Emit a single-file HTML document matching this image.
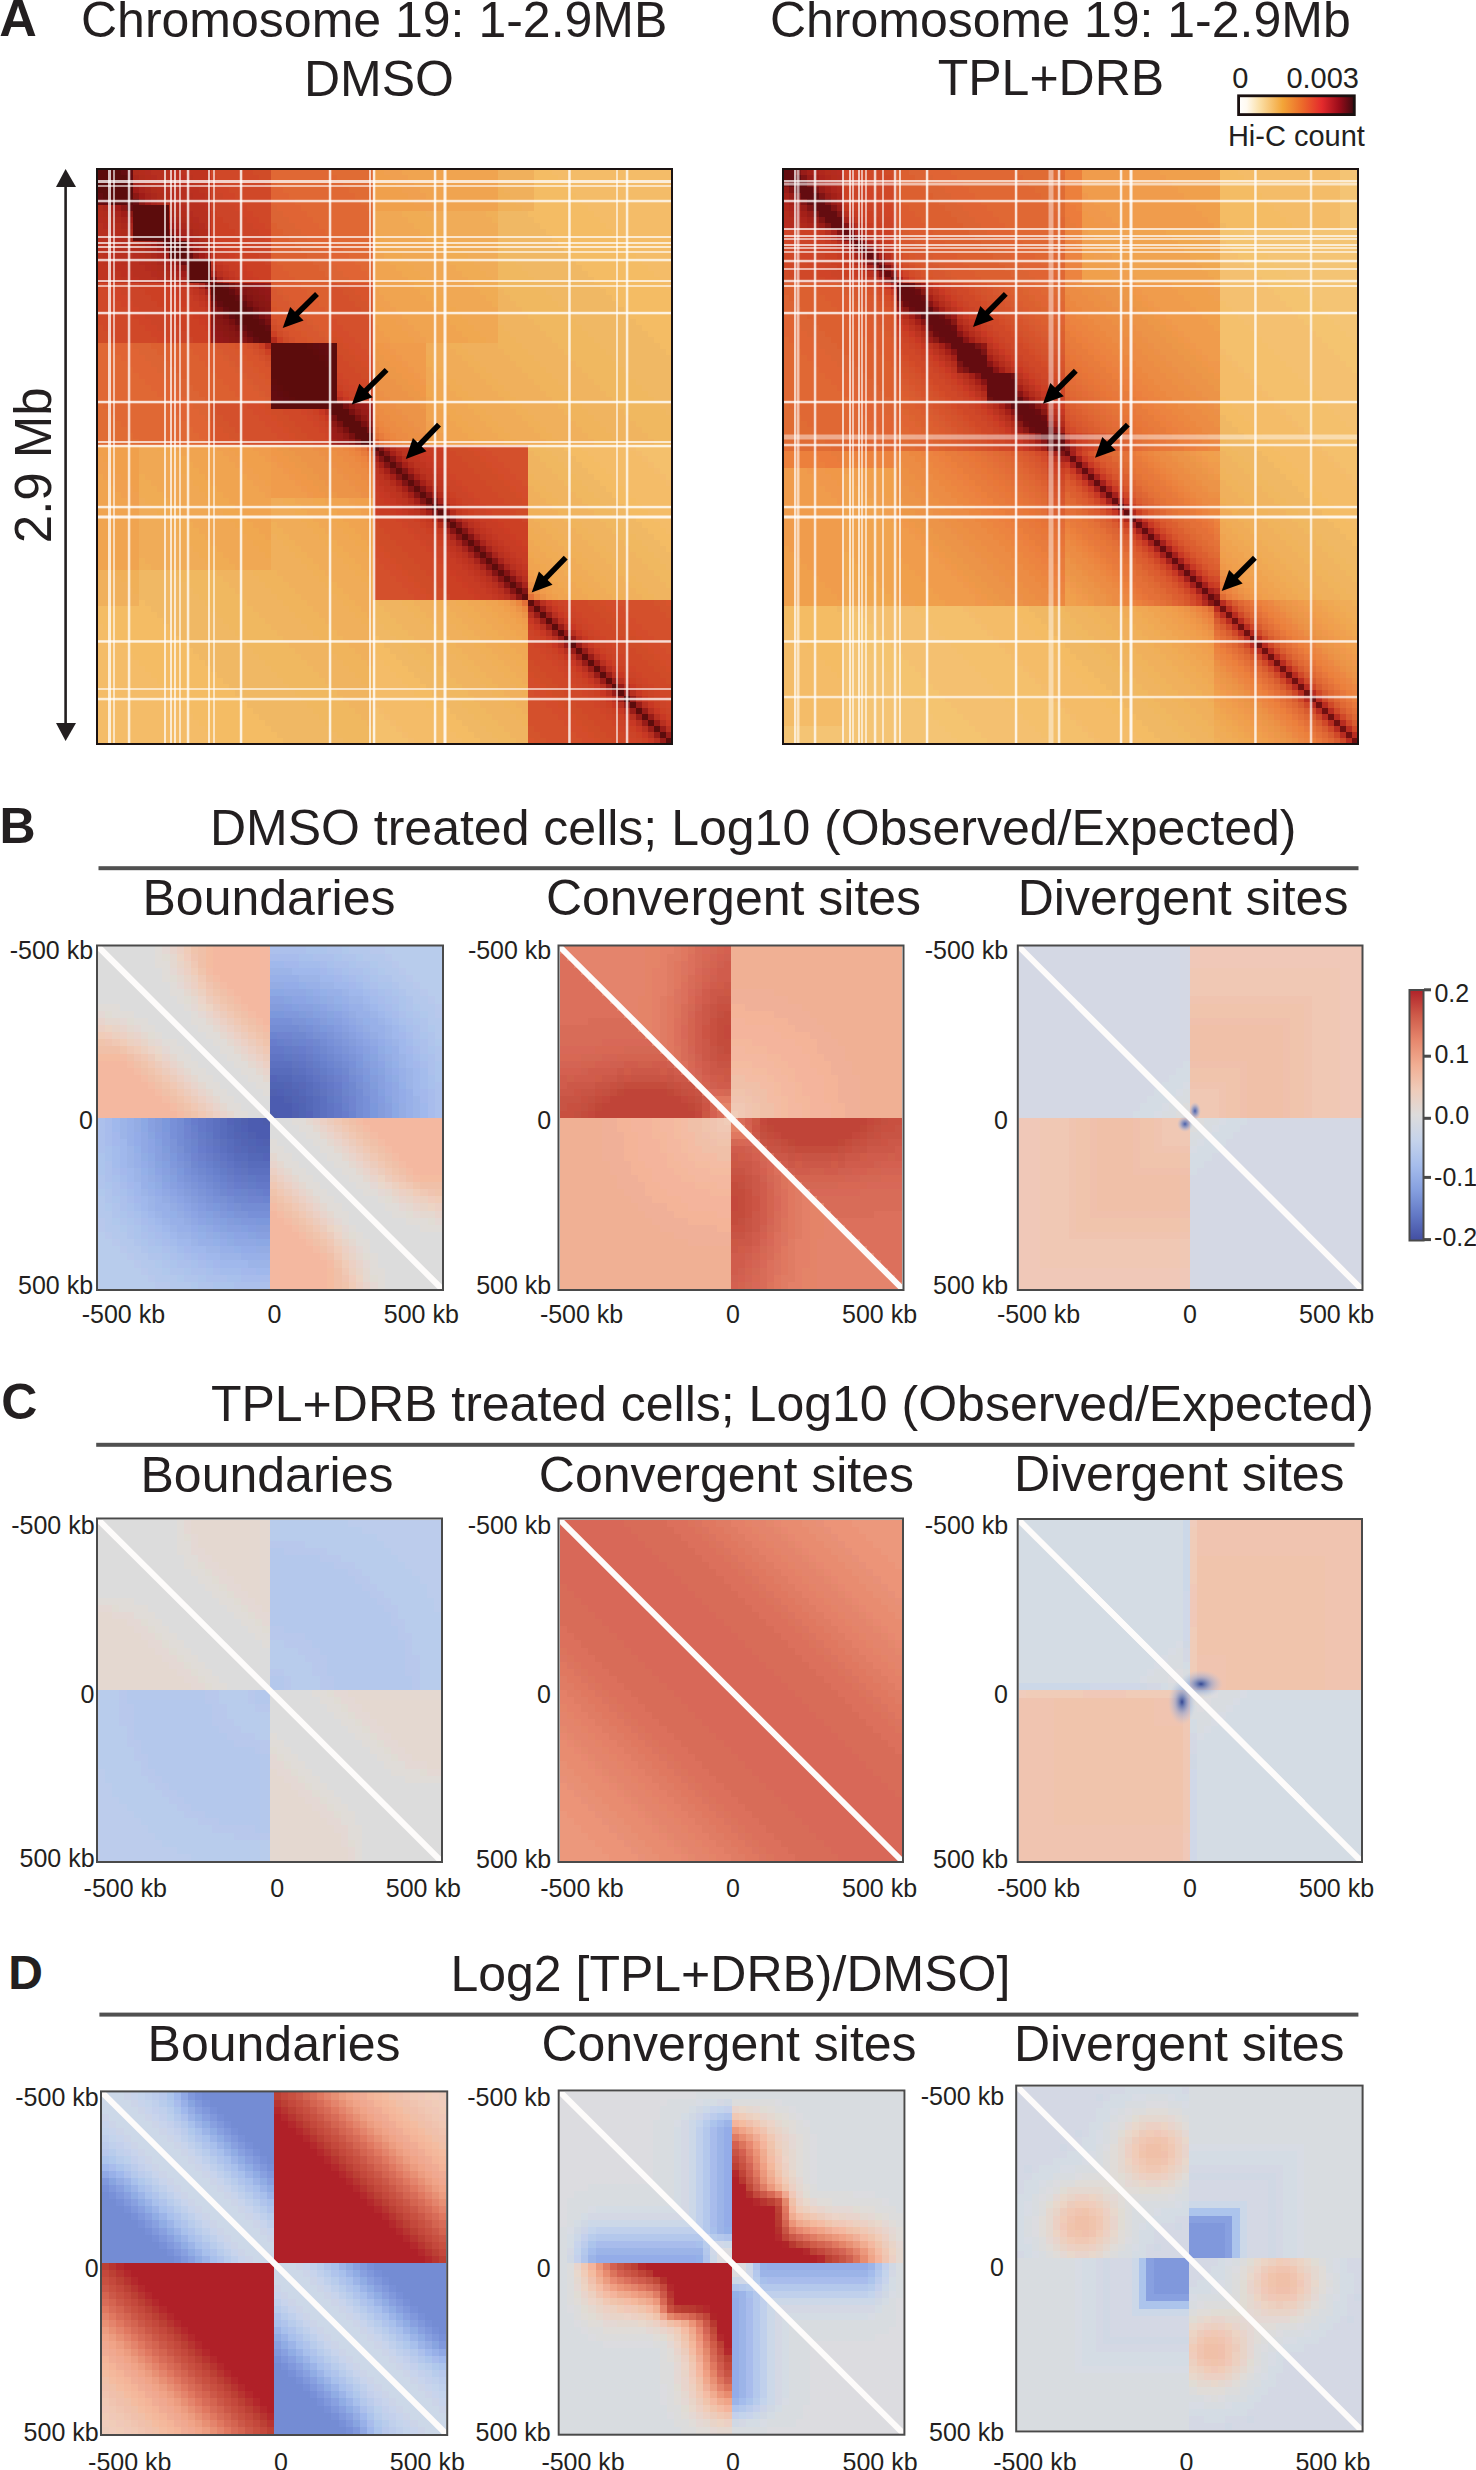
<!DOCTYPE html>
<html><head><meta charset="utf-8"><style>
html,body{margin:0;padding:0;background:#fff;}
svg{display:block;}
text{font-family:"Liberation Sans",sans-serif;}
</style></head><body>
<svg width="1476" height="2470" viewBox="0 0 1476 2470">
<rect width="1476" height="2470" fill="#fff"/>
<text x="-0.8" y="36.3" font-size="52" font-weight="bold" fill="#231f20">A</text>
<text x="81.0" y="36.5" font-size="50" fill="#231f20">Chromosome 19: 1-2.9MB</text>
<text x="303.9" y="95.6" font-size="50" fill="#231f20">DMSO</text>
<text x="769.9" y="37.0" font-size="50" fill="#231f20">Chromosome 19: 1-2.9Mb</text>
<text x="937.7" y="95.2" font-size="50" fill="#231f20">TPL+DRB</text>
<text x="1232.3" y="88.0" font-size="29" fill="#231f20">0</text>
<text x="1286.4" y="88.0" font-size="29" fill="#231f20">0.003</text>
<text x="1227.9" y="146.2" font-size="29" fill="#231f20">Hi-C count</text>
<defs><linearGradient id="hic" x1="0" x2="1" y1="0" y2="0">
<stop offset="0" stop-color="#ffffff"/><stop offset="0.07" stop-color="#fffaf0"/>
<stop offset="0.18" stop-color="#fbe0a8"/><stop offset="0.38" stop-color="#f3a538"/>
<stop offset="0.55" stop-color="#ec6a2a"/><stop offset="0.72" stop-color="#e42a2c"/>
<stop offset="0.87" stop-color="#9a0c1a"/><stop offset="1" stop-color="#3a0a10"/>
</linearGradient></defs>
<rect x="1238.6" y="95.8" width="115.7" height="18.8" fill="url(#hic)" stroke="#1a1010" stroke-width="2.8"/>
<line x1="65.6" y1="180" x2="65.6" y2="730" stroke="#231f20" stroke-width="2.6"/>
<path d="M65.6 169 L56 187 L76 187 Z" fill="#231f20"/>
<path d="M65.6 741 L56 723 L76 723 Z" fill="#231f20"/>
<text x="0" y="0" font-size="51" fill="#231f20" transform="translate(32.3,465.0) rotate(-90) translate(-78.2,18.2)">2.9 Mb</text>
<text x="-0.5" y="842.7" font-size="50" font-weight="bold" fill="#231f20">B</text>
<text x="209.9" y="845.0" font-size="50" fill="#231f20">DMSO treated cells; Log10 (Observed/Expected)</text>
<rect x="98.5" y="866.2" width="1260" height="4" fill="#505050"/>
<text x="142.5" y="915.4" font-size="50" fill="#231f20">Boundaries</text>
<text x="545.9" y="915.0" font-size="50" fill="#231f20">Convergent sites</text>
<text x="1017.7" y="914.6" font-size="50" fill="#231f20">Divergent sites</text>
<text x="1.3" y="1418.5" font-size="50" font-weight="bold" fill="#231f20">C</text>
<text x="210.9" y="1421.3" font-size="50" fill="#231f20">TPL+DRB treated cells; Log10 (Observed/Expected)</text>
<rect x="96.2" y="1442.8" width="1258.3" height="4" fill="#505050"/>
<text x="140.5" y="1491.7" font-size="50" fill="#231f20">Boundaries</text>
<text x="538.8" y="1491.8" font-size="50" fill="#231f20">Convergent sites</text>
<text x="1013.9" y="1490.6" font-size="50" fill="#231f20">Divergent sites</text>
<text x="8.2" y="1988.5" font-size="48" font-weight="bold" fill="#231f20">D</text>
<text x="450.4" y="1991.3" font-size="50" fill="#231f20">Log2 [TPL+DRB)/DMSO]</text>
<rect x="99.4" y="2012.6" width="1259" height="4" fill="#505050"/>
<text x="147.6" y="2060.8" font-size="50" fill="#231f20">Boundaries</text>
<text x="541.4" y="2060.8" font-size="50" fill="#231f20">Convergent sites</text>
<text x="1013.9" y="2060.8" font-size="50" fill="#231f20">Divergent sites</text>
<g shape-rendering="crispEdges"><path fill="#dcdcdc" d="M98 946h57v8h-57zM98 954h57v7h-57zM98 961h57v7h-57zM98 968h64v7h-64zM98 975h64v7h-64zM98 982h72v7h-72zM98 989h72v7h-72zM98 996h79v8h-79zM120 1004h64v7h-64zM134 1011h57v7h-57zM148 1018h43v7h-43zM155 1025h43v7h-43zM162 1032h44v7h-44zM177 1039h36v7h-36zM184 1046h36v8h-36zM191 1054h36v7h-36zM198 1061h36v7h-36zM206 1068h35v7h-35zM213 1075h35v7h-35zM220 1082h36v7h-36zM227 1089h36v7h-36zM234 1096h36v7h-36zM241 1103h29v8h-29zM248 1111h22v7h-22zM270 1118h22v7h-22zM270 1125h29v7h-29zM270 1132h36v7h-36zM277 1139h36v7h-36zM284 1146h36v7h-36zM292 1153h35v8h-35zM299 1161h35v7h-35zM306 1168h36v7h-36zM313 1175h36v7h-36zM320 1182h36v7h-36zM327 1189h36v7h-36zM334 1196h44v7h-44zM342 1203h43v8h-43zM349 1211h43v7h-43zM349 1218h57v7h-57zM356 1225h64v7h-64zM363 1232h79v7h-79zM370 1239h72v7h-72zM370 1246h72v7h-72zM378 1253h64v7h-64zM378 1260h64v8h-64zM385 1268h57v7h-57zM385 1275h57v7h-57zM385 1282h57v7h-57z"/><path fill="#e0dcd8" d="M155 946h7v8h-7zM155 954h7v7h-7zM155 961h15v7h-15zM162 968h8v7h-8zM162 975h8v7h-8zM170 982h7v7h-7zM170 989h14v7h-14zM177 996h7v8h-7zM98 1004h22v7h-22zM184 1004h7v7h-7zM112 1011h22v7h-22zM191 1011h7v7h-7zM134 1018h14v7h-14zM191 1018h15v7h-15zM141 1025h14v7h-14zM198 1025h15v7h-15zM155 1032h7v7h-7zM206 1032h14v7h-14zM162 1039h15v7h-15zM213 1039h14v7h-14zM170 1046h14v8h-14zM220 1046h14v8h-14zM177 1054h14v7h-14zM227 1054h14v7h-14zM184 1061h14v7h-14zM234 1061h14v7h-14zM191 1068h15v7h-15zM241 1068h15v7h-15zM198 1075h15v7h-15zM248 1075h15v7h-15zM206 1082h14v7h-14zM256 1082h14v7h-14zM213 1089h14v7h-14zM263 1089h7v7h-7zM220 1096h14v7h-14zM227 1103h14v8h-14zM234 1111h14v7h-14zM292 1118h14v7h-14zM299 1125h14v7h-14zM306 1132h14v7h-14zM270 1139h7v7h-7zM313 1139h14v7h-14zM270 1146h14v7h-14zM320 1146h14v7h-14zM277 1153h15v8h-15zM327 1153h15v8h-15zM284 1161h15v7h-15zM334 1161h15v7h-15zM292 1168h14v7h-14zM342 1168h14v7h-14zM299 1175h14v7h-14zM349 1175h14v7h-14zM306 1182h14v7h-14zM356 1182h14v7h-14zM313 1189h14v7h-14zM363 1189h15v7h-15zM320 1196h14v7h-14zM378 1196h7v7h-7zM327 1203h15v8h-15zM385 1203h14v8h-14zM334 1211h15v7h-15zM392 1211h14v7h-14zM342 1218h7v7h-7zM406 1218h22v7h-22zM349 1225h7v7h-7zM420 1225h22v7h-22zM356 1232h7v7h-7zM356 1239h14v7h-14zM363 1246h7v7h-7zM370 1253h8v7h-8zM370 1260h8v8h-8zM370 1268h15v7h-15zM378 1275h7v7h-7zM378 1282h7v7h-7z"/><path fill="#e4d8d4" d="M162 946h8v8h-8zM170 968h7v7h-7zM177 982h7v7h-7zM191 1004h7v7h-7zM98 1011h7v7h-7zM198 1011h8v7h-8zM120 1018h7v7h-7zM134 1025h7v7h-7zM155 1039h7v7h-7zM162 1046h8v8h-8zM370 1182h8v7h-8zM378 1189h7v7h-7zM399 1203h7v8h-7zM413 1211h7v7h-7zM334 1218h8v7h-8zM435 1218h7v7h-7zM342 1225h7v7h-7zM356 1246h7v7h-7zM363 1260h7v8h-7zM370 1282h8v7h-8z"/><path fill="#e8d4cc" d="M170 946h7v8h-7zM177 968h7v7h-7zM184 982h7v7h-7zM206 1011h7v7h-7zM98 1018h7v7h-7zM213 1018h7v7h-7zM120 1025h7v7h-7zM220 1025h7v7h-7zM134 1032h7v7h-7zM227 1032h7v7h-7zM234 1039h7v7h-7zM241 1046h7v8h-7zM162 1054h8v7h-8zM248 1054h8v7h-8zM170 1061h7v7h-7zM256 1061h7v7h-7zM177 1068h7v7h-7zM263 1068h7v7h-7zM184 1075h7v7h-7zM191 1082h7v7h-7zM198 1089h8v7h-8zM206 1096h7v7h-7zM213 1103h7v8h-7zM220 1111h7v7h-7zM313 1118h7v7h-7zM320 1125h7v7h-7zM327 1132h7v7h-7zM334 1139h8v7h-8zM342 1146h7v7h-7zM349 1153h7v8h-7zM270 1161h7v7h-7zM356 1161h7v7h-7zM277 1168h7v7h-7zM363 1168h7v7h-7zM284 1175h8v7h-8zM370 1175h8v7h-8zM292 1182h7v7h-7zM299 1189h7v7h-7zM306 1196h7v7h-7zM399 1196h7v7h-7zM313 1203h7v8h-7zM413 1203h7v8h-7zM320 1211h7v7h-7zM435 1211h7v7h-7zM327 1218h7v7h-7zM349 1246h7v7h-7zM356 1260h7v8h-7zM363 1282h7v7h-7z"/><path fill="#ecd0c4" d="M177 946h7v8h-7zM184 968h7v7h-7zM191 982h7v7h-7zM213 1011h7v7h-7zM220 1018h7v7h-7zM98 1025h7v7h-7zM227 1025h7v7h-7zM120 1032h7v7h-7zM234 1032h7v7h-7zM134 1039h7v7h-7zM241 1039h7v7h-7zM248 1046h8v8h-8zM256 1054h7v7h-7zM162 1061h8v7h-8zM263 1061h7v7h-7zM170 1068h7v7h-7zM177 1075h7v7h-7zM184 1082h7v7h-7zM191 1089h7v7h-7zM198 1096h8v7h-8zM206 1103h7v8h-7zM213 1111h7v7h-7zM320 1118h7v7h-7zM327 1125h7v7h-7zM334 1132h8v7h-8zM342 1139h7v7h-7zM349 1146h7v7h-7zM356 1153h7v8h-7zM363 1161h7v7h-7zM270 1168h7v7h-7zM370 1168h8v7h-8zM277 1175h7v7h-7zM284 1182h8v7h-8zM292 1189h7v7h-7zM399 1189h7v7h-7zM299 1196h7v7h-7zM413 1196h7v7h-7zM306 1203h7v8h-7zM435 1203h7v8h-7zM313 1211h7v7h-7zM320 1218h7v7h-7zM342 1246h7v7h-7zM349 1260h7v8h-7zM356 1282h7v7h-7z"/><path fill="#f0ccb8" d="M184 946h7v8h-7zM191 968h7v7h-7zM198 982h8v7h-8zM98 1032h7v7h-7zM120 1039h7v7h-7zM134 1046h7v8h-7zM399 1182h7v7h-7zM413 1189h7v7h-7zM435 1196h7v7h-7zM334 1246h8v7h-8zM342 1260h7v8h-7zM349 1282h7v7h-7z"/><path fill="#f0c4ac" d="M191 946h7v8h-7zM198 968h8v7h-8zM213 989h7v7h-7zM220 996h7v8h-7zM227 1004h7v7h-7zM234 1011h7v7h-7zM241 1018h7v7h-7zM248 1025h8v7h-8zM256 1032h7v7h-7zM98 1039h7v7h-7zM263 1039h7v7h-7zM120 1046h7v8h-7zM141 1061h7v7h-7zM148 1068h7v7h-7zM155 1075h7v7h-7zM162 1082h8v7h-8zM170 1089h7v7h-7zM177 1096h7v7h-7zM184 1103h7v8h-7zM191 1111h7v7h-7zM342 1118h7v7h-7zM349 1125h7v7h-7zM356 1132h7v7h-7zM363 1139h7v7h-7zM370 1146h8v7h-8zM378 1153h7v8h-7zM385 1161h7v7h-7zM392 1168h7v7h-7zM413 1182h7v7h-7zM270 1189h7v7h-7zM435 1189h7v7h-7zM277 1196h7v7h-7zM284 1203h8v8h-8zM292 1211h7v7h-7zM299 1218h7v7h-7zM306 1225h7v7h-7zM313 1232h7v7h-7zM320 1239h7v7h-7zM334 1260h8v8h-8zM342 1282h7v7h-7z"/><path fill="#f0c0a8" d="M198 946h8v8h-8zM198 954h8v7h-8zM198 961h8v7h-8zM206 975h7v7h-7zM213 982h7v7h-7zM220 989h7v7h-7zM227 996h7v8h-7zM234 1004h7v7h-7zM241 1011h7v7h-7zM248 1018h8v7h-8zM256 1025h7v7h-7zM263 1032h7v7h-7zM98 1046h22v8h-22zM127 1054h7v7h-7zM134 1061h7v7h-7zM141 1068h7v7h-7zM148 1075h7v7h-7zM155 1082h7v7h-7zM162 1089h8v7h-8zM170 1096h7v7h-7zM177 1103h7v8h-7zM184 1111h7v7h-7zM349 1118h7v7h-7zM356 1125h7v7h-7zM363 1132h7v7h-7zM370 1139h8v7h-8zM378 1146h7v7h-7zM385 1153h7v8h-7zM392 1161h7v7h-7zM399 1168h7v7h-7zM406 1175h7v7h-7zM420 1182h22v7h-22zM270 1196h7v7h-7zM277 1203h7v8h-7zM284 1211h8v7h-8zM292 1218h7v7h-7zM299 1225h7v7h-7zM306 1232h7v7h-7zM313 1239h7v7h-7zM320 1246h7v7h-7zM327 1253h7v7h-7zM334 1268h8v7h-8zM334 1275h8v7h-8zM334 1282h8v7h-8z"/><path fill="#f4bca0" d="M206 946h7v8h-7zM206 954h7v7h-7zM206 961h7v7h-7zM98 1054h22v7h-22zM420 1175h22v7h-22zM327 1268h7v7h-7zM327 1275h7v7h-7zM327 1282h7v7h-7z"/><path fill="#f4b8a0" d="M213 946h57v8h-57zM213 954h57v7h-57zM213 961h57v7h-57zM213 968h57v7h-57zM220 975h50v7h-50zM227 982h43v7h-43zM234 989h36v7h-36zM241 996h29v8h-29zM248 1004h22v7h-22zM256 1011h14v7h-14zM263 1018h7v7h-7zM98 1061h29v7h-29zM98 1068h36v7h-36zM98 1075h43v7h-43zM98 1082h50v7h-50zM98 1089h57v7h-57zM98 1096h64v7h-64zM98 1103h72v8h-72zM98 1111h79v7h-79zM363 1118h79v7h-79zM370 1125h72v7h-72zM378 1132h64v7h-64zM385 1139h57v7h-57zM392 1146h50v7h-50zM399 1153h43v8h-43zM406 1161h36v7h-36zM413 1168h29v7h-29zM270 1211h7v7h-7zM270 1218h14v7h-14zM270 1225h22v7h-22zM270 1232h29v7h-29zM270 1239h36v7h-36zM270 1246h43v7h-43zM270 1253h50v7h-50zM270 1260h57v8h-57zM270 1268h57v7h-57zM270 1275h57v7h-57zM270 1282h57v7h-57z"/><path fill="#acc0ec" d="M270 946h36v8h-36zM313 954h21v7h-21zM334 961h15v7h-15zM349 968h14v7h-14zM363 975h7v7h-7zM370 982h8v7h-8zM385 989h7v7h-7zM392 996h7v8h-7zM399 1011h7v7h-7zM406 1018h7v7h-7zM413 1025h7v7h-7zM413 1032h7v7h-7zM420 1039h8v7h-8zM420 1046h8v8h-8zM428 1054h7v7h-7zM428 1061h7v7h-7zM428 1068h7v7h-7zM435 1082h7v7h-7zM435 1089h7v7h-7zM435 1096h7v7h-7zM435 1103h7v8h-7zM435 1111h7v7h-7zM98 1118h7v7h-7zM98 1125h7v7h-7zM98 1132h7v7h-7zM98 1139h7v7h-7zM98 1146h7v7h-7zM105 1161h7v7h-7zM105 1168h7v7h-7zM105 1175h7v7h-7zM112 1182h8v7h-8zM112 1189h8v7h-8zM120 1196h7v7h-7zM120 1203h7v8h-7zM127 1211h7v7h-7zM134 1218h7v7h-7zM141 1232h7v7h-7zM148 1239h7v7h-7zM162 1246h8v7h-8zM170 1253h7v7h-7zM177 1260h14v8h-14zM191 1268h15v7h-15zM206 1275h21v7h-21zM234 1282h36v7h-36z"/><path fill="#acc4ec" d="M306 946h21v8h-21zM334 954h8v7h-8zM349 961h7v7h-7zM363 968h7v7h-7zM370 975h8v7h-8zM378 982h14v7h-14zM392 989h7v7h-7zM399 996h7v8h-7zM399 1004h7v7h-7zM406 1011h7v7h-7zM413 1018h7v7h-7zM420 1032h8v7h-8zM428 1046h7v8h-7zM435 1061h7v7h-7zM435 1068h7v7h-7zM435 1075h7v7h-7zM98 1153h7v8h-7zM98 1161h7v7h-7zM98 1168h7v7h-7zM105 1182h7v7h-7zM112 1196h8v7h-8zM120 1211h7v7h-7zM127 1218h7v7h-7zM134 1225h7v7h-7zM134 1232h7v7h-7zM141 1239h7v7h-7zM148 1246h14v7h-14zM162 1253h8v7h-8zM170 1260h7v8h-7zM184 1268h7v7h-7zM198 1275h8v7h-8zM213 1282h21v7h-21z"/><path fill="#b0c4ec" d="M327 946h15v8h-15zM342 954h14v7h-14zM356 961h14v7h-14zM370 968h8v7h-8zM378 975h14v7h-14zM392 982h7v7h-7zM399 989h7v7h-7zM406 996h7v8h-7zM406 1004h7v7h-7zM413 1011h7v7h-7zM420 1018h8v7h-8zM420 1025h8v7h-8zM428 1032h7v7h-7zM428 1039h7v7h-7zM435 1046h7v8h-7zM435 1054h7v7h-7zM98 1175h7v7h-7zM98 1182h7v7h-7zM105 1189h7v7h-7zM105 1196h7v7h-7zM112 1203h8v8h-8zM112 1211h8v7h-8zM120 1218h7v7h-7zM127 1225h7v7h-7zM127 1232h7v7h-7zM134 1239h7v7h-7zM141 1246h7v7h-7zM148 1253h14v7h-14zM162 1260h8v8h-8zM170 1268h14v7h-14zM184 1275h14v7h-14zM198 1282h15v7h-15z"/><path fill="#b0c8ec" d="M342 946h7v8h-7zM356 954h7v7h-7zM370 961h8v7h-8zM378 968h7v7h-7zM413 1004h7v7h-7zM420 1011h8v7h-8zM428 1025h7v7h-7zM435 1039h7v7h-7zM98 1189h7v7h-7zM105 1203h7v8h-7zM112 1218h8v7h-8zM120 1225h7v7h-7zM155 1260h7v8h-7zM162 1268h8v7h-8zM177 1275h7v7h-7zM191 1282h7v7h-7z"/><path fill="#b4c8ec" d="M349 946h21v8h-21zM363 954h22v7h-22zM378 961h14v7h-14zM385 968h14v7h-14zM392 975h14v7h-14zM399 982h14v7h-14zM406 989h14v7h-14zM413 996h15v8h-15zM420 1004h15v7h-15zM428 1011h7v7h-7zM428 1018h14v7h-14zM435 1025h7v7h-7zM435 1032h7v7h-7zM98 1196h7v7h-7zM98 1203h7v8h-7zM98 1211h14v7h-14zM105 1218h7v7h-7zM105 1225h15v7h-15zM112 1232h15v7h-15zM120 1239h14v7h-14zM127 1246h14v7h-14zM134 1253h14v7h-14zM141 1260h14v8h-14zM148 1268h14v7h-14zM155 1275h22v7h-22zM170 1282h21v7h-21z"/><path fill="#b8c8ec" d="M370 946h15v8h-15zM385 954h7v7h-7zM392 961h7v7h-7zM399 968h7v7h-7zM406 975h7v7h-7zM413 982h7v7h-7zM420 989h8v7h-8zM428 996h7v8h-7zM435 1004h7v7h-7zM435 1011h7v7h-7zM98 1218h7v7h-7zM98 1225h7v7h-7zM105 1232h7v7h-7zM112 1239h8v7h-8zM120 1246h7v7h-7zM127 1253h7v7h-7zM134 1260h7v8h-7zM141 1268h7v7h-7zM148 1275h7v7h-7zM155 1282h15v7h-15z"/><path fill="#b8ccec" d="M385 946h57v8h-57zM392 954h50v7h-50zM399 961h43v7h-43zM406 968h36v7h-36zM413 975h29v7h-29zM420 982h22v7h-22zM428 989h14v7h-14zM435 996h7v8h-7zM98 1232h7v7h-7zM98 1239h14v7h-14zM98 1246h22v7h-22zM98 1253h29v7h-29zM98 1260h36v8h-36zM98 1268h43v7h-43zM98 1275h50v7h-50zM98 1282h57v7h-57z"/><path fill="#e0dcd4" d="M162 954h8v7h-8zM170 975h7v7h-7zM184 996h7v8h-7zM105 1011h7v7h-7zM127 1018h7v7h-7zM148 1032h7v7h-7zM385 1196h7v7h-7zM406 1211h7v7h-7zM428 1218h7v7h-7zM349 1232h7v7h-7zM363 1253h7v7h-7zM370 1275h8v7h-8z"/><path fill="#e4d8d0" d="M170 954h7v7h-7zM170 961h7v7h-7zM177 975h7v7h-7zM184 989h7v7h-7zM191 996h7v8h-7zM105 1018h15v7h-15zM206 1018h7v7h-7zM127 1025h7v7h-7zM213 1025h7v7h-7zM141 1032h7v7h-7zM220 1032h7v7h-7zM148 1039h7v7h-7zM227 1039h7v7h-7zM234 1046h7v8h-7zM170 1054h7v7h-7zM241 1054h7v7h-7zM177 1061h7v7h-7zM248 1061h8v7h-8zM184 1068h7v7h-7zM256 1068h7v7h-7zM191 1075h7v7h-7zM263 1075h7v7h-7zM198 1082h8v7h-8zM206 1089h7v7h-7zM213 1096h7v7h-7zM220 1103h7v8h-7zM227 1111h7v7h-7zM306 1118h7v7h-7zM313 1125h7v7h-7zM320 1132h7v7h-7zM327 1139h7v7h-7zM334 1146h8v7h-8zM270 1153h7v8h-7zM342 1153h7v8h-7zM277 1161h7v7h-7zM349 1161h7v7h-7zM284 1168h8v7h-8zM356 1168h7v7h-7zM292 1175h7v7h-7zM363 1175h7v7h-7zM299 1182h7v7h-7zM306 1189h7v7h-7zM385 1189h7v7h-7zM313 1196h7v7h-7zM392 1196h7v7h-7zM320 1203h7v8h-7zM406 1203h7v8h-7zM327 1211h7v7h-7zM420 1211h15v7h-15zM342 1232h7v7h-7zM349 1239h7v7h-7zM356 1253h7v7h-7zM363 1268h7v7h-7zM363 1275h7v7h-7z"/><path fill="#ecd4c4" d="M177 954h7v7h-7zM206 1004h7v7h-7zM105 1025h7v7h-7zM155 1054h7v7h-7zM378 1175h7v7h-7zM428 1203h7v8h-7zM327 1225h7v7h-7zM356 1275h7v7h-7z"/><path fill="#f0ccbc" d="M184 954h7v7h-7zM105 1032h7v7h-7zM428 1196h7v7h-7zM349 1275h7v7h-7z"/><path fill="#f0c4b0" d="M191 954h7v7h-7zM206 982h7v7h-7zM105 1039h7v7h-7zM134 1054h7v7h-7zM399 1175h7v7h-7zM428 1189h7v7h-7zM327 1246h7v7h-7zM342 1275h7v7h-7z"/><path fill="#a8bcec" d="M270 954h29v7h-29zM320 961h7v7h-7zM334 968h8v7h-8zM349 975h7v7h-7zM370 989h8v7h-8zM378 996h7v8h-7zM385 1004h7v7h-7zM392 1011h7v7h-7zM406 1032h7v7h-7zM413 1046h7v8h-7zM420 1061h8v7h-8zM428 1089h7v7h-7zM428 1096h7v7h-7zM428 1103h7v8h-7zM428 1111h7v7h-7zM105 1118h7v7h-7zM105 1125h7v7h-7zM105 1132h7v7h-7zM105 1139h7v7h-7zM112 1168h8v7h-8zM120 1182h7v7h-7zM127 1196h7v7h-7zM141 1218h7v7h-7zM148 1225h7v7h-7zM155 1232h7v7h-7zM162 1239h8v7h-8zM184 1253h7v7h-7zM198 1260h8v8h-8zM213 1268h7v7h-7zM241 1275h29v7h-29z"/><path fill="#a8c0ec" d="M299 954h14v7h-14zM327 961h7v7h-7zM342 968h7v7h-7zM356 975h7v7h-7zM363 982h7v7h-7zM378 989h7v7h-7zM385 996h7v8h-7zM392 1004h7v7h-7zM399 1018h7v7h-7zM406 1025h7v7h-7zM413 1039h7v7h-7zM420 1054h8v7h-8zM428 1075h7v7h-7zM428 1082h7v7h-7zM105 1146h7v7h-7zM105 1153h7v8h-7zM112 1175h8v7h-8zM120 1189h7v7h-7zM127 1203h7v8h-7zM134 1211h7v7h-7zM141 1225h7v7h-7zM148 1232h7v7h-7zM155 1239h7v7h-7zM170 1246h7v7h-7zM177 1253h7v7h-7zM191 1260h7v8h-7zM206 1268h7v7h-7zM227 1275h14v7h-14z"/><path fill="#e8d4c8" d="M177 961h7v7h-7zM184 975h7v7h-7zM191 989h7v7h-7zM112 1025h8v7h-8zM127 1032h7v7h-7zM141 1039h7v7h-7zM392 1189h7v7h-7zM406 1196h7v7h-7zM420 1203h8v8h-8zM342 1239h7v7h-7zM349 1253h7v7h-7zM356 1268h7v7h-7z"/><path fill="#ecd0c0" d="M184 961h7v7h-7zM191 975h7v7h-7zM198 989h8v7h-8zM112 1032h8v7h-8zM127 1039h7v7h-7zM141 1046h7v8h-7zM392 1182h7v7h-7zM406 1189h7v7h-7zM420 1196h8v7h-8zM334 1239h8v7h-8zM342 1253h7v7h-7zM349 1268h7v7h-7z"/><path fill="#f0c8b4" d="M191 961h7v7h-7zM198 975h8v7h-8zM206 989h7v7h-7zM213 996h7v8h-7zM220 1004h7v7h-7zM227 1011h7v7h-7zM234 1018h7v7h-7zM241 1025h7v7h-7zM248 1032h8v7h-8zM112 1039h8v7h-8zM256 1039h7v7h-7zM127 1046h7v8h-7zM263 1046h7v8h-7zM141 1054h7v7h-7zM148 1061h7v7h-7zM155 1068h7v7h-7zM162 1075h8v7h-8zM170 1082h7v7h-7zM177 1089h7v7h-7zM184 1096h7v7h-7zM191 1103h7v8h-7zM198 1111h8v7h-8zM334 1118h8v7h-8zM342 1125h7v7h-7zM349 1132h7v7h-7zM356 1139h7v7h-7zM363 1146h7v7h-7zM370 1153h8v8h-8zM378 1161h7v7h-7zM385 1168h7v7h-7zM392 1175h7v7h-7zM270 1182h7v7h-7zM406 1182h7v7h-7zM277 1189h7v7h-7zM420 1189h8v7h-8zM284 1196h8v7h-8zM292 1203h7v8h-7zM299 1211h7v7h-7zM306 1218h7v7h-7zM313 1225h7v7h-7zM320 1232h7v7h-7zM327 1239h7v7h-7zM334 1253h8v7h-8zM342 1268h7v7h-7z"/><path fill="#a0b8ec" d="M270 961h14v7h-14zM292 968h28v7h-28zM320 975h14v7h-14zM334 982h15v7h-15zM349 989h14v7h-14zM363 996h7v8h-7zM370 1004h8v7h-8zM378 1011h7v7h-7zM385 1018h7v7h-7zM392 1025h7v7h-7zM392 1032h7v7h-7zM399 1039h7v7h-7zM399 1046h7v8h-7zM406 1054h7v7h-7zM406 1061h7v7h-7zM413 1068h7v7h-7zM413 1075h7v7h-7zM413 1082h7v7h-7zM413 1089h7v7h-7zM420 1103h8v8h-8zM420 1111h8v7h-8zM112 1118h8v7h-8zM112 1125h8v7h-8zM120 1139h7v7h-7zM120 1146h7v7h-7zM120 1153h7v8h-7zM120 1161h7v7h-7zM127 1168h7v7h-7zM127 1175h7v7h-7zM134 1182h7v7h-7zM134 1189h7v7h-7zM141 1196h7v7h-7zM141 1203h7v8h-7zM148 1211h7v7h-7zM155 1218h7v7h-7zM162 1225h8v7h-8zM170 1232h7v7h-7zM177 1239h14v7h-14zM191 1246h15v7h-15zM206 1253h14v7h-14zM220 1260h28v8h-28zM256 1268h14v7h-14z"/><path fill="#a4b8ec" d="M284 961h15v7h-15zM320 968h7v7h-7zM334 975h8v7h-8zM349 982h7v7h-7zM399 1032h7v7h-7zM406 1046h7v8h-7zM413 1061h7v7h-7zM420 1089h8v7h-8zM420 1096h8v7h-8zM112 1132h8v7h-8zM112 1139h8v7h-8zM120 1168h7v7h-7zM127 1182h7v7h-7zM134 1196h7v7h-7zM184 1246h7v7h-7zM198 1253h8v7h-8zM213 1260h7v8h-7zM241 1268h15v7h-15z"/><path fill="#a4bcec" d="M299 961h21v7h-21zM327 968h7v7h-7zM342 975h7v7h-7zM356 982h7v7h-7zM363 989h7v7h-7zM370 996h8v8h-8zM378 1004h7v7h-7zM385 1011h7v7h-7zM392 1018h7v7h-7zM399 1025h7v7h-7zM406 1039h7v7h-7zM413 1054h7v7h-7zM420 1068h8v7h-8zM420 1075h8v7h-8zM420 1082h8v7h-8zM112 1146h8v7h-8zM112 1153h8v8h-8zM112 1161h8v7h-8zM120 1175h7v7h-7zM127 1189h7v7h-7zM134 1203h7v8h-7zM141 1211h7v7h-7zM148 1218h7v7h-7zM155 1225h7v7h-7zM162 1232h8v7h-8zM170 1239h7v7h-7zM177 1246h7v7h-7zM191 1253h7v7h-7zM206 1260h7v8h-7zM220 1268h21v7h-21z"/><path fill="#f4bca4" d="M206 968h7v7h-7zM213 975h7v7h-7zM220 982h7v7h-7zM227 989h7v7h-7zM234 996h7v8h-7zM241 1004h7v7h-7zM248 1011h8v7h-8zM256 1018h7v7h-7zM263 1025h7v7h-7zM120 1054h7v7h-7zM127 1061h7v7h-7zM134 1068h7v7h-7zM141 1075h7v7h-7zM148 1082h7v7h-7zM155 1089h7v7h-7zM162 1096h8v7h-8zM170 1103h7v8h-7zM177 1111h7v7h-7zM356 1118h7v7h-7zM363 1125h7v7h-7zM370 1132h8v7h-8zM378 1139h7v7h-7zM385 1146h7v7h-7zM392 1153h7v8h-7zM399 1161h7v7h-7zM406 1168h7v7h-7zM413 1175h7v7h-7zM270 1203h7v8h-7zM277 1211h7v7h-7zM284 1218h8v7h-8zM292 1225h7v7h-7zM299 1232h7v7h-7zM306 1239h7v7h-7zM313 1246h7v7h-7zM320 1253h7v7h-7zM327 1260h7v8h-7z"/><path fill="#9cb4e8" d="M270 968h22v7h-22zM299 975h21v7h-21zM320 982h14v7h-14zM342 989h7v7h-7zM349 996h14v8h-14zM363 1004h7v7h-7zM370 1011h8v7h-8zM378 1018h7v7h-7zM385 1025h7v7h-7zM385 1032h7v7h-7zM392 1039h7v7h-7zM399 1054h7v7h-7zM399 1061h7v7h-7zM406 1068h7v7h-7zM406 1075h7v7h-7zM406 1082h7v7h-7zM413 1096h7v7h-7zM413 1103h7v8h-7zM413 1111h7v7h-7zM120 1118h7v7h-7zM120 1125h7v7h-7zM120 1132h7v7h-7zM127 1146h7v7h-7zM127 1153h7v8h-7zM127 1161h7v7h-7zM134 1168h7v7h-7zM134 1175h7v7h-7zM141 1189h7v7h-7zM148 1196h7v7h-7zM148 1203h7v8h-7zM155 1211h7v7h-7zM162 1218h8v7h-8zM170 1225h7v7h-7zM177 1232h14v7h-14zM191 1239h7v7h-7zM206 1246h14v7h-14zM220 1253h21v7h-21zM248 1260h22v8h-22z"/><path fill="#98b0e8" d="M270 975h29v7h-29zM306 982h14v7h-14zM327 989h15v7h-15zM342 996h7v8h-7zM349 1004h14v7h-14zM356 1011h14v7h-14zM370 1018h8v7h-8zM370 1025h15v7h-15zM378 1032h7v7h-7zM385 1039h7v7h-7zM392 1046h7v8h-7zM392 1054h7v7h-7zM399 1068h7v7h-7zM399 1075h7v7h-7zM406 1089h7v7h-7zM406 1096h7v7h-7zM406 1103h7v8h-7zM406 1111h7v7h-7zM127 1118h7v7h-7zM127 1125h7v7h-7zM127 1132h7v7h-7zM127 1139h7v7h-7zM134 1153h7v8h-7zM134 1161h7v7h-7zM141 1175h7v7h-7zM141 1182h7v7h-7zM148 1189h7v7h-7zM155 1196h7v7h-7zM155 1203h15v8h-15zM162 1211h8v7h-8zM170 1218h14v7h-14zM177 1225h14v7h-14zM191 1232h7v7h-7zM198 1239h15v7h-15zM220 1246h14v7h-14zM241 1253h29v7h-29z"/><path fill="#94ace4" d="M270 982h14v7h-14zM327 996h7v8h-7zM349 1011h7v7h-7zM356 1018h7v7h-7zM363 1025h7v7h-7zM370 1032h8v7h-8zM385 1054h7v7h-7zM399 1103h7v8h-7zM399 1111h7v7h-7zM134 1118h7v7h-7zM134 1125h7v7h-7zM148 1175h7v7h-7zM162 1196h8v7h-8zM170 1203h7v8h-7zM177 1211h7v7h-7zM184 1218h7v7h-7zM206 1232h7v7h-7zM256 1246h14v7h-14z"/><path fill="#94ace8" d="M284 982h15v7h-15zM313 989h7v7h-7zM342 1004h7v7h-7zM378 1039h7v7h-7zM392 1068h7v7h-7zM399 1089h7v7h-7zM399 1096h7v7h-7zM134 1132h7v7h-7zM134 1139h7v7h-7zM141 1161h7v7h-7zM155 1189h7v7h-7zM191 1225h7v7h-7zM220 1239h7v7h-7zM241 1246h15v7h-15z"/><path fill="#94b0e8" d="M299 982h7v7h-7zM320 989h7v7h-7zM334 996h8v8h-8zM363 1018h7v7h-7zM385 1046h7v8h-7zM392 1061h7v7h-7zM399 1082h7v7h-7zM134 1146h7v7h-7zM141 1168h7v7h-7zM148 1182h7v7h-7zM170 1211h7v7h-7zM198 1232h8v7h-8zM213 1239h7v7h-7zM234 1246h7v7h-7z"/><path fill="#8ca8e4" d="M270 989h14v7h-14zM306 996h7v8h-7zM385 1075h7v7h-7zM392 1103h7v8h-7zM392 1111h7v7h-7zM141 1118h7v7h-7zM141 1125h7v7h-7zM148 1153h7v8h-7zM227 1232h7v7h-7zM256 1239h14v7h-14z"/><path fill="#90a8e4" d="M284 989h22v7h-22zM313 996h7v8h-7zM327 1004h7v7h-7zM342 1011h7v7h-7zM349 1018h7v7h-7zM356 1025h7v7h-7zM363 1032h7v7h-7zM370 1039h8v7h-8zM378 1054h7v7h-7zM385 1068h7v7h-7zM392 1082h7v7h-7zM392 1089h7v7h-7zM392 1096h7v7h-7zM141 1132h7v7h-7zM141 1139h7v7h-7zM141 1146h7v7h-7zM148 1161h7v7h-7zM155 1175h7v7h-7zM162 1189h8v7h-8zM170 1196h7v7h-7zM177 1203h7v8h-7zM184 1211h7v7h-7zM191 1218h7v7h-7zM206 1225h7v7h-7zM220 1232h7v7h-7zM234 1239h22v7h-22z"/><path fill="#90ace4" d="M306 989h7v7h-7zM320 996h7v8h-7zM334 1004h8v7h-8zM378 1046h7v8h-7zM385 1061h7v7h-7zM392 1075h7v7h-7zM141 1153h7v8h-7zM148 1168h7v7h-7zM155 1182h7v7h-7zM198 1225h8v7h-8zM213 1232h7v7h-7zM227 1239h7v7h-7z"/><path fill="#ecd4c8" d="M198 996h8v8h-8zM148 1046h7v8h-7zM385 1182h7v7h-7zM334 1232h8v7h-8z"/><path fill="#ecccbc" d="M206 996h7v8h-7zM213 1004h7v7h-7zM220 1011h7v7h-7zM227 1018h7v7h-7zM234 1025h7v7h-7zM241 1032h7v7h-7zM248 1039h8v7h-8zM256 1046h7v8h-7zM148 1054h7v7h-7zM263 1054h7v7h-7zM155 1061h7v7h-7zM162 1068h8v7h-8zM170 1075h7v7h-7zM177 1082h7v7h-7zM184 1089h7v7h-7zM191 1096h7v7h-7zM198 1103h8v8h-8zM206 1111h7v7h-7zM327 1118h7v7h-7zM334 1125h8v7h-8zM342 1132h7v7h-7zM349 1139h7v7h-7zM356 1146h7v7h-7zM363 1153h7v8h-7zM370 1161h8v7h-8zM378 1168h7v7h-7zM270 1175h7v7h-7zM385 1175h7v7h-7zM277 1182h7v7h-7zM284 1189h8v7h-8zM292 1196h7v7h-7zM299 1203h7v8h-7zM306 1211h7v7h-7zM313 1218h7v7h-7zM320 1225h7v7h-7zM327 1232h7v7h-7z"/><path fill="#88a0e0" d="M270 996h14v8h-14zM299 1004h14v7h-14zM320 1011h7v7h-7zM334 1018h8v7h-8zM342 1025h7v7h-7zM349 1032h7v7h-7zM356 1039h7v7h-7zM363 1046h7v8h-7zM370 1061h8v7h-8zM378 1075h7v7h-7zM378 1082h7v7h-7zM385 1103h7v8h-7zM385 1111h7v7h-7zM148 1118h7v7h-7zM148 1125h7v7h-7zM155 1146h7v7h-7zM155 1153h7v8h-7zM162 1168h8v7h-8zM170 1182h7v7h-7zM177 1189h7v7h-7zM184 1196h7v7h-7zM191 1203h7v8h-7zM198 1211h8v7h-8zM213 1218h7v7h-7zM227 1225h14v7h-14zM256 1232h14v7h-14z"/><path fill="#88a4e0" d="M284 996h8v8h-8zM313 1004h7v7h-7zM327 1011h7v7h-7zM370 1054h8v7h-8zM378 1068h7v7h-7zM385 1096h7v7h-7zM148 1132h7v7h-7zM155 1161h7v7h-7zM162 1175h8v7h-8zM206 1218h7v7h-7zM220 1225h7v7h-7zM248 1232h8v7h-8z"/><path fill="#8ca4e4" d="M292 996h14v8h-14zM320 1004h7v7h-7zM334 1011h8v7h-8zM342 1018h7v7h-7zM349 1025h7v7h-7zM356 1032h7v7h-7zM363 1039h7v7h-7zM370 1046h8v8h-8zM378 1061h7v7h-7zM385 1082h7v7h-7zM385 1089h7v7h-7zM148 1139h7v7h-7zM148 1146h7v7h-7zM155 1168h7v7h-7zM162 1182h8v7h-8zM170 1189h7v7h-7zM177 1196h7v7h-7zM184 1203h7v8h-7zM191 1211h7v7h-7zM198 1218h8v7h-8zM213 1225h7v7h-7zM234 1232h14v7h-14z"/><path fill="#e8d8cc" d="M198 1004h8v7h-8zM155 1046h7v8h-7zM378 1182h7v7h-7zM334 1225h8v7h-8z"/><path fill="#849cdc" d="M270 1004h14v7h-14zM306 1011h7v7h-7zM320 1018h7v7h-7zM342 1032h7v7h-7zM349 1039h7v7h-7zM363 1061h7v7h-7zM370 1075h8v7h-8zM378 1103h7v8h-7zM378 1111h7v7h-7zM155 1118h7v7h-7zM155 1125h7v7h-7zM162 1153h8v8h-8zM170 1168h7v7h-7zM184 1189h7v7h-7zM191 1196h7v7h-7zM213 1211h7v7h-7zM227 1218h7v7h-7zM256 1225h14v7h-14z"/><path fill="#849ce0" d="M284 1004h8v7h-8zM334 1025h8v7h-8zM356 1046h7v8h-7zM378 1096h7v7h-7zM155 1132h7v7h-7zM177 1182h7v7h-7zM198 1203h8v8h-8zM248 1225h8v7h-8z"/><path fill="#84a0e0" d="M292 1004h7v7h-7zM313 1011h7v7h-7zM327 1018h7v7h-7zM363 1054h7v7h-7zM370 1068h8v7h-8zM378 1089h7v7h-7zM155 1139h7v7h-7zM162 1161h8v7h-8zM170 1175h7v7h-7zM206 1211h7v7h-7zM220 1218h7v7h-7zM241 1225h7v7h-7z"/><path fill="#7c98dc" d="M270 1011h14v7h-14zM306 1018h7v7h-7zM320 1025h7v7h-7zM356 1061h7v7h-7zM363 1075h7v7h-7zM370 1103h8v8h-8zM370 1111h8v7h-8zM162 1118h8v7h-8zM162 1125h8v7h-8zM170 1153h7v8h-7zM177 1168h7v7h-7zM213 1203h7v8h-7zM227 1211h7v7h-7zM256 1218h14v7h-14z"/><path fill="#8098dc" d="M284 1011h15v7h-15zM313 1018h7v7h-7zM327 1025h7v7h-7zM334 1032h8v7h-8zM342 1039h7v7h-7zM349 1046h7v8h-7zM356 1054h7v7h-7zM363 1068h7v7h-7zM370 1089h8v7h-8zM370 1096h8v7h-8zM162 1132h8v7h-8zM162 1139h8v7h-8zM170 1161h7v7h-7zM177 1175h7v7h-7zM184 1182h7v7h-7zM191 1189h7v7h-7zM198 1196h8v7h-8zM206 1203h7v8h-7zM220 1211h7v7h-7zM241 1218h15v7h-15z"/><path fill="#809cdc" d="M299 1011h7v7h-7zM370 1082h8v7h-8zM162 1146h8v7h-8zM234 1218h7v7h-7z"/><path fill="#7890d8" d="M270 1018h22v7h-22zM306 1025h7v7h-7zM320 1032h7v7h-7zM327 1039h7v7h-7zM334 1046h8v8h-8zM342 1054h7v7h-7zM349 1061h7v7h-7zM356 1075h7v7h-7zM363 1096h7v7h-7zM363 1103h7v8h-7zM363 1111h7v7h-7zM170 1118h7v7h-7zM170 1125h7v7h-7zM170 1132h7v7h-7zM177 1153h7v8h-7zM184 1168h7v7h-7zM191 1175h7v7h-7zM198 1182h8v7h-8zM206 1189h7v7h-7zM213 1196h7v7h-7zM227 1203h7v8h-7zM248 1211h22v7h-22z"/><path fill="#7c94d8" d="M292 1018h14v7h-14zM313 1025h7v7h-7zM327 1032h7v7h-7zM334 1039h8v7h-8zM342 1046h7v8h-7zM349 1054h7v7h-7zM356 1068h7v7h-7zM363 1082h7v7h-7zM363 1089h7v7h-7zM170 1139h7v7h-7zM170 1146h7v7h-7zM177 1161h7v7h-7zM184 1175h7v7h-7zM191 1182h7v7h-7zM198 1189h8v7h-8zM206 1196h7v7h-7zM220 1203h7v8h-7zM234 1211h14v7h-14z"/><path fill="#748cd4" d="M270 1025h29v7h-29zM306 1032h7v7h-7zM320 1039h7v7h-7zM327 1046h7v8h-7zM334 1054h8v7h-8zM342 1061h7v7h-7zM349 1075h7v7h-7zM356 1089h7v7h-7zM356 1096h7v7h-7zM356 1103h7v8h-7zM356 1111h7v7h-7zM177 1118h7v7h-7zM177 1125h7v7h-7zM177 1132h7v7h-7zM177 1139h7v7h-7zM184 1153h7v8h-7zM191 1168h7v7h-7zM198 1175h8v7h-8zM206 1182h7v7h-7zM213 1189h7v7h-7zM227 1196h7v7h-7zM241 1203h29v8h-29z"/><path fill="#7890d4" d="M299 1025h7v7h-7zM313 1032h7v7h-7zM349 1068h7v7h-7zM356 1082h7v7h-7zM177 1146h7v7h-7zM184 1161h7v7h-7zM220 1196h7v7h-7zM234 1203h7v8h-7z"/><path fill="#6c84d0" d="M270 1032h7v7h-7zM299 1039h7v7h-7zM313 1046h7v8h-7zM320 1054h7v7h-7zM327 1061h7v7h-7zM334 1068h8v7h-8zM342 1082h7v7h-7zM349 1111h7v7h-7zM184 1118h7v7h-7zM191 1146h7v7h-7zM198 1161h8v7h-8zM206 1168h7v7h-7zM213 1175h7v7h-7zM220 1182h7v7h-7zM234 1189h7v7h-7zM263 1196h7v7h-7z"/><path fill="#7084d0" d="M277 1032h15v7h-15zM306 1039h7v7h-7zM342 1075h7v7h-7zM349 1096h7v7h-7zM349 1103h7v8h-7zM184 1125h7v7h-7zM184 1132h7v7h-7zM191 1153h7v8h-7zM227 1189h7v7h-7zM248 1196h15v7h-15z"/><path fill="#7088d0" d="M292 1032h14v7h-14zM313 1039h7v7h-7zM320 1046h7v8h-7zM327 1054h7v7h-7zM334 1061h8v7h-8zM342 1068h7v7h-7zM349 1082h7v7h-7zM349 1089h7v7h-7zM184 1139h7v7h-7zM184 1146h7v7h-7zM191 1161h7v7h-7zM198 1168h8v7h-8zM206 1175h7v7h-7zM213 1182h7v7h-7zM220 1189h7v7h-7zM234 1196h14v7h-14z"/><path fill="#687ccc" d="M270 1039h7v7h-7zM299 1046h7v8h-7zM334 1082h8v7h-8zM342 1111h7v7h-7zM191 1118h7v7h-7zM198 1146h8v7h-8zM234 1182h7v7h-7zM263 1189h7v7h-7z"/><path fill="#6880cc" d="M277 1039h7v7h-7zM313 1054h7v7h-7zM320 1061h7v7h-7zM327 1068h7v7h-7zM342 1103h7v8h-7zM191 1125h7v7h-7zM206 1161h7v7h-7zM213 1168h7v7h-7zM220 1175h7v7h-7zM256 1189h7v7h-7z"/><path fill="#6c80cc" d="M284 1039h8v7h-8zM306 1046h7v8h-7zM334 1075h8v7h-8zM342 1096h7v7h-7zM191 1132h7v7h-7zM198 1153h8v8h-8zM227 1182h7v7h-7zM248 1189h8v7h-8z"/><path fill="#6c84cc" d="M292 1039h7v7h-7zM342 1089h7v7h-7zM191 1139h7v7h-7zM241 1189h7v7h-7z"/><path fill="#6478c8" d="M270 1046h14v8h-14zM299 1054h7v7h-7zM327 1082h7v7h-7zM334 1103h8v8h-8zM334 1111h8v7h-8zM198 1118h8v7h-8zM198 1125h8v7h-8zM206 1146h7v7h-7zM234 1175h7v7h-7zM256 1182h14v7h-14z"/><path fill="#647cc8" d="M284 1046h8v8h-8zM313 1061h7v7h-7zM320 1068h7v7h-7zM334 1096h8v7h-8zM198 1132h8v7h-8zM213 1161h7v7h-7zM220 1168h7v7h-7zM248 1182h8v7h-8z"/><path fill="#687cc8" d="M292 1046h7v8h-7zM306 1054h7v7h-7zM327 1075h7v7h-7zM334 1089h8v7h-8zM198 1139h8v7h-8zM206 1153h7v8h-7zM227 1175h7v7h-7zM241 1182h7v7h-7z"/><path fill="#6074c4" d="M270 1054h14v7h-14zM299 1061h7v7h-7zM306 1068h7v7h-7zM313 1075h7v7h-7zM320 1082h7v7h-7zM327 1103h7v8h-7zM327 1111h7v7h-7zM206 1118h7v7h-7zM206 1125h7v7h-7zM213 1146h7v7h-7zM220 1153h7v8h-7zM227 1161h7v7h-7zM234 1168h7v7h-7zM256 1175h14v7h-14z"/><path fill="#6078c4" d="M284 1054h8v7h-8zM327 1096h7v7h-7zM206 1132h7v7h-7zM248 1175h8v7h-8z"/><path fill="#6478c4" d="M292 1054h7v7h-7zM306 1061h7v7h-7zM313 1068h7v7h-7zM320 1075h7v7h-7zM327 1089h7v7h-7zM206 1139h7v7h-7zM213 1153h7v8h-7zM220 1161h7v7h-7zM227 1168h7v7h-7zM241 1175h7v7h-7z"/><path fill="#5c70c0" d="M270 1061h22v7h-22zM299 1068h7v7h-7zM306 1075h7v7h-7zM313 1082h7v7h-7zM320 1096h7v7h-7zM320 1103h7v8h-7zM320 1111h7v7h-7zM213 1118h7v7h-7zM213 1125h7v7h-7zM213 1132h7v7h-7zM220 1146h7v7h-7zM227 1153h7v8h-7zM234 1161h7v7h-7zM248 1168h22v7h-22z"/><path fill="#6074c0" d="M292 1061h7v7h-7zM320 1089h7v7h-7zM213 1139h7v7h-7zM241 1168h7v7h-7z"/><path fill="#586cbc" d="M270 1068h22v7h-22zM292 1075h14v7h-14zM306 1082h7v7h-7zM306 1089h7v7h-7zM313 1096h7v7h-7zM313 1103h7v8h-7zM313 1111h7v7h-7zM220 1118h7v7h-7zM220 1125h7v7h-7zM220 1132h7v7h-7zM227 1139h7v7h-7zM227 1146h7v7h-7zM234 1153h14v8h-14zM248 1161h22v7h-22z"/><path fill="#5c70bc" d="M292 1068h7v7h-7zM313 1089h7v7h-7zM220 1139h7v7h-7zM241 1161h7v7h-7z"/><path fill="#5464b8" d="M270 1075h7v7h-7zM306 1111h7v7h-7zM227 1118h7v7h-7zM263 1153h7v8h-7z"/><path fill="#5468b8" d="M277 1075h15v7h-15zM292 1082h7v7h-7zM299 1089h7v7h-7zM306 1096h7v7h-7zM306 1103h7v8h-7zM227 1125h7v7h-7zM227 1132h7v7h-7zM234 1139h7v7h-7zM241 1146h7v7h-7zM248 1153h15v8h-15z"/><path fill="#5064b4" d="M270 1082h14v7h-14zM284 1089h8v7h-8zM292 1096h7v7h-7zM299 1103h7v8h-7zM299 1111h7v7h-7zM234 1118h7v7h-7zM234 1125h7v7h-7zM241 1132h7v7h-7zM248 1139h8v7h-8zM256 1146h14v7h-14z"/><path fill="#5464b4" d="M284 1082h8v7h-8zM292 1089h7v7h-7zM299 1096h7v7h-7zM234 1132h7v7h-7zM241 1139h7v7h-7zM248 1146h8v7h-8z"/><path fill="#5868b8" d="M299 1082h7v7h-7zM234 1146h7v7h-7z"/><path fill="#5060b0" d="M270 1089h7v7h-7zM284 1096h8v7h-8zM292 1111h7v7h-7zM241 1118h7v7h-7zM248 1132h8v7h-8zM263 1139h7v7h-7z"/><path fill="#5060b4" d="M277 1089h7v7h-7zM292 1103h7v8h-7zM241 1125h7v7h-7zM256 1139h7v7h-7z"/><path fill="#4c5cb0" d="M270 1096h14v7h-14zM270 1103h22v8h-22zM277 1111h15v7h-15zM248 1118h15v7h-15zM248 1125h22v7h-22zM256 1132h14v7h-14z"/><path fill="#4c5cac" d="M270 1111h7v7h-7zM263 1118h7v7h-7z"/></g>
<line x1="98" y1="946.5" x2="442" y2="1289" stroke="#fdfbfa" stroke-width="6"/>
<rect x="97" y="945.5" width="346.0" height="344.5" fill="none" stroke="#4a4a4a" stroke-width="2"/>
<text x="9.7" y="958.5" font-size="25" fill="#231f20">-500 kb</text>
<text x="79.1" y="1129.0" font-size="25" fill="#231f20">0</text>
<text x="18.0" y="1293.6" font-size="25" fill="#231f20">500 kb</text>
<text x="81.7" y="1322.8" font-size="25" fill="#231f20">-500 kb</text>
<text x="267.5" y="1322.8" font-size="25" fill="#231f20">0</text>
<text x="383.8" y="1322.8" font-size="25" fill="#231f20">500 kb</text>
<g shape-rendering="crispEdges"><path fill="#e4846c" d="M560 946h85v8h-85zM567 954h78v7h-78zM574 961h71v7h-71zM581 968h64v7h-64zM588 975h57v7h-57zM595 982h50v7h-50zM602 989h43v7h-43zM610 996h28v8h-28zM617 1004h21v7h-21zM624 1011h14v7h-14zM631 1018h7v7h-7zM724 1111h7v7h-7zM731 1118h7v7h-7zM824 1211h7v7h-7zM824 1218h14v7h-14zM824 1225h21v7h-21zM824 1232h28v7h-28zM817 1239h43v7h-43zM817 1246h50v7h-50zM817 1253h57v7h-57zM817 1260h64v8h-64zM817 1268h71v7h-71zM817 1275h78v7h-78zM817 1282h85v7h-85z"/><path fill="#e48468" d="M645 946h15v8h-15zM645 954h15v7h-15zM645 961h15v7h-15zM645 968h7v7h-7zM645 975h7v7h-7zM645 982h7v7h-7zM645 989h7v7h-7zM638 996h14v8h-14zM638 1004h14v7h-14zM638 1011h14v7h-14zM638 1018h14v7h-14zM638 1025h14v7h-14zM645 1032h7v7h-7zM717 1103h14v8h-14zM731 1125h14v7h-14zM810 1196h7v7h-7zM810 1203h14v8h-14zM810 1211h14v7h-14zM810 1218h14v7h-14zM810 1225h14v7h-14zM810 1232h14v7h-14zM810 1239h7v7h-7zM810 1246h7v7h-7zM810 1253h7v7h-7zM810 1260h7v8h-7zM802 1268h15v7h-15zM802 1275h15v7h-15zM802 1282h15v7h-15z"/><path fill="#e48068" d="M660 946h14v8h-14zM660 954h7v7h-7zM660 961h7v7h-7zM652 968h15v7h-15zM652 975h15v7h-15zM652 982h15v7h-15zM652 989h15v7h-15zM652 996h8v8h-8zM652 1004h8v7h-8zM652 1011h8v7h-8zM652 1018h8v7h-8zM652 1025h8v7h-8zM652 1032h8v7h-8zM652 1039h8v7h-8zM802 1189h8v7h-8zM802 1196h8v7h-8zM802 1203h8v8h-8zM802 1211h8v7h-8zM802 1218h8v7h-8zM802 1225h8v7h-8zM802 1232h8v7h-8zM795 1239h15v7h-15zM795 1246h15v7h-15zM795 1253h15v7h-15zM795 1260h15v8h-15zM795 1268h7v7h-7zM795 1275h7v7h-7zM788 1282h14v7h-14z"/><path fill="#e07c64" d="M674 946h7v8h-7zM667 954h14v7h-14zM667 961h7v7h-7zM667 968h7v7h-7zM667 975h7v7h-7zM667 982h7v7h-7zM667 989h7v7h-7zM660 996h7v8h-7zM660 1004h7v7h-7zM660 1011h7v7h-7zM660 1018h7v7h-7zM660 1025h7v7h-7zM660 1032h7v7h-7zM660 1039h7v7h-7zM660 1046h7v8h-7zM795 1182h7v7h-7zM795 1189h7v7h-7zM795 1196h7v7h-7zM795 1203h7v8h-7zM795 1211h7v7h-7zM795 1218h7v7h-7zM795 1225h7v7h-7zM795 1232h7v7h-7zM788 1239h7v7h-7zM788 1246h7v7h-7zM788 1253h7v7h-7zM788 1260h7v8h-7zM788 1268h7v7h-7zM781 1275h14v7h-14zM781 1282h7v7h-7z"/><path fill="#e07860" d="M681 946h7v8h-7zM681 954h7v7h-7zM674 961h7v7h-7zM674 968h7v7h-7zM674 975h7v7h-7zM674 982h7v7h-7zM667 996h7v8h-7zM667 1004h7v7h-7zM667 1011h7v7h-7zM667 1018h7v7h-7zM667 1025h7v7h-7zM667 1032h7v7h-7zM667 1039h7v7h-7zM667 1046h7v8h-7zM667 1054h7v7h-7zM710 1096h21v7h-21zM731 1132h21v7h-21zM788 1175h7v7h-7zM788 1182h7v7h-7zM788 1189h7v7h-7zM788 1196h7v7h-7zM788 1203h7v8h-7zM788 1211h7v7h-7zM788 1218h7v7h-7zM788 1225h7v7h-7zM788 1232h7v7h-7zM781 1246h7v7h-7zM781 1253h7v7h-7zM781 1260h7v8h-7zM781 1268h7v7h-7zM774 1275h7v7h-7zM774 1282h7v7h-7z"/><path fill="#dc745c" d="M688 946h7v8h-7zM681 975h7v7h-7zM674 1004h7v7h-7zM674 1011h7v7h-7zM674 1046h7v8h-7zM674 1054h7v7h-7zM781 1175h7v7h-7zM781 1182h7v7h-7zM781 1218h7v7h-7zM781 1225h7v7h-7zM774 1253h7v7h-7zM767 1282h7v7h-7z"/><path fill="#d86c58" d="M695 946h7v8h-7zM695 954h7v7h-7zM695 961h7v7h-7zM688 975h7v7h-7zM688 982h7v7h-7zM681 1004h7v7h-7zM681 1011h7v7h-7zM588 1018h43v7h-43zM681 1018h7v7h-7zM560 1025h78v7h-78zM560 1032h85v7h-85zM560 1039h42v7h-42zM681 1039h7v7h-7zM681 1046h7v8h-7zM681 1054h7v7h-7zM688 1075h7v7h-7zM702 1089h8v7h-8zM717 1111h7v7h-7zM738 1118h7v7h-7zM752 1139h8v7h-8zM767 1153h7v8h-7zM774 1175h7v7h-7zM774 1182h7v7h-7zM774 1189h7v7h-7zM860 1189h42v7h-42zM817 1196h85v7h-85zM824 1203h78v8h-78zM774 1211h7v7h-7zM831 1211h43v7h-43zM774 1218h7v7h-7zM774 1225h7v7h-7zM767 1246h7v7h-7zM767 1253h7v7h-7zM760 1268h7v7h-7zM760 1275h7v7h-7zM760 1282h7v7h-7z"/><path fill="#d86858" d="M702 946h8v8h-8zM695 968h7v7h-7zM688 989h7v7h-7zM681 1025h7v7h-7zM681 1032h7v7h-7zM602 1039h50v7h-50zM560 1046h35v8h-35zM688 1068h7v7h-7zM710 1089h7v7h-7zM745 1139h7v7h-7zM767 1161h7v7h-7zM867 1182h35v7h-35zM810 1189h50v7h-50zM774 1196h7v7h-7zM774 1203h7v8h-7zM767 1239h7v7h-7zM760 1260h7v8h-7zM752 1282h8v7h-8z"/><path fill="#d46854" d="M710 946h7v8h-7zM702 961h8v7h-8zM695 982h7v7h-7zM688 1004h7v7h-7zM624 1046h36v8h-36zM581 1054h21v7h-21zM688 1054h7v7h-7zM695 1075h7v7h-7zM724 1089h7v7h-7zM731 1139h7v7h-7zM760 1153h7v8h-7zM767 1175h7v7h-7zM860 1175h21v7h-21zM802 1182h36v7h-36zM767 1225h7v7h-7zM760 1246h7v7h-7zM752 1268h8v7h-8zM745 1282h7v7h-7z"/><path fill="#d46450" d="M717 946h7v8h-7zM710 961h7v7h-7zM702 975h8v7h-8zM688 1018h7v7h-7zM688 1025h7v7h-7zM688 1032h7v7h-7zM688 1039h7v7h-7zM617 1054h50v7h-50zM581 1061h14v7h-14zM702 1082h8v7h-8zM710 1103h7v8h-7zM745 1125h7v7h-7zM752 1146h8v7h-8zM867 1168h14v7h-14zM795 1175h50v7h-50zM767 1189h7v7h-7zM767 1196h7v7h-7zM767 1203h7v8h-7zM767 1211h7v7h-7zM752 1253h8v7h-8zM745 1268h7v7h-7zM738 1282h7v7h-7z"/><path fill="#d46050" d="M724 946h7v8h-7zM717 954h7v7h-7zM710 968h7v7h-7zM702 982h8v7h-8zM695 996h7v8h-7zM595 1061h15v7h-15zM695 1061h7v7h-7zM560 1068h21v7h-21zM702 1075h8v7h-8zM710 1111h7v7h-7zM745 1118h7v7h-7zM752 1153h8v8h-8zM881 1161h21v7h-21zM760 1168h7v7h-7zM852 1168h15v7h-15zM760 1232h7v7h-7zM752 1246h8v7h-8zM745 1260h7v8h-7zM738 1275h7v7h-7zM731 1282h7v7h-7z"/><path fill="#f0b094" d="M731 946h171v8h-171zM731 954h171v7h-171zM731 961h171v7h-171zM731 968h171v7h-171zM731 975h171v7h-171zM731 982h171v7h-171zM774 989h128v7h-128zM788 996h114v8h-114zM802 1004h100v7h-100zM810 1011h92v7h-92zM817 1018h85v7h-85zM824 1025h78v7h-78zM831 1032h71v7h-71zM838 1039h64v7h-64zM845 1046h57v8h-57zM845 1054h57v7h-57zM852 1061h50v7h-50zM852 1068h50v7h-50zM860 1075h42v7h-42zM860 1082h42v7h-42zM860 1089h42v7h-42zM860 1096h42v7h-42zM860 1103h42v8h-42zM860 1111h42v7h-42zM560 1118h42v7h-42zM560 1125h42v7h-42zM560 1132h42v7h-42zM560 1139h42v7h-42zM560 1146h42v7h-42zM560 1153h42v8h-42zM560 1161h50v7h-50zM560 1168h50v7h-50zM560 1175h57v7h-57zM560 1182h57v7h-57zM560 1189h64v7h-64zM560 1196h71v7h-71zM560 1203h78v8h-78zM560 1211h85v7h-85zM560 1218h92v7h-92zM560 1225h100v7h-100zM560 1232h114v7h-114zM560 1239h128v7h-128zM560 1246h171v7h-171zM560 1253h171v7h-171zM560 1260h171v8h-171zM560 1268h171v7h-171zM560 1275h171v7h-171zM560 1282h171v7h-171z"/><path fill="#dc705c" d="M560 954h7v7h-7zM688 954h7v7h-7zM560 961h14v7h-14zM688 961h7v7h-7zM560 968h21v7h-21zM688 968h7v7h-7zM560 975h28v7h-28zM560 982h35v7h-35zM681 982h7v7h-7zM560 989h42v7h-42zM681 989h7v7h-7zM560 996h50v8h-50zM681 996h7v8h-7zM560 1004h57v7h-57zM560 1011h64v7h-64zM560 1018h28v7h-28zM674 1018h7v7h-7zM674 1025h7v7h-7zM674 1032h7v7h-7zM674 1039h7v7h-7zM681 1061h7v7h-7zM681 1068h7v7h-7zM774 1161h7v7h-7zM774 1168h7v7h-7zM781 1189h7v7h-7zM781 1196h7v7h-7zM781 1203h7v8h-7zM781 1211h7v7h-7zM874 1211h28v7h-28zM838 1218h64v7h-64zM845 1225h57v7h-57zM774 1232h7v7h-7zM852 1232h50v7h-50zM774 1239h7v7h-7zM860 1239h42v7h-42zM774 1246h7v7h-7zM867 1246h35v7h-35zM874 1253h28v7h-28zM767 1260h7v8h-7zM881 1260h21v8h-21zM767 1268h7v7h-7zM888 1268h14v7h-14zM767 1275h7v7h-7zM895 1275h7v7h-7z"/><path fill="#d86854" d="M702 954h8v7h-8zM695 975h7v7h-7zM688 996h7v8h-7zM595 1046h29v8h-29zM560 1054h21v7h-21zM688 1061h7v7h-7zM695 1082h7v7h-7zM717 1089h7v7h-7zM738 1139h7v7h-7zM760 1146h7v7h-7zM767 1168h7v7h-7zM881 1175h21v7h-21zM838 1182h29v7h-29zM767 1232h7v7h-7zM760 1253h7v7h-7zM752 1275h8v7h-8z"/><path fill="#d46454" d="M710 954h7v7h-7zM702 968h8v7h-8zM695 989h7v7h-7zM688 1011h7v7h-7zM688 1046h7v8h-7zM602 1054h15v7h-15zM560 1061h21v7h-21zM695 1068h7v7h-7zM760 1161h7v7h-7zM881 1168h21v7h-21zM845 1175h15v7h-15zM767 1182h7v7h-7zM767 1218h7v7h-7zM760 1239h7v7h-7zM752 1260h8v8h-8zM745 1275h7v7h-7z"/><path fill="#d06050" d="M724 954h7v7h-7zM717 961h7v7h-7zM710 975h7v7h-7zM695 1004h7v7h-7zM695 1054h7v7h-7zM610 1061h14v7h-14zM667 1061h7v7h-7zM581 1068h7v7h-7zM710 1082h7v7h-7zM745 1146h7v7h-7zM874 1161h7v7h-7zM788 1168h7v7h-7zM838 1168h14v7h-14zM760 1175h7v7h-7zM760 1225h7v7h-7zM745 1253h7v7h-7zM738 1268h7v7h-7zM731 1275h7v7h-7z"/><path fill="#dc7460" d="M681 961h7v7h-7zM681 968h7v7h-7zM674 989h7v7h-7zM674 996h7v8h-7zM674 1061h7v7h-7zM781 1168h7v7h-7zM781 1232h7v7h-7zM781 1239h7v7h-7zM774 1260h7v8h-7zM774 1268h7v7h-7z"/><path fill="#d05c4c" d="M724 961h7v7h-7zM717 968h14v7h-14zM717 975h14v7h-14zM710 982h7v7h-7zM702 989h8v7h-8zM702 996h8v8h-8zM695 1011h7v7h-7zM695 1018h7v7h-7zM695 1025h7v7h-7zM695 1032h7v7h-7zM695 1039h7v7h-7zM695 1046h7v8h-7zM624 1061h14v7h-14zM652 1061h15v7h-15zM702 1061h8v7h-8zM588 1068h29v7h-29zM674 1068h7v7h-7zM702 1068h8v7h-8zM560 1075h7v7h-7zM574 1075h21v7h-21zM710 1075h7v7h-7zM560 1082h7v7h-7zM717 1082h14v7h-14zM731 1146h14v7h-14zM895 1146h7v7h-7zM745 1153h7v8h-7zM867 1153h21v8h-21zM895 1153h7v8h-7zM752 1161h8v7h-8zM781 1161h7v7h-7zM845 1161h29v7h-29zM752 1168h8v7h-8zM795 1168h15v7h-15zM824 1168h14v7h-14zM760 1182h7v7h-7zM760 1189h7v7h-7zM760 1196h7v7h-7zM760 1203h7v8h-7zM760 1211h7v7h-7zM760 1218h7v7h-7zM752 1232h8v7h-8zM752 1239h8v7h-8zM745 1246h7v7h-7zM731 1253h14v7h-14zM731 1260h14v8h-14zM731 1268h7v7h-7z"/><path fill="#d05c48" d="M717 982h7v7h-7zM624 1068h7v7h-7zM660 1068h7v7h-7zM595 1075h7v7h-7zM717 1075h7v7h-7zM738 1153h7v8h-7zM860 1153h7v8h-7zM795 1161h7v7h-7zM831 1161h7v7h-7zM738 1246h7v7h-7z"/><path fill="#cc5848" d="M724 982h7v7h-7zM710 989h14v7h-14zM710 996h7v8h-7zM702 1004h8v7h-8zM702 1011h8v7h-8zM702 1018h8v7h-8zM702 1039h8v7h-8zM702 1046h8v8h-8zM702 1054h8v7h-8zM710 1061h7v7h-7zM617 1068h7v7h-7zM631 1068h29v7h-29zM667 1068h7v7h-7zM710 1068h14v7h-14zM602 1075h15v7h-15zM674 1075h14v7h-14zM724 1075h7v7h-7zM567 1082h28v7h-28zM560 1089h14v7h-14zM702 1096h8v7h-8zM752 1132h8v7h-8zM888 1139h14v7h-14zM867 1146h28v7h-28zM731 1153h7v8h-7zM774 1153h14v8h-14zM845 1153h15v8h-15zM738 1161h14v7h-14zM788 1161h7v7h-7zM802 1161h29v7h-29zM838 1161h7v7h-7zM745 1168h7v7h-7zM752 1175h8v7h-8zM752 1182h8v7h-8zM752 1189h8v7h-8zM752 1211h8v7h-8zM752 1218h8v7h-8zM752 1225h8v7h-8zM745 1232h7v7h-7zM738 1239h14v7h-14zM731 1246h7v7h-7z"/><path fill="#cc5844" d="M724 989h7v7h-7zM724 1068h7v7h-7zM702 1111h8v7h-8zM752 1118h8v7h-8zM731 1161h7v7h-7zM731 1239h7v7h-7z"/><path fill="#f0b098" d="M731 989h43v7h-43zM731 996h57v8h-57zM745 1004h57v7h-57zM774 1011h36v7h-36zM788 1018h29v7h-29zM795 1025h29v7h-29zM810 1032h21v7h-21zM817 1039h21v7h-21zM817 1046h28v8h-28zM824 1054h21v7h-21zM831 1061h21v7h-21zM831 1068h21v7h-21zM838 1075h22v7h-22zM838 1082h22v7h-22zM838 1089h22v7h-22zM838 1096h22v7h-22zM845 1103h15v8h-15zM845 1111h15v7h-15zM602 1118h15v7h-15zM602 1125h15v7h-15zM602 1132h22v7h-22zM602 1139h22v7h-22zM602 1146h22v7h-22zM602 1153h22v8h-22zM610 1161h21v7h-21zM610 1168h21v7h-21zM617 1175h21v7h-21zM617 1182h28v7h-28zM624 1189h21v7h-21zM631 1196h21v7h-21zM638 1203h29v8h-29zM645 1211h29v7h-29zM652 1218h36v7h-36zM660 1225h57v7h-57zM674 1232h57v7h-57zM688 1239h43v7h-43z"/><path fill="#c85444" d="M717 996h14v8h-14zM710 1004h7v7h-7zM710 1011h7v7h-7zM710 1046h7v8h-7zM710 1054h7v7h-7zM717 1061h14v7h-14zM617 1075h7v7h-7zM631 1075h29v7h-29zM667 1075h7v7h-7zM595 1082h15v7h-15zM681 1082h14v7h-14zM581 1089h14v7h-14zM695 1089h7v7h-7zM560 1096h21v7h-21zM560 1103h7v8h-7zM895 1125h7v7h-7zM881 1132h21v7h-21zM760 1139h7v7h-7zM867 1139h14v7h-14zM767 1146h14v7h-14zM852 1146h15v7h-15zM788 1153h7v8h-7zM802 1153h29v8h-29zM838 1153h7v8h-7zM731 1168h14v7h-14zM745 1175h7v7h-7zM745 1182h7v7h-7zM745 1218h7v7h-7zM745 1225h7v7h-7zM731 1232h14v7h-14z"/><path fill="#c85040" d="M717 1004h14v7h-14zM710 1018h7v7h-7zM710 1025h7v7h-7zM710 1032h7v7h-7zM710 1039h7v7h-7zM717 1054h14v7h-14zM610 1082h7v7h-7zM674 1082h7v7h-7zM595 1089h7v7h-7zM688 1089h7v7h-7zM581 1096h7v7h-7zM567 1103h14v8h-14zM560 1111h14v7h-14zM888 1118h14v7h-14zM881 1125h14v7h-14zM874 1132h7v7h-7zM767 1139h7v7h-7zM860 1139h7v7h-7zM781 1146h7v7h-7zM845 1146h7v7h-7zM731 1175h14v7h-14zM745 1189h7v7h-7zM745 1196h7v7h-7zM745 1203h7v8h-7zM745 1211h7v7h-7zM731 1225h14v7h-14z"/><path fill="#f4b498" d="M731 1004h14v7h-14zM731 1011h43v7h-43zM745 1018h43v7h-43zM774 1025h21v7h-21zM781 1032h29v7h-29zM795 1039h22v7h-22zM802 1046h15v8h-15zM810 1054h14v7h-14zM810 1061h21v7h-21zM817 1068h14v7h-14zM824 1075h14v7h-14zM824 1082h14v7h-14zM824 1089h14v7h-14zM824 1096h14v7h-14zM831 1103h14v8h-14zM831 1111h14v7h-14zM617 1118h14v7h-14zM617 1125h14v7h-14zM624 1132h14v7h-14zM624 1139h14v7h-14zM624 1146h14v7h-14zM624 1153h14v8h-14zM631 1161h14v7h-14zM631 1168h21v7h-21zM638 1175h14v7h-14zM645 1182h15v7h-15zM645 1189h22v7h-22zM652 1196h29v7h-29zM667 1203h21v8h-21zM674 1211h43v7h-43zM688 1218h43v7h-43zM717 1225h14v7h-14z"/><path fill="#c45040" d="M717 1011h7v7h-7zM717 1046h7v8h-7zM617 1082h7v7h-7zM667 1082h7v7h-7zM602 1089h8v7h-8zM681 1089h7v7h-7zM588 1096h7v7h-7zM695 1096h7v7h-7zM581 1103h7v8h-7zM574 1111h7v7h-7zM881 1118h7v7h-7zM874 1125h7v7h-7zM760 1132h7v7h-7zM867 1132h7v7h-7zM774 1139h7v7h-7zM852 1139h8v7h-8zM788 1146h7v7h-7zM838 1146h7v7h-7zM738 1182h7v7h-7zM738 1218h7v7h-7z"/><path fill="#c44c3c" d="M724 1011h7v7h-7zM717 1018h14v7h-14zM717 1025h7v7h-7zM717 1032h7v7h-7zM717 1039h14v7h-14zM724 1046h7v8h-7zM624 1082h43v7h-43zM610 1089h7v7h-7zM674 1089h7v7h-7zM595 1096h7v7h-7zM688 1096h7v7h-7zM588 1103h7v8h-7zM695 1103h7v8h-7zM581 1111h7v7h-7zM874 1118h7v7h-7zM760 1125h7v7h-7zM867 1125h7v7h-7zM767 1132h7v7h-7zM860 1132h7v7h-7zM781 1139h7v7h-7zM845 1139h7v7h-7zM795 1146h43v7h-43zM731 1182h7v7h-7zM731 1189h14v7h-14zM738 1196h7v7h-7zM738 1203h7v8h-7zM731 1211h14v7h-14zM731 1218h7v7h-7z"/><path fill="#f4b49c" d="M731 1018h14v7h-14zM731 1025h43v7h-43zM731 1032h50v7h-50zM752 1039h43v7h-43zM767 1046h35v8h-35zM781 1054h29v7h-29zM788 1061h22v7h-22zM795 1068h22v7h-22zM795 1075h29v7h-29zM802 1082h22v7h-22zM802 1089h22v7h-22zM810 1096h14v7h-14zM810 1103h21v8h-21zM810 1111h21v7h-21zM631 1118h21v7h-21zM631 1125h21v7h-21zM638 1132h14v7h-14zM638 1139h22v7h-22zM638 1146h22v7h-22zM638 1153h29v8h-29zM645 1161h22v7h-22zM652 1168h22v7h-22zM652 1175h29v7h-29zM660 1182h35v7h-35zM667 1189h43v7h-43zM681 1196h50v7h-50zM688 1203h43v8h-43zM717 1211h14v7h-14z"/><path fill="#cc5444" d="M702 1025h8v7h-8zM702 1032h8v7h-8zM624 1075h7v7h-7zM660 1075h7v7h-7zM574 1089h7v7h-7zM702 1103h8v8h-8zM752 1125h8v7h-8zM881 1139h7v7h-7zM795 1153h7v8h-7zM831 1153h7v8h-7zM752 1196h8v7h-8zM752 1203h8v8h-8z"/><path fill="#c4483c" d="M724 1025h7v7h-7zM724 1032h7v7h-7zM602 1096h8v7h-8zM681 1096h7v7h-7zM588 1111h7v7h-7zM695 1111h7v7h-7zM760 1118h7v7h-7zM867 1118h7v7h-7zM774 1132h7v7h-7zM852 1132h8v7h-8zM731 1196h7v7h-7zM731 1203h7v8h-7z"/><path fill="#f4b89c" d="M731 1039h21v7h-21zM745 1046h22v8h-22zM767 1054h14v7h-14zM774 1061h14v7h-14zM781 1068h14v7h-14zM788 1075h7v7h-7zM795 1082h7v7h-7zM795 1089h7v7h-7zM795 1096h15v7h-15zM802 1103h8v8h-8zM802 1111h8v7h-8zM652 1118h8v7h-8zM652 1125h8v7h-8zM652 1132h15v7h-15zM660 1139h7v7h-7zM660 1146h7v7h-7zM667 1153h7v8h-7zM667 1161h14v7h-14zM674 1168h14v7h-14zM681 1175h14v7h-14zM695 1182h22v7h-22zM710 1189h21v7h-21z"/><path fill="#f4b8a0" d="M731 1046h14v8h-14zM731 1054h36v7h-36zM752 1061h22v7h-22zM767 1068h14v7h-14zM774 1075h14v7h-14zM781 1082h14v7h-14zM781 1089h14v7h-14zM788 1096h7v7h-7zM788 1103h14v8h-14zM788 1111h14v7h-14zM660 1118h14v7h-14zM660 1125h14v7h-14zM667 1132h7v7h-7zM667 1139h14v7h-14zM667 1146h14v7h-14zM674 1153h14v8h-14zM681 1161h14v7h-14zM688 1168h22v7h-22zM695 1175h36v7h-36zM717 1182h14v7h-14z"/><path fill="#d0604c" d="M638 1061h14v7h-14zM567 1075h7v7h-7zM888 1153h7v8h-7zM810 1168h14v7h-14z"/><path fill="#f4bca0" d="M731 1061h21v7h-21zM752 1068h15v7h-15zM767 1075h7v7h-7zM774 1082h7v7h-7zM774 1089h7v7h-7zM781 1096h7v7h-7zM781 1103h7v8h-7zM781 1111h7v7h-7zM674 1118h7v7h-7zM674 1125h7v7h-7zM674 1132h7v7h-7zM681 1139h7v7h-7zM681 1146h7v7h-7zM688 1153h7v8h-7zM695 1161h15v7h-15zM710 1168h21v7h-21z"/><path fill="#f4bca4" d="M731 1068h21v7h-21zM745 1075h22v7h-22zM760 1082h14v7h-14zM767 1089h7v7h-7zM767 1096h14v7h-14zM774 1103h7v8h-7zM774 1111h7v7h-7zM681 1118h7v7h-7zM681 1125h7v7h-7zM681 1132h14v7h-14zM688 1139h7v7h-7zM688 1146h14v7h-14zM695 1153h22v8h-22zM710 1161h21v7h-21z"/><path fill="#f0c0a8" d="M731 1075h14v7h-14zM731 1082h29v7h-29zM752 1089h15v7h-15zM760 1096h7v7h-7zM760 1103h14v8h-14zM760 1111h14v7h-14zM688 1118h14v7h-14zM688 1125h14v7h-14zM695 1132h7v7h-7zM695 1139h15v7h-15zM702 1146h29v7h-29zM717 1153h14v8h-14z"/><path fill="#c04838" d="M617 1089h7v7h-7zM667 1089h7v7h-7zM595 1103h7v8h-7zM688 1103h7v8h-7zM767 1125h7v7h-7zM860 1125h7v7h-7zM788 1139h7v7h-7zM838 1139h7v7h-7z"/><path fill="#c04438" d="M624 1089h43v7h-43zM610 1096h71v7h-71zM602 1103h86v8h-86zM595 1111h100v7h-100zM767 1118h100v7h-100zM774 1125h86v7h-86zM781 1132h71v7h-71zM795 1139h43v7h-43z"/><path fill="#f0c4ac" d="M731 1089h14v7h-14zM745 1096h7v7h-7zM752 1103h8v8h-8zM752 1111h8v7h-8zM702 1118h8v7h-8zM702 1125h8v7h-8zM710 1132h7v7h-7zM717 1139h14v7h-14z"/><path fill="#f0c0ac" d="M745 1089h7v7h-7zM752 1096h8v7h-8zM702 1132h8v7h-8zM710 1139h7v7h-7z"/><path fill="#f0c4b0" d="M731 1096h14v7h-14zM745 1103h7v8h-7zM745 1111h7v7h-7zM710 1118h7v7h-7zM710 1125h7v7h-7zM717 1132h14v7h-14z"/><path fill="#f0c8b4" d="M731 1103h14v8h-14zM738 1111h7v7h-7zM717 1118h7v7h-7zM717 1125h14v7h-14z"/><path fill="#f0ccb8" d="M731 1111h7v7h-7zM724 1118h7v7h-7z"/></g>
<line x1="559.5" y1="946.5" x2="902.5" y2="1289" stroke="#fdfbfa" stroke-width="6"/>
<rect x="558.5" y="945.5" width="345.0" height="344.5" fill="none" stroke="#4a4a4a" stroke-width="2"/>
<text x="467.9" y="958.7" font-size="25" fill="#231f20">-500 kb</text>
<text x="537.3" y="1129.0" font-size="25" fill="#231f20">0</text>
<text x="476.2" y="1293.6" font-size="25" fill="#231f20">500 kb</text>
<text x="539.9" y="1322.8" font-size="25" fill="#231f20">-500 kb</text>
<text x="726.0" y="1322.8" font-size="25" fill="#231f20">0</text>
<text x="842.0" y="1322.8" font-size="25" fill="#231f20">500 kb</text>
<g shape-rendering="crispEdges"><path fill="#d4d8e4" d="M1019 946h171v8h-171zM1019 954h171v7h-171zM1019 961h171v7h-171zM1019 968h171v7h-171zM1019 975h171v7h-171zM1019 982h171v7h-171zM1019 989h171v7h-171zM1019 996h171v8h-171zM1019 1004h171v7h-171zM1019 1011h171v7h-171zM1019 1018h171v7h-171zM1019 1025h171v7h-171zM1019 1032h171v7h-171zM1019 1039h171v7h-171zM1019 1046h171v8h-171zM1019 1054h171v7h-171zM1019 1061h164v7h-164zM1019 1068h157v7h-157zM1019 1075h150v7h-150zM1019 1082h143v7h-143zM1019 1089h135v7h-135zM1019 1096h128v7h-128zM1019 1103h121v8h-121zM1019 1111h114v7h-114zM1247 1118h115v7h-115zM1240 1125h122v7h-122zM1233 1132h129v7h-129zM1226 1139h136v7h-136zM1219 1146h143v7h-143zM1212 1153h150v8h-150zM1204 1161h158v7h-158zM1197 1168h165v7h-165zM1190 1175h172v7h-172zM1190 1182h172v7h-172zM1190 1189h172v7h-172zM1190 1196h172v7h-172zM1190 1203h172v8h-172zM1190 1211h172v7h-172zM1190 1218h172v7h-172zM1190 1225h172v7h-172zM1190 1232h172v7h-172zM1190 1239h172v7h-172zM1190 1246h172v7h-172zM1190 1253h172v7h-172zM1190 1260h172v8h-172zM1190 1268h172v7h-172zM1190 1275h172v7h-172zM1190 1282h172v7h-172z"/><path fill="#f0c8b8" d="M1190 946h172v8h-172zM1190 954h172v7h-172zM1190 961h172v7h-172zM1340 968h22v7h-22zM1340 975h22v7h-22zM1340 982h22v7h-22zM1340 989h22v7h-22zM1340 996h22v8h-22zM1340 1004h22v7h-22zM1340 1011h22v7h-22zM1340 1018h22v7h-22zM1340 1025h22v7h-22zM1340 1032h22v7h-22zM1340 1039h22v7h-22zM1340 1046h22v8h-22zM1340 1054h22v7h-22zM1340 1061h22v7h-22zM1340 1068h22v7h-22zM1340 1075h22v7h-22zM1340 1082h22v7h-22zM1340 1089h22v7h-22zM1340 1096h22v7h-22zM1340 1103h22v8h-22zM1340 1111h22v7h-22zM1019 1118h21v7h-21zM1019 1125h21v7h-21zM1019 1132h21v7h-21zM1019 1139h21v7h-21zM1019 1146h21v7h-21zM1019 1153h21v8h-21zM1019 1161h21v7h-21zM1019 1168h21v7h-21zM1019 1175h21v7h-21zM1019 1182h21v7h-21zM1019 1189h21v7h-21zM1019 1196h21v7h-21zM1019 1203h21v8h-21zM1019 1211h21v7h-21zM1019 1218h21v7h-21zM1019 1225h21v7h-21zM1019 1232h21v7h-21zM1019 1239h21v7h-21zM1019 1246h21v7h-21zM1019 1253h21v7h-21zM1019 1260h21v8h-21zM1019 1268h171v7h-171zM1019 1275h171v7h-171zM1019 1282h171v7h-171z"/><path fill="#f0c8b4" d="M1190 968h150v7h-150zM1190 975h150v7h-150zM1190 982h150v7h-150zM1190 989h150v7h-150zM1312 996h28v8h-28zM1312 1004h28v7h-28zM1312 1011h28v7h-28zM1312 1018h28v7h-28zM1312 1025h28v7h-28zM1312 1032h28v7h-28zM1312 1039h28v7h-28zM1312 1046h28v8h-28zM1312 1054h28v7h-28zM1312 1061h28v7h-28zM1312 1068h28v7h-28zM1312 1075h28v7h-28zM1312 1082h28v7h-28zM1190 1089h29v7h-29zM1312 1089h28v7h-28zM1190 1096h29v7h-29zM1312 1096h28v7h-28zM1190 1103h29v8h-29zM1312 1103h28v8h-28zM1190 1111h29v7h-29zM1312 1111h28v7h-28zM1040 1118h29v7h-29zM1162 1118h28v7h-28zM1040 1125h29v7h-29zM1162 1125h28v7h-28zM1040 1132h29v7h-29zM1162 1132h28v7h-28zM1040 1139h29v7h-29zM1162 1139h28v7h-28zM1040 1146h29v7h-29zM1040 1153h29v8h-29zM1040 1161h29v7h-29zM1040 1168h29v7h-29zM1040 1175h29v7h-29zM1040 1182h29v7h-29zM1040 1189h29v7h-29zM1040 1196h29v7h-29zM1040 1203h29v8h-29zM1040 1211h29v7h-29zM1040 1218h29v7h-29zM1040 1225h29v7h-29zM1040 1232h29v7h-29zM1040 1239h150v7h-150zM1040 1246h150v7h-150zM1040 1253h150v7h-150zM1040 1260h150v8h-150z"/><path fill="#f0c4b0" d="M1190 996h122v8h-122zM1304 1004h8v7h-8zM1304 1011h8v7h-8zM1304 1018h8v7h-8zM1304 1025h8v7h-8zM1304 1032h8v7h-8zM1304 1039h8v7h-8zM1304 1046h8v8h-8zM1304 1054h8v7h-8zM1304 1061h8v7h-8zM1304 1068h8v7h-8zM1304 1075h8v7h-8zM1190 1082h36v7h-36zM1304 1082h8v7h-8zM1219 1089h7v7h-7zM1304 1089h8v7h-8zM1219 1096h7v7h-7zM1304 1096h8v7h-8zM1219 1103h7v8h-7zM1304 1103h8v8h-8zM1219 1111h7v7h-7zM1304 1111h8v7h-8zM1069 1118h7v7h-7zM1154 1118h8v7h-8zM1069 1125h7v7h-7zM1154 1125h8v7h-8zM1069 1132h7v7h-7zM1154 1132h8v7h-8zM1069 1139h7v7h-7zM1154 1139h8v7h-8zM1069 1146h7v7h-7zM1154 1146h36v7h-36zM1069 1153h7v8h-7zM1069 1161h7v7h-7zM1069 1168h7v7h-7zM1069 1175h7v7h-7zM1069 1182h7v7h-7zM1069 1189h7v7h-7zM1069 1196h7v7h-7zM1069 1203h7v8h-7zM1069 1211h7v7h-7zM1069 1218h7v7h-7zM1069 1225h7v7h-7zM1069 1232h121v7h-121z"/><path fill="#f0c4ac" d="M1190 1004h114v7h-114zM1190 1011h114v7h-114zM1290 1018h14v7h-14zM1290 1025h14v7h-14zM1290 1032h14v7h-14zM1290 1039h14v7h-14zM1290 1046h14v8h-14zM1290 1054h14v7h-14zM1290 1061h14v7h-14zM1190 1068h50v7h-50zM1290 1068h14v7h-14zM1190 1075h50v7h-50zM1290 1075h14v7h-14zM1226 1082h14v7h-14zM1290 1082h14v7h-14zM1226 1089h14v7h-14zM1290 1089h14v7h-14zM1226 1096h14v7h-14zM1290 1096h14v7h-14zM1226 1103h14v8h-14zM1290 1103h14v8h-14zM1226 1111h14v7h-14zM1290 1111h14v7h-14zM1076 1118h14v7h-14zM1140 1118h14v7h-14zM1076 1125h14v7h-14zM1140 1125h14v7h-14zM1076 1132h14v7h-14zM1140 1132h14v7h-14zM1076 1139h14v7h-14zM1140 1139h14v7h-14zM1076 1146h14v7h-14zM1140 1146h14v7h-14zM1076 1153h14v8h-14zM1140 1153h50v8h-50zM1076 1161h14v7h-14zM1140 1161h50v7h-50zM1076 1168h14v7h-14zM1076 1175h14v7h-14zM1076 1182h14v7h-14zM1076 1189h14v7h-14zM1076 1196h14v7h-14zM1076 1203h14v8h-14zM1076 1211h14v7h-14zM1076 1218h114v7h-114zM1076 1225h114v7h-114z"/><path fill="#f0c0ac" d="M1190 1018h100v7h-100zM1283 1025h7v7h-7zM1283 1032h7v7h-7zM1283 1039h7v7h-7zM1283 1046h7v8h-7zM1283 1054h7v7h-7zM1190 1061h57v7h-57zM1283 1061h7v7h-7zM1240 1068h7v7h-7zM1283 1068h7v7h-7zM1240 1075h7v7h-7zM1283 1075h7v7h-7zM1240 1082h7v7h-7zM1283 1082h7v7h-7zM1240 1089h7v7h-7zM1283 1089h7v7h-7zM1240 1096h7v7h-7zM1283 1096h7v7h-7zM1240 1103h7v8h-7zM1283 1103h7v8h-7zM1240 1111h7v7h-7zM1283 1111h7v7h-7zM1090 1118h7v7h-7zM1133 1118h7v7h-7zM1090 1125h7v7h-7zM1133 1125h7v7h-7zM1090 1132h7v7h-7zM1133 1132h7v7h-7zM1090 1139h7v7h-7zM1133 1139h7v7h-7zM1090 1146h7v7h-7zM1133 1146h7v7h-7zM1090 1153h7v8h-7zM1133 1153h7v8h-7zM1090 1161h7v7h-7zM1133 1161h7v7h-7zM1090 1168h7v7h-7zM1133 1168h57v7h-57zM1090 1175h7v7h-7zM1090 1182h7v7h-7zM1090 1189h7v7h-7zM1090 1196h7v7h-7zM1090 1203h7v8h-7zM1090 1211h100v7h-100z"/><path fill="#f0c0a8" d="M1190 1025h93v7h-93zM1190 1032h93v7h-93zM1190 1039h93v7h-93zM1190 1046h93v8h-93zM1190 1054h93v7h-93zM1247 1061h36v7h-36zM1247 1068h36v7h-36zM1247 1075h36v7h-36zM1247 1082h36v7h-36zM1247 1089h36v7h-36zM1247 1096h36v7h-36zM1247 1103h36v8h-36zM1247 1111h36v7h-36zM1097 1118h36v7h-36zM1097 1125h36v7h-36zM1097 1132h36v7h-36zM1097 1139h36v7h-36zM1097 1146h36v7h-36zM1097 1153h36v8h-36zM1097 1161h36v7h-36zM1097 1168h36v7h-36zM1097 1175h93v7h-93zM1097 1182h93v7h-93zM1097 1189h93v7h-93zM1097 1196h93v7h-93zM1097 1203h93v8h-93z"/><path fill="#d4dce4" d="M1183 1061h7v7h-7zM1176 1068h14v7h-14zM1169 1075h21v7h-21zM1162 1082h21v7h-21zM1154 1089h22v7h-22zM1147 1096h22v7h-22zM1140 1103h22v8h-22zM1133 1111h21v7h-21zM1226 1118h21v7h-21zM1219 1125h21v7h-21zM1212 1132h21v7h-21zM1204 1139h22v7h-22zM1197 1146h22v7h-22zM1190 1153h22v8h-22zM1190 1161h14v7h-14zM1190 1168h7v7h-7z"/><path fill="#d8dce4" d="M1183 1082h7v7h-7zM1176 1089h7v7h-7zM1169 1096h7v7h-7zM1162 1103h7v8h-7zM1154 1111h8v7h-8zM1219 1118h7v7h-7zM1212 1125h7v7h-7zM1204 1132h8v7h-8zM1197 1139h7v7h-7zM1190 1146h7v7h-7z"/><path fill="#d8dce0" d="M1183 1089h7v7h-7zM1176 1096h14v7h-14zM1169 1103h14v8h-14zM1162 1111h14v7h-14zM1204 1118h15v7h-15zM1197 1125h15v7h-15zM1190 1132h14v7h-14zM1190 1139h7v7h-7z"/><path fill="#dcdcdc" d="M1183 1103h7v8h-7zM1176 1111h7v7h-7zM1197 1118h7v7h-7zM1190 1125h7v7h-7z"/><path fill="#e0dcd8" d="M1183 1111h7v7h-7zM1190 1118h7v7h-7z"/></g>
<line x1="1018.8" y1="946.5" x2="1361.5" y2="1289" stroke="#fdfbfa" stroke-width="6"/>
<rect x="1017.8" y="945.5" width="344.7" height="344.5" fill="none" stroke="#4a4a4a" stroke-width="2"/>
<text x="924.7" y="958.7" font-size="25" fill="#231f20">-500 kb</text>
<text x="994.1" y="1129.0" font-size="25" fill="#231f20">0</text>
<text x="933.0" y="1293.6" font-size="25" fill="#231f20">500 kb</text>
<text x="996.9" y="1322.8" font-size="25" fill="#231f20">-500 kb</text>
<text x="1183.0" y="1322.8" font-size="25" fill="#231f20">0</text>
<text x="1299.0" y="1322.8" font-size="25" fill="#231f20">500 kb</text>
<g shape-rendering="crispEdges"><path fill="#dcdcdc" d="M98 1520h79v7h-79zM98 1527h79v7h-79zM98 1534h79v7h-79zM98 1541h79v7h-79zM98 1548h79v7h-79zM98 1555h86v7h-86zM98 1562h86v7h-86zM98 1569h93v7h-93zM98 1576h100v8h-100zM98 1584h107v7h-107zM98 1591h114v7h-114zM134 1598h85v7h-85zM148 1605h79v7h-79zM155 1612h79v7h-79zM162 1619h79v7h-79zM169 1626h79v7h-79zM177 1633h78v7h-78zM184 1640h78v8h-78zM191 1648h79v7h-79zM198 1655h72v7h-72zM205 1662h65v7h-65zM212 1669h58v7h-58zM219 1676h51v7h-51zM227 1683h43v7h-43zM270 1690h42v7h-42zM270 1697h50v7h-50zM270 1704h57v8h-57zM270 1712h64v7h-64zM270 1719h71v7h-71zM270 1726h78v7h-78zM277 1733h78v7h-78zM284 1740h78v7h-78zM291 1747h79v7h-79zM298 1754h79v7h-79zM305 1761h79v8h-79zM312 1769h79v7h-79zM320 1776h85v7h-85zM327 1783h114v7h-114zM334 1790h107v7h-107zM341 1797h100v7h-100zM348 1804h93v7h-93zM355 1811h86v7h-86zM355 1818h86v7h-86zM362 1825h79v8h-79zM362 1833h79v7h-79zM362 1840h79v7h-79zM362 1847h79v7h-79zM362 1854h79v7h-79z"/><path fill="#e0dcd8" d="M177 1520h7v7h-7zM177 1527h7v7h-7zM177 1534h7v7h-7zM177 1541h14v7h-14zM177 1548h14v7h-14zM184 1555h14v7h-14zM184 1562h14v7h-14zM191 1569h14v7h-14zM198 1576h14v8h-14zM205 1584h14v7h-14zM212 1591h15v7h-15zM98 1598h36v7h-36zM219 1598h15v7h-15zM119 1605h29v7h-29zM227 1605h14v7h-14zM134 1612h21v7h-21zM234 1612h14v7h-14zM148 1619h14v7h-14zM241 1619h14v7h-14zM155 1626h14v7h-14zM248 1626h14v7h-14zM162 1633h15v7h-15zM255 1633h15v7h-15zM169 1640h15v8h-15zM262 1640h8v8h-8zM177 1648h14v7h-14zM184 1655h14v7h-14zM191 1662h14v7h-14zM198 1669h14v7h-14zM205 1676h14v7h-14zM212 1683h15v7h-15zM312 1690h15v7h-15zM320 1697h14v7h-14zM327 1704h14v8h-14zM334 1712h14v7h-14zM341 1719h14v7h-14zM348 1726h14v7h-14zM270 1733h7v7h-7zM355 1733h15v7h-15zM270 1740h14v7h-14zM362 1740h15v7h-15zM277 1747h14v7h-14zM370 1747h14v7h-14zM284 1754h14v7h-14zM377 1754h14v7h-14zM291 1761h14v8h-14zM384 1761h21v8h-21zM298 1769h14v7h-14zM391 1769h29v7h-29zM305 1776h15v7h-15zM405 1776h36v7h-36zM312 1783h15v7h-15zM320 1790h14v7h-14zM327 1797h14v7h-14zM334 1804h14v7h-14zM341 1811h14v7h-14zM341 1818h14v7h-14zM348 1825h14v8h-14zM348 1833h14v7h-14zM355 1840h7v7h-7zM355 1847h7v7h-7zM355 1854h7v7h-7z"/><path fill="#e4d8d4" d="M184 1520h7v7h-7zM184 1527h7v7h-7zM191 1534h7v7h-7zM191 1541h7v7h-7zM191 1548h14v7h-14zM198 1555h14v7h-14zM205 1562h14v7h-14zM212 1569h15v7h-15zM219 1576h15v8h-15zM227 1584h14v7h-14zM234 1591h14v7h-14zM241 1598h14v7h-14zM98 1605h14v7h-14zM248 1605h14v7h-14zM112 1612h22v7h-22zM255 1612h15v7h-15zM127 1619h14v7h-14zM262 1619h8v7h-8zM134 1626h14v7h-14zM141 1633h14v7h-14zM148 1640h14v8h-14zM155 1648h14v7h-14zM162 1655h15v7h-15zM169 1662h15v7h-15zM177 1669h14v7h-14zM184 1676h14v7h-14zM191 1683h14v7h-14zM334 1690h14v7h-14zM341 1697h14v7h-14zM348 1704h14v8h-14zM355 1712h15v7h-15zM362 1719h15v7h-15zM370 1726h14v7h-14zM377 1733h14v7h-14zM384 1740h14v7h-14zM391 1747h14v7h-14zM270 1754h7v7h-7zM398 1754h14v7h-14zM270 1761h14v8h-14zM405 1761h22v8h-22zM277 1769h14v7h-14zM427 1769h14v7h-14zM284 1776h14v7h-14zM291 1783h14v7h-14zM298 1790h14v7h-14zM305 1797h15v7h-15zM312 1804h15v7h-15zM320 1811h14v7h-14zM327 1818h14v7h-14zM334 1825h14v8h-14zM341 1833h7v7h-7zM341 1840h7v7h-7zM348 1847h7v7h-7zM348 1854h7v7h-7z"/><path fill="#e4d8d0" d="M191 1520h79v7h-79zM191 1527h79v7h-79zM198 1534h72v7h-72zM198 1541h72v7h-72zM205 1548h65v7h-65zM212 1555h58v7h-58zM219 1562h51v7h-51zM227 1569h43v7h-43zM234 1576h36v8h-36zM241 1584h29v7h-29zM248 1591h22v7h-22zM255 1598h15v7h-15zM262 1605h8v7h-8zM98 1612h14v7h-14zM98 1619h29v7h-29zM98 1626h36v7h-36zM98 1633h43v7h-43zM98 1640h50v8h-50zM98 1648h57v7h-57zM98 1655h64v7h-64zM98 1662h71v7h-71zM98 1669h79v7h-79zM98 1676h86v7h-86zM98 1683h93v7h-93zM348 1690h93v7h-93zM355 1697h86v7h-86zM362 1704h79v8h-79zM370 1712h71v7h-71zM377 1719h64v7h-64zM384 1726h57v7h-57zM391 1733h50v7h-50zM398 1740h43v7h-43zM405 1747h36v7h-36zM412 1754h29v7h-29zM427 1761h14v8h-14zM270 1769h7v7h-7zM270 1776h14v7h-14zM270 1783h21v7h-21zM270 1790h28v7h-28zM270 1797h35v7h-35zM270 1804h42v7h-42zM270 1811h50v7h-50zM270 1818h57v7h-57zM270 1825h64v8h-64zM270 1833h71v7h-71zM270 1840h71v7h-71zM270 1847h78v7h-78zM270 1854h78v7h-78z"/><path fill="#b8ccec" d="M270 1520h78v7h-78zM270 1527h92v7h-92zM270 1534h107v7h-107zM305 1541h79v7h-79zM327 1548h64v7h-64zM341 1555h57v7h-57zM355 1562h50v7h-50zM362 1569h50v7h-50zM370 1576h50v8h-50zM377 1584h50v7h-50zM384 1591h43v7h-43zM391 1598h43v7h-43zM398 1605h36v7h-36zM398 1612h43v7h-43zM405 1619h36v7h-36zM405 1626h36v7h-36zM412 1633h29v7h-29zM270 1640h14v8h-14zM412 1640h29v8h-29zM270 1648h28v7h-28zM412 1648h29v7h-29zM270 1655h35v7h-35zM420 1655h21v7h-21zM270 1662h42v7h-42zM420 1662h21v7h-21zM284 1669h28v7h-28zM420 1669h21v7h-21zM291 1676h29v7h-29zM420 1676h21v7h-21zM291 1683h29v7h-29zM420 1683h21v7h-21zM98 1690h21v7h-21zM219 1690h29v7h-29zM98 1697h21v7h-21zM219 1697h29v7h-29zM98 1704h21v8h-21zM227 1704h28v8h-28zM98 1712h21v7h-21zM227 1712h43v7h-43zM98 1719h21v7h-21zM234 1719h36v7h-36zM98 1726h29v7h-29zM241 1726h29v7h-29zM98 1733h29v7h-29zM255 1733h15v7h-15zM98 1740h29v7h-29zM98 1747h36v7h-36zM98 1754h36v7h-36zM98 1761h43v8h-43zM105 1769h36v7h-36zM105 1776h43v7h-43zM112 1783h43v7h-43zM112 1790h50v7h-50zM119 1797h50v7h-50zM127 1804h50v7h-50zM134 1811h50v7h-50zM141 1818h57v7h-57zM148 1825h64v8h-64zM155 1833h79v7h-79zM162 1840h108v7h-108zM177 1847h93v7h-93zM191 1854h79v7h-79z"/><path fill="#bcccec" d="M348 1520h93v7h-93zM362 1527h79v7h-79zM377 1534h64v7h-64zM384 1541h57v7h-57zM391 1548h50v7h-50zM398 1555h43v7h-43zM405 1562h36v7h-36zM412 1569h29v7h-29zM420 1576h21v8h-21zM427 1584h14v7h-14zM427 1591h14v7h-14zM434 1598h7v7h-7zM434 1605h7v7h-7zM98 1769h7v7h-7zM98 1776h7v7h-7zM98 1783h14v7h-14zM98 1790h14v7h-14zM98 1797h21v7h-21zM98 1804h29v7h-29zM98 1811h36v7h-36zM98 1818h43v7h-43zM98 1825h50v8h-50zM98 1833h57v7h-57zM98 1840h64v7h-64zM98 1847h79v7h-79zM98 1854h93v7h-93z"/><path fill="#e0dcd4" d="M184 1534h7v7h-7zM198 1562h7v7h-7zM205 1569h7v7h-7zM212 1576h7v8h-7zM219 1584h8v7h-8zM227 1591h7v7h-7zM234 1598h7v7h-7zM112 1605h7v7h-7zM241 1605h7v7h-7zM248 1612h7v7h-7zM141 1619h7v7h-7zM255 1619h7v7h-7zM148 1626h7v7h-7zM262 1626h8v7h-8zM155 1633h7v7h-7zM162 1640h7v8h-7zM169 1648h8v7h-8zM177 1655h7v7h-7zM184 1662h7v7h-7zM191 1669h7v7h-7zM198 1676h7v7h-7zM205 1683h7v7h-7zM327 1690h7v7h-7zM334 1697h7v7h-7zM341 1704h7v8h-7zM348 1712h7v7h-7zM355 1719h7v7h-7zM362 1726h8v7h-8zM370 1733h7v7h-7zM377 1740h7v7h-7zM270 1747h7v7h-7zM384 1747h7v7h-7zM277 1754h7v7h-7zM391 1754h7v7h-7zM284 1761h7v8h-7zM291 1769h7v7h-7zM420 1769h7v7h-7zM298 1776h7v7h-7zM305 1783h7v7h-7zM312 1790h8v7h-8zM320 1797h7v7h-7zM327 1804h7v7h-7zM334 1811h7v7h-7zM348 1840h7v7h-7z"/><path fill="#b8c8ec" d="M270 1541h35v7h-35zM284 1548h43v7h-43zM320 1555h21v7h-21zM334 1562h21v7h-21zM348 1569h14v7h-14zM355 1576h15v8h-15zM362 1584h15v7h-15zM370 1591h14v7h-14zM377 1598h14v7h-14zM384 1605h14v7h-14zM391 1612h7v7h-7zM391 1619h14v7h-14zM270 1626h14v7h-14zM398 1626h7v7h-7zM270 1633h35v7h-35zM398 1633h14v7h-14zM284 1640h28v8h-28zM405 1640h7v8h-7zM298 1648h22v7h-22zM405 1648h7v7h-7zM305 1655h22v7h-22zM405 1655h15v7h-15zM312 1662h15v7h-15zM405 1662h15v7h-15zM270 1669h14v7h-14zM312 1669h15v7h-15zM405 1669h15v7h-15zM284 1676h7v7h-7zM320 1676h14v7h-14zM412 1676h8v7h-8zM284 1683h7v7h-7zM320 1683h14v7h-14zM412 1683h8v7h-8zM119 1690h8v7h-8zM205 1690h14v7h-14zM248 1690h7v7h-7zM119 1697h8v7h-8zM205 1697h14v7h-14zM248 1697h7v7h-7zM119 1704h15v8h-15zM212 1704h15v8h-15zM255 1704h15v8h-15zM119 1712h15v7h-15zM212 1712h15v7h-15zM119 1719h15v7h-15zM212 1719h22v7h-22zM127 1726h7v7h-7zM219 1726h22v7h-22zM127 1733h7v7h-7zM227 1733h28v7h-28zM127 1740h14v7h-14zM234 1740h36v7h-36zM134 1747h7v7h-7zM255 1747h15v7h-15zM134 1754h14v7h-14zM141 1761h7v8h-7zM141 1769h14v7h-14zM148 1776h14v7h-14zM155 1783h14v7h-14zM162 1790h15v7h-15zM169 1797h15v7h-15zM177 1804h14v7h-14zM184 1811h21v7h-21zM198 1818h21v7h-21zM212 1825h43v8h-43zM234 1833h36v7h-36z"/><path fill="#b4c8ec" d="M270 1548h14v7h-14zM270 1555h50v7h-50zM270 1562h64v7h-64zM270 1569h78v7h-78zM270 1576h85v8h-85zM270 1584h92v7h-92zM270 1591h100v7h-100zM270 1598h107v7h-107zM270 1605h114v7h-114zM270 1612h121v7h-121zM270 1619h121v7h-121zM284 1626h114v7h-114zM305 1633h93v7h-93zM312 1640h93v8h-93zM320 1648h85v7h-85zM327 1655h78v7h-78zM327 1662h78v7h-78zM327 1669h78v7h-78zM270 1676h14v7h-14zM334 1676h78v7h-78zM270 1683h14v7h-14zM334 1683h78v7h-78zM127 1690h78v7h-78zM255 1690h15v7h-15zM127 1697h78v7h-78zM255 1697h15v7h-15zM134 1704h78v8h-78zM134 1712h78v7h-78zM134 1719h78v7h-78zM134 1726h85v7h-85zM134 1733h93v7h-93zM141 1740h93v7h-93zM141 1747h114v7h-114zM148 1754h122v7h-122zM148 1761h122v8h-122zM155 1769h115v7h-115zM162 1776h108v7h-108zM169 1783h101v7h-101zM177 1790h93v7h-93zM184 1797h86v7h-86zM191 1804h79v7h-79zM205 1811h65v7h-65zM219 1818h51v7h-51zM255 1825h15v8h-15z"/></g>
<line x1="98" y1="1519.5" x2="441" y2="1861" stroke="#fdfbfa" stroke-width="6"/>
<rect x="97" y="1518.5" width="345.0" height="343.5" fill="none" stroke="#4a4a4a" stroke-width="2"/>
<text x="11.2" y="1533.5" font-size="25" fill="#231f20">-500 kb</text>
<text x="80.6" y="1703.0" font-size="25" fill="#231f20">0</text>
<text x="19.5" y="1867.3" font-size="25" fill="#231f20">500 kb</text>
<text x="83.6" y="1896.8" font-size="25" fill="#231f20">-500 kb</text>
<text x="270.2" y="1896.8" font-size="25" fill="#231f20">0</text>
<text x="385.8" y="1896.8" font-size="25" fill="#231f20">500 kb</text>
<g shape-rendering="crispEdges"><path fill="#d86858" d="M560 1520h64v7h-64zM560 1527h71v7h-71zM560 1534h78v7h-78zM560 1541h85v7h-85zM560 1548h92v7h-92zM560 1555h99v7h-99zM560 1562h107v7h-107zM560 1569h114v7h-114zM560 1576h121v8h-121zM567 1584h121v7h-121zM574 1591h121v7h-121zM581 1598h121v7h-121zM588 1605h121v7h-121zM595 1612h121v7h-121zM602 1619h122v7h-122zM609 1626h122v7h-122zM617 1633h121v7h-121zM624 1640h121v8h-121zM631 1648h121v7h-121zM638 1655h121v7h-121zM645 1662h121v7h-121zM652 1669h122v7h-122zM659 1676h122v7h-122zM667 1683h121v7h-121zM674 1690h121v7h-121zM681 1697h121v7h-121zM688 1704h121v8h-121zM695 1712h121v7h-121zM702 1719h122v7h-122zM709 1726h122v7h-122zM716 1733h122v7h-122zM724 1740h121v7h-121zM731 1747h121v7h-121zM738 1754h121v7h-121zM745 1761h121v8h-121zM752 1769h121v7h-121zM759 1776h122v7h-122zM766 1783h122v7h-122zM774 1790h121v7h-121zM781 1797h121v7h-121zM788 1804h114v7h-114zM795 1811h107v7h-107zM802 1818h100v7h-100zM809 1825h93v8h-93zM816 1833h86v7h-86zM824 1840h78v7h-78zM831 1847h71v7h-71zM838 1854h64v7h-64z"/><path fill="#d86c58" d="M624 1520h43v7h-43zM631 1527h43v7h-43zM638 1534h43v7h-43zM645 1541h43v7h-43zM652 1548h43v7h-43zM659 1555h43v7h-43zM667 1562h42v7h-42zM674 1569h42v7h-42zM681 1576h43v8h-43zM560 1584h7v7h-7zM688 1584h43v7h-43zM560 1591h14v7h-14zM695 1591h43v7h-43zM560 1598h21v7h-21zM702 1598h43v7h-43zM560 1605h28v7h-28zM709 1605h43v7h-43zM560 1612h35v7h-35zM716 1612h43v7h-43zM560 1619h42v7h-42zM724 1619h42v7h-42zM567 1626h42v7h-42zM731 1626h43v7h-43zM574 1633h43v7h-43zM738 1633h43v7h-43zM581 1640h43v8h-43zM745 1640h43v8h-43zM588 1648h43v7h-43zM752 1648h43v7h-43zM595 1655h43v7h-43zM759 1655h43v7h-43zM602 1662h43v7h-43zM766 1662h43v7h-43zM609 1669h43v7h-43zM774 1669h42v7h-42zM617 1676h42v7h-42zM781 1676h43v7h-43zM624 1683h43v7h-43zM788 1683h43v7h-43zM631 1690h43v7h-43zM795 1690h43v7h-43zM638 1697h43v7h-43zM802 1697h43v7h-43zM645 1704h43v8h-43zM809 1704h43v8h-43zM652 1712h43v7h-43zM816 1712h43v7h-43zM659 1719h43v7h-43zM824 1719h42v7h-42zM667 1726h42v7h-42zM831 1726h42v7h-42zM674 1733h42v7h-42zM838 1733h43v7h-43zM681 1740h43v7h-43zM845 1740h43v7h-43zM688 1747h43v7h-43zM852 1747h43v7h-43zM695 1754h43v7h-43zM859 1754h43v7h-43zM702 1761h43v8h-43zM866 1761h36v8h-36zM709 1769h43v7h-43zM873 1769h29v7h-29zM716 1776h43v7h-43zM881 1776h21v7h-21zM724 1783h42v7h-42zM888 1783h14v7h-14zM731 1790h43v7h-43zM895 1790h7v7h-7zM738 1797h43v7h-43zM745 1804h43v7h-43zM752 1811h43v7h-43zM759 1818h43v7h-43zM766 1825h43v8h-43zM774 1833h42v7h-42zM781 1840h43v7h-43zM788 1847h43v7h-43zM795 1854h43v7h-43z"/><path fill="#dc705c" d="M667 1520h21v7h-21zM674 1527h21v7h-21zM681 1534h21v7h-21zM688 1541h21v7h-21zM695 1548h21v7h-21zM702 1555h22v7h-22zM709 1562h22v7h-22zM716 1569h22v7h-22zM724 1576h21v8h-21zM731 1584h21v7h-21zM738 1591h21v7h-21zM745 1598h21v7h-21zM752 1605h22v7h-22zM759 1612h22v7h-22zM766 1619h22v7h-22zM560 1626h7v7h-7zM774 1626h21v7h-21zM560 1633h14v7h-14zM781 1633h21v7h-21zM560 1640h21v8h-21zM788 1640h21v8h-21zM567 1648h21v7h-21zM795 1648h21v7h-21zM574 1655h21v7h-21zM802 1655h22v7h-22zM581 1662h21v7h-21zM809 1662h22v7h-22zM588 1669h21v7h-21zM816 1669h22v7h-22zM595 1676h22v7h-22zM824 1676h21v7h-21zM602 1683h22v7h-22zM831 1683h21v7h-21zM609 1690h22v7h-22zM838 1690h21v7h-21zM617 1697h21v7h-21zM845 1697h21v7h-21zM624 1704h21v8h-21zM852 1704h21v8h-21zM631 1712h21v7h-21zM859 1712h22v7h-22zM638 1719h21v7h-21zM866 1719h22v7h-22zM645 1726h22v7h-22zM873 1726h22v7h-22zM652 1733h22v7h-22zM881 1733h21v7h-21zM659 1740h22v7h-22zM888 1740h14v7h-14zM667 1747h21v7h-21zM895 1747h7v7h-7zM674 1754h21v7h-21zM681 1761h21v8h-21zM688 1769h21v7h-21zM695 1776h21v7h-21zM702 1783h22v7h-22zM709 1790h22v7h-22zM716 1797h22v7h-22zM724 1804h21v7h-21zM731 1811h21v7h-21zM738 1818h21v7h-21zM745 1825h21v8h-21zM752 1833h22v7h-22zM759 1840h22v7h-22zM766 1847h22v7h-22zM774 1854h21v7h-21z"/><path fill="#dc745c" d="M688 1520h7v7h-7zM695 1527h7v7h-7zM702 1534h7v7h-7zM709 1541h7v7h-7zM716 1548h8v7h-8zM724 1555h7v7h-7zM731 1562h7v7h-7zM738 1569h7v7h-7zM745 1576h7v8h-7zM752 1584h7v7h-7zM759 1591h7v7h-7zM766 1598h8v7h-8zM774 1605h7v7h-7zM781 1612h7v7h-7zM788 1619h7v7h-7zM795 1626h7v7h-7zM802 1633h7v7h-7zM809 1640h7v8h-7zM560 1648h7v7h-7zM816 1648h8v7h-8zM567 1655h7v7h-7zM824 1655h7v7h-7zM574 1662h7v7h-7zM831 1662h7v7h-7zM581 1669h7v7h-7zM838 1669h7v7h-7zM588 1676h7v7h-7zM845 1676h7v7h-7zM595 1683h7v7h-7zM852 1683h7v7h-7zM602 1690h7v7h-7zM859 1690h7v7h-7zM609 1697h8v7h-8zM866 1697h7v7h-7zM617 1704h7v8h-7zM873 1704h8v8h-8zM624 1712h7v7h-7zM881 1712h7v7h-7zM631 1719h7v7h-7zM888 1719h7v7h-7zM638 1726h7v7h-7zM895 1726h7v7h-7zM645 1733h7v7h-7zM652 1740h7v7h-7zM659 1747h8v7h-8zM667 1754h7v7h-7zM674 1761h7v8h-7zM681 1769h7v7h-7zM688 1776h7v7h-7zM695 1783h7v7h-7zM702 1790h7v7h-7zM709 1797h7v7h-7zM716 1804h8v7h-8zM724 1811h7v7h-7zM731 1818h7v7h-7zM738 1825h7v8h-7zM745 1833h7v7h-7zM752 1840h7v7h-7zM759 1847h7v7h-7zM766 1854h8v7h-8z"/><path fill="#dc7460" d="M695 1520h7v7h-7zM702 1527h7v7h-7zM709 1534h7v7h-7zM716 1541h8v7h-8zM724 1548h7v7h-7zM731 1555h7v7h-7zM738 1562h7v7h-7zM745 1569h7v7h-7zM752 1576h7v8h-7zM759 1584h7v7h-7zM766 1591h8v7h-8zM774 1598h7v7h-7zM781 1605h7v7h-7zM788 1612h7v7h-7zM795 1619h7v7h-7zM802 1626h7v7h-7zM809 1633h7v7h-7zM816 1640h8v8h-8zM824 1648h7v7h-7zM560 1655h7v7h-7zM831 1655h7v7h-7zM567 1662h7v7h-7zM838 1662h7v7h-7zM574 1669h7v7h-7zM845 1669h7v7h-7zM581 1676h7v7h-7zM852 1676h7v7h-7zM588 1683h7v7h-7zM859 1683h7v7h-7zM595 1690h7v7h-7zM866 1690h7v7h-7zM602 1697h7v7h-7zM873 1697h8v7h-8zM609 1704h8v8h-8zM881 1704h7v8h-7zM617 1712h7v7h-7zM888 1712h7v7h-7zM624 1719h7v7h-7zM895 1719h7v7h-7zM631 1726h7v7h-7zM638 1733h7v7h-7zM645 1740h7v7h-7zM652 1747h7v7h-7zM659 1754h8v7h-8zM667 1761h7v8h-7zM674 1769h7v7h-7zM681 1776h7v7h-7zM688 1783h7v7h-7zM695 1790h7v7h-7zM702 1797h7v7h-7zM709 1804h7v7h-7zM716 1811h8v7h-8zM724 1818h7v7h-7zM731 1825h7v8h-7zM738 1833h7v7h-7zM745 1840h7v7h-7zM752 1847h7v7h-7zM759 1854h7v7h-7z"/><path fill="#e07860" d="M702 1520h14v7h-14zM709 1527h15v7h-15zM716 1534h15v7h-15zM724 1541h14v7h-14zM731 1548h14v7h-14zM738 1555h14v7h-14zM745 1562h14v7h-14zM752 1569h14v7h-14zM759 1576h15v8h-15zM766 1584h15v7h-15zM774 1591h14v7h-14zM781 1598h14v7h-14zM788 1605h14v7h-14zM795 1612h14v7h-14zM802 1619h14v7h-14zM809 1626h15v7h-15zM816 1633h15v7h-15zM824 1640h14v8h-14zM831 1648h14v7h-14zM838 1655h14v7h-14zM560 1662h7v7h-7zM845 1662h14v7h-14zM560 1669h14v7h-14zM852 1669h14v7h-14zM567 1676h14v7h-14zM859 1676h14v7h-14zM574 1683h14v7h-14zM866 1683h15v7h-15zM581 1690h14v7h-14zM873 1690h15v7h-15zM588 1697h14v7h-14zM881 1697h14v7h-14zM595 1704h14v8h-14zM888 1704h14v8h-14zM602 1712h15v7h-15zM895 1712h7v7h-7zM609 1719h15v7h-15zM617 1726h14v7h-14zM624 1733h14v7h-14zM631 1740h14v7h-14zM638 1747h14v7h-14zM645 1754h14v7h-14zM652 1761h15v8h-15zM659 1769h15v7h-15zM667 1776h14v7h-14zM674 1783h14v7h-14zM681 1790h14v7h-14zM688 1797h14v7h-14zM695 1804h14v7h-14zM702 1811h14v7h-14zM709 1818h15v7h-15zM716 1825h15v8h-15zM724 1833h14v7h-14zM731 1840h14v7h-14zM738 1847h14v7h-14zM745 1854h14v7h-14z"/><path fill="#e07c64" d="M716 1520h15v7h-15zM724 1527h14v7h-14zM731 1534h14v7h-14zM738 1541h14v7h-14zM745 1548h14v7h-14zM752 1555h14v7h-14zM759 1562h15v7h-15zM766 1569h15v7h-15zM774 1576h14v8h-14zM781 1584h14v7h-14zM788 1591h14v7h-14zM795 1598h14v7h-14zM802 1605h14v7h-14zM809 1612h15v7h-15zM816 1619h15v7h-15zM824 1626h14v7h-14zM831 1633h14v7h-14zM838 1640h14v8h-14zM845 1648h14v7h-14zM852 1655h14v7h-14zM859 1662h14v7h-14zM866 1669h15v7h-15zM560 1676h7v7h-7zM873 1676h15v7h-15zM560 1683h14v7h-14zM881 1683h14v7h-14zM567 1690h14v7h-14zM888 1690h14v7h-14zM574 1697h14v7h-14zM895 1697h7v7h-7zM581 1704h14v8h-14zM588 1712h14v7h-14zM595 1719h14v7h-14zM602 1726h15v7h-15zM609 1733h15v7h-15zM617 1740h14v7h-14zM624 1747h14v7h-14zM631 1754h14v7h-14zM638 1761h14v8h-14zM645 1769h14v7h-14zM652 1776h15v7h-15zM659 1783h15v7h-15zM667 1790h14v7h-14zM674 1797h14v7h-14zM681 1804h14v7h-14zM688 1811h14v7h-14zM695 1818h14v7h-14zM702 1825h14v8h-14zM709 1833h15v7h-15zM716 1840h15v7h-15zM724 1847h14v7h-14zM731 1854h14v7h-14z"/><path fill="#e48068" d="M731 1520h14v7h-14zM738 1527h14v7h-14zM745 1534h14v7h-14zM752 1541h14v7h-14zM759 1548h15v7h-15zM766 1555h15v7h-15zM774 1562h14v7h-14zM781 1569h14v7h-14zM788 1576h14v8h-14zM795 1584h14v7h-14zM802 1591h14v7h-14zM809 1598h15v7h-15zM816 1605h15v7h-15zM824 1612h14v7h-14zM831 1619h14v7h-14zM838 1626h14v7h-14zM845 1633h14v7h-14zM852 1640h14v8h-14zM859 1648h14v7h-14zM866 1655h15v7h-15zM873 1662h15v7h-15zM881 1669h14v7h-14zM888 1676h14v7h-14zM895 1683h7v7h-7zM560 1690h7v7h-7zM560 1697h14v7h-14zM567 1704h14v8h-14zM574 1712h14v7h-14zM581 1719h14v7h-14zM588 1726h14v7h-14zM595 1733h14v7h-14zM602 1740h15v7h-15zM609 1747h15v7h-15zM617 1754h14v7h-14zM624 1761h14v8h-14zM631 1769h14v7h-14zM638 1776h14v7h-14zM645 1783h14v7h-14zM652 1790h15v7h-15zM659 1797h15v7h-15zM667 1804h14v7h-14zM674 1811h14v7h-14zM681 1818h14v7h-14zM688 1825h14v8h-14zM695 1833h14v7h-14zM702 1840h14v7h-14zM709 1847h15v7h-15zM716 1854h15v7h-15z"/><path fill="#e48468" d="M745 1520h7v7h-7zM752 1527h7v7h-7zM759 1534h7v7h-7zM766 1541h8v7h-8zM774 1548h7v7h-7zM781 1555h7v7h-7zM788 1562h7v7h-7zM795 1569h7v7h-7zM802 1576h7v8h-7zM809 1584h7v7h-7zM816 1591h8v7h-8zM824 1598h7v7h-7zM831 1605h7v7h-7zM838 1612h7v7h-7zM845 1619h7v7h-7zM852 1626h7v7h-7zM859 1633h7v7h-7zM866 1640h7v8h-7zM873 1648h8v7h-8zM881 1655h7v7h-7zM888 1662h7v7h-7zM895 1669h7v7h-7zM560 1704h7v8h-7zM567 1712h7v7h-7zM574 1719h7v7h-7zM581 1726h7v7h-7zM588 1733h7v7h-7zM595 1740h7v7h-7zM602 1747h7v7h-7zM609 1754h8v7h-8zM617 1761h7v8h-7zM624 1769h7v7h-7zM631 1776h7v7h-7zM638 1783h7v7h-7zM645 1790h7v7h-7zM652 1797h7v7h-7zM659 1804h8v7h-8zM667 1811h7v7h-7zM674 1818h7v7h-7zM681 1825h7v8h-7zM688 1833h7v7h-7zM695 1840h7v7h-7zM702 1847h7v7h-7zM709 1854h7v7h-7z"/><path fill="#e4846c" d="M752 1520h14v7h-14zM759 1527h15v7h-15zM766 1534h15v7h-15zM774 1541h14v7h-14zM781 1548h14v7h-14zM788 1555h14v7h-14zM795 1562h14v7h-14zM802 1569h14v7h-14zM809 1576h15v8h-15zM816 1584h15v7h-15zM824 1591h14v7h-14zM831 1598h14v7h-14zM838 1605h14v7h-14zM845 1612h14v7h-14zM852 1619h14v7h-14zM859 1626h14v7h-14zM866 1633h15v7h-15zM873 1640h15v8h-15zM881 1648h14v7h-14zM888 1655h14v7h-14zM895 1662h7v7h-7zM560 1712h7v7h-7zM560 1719h14v7h-14zM567 1726h14v7h-14zM574 1733h14v7h-14zM581 1740h14v7h-14zM588 1747h14v7h-14zM595 1754h14v7h-14zM602 1761h15v8h-15zM609 1769h15v7h-15zM617 1776h14v7h-14zM624 1783h14v7h-14zM631 1790h14v7h-14zM638 1797h14v7h-14zM645 1804h14v7h-14zM652 1811h15v7h-15zM659 1818h15v7h-15zM667 1825h14v8h-14zM674 1833h14v7h-14zM681 1840h14v7h-14zM688 1847h14v7h-14zM695 1854h14v7h-14z"/><path fill="#e4886c" d="M766 1520h8v7h-8zM774 1527h7v7h-7zM781 1534h7v7h-7zM788 1541h7v7h-7zM795 1548h7v7h-7zM802 1555h7v7h-7zM809 1562h7v7h-7zM816 1569h8v7h-8zM824 1576h7v8h-7zM831 1584h7v7h-7zM838 1591h7v7h-7zM845 1598h7v7h-7zM852 1605h7v7h-7zM859 1612h7v7h-7zM866 1619h7v7h-7zM873 1626h8v7h-8zM881 1633h7v7h-7zM888 1640h7v8h-7zM895 1648h7v7h-7zM560 1726h7v7h-7zM567 1733h7v7h-7zM574 1740h7v7h-7zM581 1747h7v7h-7zM588 1754h7v7h-7zM595 1761h7v8h-7zM602 1769h7v7h-7zM609 1776h8v7h-8zM617 1783h7v7h-7zM624 1790h7v7h-7zM631 1797h7v7h-7zM638 1804h7v7h-7zM645 1811h7v7h-7zM652 1818h7v7h-7zM659 1825h8v8h-8zM667 1833h7v7h-7zM674 1840h7v7h-7zM681 1847h7v7h-7zM688 1854h7v7h-7z"/><path fill="#e88870" d="M774 1520h7v7h-7zM781 1527h7v7h-7zM788 1534h7v7h-7zM795 1541h7v7h-7zM802 1548h7v7h-7zM809 1555h7v7h-7zM816 1562h8v7h-8zM824 1569h7v7h-7zM831 1576h7v8h-7zM838 1584h7v7h-7zM845 1591h7v7h-7zM852 1598h7v7h-7zM859 1605h7v7h-7zM866 1612h7v7h-7zM873 1619h8v7h-8zM881 1626h7v7h-7zM888 1633h7v7h-7zM895 1640h7v8h-7zM560 1733h7v7h-7zM567 1740h7v7h-7zM574 1747h7v7h-7zM581 1754h7v7h-7zM588 1761h7v8h-7zM595 1769h7v7h-7zM602 1776h7v7h-7zM609 1783h8v7h-8zM617 1790h7v7h-7zM624 1797h7v7h-7zM631 1804h7v7h-7zM638 1811h7v7h-7zM645 1818h7v7h-7zM652 1825h7v8h-7zM659 1833h8v7h-8zM667 1840h7v7h-7zM674 1847h7v7h-7zM681 1854h7v7h-7z"/><path fill="#e88c70" d="M781 1520h21v7h-21zM788 1527h21v7h-21zM795 1534h21v7h-21zM802 1541h22v7h-22zM809 1548h22v7h-22zM816 1555h22v7h-22zM824 1562h21v7h-21zM831 1569h21v7h-21zM838 1576h21v8h-21zM845 1584h21v7h-21zM852 1591h21v7h-21zM859 1598h22v7h-22zM866 1605h22v7h-22zM873 1612h22v7h-22zM881 1619h21v7h-21zM888 1626h14v7h-14zM895 1633h7v7h-7zM560 1740h7v7h-7zM560 1747h14v7h-14zM560 1754h21v7h-21zM567 1761h21v8h-21zM574 1769h21v7h-21zM581 1776h21v7h-21zM588 1783h21v7h-21zM595 1790h22v7h-22zM602 1797h22v7h-22zM609 1804h22v7h-22zM617 1811h21v7h-21zM624 1818h21v7h-21zM631 1825h21v8h-21zM638 1833h21v7h-21zM645 1840h22v7h-22zM652 1847h22v7h-22zM659 1854h22v7h-22z"/><path fill="#e89074" d="M802 1520h14v7h-14zM809 1527h15v7h-15zM816 1534h15v7h-15zM824 1541h14v7h-14zM831 1548h14v7h-14zM838 1555h14v7h-14zM845 1562h14v7h-14zM852 1569h14v7h-14zM859 1576h14v8h-14zM866 1584h15v7h-15zM873 1591h15v7h-15zM881 1598h14v7h-14zM888 1605h14v7h-14zM895 1612h7v7h-7zM560 1761h7v8h-7zM560 1769h14v7h-14zM567 1776h14v7h-14zM574 1783h14v7h-14zM581 1790h14v7h-14zM588 1797h14v7h-14zM595 1804h14v7h-14zM602 1811h15v7h-15zM609 1818h15v7h-15zM617 1825h14v8h-14zM624 1833h14v7h-14zM631 1840h14v7h-14zM638 1847h14v7h-14zM645 1854h14v7h-14z"/><path fill="#e89078" d="M816 1520h8v7h-8zM824 1527h7v7h-7zM831 1534h7v7h-7zM838 1541h7v7h-7zM845 1548h7v7h-7zM852 1555h7v7h-7zM859 1562h7v7h-7zM866 1569h7v7h-7zM873 1576h8v8h-8zM881 1584h7v7h-7zM888 1591h7v7h-7zM895 1598h7v7h-7zM560 1776h7v7h-7zM567 1783h7v7h-7zM574 1790h7v7h-7zM581 1797h7v7h-7zM588 1804h7v7h-7zM595 1811h7v7h-7zM602 1818h7v7h-7zM609 1825h8v8h-8zM617 1833h7v7h-7zM624 1840h7v7h-7zM631 1847h7v7h-7zM638 1854h7v7h-7z"/><path fill="#ec9478" d="M824 1520h28v7h-28zM831 1527h28v7h-28zM838 1534h28v7h-28zM845 1541h28v7h-28zM852 1548h29v7h-29zM859 1555h29v7h-29zM866 1562h29v7h-29zM873 1569h29v7h-29zM881 1576h21v8h-21zM888 1584h14v7h-14zM895 1591h7v7h-7zM560 1783h7v7h-7zM560 1790h14v7h-14zM560 1797h21v7h-21zM560 1804h28v7h-28zM567 1811h28v7h-28zM574 1818h28v7h-28zM581 1825h28v8h-28zM588 1833h29v7h-29zM595 1840h29v7h-29zM602 1847h29v7h-29zM609 1854h29v7h-29z"/><path fill="#ec987c" d="M852 1520h50v7h-50zM859 1527h43v7h-43zM866 1534h36v7h-36zM873 1541h29v7h-29zM881 1548h21v7h-21zM888 1555h14v7h-14zM895 1562h7v7h-7zM560 1811h7v7h-7zM560 1818h14v7h-14zM560 1825h21v8h-21zM560 1833h28v7h-28zM560 1840h35v7h-35zM560 1847h42v7h-42zM560 1854h49v7h-49z"/></g>
<line x1="559.5" y1="1519.5" x2="902" y2="1861" stroke="#fdfbfa" stroke-width="6"/>
<rect x="558.5" y="1518.5" width="344.5" height="343.5" fill="none" stroke="#4a4a4a" stroke-width="2"/>
<text x="467.7" y="1533.5" font-size="25" fill="#231f20">-500 kb</text>
<text x="537.1" y="1703.0" font-size="25" fill="#231f20">0</text>
<text x="476.0" y="1867.5" font-size="25" fill="#231f20">500 kb</text>
<text x="540.3" y="1896.8" font-size="25" fill="#231f20">-500 kb</text>
<text x="726.0" y="1896.8" font-size="25" fill="#231f20">0</text>
<text x="842.0" y="1896.8" font-size="25" fill="#231f20">500 kb</text>
<g shape-rendering="crispEdges"><path fill="#d4dce4" d="M1019 1520h164v7h-164zM1019 1527h164v7h-164zM1019 1534h164v7h-164zM1019 1541h164v7h-164zM1019 1548h164v8h-164zM1019 1556h164v7h-164zM1019 1563h164v7h-164zM1019 1570h164v7h-164zM1019 1577h164v7h-164zM1019 1584h164v7h-164zM1019 1591h164v7h-164zM1019 1598h164v7h-164zM1019 1605h164v7h-164zM1019 1612h164v7h-164zM1019 1619h164v8h-164zM1019 1627h164v7h-164zM1019 1634h164v7h-164zM1019 1641h157v7h-157zM1019 1648h149v7h-149zM1019 1655h142v7h-142zM1019 1662h135v7h-135zM1183 1662h7v7h-7zM1019 1669h128v7h-128zM1019 1676h121v7h-121zM1161 1683h7v7h-7zM1247 1690h114v8h-114zM1240 1698h121v7h-121zM1233 1705h128v7h-128zM1226 1712h135v7h-135zM1190 1719h7v7h-7zM1218 1719h143v7h-143zM1190 1726h7v7h-7zM1211 1726h150v7h-150zM1204 1733h157v7h-157zM1197 1740h164v7h-164zM1197 1747h164v7h-164zM1197 1754h164v8h-164zM1197 1762h164v7h-164zM1197 1769h164v7h-164zM1197 1776h164v7h-164zM1197 1783h164v7h-164zM1197 1790h164v7h-164zM1197 1797h164v7h-164zM1197 1804h164v7h-164zM1197 1811h164v7h-164zM1197 1818h164v7h-164zM1197 1825h164v8h-164zM1197 1833h164v7h-164zM1197 1840h164v7h-164zM1197 1847h164v7h-164zM1197 1854h164v7h-164z"/><path fill="#ccd8e8" d="M1183 1520h7v7h-7zM1183 1527h7v7h-7zM1183 1534h7v7h-7zM1183 1541h7v7h-7zM1183 1548h7v8h-7zM1183 1556h7v7h-7zM1183 1563h7v7h-7zM1183 1570h7v7h-7zM1183 1577h7v7h-7zM1183 1584h7v7h-7zM1019 1683h71v7h-71z"/><path fill="#f0ccbc" d="M1190 1520h7v7h-7zM1190 1683h7v7h-7zM1019 1690h7v8h-7z"/><path fill="#f0c4b0" d="M1197 1520h164v7h-164zM1197 1527h164v7h-164zM1197 1534h164v7h-164zM1197 1541h164v7h-164zM1197 1548h164v8h-164zM1325 1556h36v7h-36zM1325 1563h36v7h-36zM1325 1570h36v7h-36zM1325 1577h36v7h-36zM1325 1584h36v7h-36zM1325 1591h36v7h-36zM1325 1598h36v7h-36zM1325 1605h36v7h-36zM1325 1612h36v7h-36zM1325 1619h36v8h-36zM1325 1627h36v7h-36zM1325 1634h36v7h-36zM1325 1641h36v7h-36zM1325 1648h36v7h-36zM1197 1655h29v7h-29zM1325 1655h36v7h-36zM1197 1662h29v7h-29zM1325 1662h36v7h-36zM1197 1669h29v7h-29zM1325 1669h36v7h-36zM1197 1676h29v7h-29zM1325 1676h36v7h-36zM1197 1683h29v7h-29zM1325 1683h36v7h-36zM1019 1698h35v7h-35zM1154 1698h29v7h-29zM1019 1705h35v7h-35zM1154 1705h29v7h-29zM1019 1712h35v7h-35zM1154 1712h29v7h-29zM1019 1719h35v7h-35zM1154 1719h29v7h-29zM1019 1726h35v7h-35zM1019 1733h35v7h-35zM1019 1740h35v7h-35zM1019 1747h35v7h-35zM1019 1754h35v8h-35zM1019 1762h35v7h-35zM1019 1769h35v7h-35zM1019 1776h35v7h-35zM1019 1783h35v7h-35zM1019 1790h35v7h-35zM1019 1797h35v7h-35zM1019 1804h35v7h-35zM1019 1811h35v7h-35zM1019 1818h35v7h-35zM1019 1825h164v8h-164zM1019 1833h164v7h-164zM1019 1840h164v7h-164zM1019 1847h164v7h-164zM1019 1854h164v7h-164z"/><path fill="#f0ccb8" d="M1190 1527h7v7h-7zM1190 1534h7v7h-7zM1190 1541h7v7h-7zM1190 1548h7v8h-7zM1190 1556h7v7h-7zM1190 1563h7v7h-7zM1190 1570h7v7h-7zM1190 1577h7v7h-7zM1190 1627h7v7h-7zM1190 1634h7v7h-7zM1190 1641h7v7h-7zM1190 1648h7v7h-7zM1190 1655h7v7h-7zM1190 1662h7v7h-7zM1190 1669h7v7h-7zM1190 1676h7v7h-7zM1026 1690h57v8h-57zM1126 1690h57v8h-57z"/><path fill="#f0c4ac" d="M1197 1556h128v7h-128zM1197 1563h128v7h-128zM1197 1570h128v7h-128zM1197 1577h128v7h-128zM1197 1584h128v7h-128zM1197 1591h128v7h-128zM1197 1598h128v7h-128zM1197 1605h128v7h-128zM1197 1612h128v7h-128zM1197 1619h128v8h-128zM1197 1627h128v7h-128zM1197 1634h128v7h-128zM1197 1641h128v7h-128zM1197 1648h128v7h-128zM1226 1655h99v7h-99zM1226 1662h99v7h-99zM1226 1669h99v7h-99zM1226 1676h99v7h-99zM1226 1683h99v7h-99zM1054 1698h100v7h-100zM1054 1705h100v7h-100zM1054 1712h100v7h-100zM1054 1719h100v7h-100zM1054 1726h129v7h-129zM1054 1733h129v7h-129zM1054 1740h129v7h-129zM1054 1747h129v7h-129zM1054 1754h129v8h-129zM1054 1762h129v7h-129zM1054 1769h129v7h-129zM1054 1776h129v7h-129zM1054 1783h129v7h-129zM1054 1790h129v7h-129zM1054 1797h129v7h-129zM1054 1804h129v7h-129zM1054 1811h129v7h-129zM1054 1818h129v7h-129z"/><path fill="#f0c8b8" d="M1190 1584h7v7h-7zM1190 1591h7v7h-7zM1190 1598h7v7h-7zM1190 1605h7v7h-7zM1190 1612h7v7h-7zM1190 1619h7v8h-7zM1083 1690h43v8h-43zM1183 1698h7v7h-7zM1183 1705h7v7h-7zM1183 1712h7v7h-7zM1183 1833h7v7h-7zM1183 1840h7v7h-7zM1183 1847h7v7h-7zM1183 1854h7v7h-7z"/><path fill="#d0d8e8" d="M1183 1591h7v7h-7zM1183 1598h7v7h-7zM1183 1605h7v7h-7zM1183 1612h7v7h-7zM1183 1619h7v8h-7zM1183 1627h7v7h-7zM1183 1634h7v7h-7zM1090 1683h50v7h-50zM1190 1769h7v7h-7zM1190 1776h7v7h-7zM1190 1783h7v7h-7zM1190 1790h7v7h-7zM1190 1797h7v7h-7zM1190 1804h7v7h-7zM1190 1811h7v7h-7zM1190 1818h7v7h-7zM1190 1825h7v8h-7zM1190 1833h7v7h-7zM1190 1840h7v7h-7zM1190 1847h7v7h-7zM1190 1854h7v7h-7z"/><path fill="#d8dce4" d="M1176 1641h7v7h-7zM1168 1648h8v7h-8zM1161 1655h7v7h-7zM1154 1662h7v7h-7zM1147 1669h7v7h-7zM1140 1676h7v7h-7zM1240 1690h7v8h-7zM1233 1698h7v7h-7zM1226 1705h7v7h-7zM1218 1712h8v7h-8zM1211 1719h7v7h-7zM1204 1726h7v7h-7zM1197 1733h7v7h-7z"/><path fill="#d0d8e4" d="M1183 1641h7v7h-7zM1140 1683h7v7h-7zM1190 1754h7v8h-7zM1190 1762h7v7h-7z"/><path fill="#d8dce0" d="M1176 1648h7v7h-7zM1168 1655h15v7h-15zM1161 1662h22v7h-22zM1154 1669h22v7h-22zM1183 1669h7v7h-7zM1147 1676h21v7h-21zM1183 1676h7v7h-7zM1168 1683h22v7h-22zM1218 1690h22v8h-22zM1211 1698h22v7h-22zM1190 1705h7v7h-7zM1204 1705h22v7h-22zM1190 1712h28v7h-28zM1197 1719h14v7h-14zM1197 1726h7v7h-7z"/><path fill="#d4d8e4" d="M1183 1648h7v7h-7zM1183 1655h7v7h-7zM1147 1683h14v7h-14zM1190 1733h7v7h-7zM1190 1740h7v7h-7zM1190 1747h7v7h-7z"/><path fill="#dcdce0" d="M1176 1669h7v7h-7zM1168 1676h8v7h-8zM1211 1690h7v8h-7zM1204 1698h7v7h-7zM1197 1705h7v7h-7z"/><path fill="#dcdcdc" d="M1176 1676h7v7h-7zM1204 1690h7v8h-7zM1190 1698h14v7h-14z"/><path fill="#ecd0c0" d="M1183 1690h7v8h-7z"/><path fill="#e0dcd8" d="M1190 1690h14v8h-14z"/><path fill="#f0c8b4" d="M1183 1719h7v7h-7zM1183 1726h7v7h-7zM1183 1733h7v7h-7zM1183 1740h7v7h-7zM1183 1747h7v7h-7zM1183 1754h7v8h-7zM1183 1762h7v7h-7zM1183 1769h7v7h-7zM1183 1776h7v7h-7zM1183 1783h7v7h-7zM1183 1790h7v7h-7zM1183 1797h7v7h-7zM1183 1804h7v7h-7zM1183 1811h7v7h-7zM1183 1818h7v7h-7zM1183 1825h7v8h-7z"/></g>
<line x1="1018.7" y1="1520" x2="1361" y2="1861" stroke="#fdfbfa" stroke-width="6"/>
<rect x="1017.7" y="1519" width="344.3" height="343.0" fill="none" stroke="#4a4a4a" stroke-width="2"/>
<text x="924.7" y="1533.5" font-size="25" fill="#231f20">-500 kb</text>
<text x="994.1" y="1703.0" font-size="25" fill="#231f20">0</text>
<text x="933.0" y="1867.5" font-size="25" fill="#231f20">500 kb</text>
<text x="996.9" y="1896.8" font-size="25" fill="#231f20">-500 kb</text>
<text x="1183.0" y="1896.8" font-size="25" fill="#231f20">0</text>
<text x="1299.0" y="1896.8" font-size="25" fill="#231f20">500 kb</text>
<g shape-rendering="crispEdges"><path fill="#ccd8e8" d="M102 2092h22v8h-22zM102 2100h29v7h-29zM102 2107h36v7h-36zM109 2114h36v7h-36zM116 2121h36v7h-36zM124 2128h35v7h-35zM131 2135h36v7h-36zM138 2142h36v7h-36zM145 2149h36v7h-36zM152 2156h36v8h-36zM159 2164h36v7h-36zM167 2171h35v7h-35zM174 2178h36v7h-36zM181 2185h36v7h-36zM188 2192h36v7h-36zM195 2199h36v7h-36zM202 2206h36v7h-36zM210 2213h35v7h-35zM217 2220h36v8h-36zM224 2228h36v7h-36zM231 2235h36v7h-36zM238 2242h36v7h-36zM245 2249h29v7h-29zM253 2256h21v7h-21zM274 2263h22v7h-22zM274 2270h29v7h-29zM274 2277h36v8h-36zM281 2285h36v7h-36zM288 2292h36v7h-36zM296 2299h35v7h-35zM303 2306h36v7h-36zM310 2313h36v7h-36zM317 2320h36v7h-36zM324 2327h36v7h-36zM331 2334h36v7h-36zM339 2341h35v8h-35zM346 2349h36v7h-36zM353 2356h36v7h-36zM360 2363h36v7h-36zM367 2370h36v7h-36zM374 2377h36v7h-36zM382 2384h36v7h-36zM389 2391h36v7h-36zM396 2398h36v8h-36zM403 2406h36v7h-36zM410 2413h36v7h-36zM418 2420h28v7h-28zM425 2427h21v7h-21z"/><path fill="#ccd4e8" d="M124 2092h7v8h-7zM131 2100h7v7h-7zM138 2107h7v7h-7zM102 2114h7v7h-7zM145 2114h7v7h-7zM109 2121h7v7h-7zM152 2121h7v7h-7zM116 2128h8v7h-8zM159 2128h8v7h-8zM124 2135h7v7h-7zM167 2135h7v7h-7zM131 2142h7v7h-7zM174 2142h7v7h-7zM138 2149h7v7h-7zM181 2149h7v7h-7zM145 2156h7v8h-7zM188 2156h7v8h-7zM152 2164h7v7h-7zM195 2164h7v7h-7zM159 2171h8v7h-8zM202 2171h8v7h-8zM167 2178h7v7h-7zM210 2178h7v7h-7zM174 2185h7v7h-7zM217 2185h7v7h-7zM181 2192h7v7h-7zM224 2192h7v7h-7zM188 2199h7v7h-7zM231 2199h7v7h-7zM195 2206h7v7h-7zM238 2206h7v7h-7zM202 2213h8v7h-8zM245 2213h8v7h-8zM210 2220h7v8h-7zM253 2220h7v8h-7zM217 2228h7v7h-7zM260 2228h7v7h-7zM224 2235h7v7h-7zM267 2235h7v7h-7zM231 2242h7v7h-7zM238 2249h7v7h-7zM245 2256h8v7h-8zM296 2263h7v7h-7zM303 2270h7v7h-7zM310 2277h7v8h-7zM274 2285h7v7h-7zM317 2285h7v7h-7zM281 2292h7v7h-7zM324 2292h7v7h-7zM288 2299h8v7h-8zM331 2299h8v7h-8zM296 2306h7v7h-7zM339 2306h7v7h-7zM303 2313h7v7h-7zM346 2313h7v7h-7zM310 2320h7v7h-7zM353 2320h7v7h-7zM317 2327h7v7h-7zM360 2327h7v7h-7zM324 2334h7v7h-7zM367 2334h7v7h-7zM331 2341h8v8h-8zM374 2341h8v8h-8zM339 2349h7v7h-7zM382 2349h7v7h-7zM346 2356h7v7h-7zM389 2356h7v7h-7zM353 2363h7v7h-7zM396 2363h7v7h-7zM360 2370h7v7h-7zM403 2370h7v7h-7zM367 2377h7v7h-7zM410 2377h8v7h-8zM374 2384h8v7h-8zM418 2384h7v7h-7zM382 2391h7v7h-7zM425 2391h7v7h-7zM389 2398h7v8h-7zM432 2398h7v8h-7zM396 2406h7v7h-7zM439 2406h7v7h-7zM403 2413h7v7h-7zM410 2420h8v7h-8zM418 2427h7v7h-7z"/><path fill="#c8d4ec" d="M131 2092h7v8h-7zM138 2100h7v7h-7zM145 2107h7v7h-7zM152 2114h7v7h-7zM102 2121h7v7h-7zM159 2121h8v7h-8zM109 2128h7v7h-7zM167 2128h7v7h-7zM116 2135h8v7h-8zM174 2135h7v7h-7zM124 2142h7v7h-7zM181 2142h7v7h-7zM131 2149h7v7h-7zM188 2149h7v7h-7zM138 2156h7v8h-7zM195 2156h7v8h-7zM145 2164h7v7h-7zM202 2164h8v7h-8zM152 2171h7v7h-7zM210 2171h7v7h-7zM159 2178h8v7h-8zM217 2178h7v7h-7zM167 2185h7v7h-7zM224 2185h7v7h-7zM174 2192h7v7h-7zM231 2192h7v7h-7zM181 2199h7v7h-7zM238 2199h7v7h-7zM188 2206h7v7h-7zM245 2206h8v7h-8zM195 2213h7v7h-7zM253 2213h7v7h-7zM202 2220h8v8h-8zM260 2220h7v8h-7zM210 2228h7v7h-7zM267 2228h7v7h-7zM217 2235h7v7h-7zM224 2242h7v7h-7zM231 2249h7v7h-7zM238 2256h7v7h-7zM303 2263h7v7h-7zM310 2270h7v7h-7zM317 2277h7v8h-7zM324 2285h7v7h-7zM274 2292h7v7h-7zM331 2292h8v7h-8zM281 2299h7v7h-7zM339 2299h7v7h-7zM288 2306h8v7h-8zM346 2306h7v7h-7zM296 2313h7v7h-7zM353 2313h7v7h-7zM303 2320h7v7h-7zM360 2320h7v7h-7zM310 2327h7v7h-7zM367 2327h7v7h-7zM317 2334h7v7h-7zM374 2334h8v7h-8zM324 2341h7v8h-7zM382 2341h7v8h-7zM331 2349h8v7h-8zM389 2349h7v7h-7zM339 2356h7v7h-7zM396 2356h7v7h-7zM346 2363h7v7h-7zM403 2363h7v7h-7zM353 2370h7v7h-7zM410 2370h8v7h-8zM360 2377h7v7h-7zM418 2377h7v7h-7zM367 2384h7v7h-7zM425 2384h7v7h-7zM374 2391h8v7h-8zM432 2391h7v7h-7zM382 2398h7v8h-7zM439 2398h7v8h-7zM389 2406h7v7h-7zM396 2413h7v7h-7zM403 2420h7v7h-7zM410 2427h8v7h-8z"/><path fill="#c4d4ec" d="M138 2092h7v8h-7zM145 2100h7v7h-7zM102 2128h7v7h-7zM109 2135h7v7h-7zM432 2384h7v7h-7zM439 2391h7v7h-7zM396 2420h7v7h-7zM403 2427h7v7h-7z"/><path fill="#c0d0ec" d="M145 2092h7v8h-7zM152 2100h7v7h-7zM159 2107h8v7h-8zM102 2135h7v7h-7zM181 2135h7v7h-7zM109 2142h7v7h-7zM188 2142h7v7h-7zM116 2149h8v7h-8zM195 2149h7v7h-7zM202 2156h8v8h-8zM210 2164h7v7h-7zM145 2171h7v7h-7zM217 2171h7v7h-7zM152 2178h7v7h-7zM224 2178h7v7h-7zM159 2185h8v7h-8zM231 2185h7v7h-7zM167 2192h7v7h-7zM238 2192h7v7h-7zM174 2199h7v7h-7zM245 2199h8v7h-8zM181 2206h7v7h-7zM253 2206h7v7h-7zM188 2213h7v7h-7zM260 2213h7v7h-7zM195 2220h7v8h-7zM267 2220h7v8h-7zM202 2228h8v7h-8zM210 2235h7v7h-7zM217 2242h7v7h-7zM224 2249h7v7h-7zM231 2256h7v7h-7zM310 2263h7v7h-7zM317 2270h7v7h-7zM324 2277h7v8h-7zM331 2285h8v7h-8zM339 2292h7v7h-7zM274 2299h7v7h-7zM346 2299h7v7h-7zM281 2306h7v7h-7zM353 2306h7v7h-7zM288 2313h8v7h-8zM360 2313h7v7h-7zM296 2320h7v7h-7zM367 2320h7v7h-7zM303 2327h7v7h-7zM374 2327h8v7h-8zM310 2334h7v7h-7zM382 2334h7v7h-7zM317 2341h7v8h-7zM389 2341h7v8h-7zM324 2349h7v7h-7zM396 2349h7v7h-7zM331 2356h8v7h-8zM339 2363h7v7h-7zM346 2370h7v7h-7zM425 2370h7v7h-7zM353 2377h7v7h-7zM432 2377h7v7h-7zM360 2384h7v7h-7zM439 2384h7v7h-7zM382 2413h7v7h-7zM389 2420h7v7h-7zM396 2427h7v7h-7z"/><path fill="#bcccec" d="M152 2092h7v8h-7zM174 2121h7v7h-7zM181 2128h7v7h-7zM102 2142h7v7h-7zM131 2164h7v7h-7zM138 2171h7v7h-7zM403 2349h7v7h-7zM410 2356h8v7h-8zM439 2377h7v7h-7zM360 2391h7v7h-7zM367 2398h7v8h-7zM389 2427h7v7h-7z"/><path fill="#b8c8ec" d="M159 2092h8v8h-8zM102 2149h7v7h-7zM439 2370h7v7h-7zM382 2427h7v7h-7z"/><path fill="#acc4ec" d="M167 2092h7v8h-7zM174 2107h7v7h-7zM102 2156h7v8h-7zM116 2164h8v7h-8zM425 2356h7v7h-7zM439 2363h7v7h-7zM367 2413h7v7h-7zM374 2427h8v7h-8z"/><path fill="#a0b8ec" d="M174 2092h7v8h-7zM181 2107h7v7h-7zM102 2164h7v7h-7zM116 2171h8v7h-8zM425 2349h7v7h-7zM439 2356h7v7h-7zM360 2413h7v7h-7zM367 2427h7v7h-7z"/><path fill="#90a8e4" d="M181 2092h7v8h-7zM102 2171h7v7h-7zM439 2349h7v7h-7zM360 2427h7v7h-7z"/><path fill="#8098dc" d="M188 2092h7v8h-7zM195 2100h7v7h-7zM202 2107h8v7h-8zM210 2114h7v7h-7zM217 2121h7v7h-7zM224 2128h7v7h-7zM231 2135h7v7h-7zM238 2142h7v7h-7zM245 2149h8v7h-8zM253 2156h7v8h-7zM260 2164h7v7h-7zM267 2171h7v7h-7zM102 2178h7v7h-7zM109 2185h7v7h-7zM116 2192h8v7h-8zM124 2199h7v7h-7zM131 2206h7v7h-7zM138 2213h7v7h-7zM145 2220h7v8h-7zM152 2228h7v7h-7zM159 2235h8v7h-8zM167 2242h7v7h-7zM174 2249h7v7h-7zM181 2256h7v7h-7zM360 2263h7v7h-7zM367 2270h7v7h-7zM374 2277h8v8h-8zM382 2285h7v7h-7zM389 2292h7v7h-7zM396 2299h7v7h-7zM403 2306h7v7h-7zM410 2313h8v7h-8zM418 2320h7v7h-7zM425 2327h7v7h-7zM432 2334h7v7h-7zM439 2341h7v8h-7zM274 2349h7v7h-7zM281 2356h7v7h-7zM288 2363h8v7h-8zM296 2370h7v7h-7zM303 2377h7v7h-7zM310 2384h7v7h-7zM317 2391h7v7h-7zM324 2398h7v8h-7zM331 2406h8v7h-8zM339 2413h7v7h-7zM346 2420h7v7h-7zM353 2427h7v7h-7z"/><path fill="#7890d8" d="M195 2092h7v8h-7zM202 2100h8v7h-8zM210 2107h7v7h-7zM217 2114h7v7h-7zM224 2121h7v7h-7zM231 2128h7v7h-7zM238 2135h7v7h-7zM245 2142h8v7h-8zM253 2149h7v7h-7zM260 2156h7v8h-7zM267 2164h7v7h-7zM102 2185h7v7h-7zM109 2192h7v7h-7zM116 2199h8v7h-8zM124 2206h7v7h-7zM131 2213h7v7h-7zM138 2220h7v8h-7zM145 2228h7v7h-7zM152 2235h7v7h-7zM159 2242h8v7h-8zM167 2249h7v7h-7zM174 2256h7v7h-7zM367 2263h7v7h-7zM374 2270h8v7h-8zM382 2277h7v8h-7zM389 2285h7v7h-7zM396 2292h7v7h-7zM403 2299h7v7h-7zM410 2306h8v7h-8zM418 2313h7v7h-7zM425 2320h7v7h-7zM432 2327h7v7h-7zM439 2334h7v7h-7zM274 2356h7v7h-7zM281 2363h7v7h-7zM288 2370h8v7h-8zM296 2377h7v7h-7zM303 2384h7v7h-7zM310 2391h7v7h-7zM317 2398h7v8h-7zM324 2406h7v7h-7zM331 2413h8v7h-8zM339 2420h7v7h-7zM346 2427h7v7h-7z"/><path fill="#748cd4" d="M202 2092h72v8h-72zM210 2100h64v7h-64zM217 2107h57v7h-57zM224 2114h50v7h-50zM231 2121h43v7h-43zM238 2128h36v7h-36zM245 2135h29v7h-29zM253 2142h21v7h-21zM260 2149h14v7h-14zM267 2156h7v8h-7zM102 2192h7v7h-7zM102 2199h14v7h-14zM102 2206h22v7h-22zM102 2213h29v7h-29zM102 2220h36v8h-36zM102 2228h43v7h-43zM102 2235h50v7h-50zM102 2242h57v7h-57zM102 2249h65v7h-65zM102 2256h72v7h-72zM374 2263h72v7h-72zM382 2270h64v7h-64zM389 2277h57v8h-57zM396 2285h50v7h-50zM403 2292h43v7h-43zM410 2299h36v7h-36zM418 2306h28v7h-28zM425 2313h21v7h-21zM432 2320h14v7h-14zM439 2327h7v7h-7zM274 2363h7v7h-7zM274 2370h14v7h-14zM274 2377h22v7h-22zM274 2384h29v7h-29zM274 2391h36v7h-36zM274 2398h43v8h-43zM274 2406h50v7h-50zM274 2413h57v7h-57zM274 2420h65v7h-65zM274 2427h72v7h-72z"/><path fill="#bc4034" d="M274 2092h7v8h-7zM281 2100h7v7h-7zM288 2107h8v7h-8zM296 2114h7v7h-7zM303 2121h7v7h-7zM310 2128h7v7h-7zM317 2135h7v7h-7zM324 2142h7v7h-7zM331 2149h8v7h-8zM339 2156h7v8h-7zM346 2164h7v7h-7zM353 2171h7v7h-7zM360 2178h7v7h-7zM367 2185h7v7h-7zM374 2192h8v7h-8zM382 2199h7v7h-7zM389 2206h7v7h-7zM396 2213h7v7h-7zM403 2220h7v8h-7zM410 2228h8v7h-8zM418 2235h7v7h-7zM425 2242h7v7h-7zM432 2249h7v7h-7zM439 2256h7v7h-7zM102 2263h7v7h-7zM109 2270h7v7h-7zM116 2277h8v8h-8zM124 2285h7v7h-7zM131 2292h7v7h-7zM138 2299h7v7h-7zM145 2306h7v7h-7zM152 2313h7v7h-7zM159 2320h8v7h-8zM167 2327h7v7h-7zM174 2334h7v7h-7zM181 2341h7v8h-7zM188 2349h7v7h-7zM195 2356h7v7h-7zM202 2363h8v7h-8zM210 2370h7v7h-7zM217 2377h7v7h-7zM224 2384h7v7h-7zM231 2391h7v7h-7zM238 2398h7v8h-7zM245 2406h8v7h-8zM253 2413h7v7h-7zM260 2420h7v7h-7zM267 2427h7v7h-7z"/><path fill="#c4483c" d="M281 2092h7v8h-7zM288 2100h8v7h-8zM296 2107h7v7h-7zM303 2114h7v7h-7zM310 2121h7v7h-7zM317 2128h7v7h-7zM324 2135h7v7h-7zM331 2142h8v7h-8zM339 2149h7v7h-7zM346 2156h7v8h-7zM353 2164h7v7h-7zM360 2171h7v7h-7zM367 2178h7v7h-7zM374 2185h8v7h-8zM382 2192h7v7h-7zM389 2199h7v7h-7zM396 2206h7v7h-7zM403 2213h7v7h-7zM410 2220h8v8h-8zM418 2228h7v7h-7zM425 2235h7v7h-7zM432 2242h7v7h-7zM439 2249h7v7h-7zM102 2270h7v7h-7zM109 2277h7v8h-7zM116 2285h8v7h-8zM124 2292h7v7h-7zM131 2299h7v7h-7zM138 2306h7v7h-7zM145 2313h7v7h-7zM152 2320h7v7h-7zM159 2327h8v7h-8zM167 2334h7v7h-7zM174 2341h7v8h-7zM181 2349h7v7h-7zM188 2356h7v7h-7zM195 2363h7v7h-7zM202 2370h8v7h-8zM210 2377h7v7h-7zM217 2384h7v7h-7zM224 2391h7v7h-7zM231 2398h7v8h-7zM238 2406h7v7h-7zM245 2413h8v7h-8zM253 2420h7v7h-7zM260 2427h7v7h-7z"/><path fill="#c85040" d="M288 2092h8v8h-8zM296 2100h7v7h-7zM303 2107h7v7h-7zM310 2114h7v7h-7zM317 2121h7v7h-7zM324 2128h7v7h-7zM331 2135h8v7h-8zM339 2142h7v7h-7zM346 2149h7v7h-7zM353 2156h7v8h-7zM360 2164h7v7h-7zM367 2171h7v7h-7zM374 2178h8v7h-8zM382 2185h7v7h-7zM389 2192h7v7h-7zM396 2199h7v7h-7zM403 2206h7v7h-7zM410 2213h8v7h-8zM418 2220h7v8h-7zM425 2228h7v7h-7zM432 2235h7v7h-7zM439 2242h7v7h-7zM102 2277h7v8h-7zM109 2285h7v7h-7zM116 2292h8v7h-8zM124 2299h7v7h-7zM131 2306h7v7h-7zM138 2313h7v7h-7zM145 2320h7v7h-7zM152 2327h7v7h-7zM159 2334h8v7h-8zM167 2341h7v8h-7zM174 2349h7v7h-7zM181 2356h7v7h-7zM188 2363h7v7h-7zM195 2370h7v7h-7zM202 2377h8v7h-8zM210 2384h7v7h-7zM217 2391h7v7h-7zM224 2398h7v8h-7zM231 2406h7v7h-7zM238 2413h7v7h-7zM245 2420h8v7h-8zM253 2427h7v7h-7z"/><path fill="#cc5848" d="M296 2092h7v8h-7zM303 2100h7v7h-7zM310 2107h7v7h-7zM317 2114h7v7h-7zM324 2121h7v7h-7zM331 2128h8v7h-8zM339 2135h7v7h-7zM346 2142h7v7h-7zM353 2149h7v7h-7zM360 2156h7v8h-7zM367 2164h7v7h-7zM374 2171h8v7h-8zM382 2178h7v7h-7zM389 2185h7v7h-7zM396 2192h7v7h-7zM403 2199h7v7h-7zM410 2206h8v7h-8zM418 2213h7v7h-7zM425 2220h7v8h-7zM432 2228h7v7h-7zM439 2235h7v7h-7zM102 2285h7v7h-7zM109 2292h7v7h-7zM116 2299h8v7h-8zM124 2306h7v7h-7zM131 2313h7v7h-7zM138 2320h7v7h-7zM145 2327h7v7h-7zM152 2334h7v7h-7zM159 2341h8v8h-8zM167 2349h7v7h-7zM174 2356h7v7h-7zM181 2363h7v7h-7zM188 2370h7v7h-7zM195 2377h7v7h-7zM202 2384h8v7h-8zM210 2391h7v7h-7zM217 2398h7v8h-7zM224 2406h7v7h-7zM231 2413h7v7h-7zM238 2420h7v7h-7zM245 2427h8v7h-8z"/><path fill="#d46450" d="M303 2092h7v8h-7zM310 2100h7v7h-7zM317 2107h7v7h-7zM324 2114h7v7h-7zM331 2121h8v7h-8zM339 2128h7v7h-7zM346 2135h7v7h-7zM353 2142h7v7h-7zM360 2149h7v7h-7zM367 2156h7v8h-7zM374 2164h8v7h-8zM382 2171h7v7h-7zM389 2178h7v7h-7zM396 2185h7v7h-7zM403 2192h7v7h-7zM410 2199h8v7h-8zM418 2206h7v7h-7zM425 2213h7v7h-7zM432 2220h7v8h-7zM439 2228h7v7h-7zM102 2292h7v7h-7zM109 2299h7v7h-7zM116 2306h8v7h-8zM124 2313h7v7h-7zM131 2320h7v7h-7zM138 2327h7v7h-7zM145 2334h7v7h-7zM152 2341h7v8h-7zM159 2349h8v7h-8zM167 2356h7v7h-7zM174 2363h7v7h-7zM181 2370h7v7h-7zM188 2377h7v7h-7zM195 2384h7v7h-7zM202 2391h8v7h-8zM210 2398h7v8h-7zM217 2406h7v7h-7zM224 2413h7v7h-7zM231 2420h7v7h-7zM238 2427h7v7h-7z"/><path fill="#d86c58" d="M310 2092h7v8h-7zM317 2100h7v7h-7zM324 2107h7v7h-7zM331 2114h8v7h-8zM339 2121h7v7h-7zM346 2128h7v7h-7zM353 2135h7v7h-7zM360 2142h7v7h-7zM367 2149h7v7h-7zM374 2156h8v8h-8zM382 2164h7v7h-7zM389 2171h7v7h-7zM396 2178h7v7h-7zM403 2185h7v7h-7zM410 2192h8v7h-8zM418 2199h7v7h-7zM425 2206h7v7h-7zM432 2213h7v7h-7zM439 2220h7v8h-7zM102 2299h7v7h-7zM109 2306h7v7h-7zM116 2313h8v7h-8zM124 2320h7v7h-7zM131 2327h7v7h-7zM138 2334h7v7h-7zM145 2341h7v8h-7zM152 2349h7v7h-7zM159 2356h8v7h-8zM167 2363h7v7h-7zM174 2370h7v7h-7zM181 2377h7v7h-7zM188 2384h7v7h-7zM195 2391h7v7h-7zM202 2398h8v8h-8zM210 2406h7v7h-7zM217 2413h7v7h-7zM224 2420h7v7h-7zM231 2427h7v7h-7z"/><path fill="#e07860" d="M317 2092h7v8h-7zM324 2100h7v7h-7zM331 2107h8v7h-8zM339 2114h7v7h-7zM346 2121h7v7h-7zM353 2128h7v7h-7zM360 2135h7v7h-7zM367 2142h7v7h-7zM374 2149h8v7h-8zM382 2156h7v8h-7zM389 2164h7v7h-7zM396 2171h7v7h-7zM403 2178h7v7h-7zM410 2185h8v7h-8zM418 2192h7v7h-7zM425 2199h7v7h-7zM432 2206h7v7h-7zM439 2213h7v7h-7zM102 2306h7v7h-7zM109 2313h7v7h-7zM116 2320h8v7h-8zM124 2327h7v7h-7zM131 2334h7v7h-7zM138 2341h7v8h-7zM145 2349h7v7h-7zM152 2356h7v7h-7zM159 2363h8v7h-8zM167 2370h7v7h-7zM174 2377h7v7h-7zM181 2384h7v7h-7zM188 2391h7v7h-7zM195 2398h7v8h-7zM202 2406h8v7h-8zM210 2413h7v7h-7zM217 2420h7v7h-7zM224 2427h7v7h-7z"/><path fill="#e4846c" d="M324 2092h7v8h-7zM331 2100h8v7h-8zM339 2107h7v7h-7zM346 2114h7v7h-7zM353 2121h7v7h-7zM360 2128h7v7h-7zM367 2135h7v7h-7zM374 2142h8v7h-8zM382 2149h7v7h-7zM389 2156h7v8h-7zM396 2164h7v7h-7zM403 2171h7v7h-7zM410 2178h8v7h-8zM418 2185h7v7h-7zM425 2192h7v7h-7zM432 2199h7v7h-7zM439 2206h7v7h-7zM102 2313h7v7h-7zM109 2320h7v7h-7zM116 2327h8v7h-8zM124 2334h7v7h-7zM131 2341h7v8h-7zM138 2349h7v7h-7zM145 2356h7v7h-7zM152 2363h7v7h-7zM159 2370h8v7h-8zM167 2377h7v7h-7zM174 2384h7v7h-7zM181 2391h7v7h-7zM188 2398h7v8h-7zM195 2406h7v7h-7zM202 2413h8v7h-8zM210 2420h7v7h-7zM217 2427h7v7h-7z"/><path fill="#e89074" d="M331 2092h8v8h-8zM339 2100h7v7h-7zM346 2107h7v7h-7zM353 2114h7v7h-7zM360 2121h7v7h-7zM367 2128h7v7h-7zM374 2135h8v7h-8zM382 2142h7v7h-7zM389 2149h7v7h-7zM396 2156h7v8h-7zM403 2164h7v7h-7zM410 2171h8v7h-8zM418 2178h7v7h-7zM425 2185h7v7h-7zM432 2192h7v7h-7zM439 2199h7v7h-7zM102 2320h7v7h-7zM109 2327h7v7h-7zM116 2334h8v7h-8zM124 2341h7v8h-7zM131 2349h7v7h-7zM138 2356h7v7h-7zM145 2363h7v7h-7zM152 2370h7v7h-7zM159 2377h8v7h-8zM167 2384h7v7h-7zM174 2391h7v7h-7zM181 2398h7v8h-7zM188 2406h7v7h-7zM195 2413h7v7h-7zM202 2420h8v7h-8zM210 2427h7v7h-7z"/><path fill="#ec9c80" d="M339 2092h7v8h-7zM346 2100h7v7h-7zM353 2107h7v7h-7zM360 2114h7v7h-7zM367 2121h7v7h-7zM374 2128h8v7h-8zM382 2135h7v7h-7zM389 2142h7v7h-7zM396 2149h7v7h-7zM403 2156h7v8h-7zM410 2164h8v7h-8zM418 2171h7v7h-7zM425 2178h7v7h-7zM432 2185h7v7h-7zM439 2192h7v7h-7zM102 2327h7v7h-7zM109 2334h7v7h-7zM116 2341h8v8h-8zM124 2349h7v7h-7zM131 2356h7v7h-7zM138 2363h7v7h-7zM145 2370h7v7h-7zM152 2377h7v7h-7zM159 2384h8v7h-8zM167 2391h7v7h-7zM174 2398h7v8h-7zM181 2406h7v7h-7zM188 2413h7v7h-7zM195 2420h7v7h-7zM202 2427h8v7h-8z"/><path fill="#f0a488" d="M346 2092h7v8h-7zM353 2100h7v7h-7zM360 2107h7v7h-7zM367 2114h7v7h-7zM374 2121h8v7h-8zM382 2128h7v7h-7zM389 2135h7v7h-7zM396 2142h7v7h-7zM403 2149h7v7h-7zM410 2156h8v8h-8zM418 2164h7v7h-7zM425 2171h7v7h-7zM432 2178h7v7h-7zM439 2185h7v7h-7zM102 2334h7v7h-7zM109 2341h7v8h-7zM116 2349h8v7h-8zM124 2356h7v7h-7zM131 2363h7v7h-7zM138 2370h7v7h-7zM145 2377h7v7h-7zM152 2384h7v7h-7zM159 2391h8v7h-8zM167 2398h7v8h-7zM174 2406h7v7h-7zM181 2413h7v7h-7zM188 2420h7v7h-7zM195 2427h7v7h-7z"/><path fill="#f0a890" d="M353 2092h7v8h-7zM360 2100h7v7h-7zM367 2107h7v7h-7zM374 2114h8v7h-8zM382 2121h7v7h-7zM389 2128h7v7h-7zM396 2135h7v7h-7zM403 2142h7v7h-7zM410 2149h8v7h-8zM418 2156h7v8h-7zM425 2164h7v7h-7zM432 2171h7v7h-7zM439 2178h7v7h-7zM102 2341h7v8h-7zM109 2349h7v7h-7zM116 2356h8v7h-8zM124 2363h7v7h-7zM131 2370h7v7h-7zM138 2377h7v7h-7zM145 2384h7v7h-7zM152 2391h7v7h-7zM159 2398h8v8h-8zM167 2406h7v7h-7zM174 2413h7v7h-7zM181 2420h7v7h-7zM188 2427h7v7h-7z"/><path fill="#f0ac94" d="M360 2092h7v8h-7zM367 2100h7v7h-7zM374 2107h8v7h-8zM382 2114h7v7h-7zM389 2121h7v7h-7zM396 2128h7v7h-7zM403 2135h7v7h-7zM410 2142h8v7h-8zM418 2149h7v7h-7zM425 2156h7v8h-7zM432 2164h7v7h-7zM439 2171h7v7h-7zM102 2349h7v7h-7zM109 2356h7v7h-7zM116 2363h8v7h-8zM124 2370h7v7h-7zM131 2377h7v7h-7zM138 2384h7v7h-7zM145 2391h7v7h-7zM152 2398h7v8h-7zM159 2406h8v7h-8zM167 2413h7v7h-7zM174 2420h7v7h-7zM181 2427h7v7h-7z"/><path fill="#f4b498" d="M367 2092h7v8h-7zM374 2100h8v7h-8zM382 2107h7v7h-7zM389 2114h7v7h-7zM396 2121h7v7h-7zM403 2128h7v7h-7zM410 2135h8v7h-8zM418 2142h7v7h-7zM425 2149h7v7h-7zM432 2156h7v8h-7zM439 2164h7v7h-7zM102 2356h7v7h-7zM109 2363h7v7h-7zM116 2370h8v7h-8zM124 2377h7v7h-7zM131 2384h7v7h-7zM138 2391h7v7h-7zM145 2398h7v8h-7zM152 2406h7v7h-7zM159 2413h8v7h-8zM167 2420h7v7h-7zM174 2427h7v7h-7z"/><path fill="#f4b89c" d="M374 2092h8v8h-8zM382 2100h7v7h-7zM389 2107h7v7h-7zM396 2114h7v7h-7zM403 2121h7v7h-7zM410 2128h8v7h-8zM418 2135h7v7h-7zM425 2142h7v7h-7zM432 2149h7v7h-7zM439 2156h7v8h-7zM102 2363h7v7h-7zM109 2370h7v7h-7zM116 2377h8v7h-8zM124 2384h7v7h-7zM131 2391h7v7h-7zM138 2398h7v8h-7zM145 2406h7v7h-7zM152 2413h7v7h-7zM159 2420h8v7h-8zM167 2427h7v7h-7z"/><path fill="#f4bca0" d="M382 2092h7v8h-7zM389 2100h7v7h-7zM396 2107h7v7h-7zM403 2114h7v7h-7zM410 2121h8v7h-8zM418 2128h7v7h-7zM425 2135h7v7h-7zM432 2142h7v7h-7zM439 2149h7v7h-7zM102 2370h7v7h-7zM109 2377h7v7h-7zM116 2384h8v7h-8zM124 2391h7v7h-7zM131 2398h7v8h-7zM138 2406h7v7h-7zM145 2413h7v7h-7zM152 2420h7v7h-7zM159 2427h8v7h-8z"/><path fill="#f0c0a8" d="M389 2092h7v8h-7zM396 2100h7v7h-7zM403 2107h7v7h-7zM410 2114h8v7h-8zM418 2121h7v7h-7zM425 2128h7v7h-7zM432 2135h7v7h-7zM439 2142h7v7h-7zM102 2377h7v7h-7zM109 2384h7v7h-7zM116 2391h8v7h-8zM124 2398h7v8h-7zM131 2406h7v7h-7zM138 2413h7v7h-7zM145 2420h7v7h-7zM152 2427h7v7h-7z"/><path fill="#f0c0ac" d="M396 2092h7v8h-7zM403 2100h7v7h-7zM410 2107h8v7h-8zM418 2114h7v7h-7zM425 2121h7v7h-7zM432 2128h7v7h-7zM439 2135h7v7h-7zM102 2384h7v7h-7zM109 2391h7v7h-7zM116 2398h8v8h-8zM124 2406h7v7h-7zM131 2413h7v7h-7zM138 2420h7v7h-7zM145 2427h7v7h-7z"/><path fill="#f0c4b0" d="M403 2092h7v8h-7zM410 2100h8v7h-8zM418 2107h7v7h-7zM425 2114h7v7h-7zM432 2121h7v7h-7zM439 2128h7v7h-7zM102 2391h7v7h-7zM109 2398h7v8h-7zM116 2406h8v7h-8zM124 2413h7v7h-7zM131 2420h7v7h-7zM138 2427h7v7h-7z"/><path fill="#f0c8b4" d="M410 2092h8v8h-8zM418 2100h7v7h-7zM425 2107h7v7h-7zM432 2114h7v7h-7zM439 2121h7v7h-7zM102 2398h7v8h-7zM109 2406h7v7h-7zM116 2413h8v7h-8zM124 2420h7v7h-7zM131 2427h7v7h-7z"/><path fill="#f0c8b8" d="M418 2092h7v8h-7zM425 2100h7v7h-7zM432 2107h7v7h-7zM439 2114h7v7h-7zM102 2406h7v7h-7zM109 2413h7v7h-7zM116 2420h8v7h-8zM124 2427h7v7h-7z"/><path fill="#f0ccb8" d="M425 2092h7v8h-7zM432 2100h7v7h-7zM439 2107h7v7h-7zM102 2413h7v7h-7zM109 2420h7v7h-7zM116 2427h8v7h-8z"/><path fill="#f0ccbc" d="M432 2092h7v8h-7zM439 2100h7v7h-7zM102 2420h7v7h-7zM109 2427h7v7h-7z"/><path fill="#ecccbc" d="M439 2092h7v8h-7zM102 2427h7v7h-7z"/><path fill="#b8ccec" d="M159 2100h8v7h-8zM167 2107h7v7h-7zM188 2135h7v7h-7zM195 2142h7v7h-7zM109 2149h7v7h-7zM202 2149h8v7h-8zM116 2156h8v8h-8zM210 2156h7v8h-7zM217 2164h7v7h-7zM224 2171h7v7h-7zM145 2178h7v7h-7zM231 2178h7v7h-7zM152 2185h7v7h-7zM238 2185h7v7h-7zM159 2192h8v7h-8zM245 2192h8v7h-8zM167 2199h7v7h-7zM253 2199h7v7h-7zM174 2206h7v7h-7zM260 2206h7v7h-7zM181 2213h7v7h-7zM267 2213h7v7h-7zM188 2220h7v8h-7zM195 2228h7v7h-7zM202 2235h8v7h-8zM210 2242h7v7h-7zM217 2249h7v7h-7zM224 2256h7v7h-7zM317 2263h7v7h-7zM324 2270h7v7h-7zM331 2277h8v8h-8zM339 2285h7v7h-7zM346 2292h7v7h-7zM353 2299h7v7h-7zM274 2306h7v7h-7zM360 2306h7v7h-7zM281 2313h7v7h-7zM367 2313h7v7h-7zM288 2320h8v7h-8zM374 2320h8v7h-8zM296 2327h7v7h-7zM382 2327h7v7h-7zM303 2334h7v7h-7zM389 2334h7v7h-7zM310 2341h7v8h-7zM396 2341h7v8h-7zM317 2349h7v7h-7zM324 2356h7v7h-7zM331 2363h8v7h-8zM425 2363h7v7h-7zM339 2370h7v7h-7zM432 2370h7v7h-7zM346 2377h7v7h-7zM353 2384h7v7h-7zM374 2413h8v7h-8zM382 2420h7v7h-7z"/><path fill="#b0c8ec" d="M167 2100h7v7h-7zM188 2128h7v7h-7zM109 2156h7v8h-7zM138 2178h7v7h-7zM403 2341h7v8h-7zM432 2363h7v7h-7zM353 2391h7v7h-7zM374 2420h8v7h-8z"/><path fill="#a8bcec" d="M174 2100h7v7h-7zM109 2164h7v7h-7zM432 2356h7v7h-7zM367 2420h7v7h-7z"/><path fill="#98b0e8" d="M181 2100h7v7h-7zM109 2171h7v7h-7zM432 2349h7v7h-7zM360 2420h7v7h-7z"/><path fill="#88a4e0" d="M188 2100h7v7h-7zM109 2178h7v7h-7zM432 2341h7v8h-7zM353 2420h7v7h-7z"/><path fill="#b83430" d="M274 2100h7v7h-7zM281 2107h7v7h-7zM288 2114h8v7h-8zM296 2121h7v7h-7zM303 2128h7v7h-7zM310 2135h7v7h-7zM317 2142h7v7h-7zM324 2149h7v7h-7zM331 2156h8v8h-8zM339 2164h7v7h-7zM346 2171h7v7h-7zM353 2178h7v7h-7zM360 2185h7v7h-7zM367 2192h7v7h-7zM374 2199h8v7h-8zM382 2206h7v7h-7zM389 2213h7v7h-7zM396 2220h7v8h-7zM403 2228h7v7h-7zM410 2235h8v7h-8zM418 2242h7v7h-7zM425 2249h7v7h-7zM432 2256h7v7h-7zM109 2263h7v7h-7zM116 2270h8v7h-8zM124 2277h7v8h-7zM131 2285h7v7h-7zM138 2292h7v7h-7zM145 2299h7v7h-7zM152 2306h7v7h-7zM159 2313h8v7h-8zM167 2320h7v7h-7zM174 2327h7v7h-7zM181 2334h7v7h-7zM188 2341h7v8h-7zM195 2349h7v7h-7zM202 2356h8v7h-8zM210 2363h7v7h-7zM217 2370h7v7h-7zM224 2377h7v7h-7zM231 2384h7v7h-7zM238 2391h7v7h-7zM245 2398h8v8h-8zM253 2406h7v7h-7zM260 2413h7v7h-7zM267 2420h7v7h-7z"/><path fill="#c4d0ec" d="M152 2107h7v7h-7zM159 2114h8v7h-8zM167 2121h7v7h-7zM174 2128h7v7h-7zM116 2142h8v7h-8zM124 2149h7v7h-7zM131 2156h7v8h-7zM138 2164h7v7h-7zM403 2356h7v7h-7zM410 2363h8v7h-8zM418 2370h7v7h-7zM425 2377h7v7h-7zM367 2391h7v7h-7zM374 2398h8v8h-8zM382 2406h7v7h-7zM389 2413h7v7h-7z"/><path fill="#94ace4" d="M188 2107h7v7h-7zM116 2178h8v7h-8zM425 2341h7v8h-7zM353 2413h7v7h-7z"/><path fill="#88a0e0" d="M195 2107h7v7h-7zM202 2114h8v7h-8zM210 2121h7v7h-7zM217 2128h7v7h-7zM224 2135h7v7h-7zM231 2142h7v7h-7zM238 2149h7v7h-7zM245 2156h8v8h-8zM253 2164h7v7h-7zM260 2171h7v7h-7zM267 2178h7v7h-7zM116 2185h8v7h-8zM124 2192h7v7h-7zM131 2199h7v7h-7zM138 2206h7v7h-7zM145 2213h7v7h-7zM152 2220h7v8h-7zM159 2228h8v7h-8zM167 2235h7v7h-7zM174 2242h7v7h-7zM181 2249h7v7h-7zM188 2256h7v7h-7zM353 2263h7v7h-7zM360 2270h7v7h-7zM367 2277h7v8h-7zM374 2285h8v7h-8zM382 2292h7v7h-7zM389 2299h7v7h-7zM396 2306h7v7h-7zM403 2313h7v7h-7zM410 2320h8v7h-8zM418 2327h7v7h-7zM425 2334h7v7h-7zM274 2341h7v8h-7zM281 2349h7v7h-7zM288 2356h8v7h-8zM296 2363h7v7h-7zM303 2370h7v7h-7zM310 2377h7v7h-7zM317 2384h7v7h-7zM324 2391h7v7h-7zM331 2398h8v8h-8zM339 2406h7v7h-7zM346 2413h7v7h-7z"/><path fill="#b4282c" d="M274 2107h7v7h-7zM281 2114h7v7h-7zM288 2121h8v7h-8zM296 2128h7v7h-7zM303 2135h7v7h-7zM310 2142h7v7h-7zM317 2149h7v7h-7zM324 2156h7v8h-7zM331 2164h8v7h-8zM339 2171h7v7h-7zM346 2178h7v7h-7zM353 2185h7v7h-7zM360 2192h7v7h-7zM367 2199h7v7h-7zM374 2206h8v7h-8zM382 2213h7v7h-7zM389 2220h7v8h-7zM396 2228h7v7h-7zM403 2235h7v7h-7zM410 2242h8v7h-8zM418 2249h7v7h-7zM425 2256h7v7h-7zM116 2263h8v7h-8zM124 2270h7v7h-7zM131 2277h7v8h-7zM138 2285h7v7h-7zM145 2292h7v7h-7zM152 2299h7v7h-7zM159 2306h8v7h-8zM167 2313h7v7h-7zM174 2320h7v7h-7zM181 2327h7v7h-7zM188 2334h7v7h-7zM195 2341h7v8h-7zM202 2349h8v7h-8zM210 2356h7v7h-7zM217 2363h7v7h-7zM224 2370h7v7h-7zM231 2377h7v7h-7zM238 2384h7v7h-7zM245 2391h8v7h-8zM253 2398h7v8h-7zM260 2406h7v7h-7zM267 2413h7v7h-7z"/><path fill="#bcd0ec" d="M167 2114h7v7h-7zM124 2156h7v8h-7zM418 2363h7v7h-7zM374 2406h8v7h-8z"/><path fill="#b4c8ec" d="M174 2114h7v7h-7zM181 2121h7v7h-7zM124 2164h7v7h-7zM131 2171h7v7h-7zM410 2349h8v7h-8zM418 2356h7v7h-7zM360 2398h7v8h-7zM367 2406h7v7h-7z"/><path fill="#acc0ec" d="M181 2114h7v7h-7zM124 2171h7v7h-7zM418 2349h7v7h-7zM360 2406h7v7h-7z"/><path fill="#9cb4e8" d="M188 2114h7v7h-7zM195 2121h7v7h-7zM202 2128h8v7h-8zM210 2135h7v7h-7zM217 2142h7v7h-7zM224 2149h7v7h-7zM231 2156h7v8h-7zM238 2164h7v7h-7zM245 2171h8v7h-8zM124 2178h7v7h-7zM253 2178h7v7h-7zM131 2185h7v7h-7zM260 2185h7v7h-7zM138 2192h7v7h-7zM267 2192h7v7h-7zM145 2199h7v7h-7zM152 2206h7v7h-7zM159 2213h8v7h-8zM167 2220h7v8h-7zM174 2228h7v7h-7zM181 2235h7v7h-7zM188 2242h7v7h-7zM195 2249h7v7h-7zM202 2256h8v7h-8zM339 2263h7v7h-7zM346 2270h7v7h-7zM353 2277h7v8h-7zM360 2285h7v7h-7zM367 2292h7v7h-7zM374 2299h8v7h-8zM382 2306h7v7h-7zM389 2313h7v7h-7zM396 2320h7v7h-7zM274 2327h7v7h-7zM403 2327h7v7h-7zM281 2334h7v7h-7zM410 2334h8v7h-8zM288 2341h8v8h-8zM418 2341h7v8h-7zM296 2349h7v7h-7zM303 2356h7v7h-7zM310 2363h7v7h-7zM317 2370h7v7h-7zM324 2377h7v7h-7zM331 2384h8v7h-8zM339 2391h7v7h-7zM346 2398h7v8h-7zM353 2406h7v7h-7z"/><path fill="#90ace4" d="M195 2114h7v7h-7zM202 2121h8v7h-8zM210 2128h7v7h-7zM217 2135h7v7h-7zM224 2142h7v7h-7zM231 2149h7v7h-7zM238 2156h7v8h-7zM245 2164h8v7h-8zM253 2171h7v7h-7zM260 2178h7v7h-7zM124 2185h7v7h-7zM267 2185h7v7h-7zM131 2192h7v7h-7zM138 2199h7v7h-7zM145 2206h7v7h-7zM152 2213h7v7h-7zM159 2220h8v8h-8zM167 2228h7v7h-7zM174 2235h7v7h-7zM181 2242h7v7h-7zM188 2249h7v7h-7zM195 2256h7v7h-7zM346 2263h7v7h-7zM353 2270h7v7h-7zM360 2277h7v8h-7zM367 2285h7v7h-7zM374 2292h8v7h-8zM382 2299h7v7h-7zM389 2306h7v7h-7zM396 2313h7v7h-7zM403 2320h7v7h-7zM410 2327h8v7h-8zM274 2334h7v7h-7zM418 2334h7v7h-7zM281 2341h7v8h-7zM288 2349h8v7h-8zM296 2356h7v7h-7zM303 2363h7v7h-7zM310 2370h7v7h-7zM317 2377h7v7h-7zM324 2384h7v7h-7zM331 2391h8v7h-8zM339 2398h7v8h-7zM346 2406h7v7h-7z"/><path fill="#b02028" d="M274 2114h7v7h-7zM274 2121h14v7h-14zM274 2128h22v7h-22zM274 2135h29v7h-29zM274 2142h36v7h-36zM274 2149h43v7h-43zM274 2156h50v8h-50zM274 2164h57v7h-57zM274 2171h65v7h-65zM274 2178h72v7h-72zM274 2185h79v7h-79zM274 2192h86v7h-86zM274 2199h93v7h-93zM274 2206h100v7h-100zM274 2213h108v7h-108zM274 2220h115v8h-115zM274 2228h122v7h-122zM274 2235h129v7h-129zM274 2242h136v7h-136zM274 2249h144v7h-144zM274 2256h151v7h-151zM124 2263h150v7h-150zM131 2270h143v7h-143zM138 2277h136v8h-136zM145 2285h129v7h-129zM152 2292h122v7h-122zM159 2299h115v7h-115zM167 2306h107v7h-107zM174 2313h100v7h-100zM181 2320h93v7h-93zM188 2327h86v7h-86zM195 2334h79v7h-79zM202 2341h72v8h-72zM210 2349h64v7h-64zM217 2356h57v7h-57zM224 2363h50v7h-50zM231 2370h43v7h-43zM238 2377h36v7h-36zM245 2384h29v7h-29zM253 2391h21v7h-21zM260 2398h14v8h-14zM267 2406h7v7h-7z"/><path fill="#a8c0ec" d="M188 2121h7v7h-7zM195 2128h7v7h-7zM202 2135h8v7h-8zM210 2142h7v7h-7zM217 2149h7v7h-7zM224 2156h7v8h-7zM231 2164h7v7h-7zM238 2171h7v7h-7zM131 2178h7v7h-7zM245 2178h8v7h-8zM138 2185h7v7h-7zM253 2185h7v7h-7zM145 2192h7v7h-7zM260 2192h7v7h-7zM152 2199h7v7h-7zM267 2199h7v7h-7zM159 2206h8v7h-8zM167 2213h7v7h-7zM174 2220h7v8h-7zM181 2228h7v7h-7zM188 2235h7v7h-7zM195 2242h7v7h-7zM202 2249h8v7h-8zM210 2256h7v7h-7zM331 2263h8v7h-8zM339 2270h7v7h-7zM346 2277h7v8h-7zM353 2285h7v7h-7zM360 2292h7v7h-7zM367 2299h7v7h-7zM374 2306h8v7h-8zM382 2313h7v7h-7zM274 2320h7v7h-7zM389 2320h7v7h-7zM281 2327h7v7h-7zM396 2327h7v7h-7zM288 2334h8v7h-8zM403 2334h7v7h-7zM296 2341h7v8h-7zM410 2341h8v8h-8zM303 2349h7v7h-7zM310 2356h7v7h-7zM317 2363h7v7h-7zM324 2370h7v7h-7zM331 2377h8v7h-8zM339 2384h7v7h-7zM346 2391h7v7h-7zM353 2398h7v8h-7z"/><path fill="#b0c4ec" d="M195 2135h7v7h-7zM202 2142h8v7h-8zM210 2149h7v7h-7zM217 2156h7v8h-7zM224 2164h7v7h-7zM231 2171h7v7h-7zM238 2178h7v7h-7zM145 2185h7v7h-7zM245 2185h8v7h-8zM152 2192h7v7h-7zM253 2192h7v7h-7zM159 2199h8v7h-8zM260 2199h7v7h-7zM167 2206h7v7h-7zM267 2206h7v7h-7zM174 2213h7v7h-7zM181 2220h7v8h-7zM188 2228h7v7h-7zM195 2235h7v7h-7zM202 2242h8v7h-8zM210 2249h7v7h-7zM217 2256h7v7h-7zM324 2263h7v7h-7zM331 2270h8v7h-8zM339 2277h7v8h-7zM346 2285h7v7h-7zM353 2292h7v7h-7zM360 2299h7v7h-7zM367 2306h7v7h-7zM274 2313h7v7h-7zM374 2313h8v7h-8zM281 2320h7v7h-7zM382 2320h7v7h-7zM288 2327h8v7h-8zM389 2327h7v7h-7zM296 2334h7v7h-7zM396 2334h7v7h-7zM303 2341h7v8h-7zM310 2349h7v7h-7zM317 2356h7v7h-7zM324 2363h7v7h-7zM331 2370h8v7h-8zM339 2377h7v7h-7zM346 2384h7v7h-7z"/></g>
<line x1="102" y1="2092.4" x2="446.2" y2="2434" stroke="#fdfbfa" stroke-width="6"/>
<rect x="101" y="2091.4" width="346.2" height="343.6" fill="none" stroke="#4a4a4a" stroke-width="2"/>
<text x="15.3" y="2105.5" font-size="25" fill="#231f20">-500 kb</text>
<text x="84.7" y="2277.0" font-size="25" fill="#231f20">0</text>
<text x="23.6" y="2441.0" font-size="25" fill="#231f20">500 kb</text>
<text x="88.1" y="2470.5" font-size="25" fill="#231f20">-500 kb</text>
<text x="274.0" y="2470.5" font-size="25" fill="#231f20">0</text>
<text x="389.8" y="2470.5" font-size="25" fill="#231f20">500 kb</text>
<g shape-rendering="crispEdges"><path fill="#dcdce0" d="M560 2092h136v7h-136zM560 2099h107v7h-107zM775 2099h7v7h-7zM560 2106h100v7h-100zM789 2106h7v7h-7zM560 2113h100v7h-100zM796 2113h7v7h-7zM560 2120h93v7h-93zM803 2120h7v7h-7zM560 2127h93v7h-93zM560 2134h93v7h-93zM810 2134h7v7h-7zM560 2141h93v8h-93zM810 2141h7v8h-7zM560 2149h93v7h-93zM810 2149h7v7h-7zM560 2156h93v7h-93zM810 2156h7v7h-7zM560 2163h93v7h-93zM810 2163h7v7h-7zM560 2170h93v7h-93zM810 2170h7v7h-7zM560 2177h93v7h-93zM810 2177h7v7h-7zM560 2184h28v7h-28zM560 2191h14v7h-14zM853 2191h22v7h-22zM560 2198h7v8h-7zM882 2198h7v8h-7zM560 2206h7v7h-7zM560 2213h7v7h-7zM560 2220h7v7h-7zM717 2248h15v7h-15zM717 2255h15v8h-15zM732 2263h14v7h-14zM732 2270h14v7h-14zM896 2298h7v7h-7zM567 2305h7v8h-7zM896 2305h7v8h-7zM896 2313h7v7h-7zM574 2320h7v7h-7zM896 2320h7v7h-7zM581 2327h7v7h-7zM889 2327h14v7h-14zM588 2334h8v7h-8zM875 2334h28v7h-28zM603 2341h50v7h-50zM810 2341h93v7h-93zM810 2348h93v7h-93zM810 2355h93v7h-93zM810 2362h93v8h-93zM810 2370h93v7h-93zM810 2377h93v7h-93zM660 2384h7v7h-7zM810 2384h93v7h-93zM660 2391h7v7h-7zM810 2391h93v7h-93zM660 2398h7v7h-7zM810 2398h93v7h-93zM803 2405h100v7h-100zM667 2412h7v7h-7zM803 2412h100v7h-100zM796 2419h107v8h-107zM767 2427h136v7h-136z"/><path fill="#d8dce0" d="M696 2092h207v7h-207zM667 2099h29v7h-29zM782 2099h121v7h-121zM660 2106h29v7h-29zM796 2106h107v7h-107zM660 2113h21v7h-21zM803 2113h100v7h-100zM653 2120h21v7h-21zM810 2120h93v7h-93zM653 2127h21v7h-21zM810 2127h93v7h-93zM653 2134h21v7h-21zM817 2134h86v7h-86zM653 2141h21v8h-21zM817 2141h86v8h-86zM653 2149h21v7h-21zM817 2149h86v7h-86zM653 2156h21v7h-21zM817 2156h86v7h-86zM653 2163h21v7h-21zM817 2163h86v7h-86zM653 2170h21v7h-21zM817 2170h86v7h-86zM653 2177h21v7h-21zM817 2177h86v7h-86zM588 2184h86v7h-86zM817 2184h86v7h-86zM574 2191h100v7h-100zM875 2191h28v7h-28zM567 2198h107v8h-107zM889 2198h14v8h-14zM567 2206h21v7h-21zM896 2206h7v7h-7zM567 2213h14v7h-14zM567 2220h7v7h-7zM560 2227h7v7h-7zM560 2234h7v7h-7zM560 2241h7v7h-7zM560 2248h7v7h-7zM560 2255h7v8h-7zM560 2263h7v7h-7zM896 2263h7v7h-7zM560 2270h7v7h-7zM896 2270h7v7h-7zM560 2277h7v7h-7zM896 2277h7v7h-7zM560 2284h7v7h-7zM896 2284h7v7h-7zM560 2291h7v7h-7zM896 2291h7v7h-7zM560 2298h7v7h-7zM889 2298h7v7h-7zM560 2305h7v8h-7zM882 2305h14v8h-14zM560 2313h14v7h-14zM875 2313h21v7h-21zM560 2320h14v7h-14zM789 2320h107v7h-107zM560 2327h21v7h-21zM789 2327h100v7h-100zM560 2334h28v7h-28zM789 2334h86v7h-86zM560 2341h43v7h-43zM789 2341h21v7h-21zM560 2348h100v7h-100zM789 2348h21v7h-21zM560 2355h100v7h-100zM789 2355h21v7h-21zM560 2362h100v8h-100zM789 2362h21v8h-21zM560 2370h100v7h-100zM789 2370h21v7h-21zM560 2377h100v7h-100zM789 2377h21v7h-21zM560 2384h100v7h-100zM789 2384h21v7h-21zM560 2391h100v7h-100zM789 2391h21v7h-21zM560 2398h100v7h-100zM789 2398h21v7h-21zM560 2405h107v7h-107zM782 2405h21v7h-21zM560 2412h107v7h-107zM775 2412h28v7h-28zM560 2419h114v8h-114zM767 2419h29v8h-29zM560 2427h121v7h-121zM732 2427h35v7h-35z"/><path fill="#d8dce4" d="M696 2099h7v7h-7zM674 2120h7v7h-7zM588 2206h8v7h-8zM567 2227h7v7h-7zM889 2291h7v7h-7zM868 2313h7v7h-7zM782 2398h7v7h-7zM760 2419h7v8h-7z"/><path fill="#d4dce4" d="M703 2099h14v7h-14zM689 2106h7v7h-7zM681 2113h8v7h-8zM674 2127h7v7h-7zM674 2134h7v7h-7zM674 2141h7v8h-7zM674 2149h7v7h-7zM674 2156h7v7h-7zM674 2163h7v7h-7zM674 2170h7v7h-7zM674 2177h7v7h-7zM674 2184h7v7h-7zM674 2191h7v7h-7zM674 2198h7v8h-7zM596 2206h85v7h-85zM581 2213h7v7h-7zM574 2220h7v7h-7zM567 2234h7v7h-7zM567 2241h7v7h-7zM889 2277h7v7h-7zM889 2284h7v7h-7zM882 2298h7v7h-7zM875 2305h7v8h-7zM782 2313h86v7h-86zM782 2320h7v7h-7zM782 2327h7v7h-7zM782 2334h7v7h-7zM782 2341h7v7h-7zM782 2348h7v7h-7zM782 2355h7v7h-7zM782 2362h7v8h-7zM782 2370h7v7h-7zM782 2377h7v7h-7zM782 2384h7v7h-7zM782 2391h7v7h-7zM775 2405h7v7h-7zM767 2412h8v7h-8zM746 2419h14v8h-14z"/><path fill="#d4d8e4" d="M717 2099h7v7h-7zM681 2120h8v7h-8zM681 2127h8v7h-8zM681 2134h8v7h-8zM681 2141h8v8h-8zM681 2149h8v7h-8zM681 2156h8v7h-8zM681 2163h8v7h-8zM681 2170h8v7h-8zM681 2177h8v7h-8zM681 2184h8v7h-8zM681 2191h8v7h-8zM681 2198h8v8h-8zM681 2206h8v7h-8zM588 2213h101v7h-101zM567 2248h7v7h-7zM889 2270h7v7h-7zM775 2305h100v8h-100zM775 2313h7v7h-7zM775 2320h7v7h-7zM775 2327h7v7h-7zM775 2334h7v7h-7zM775 2341h7v7h-7zM775 2348h7v7h-7zM775 2355h7v7h-7zM775 2362h7v8h-7zM775 2370h7v7h-7zM775 2377h7v7h-7zM775 2384h7v7h-7zM775 2391h7v7h-7zM775 2398h7v7h-7zM739 2419h7v8h-7z"/><path fill="#d0d8e4" d="M724 2099h8v7h-8zM696 2106h7v7h-7zM689 2113h7v7h-7zM581 2220h7v7h-7zM574 2227h7v7h-7zM567 2255h7v8h-7zM889 2263h7v7h-7zM882 2291h7v7h-7zM875 2298h7v7h-7zM767 2405h8v7h-8zM760 2412h7v7h-7zM732 2419h7v8h-7z"/><path fill="#dcdcdc" d="M732 2099h43v7h-43zM775 2106h14v7h-14zM789 2113h7v7h-7zM796 2120h7v7h-7zM796 2127h14v7h-14zM803 2134h7v7h-7zM803 2141h7v8h-7zM803 2149h7v7h-7zM803 2156h7v7h-7zM803 2163h7v7h-7zM803 2170h7v7h-7zM803 2177h7v7h-7zM810 2184h7v7h-7zM810 2191h43v7h-43zM832 2198h50v8h-50zM875 2206h21v7h-21zM889 2213h14v7h-14zM896 2220h7v7h-7zM567 2263h7v7h-7zM567 2270h7v7h-7zM567 2277h7v7h-7zM567 2284h7v7h-7zM567 2291h7v7h-7zM567 2298h7v7h-7zM574 2305h7v8h-7zM574 2313h7v7h-7zM581 2320h7v7h-7zM588 2327h15v7h-15zM596 2334h57v7h-57zM653 2341h14v7h-14zM660 2348h7v7h-7zM660 2355h7v7h-7zM660 2362h14v8h-14zM660 2370h14v7h-14zM660 2377h14v7h-14zM667 2384h7v7h-7zM667 2391h7v7h-7zM667 2398h7v7h-7zM667 2405h14v7h-14zM674 2412h7v7h-7zM674 2419h15v8h-15zM681 2427h15v7h-15z"/><path fill="#ccd8e8" d="M703 2106h7v7h-7zM689 2120h7v7h-7zM689 2127h7v7h-7zM689 2134h7v7h-7zM689 2141h7v8h-7zM689 2149h7v7h-7zM689 2156h7v7h-7zM689 2163h7v7h-7zM689 2170h7v7h-7zM689 2177h7v7h-7zM689 2184h7v7h-7zM689 2191h7v7h-7zM689 2198h7v8h-7zM689 2206h7v7h-7zM689 2213h7v7h-7zM588 2220h108v7h-108zM574 2234h7v7h-7zM724 2241h8v7h-8zM710 2255h7v8h-7zM746 2263h7v7h-7zM732 2277h7v7h-7zM882 2284h7v7h-7zM767 2298h108v7h-108zM767 2305h8v8h-8zM767 2313h8v7h-8zM767 2320h8v7h-8zM767 2327h8v7h-8zM767 2334h8v7h-8zM767 2341h8v7h-8zM767 2348h8v7h-8zM767 2355h8v7h-8zM767 2362h8v8h-8zM767 2370h8v7h-8zM767 2377h8v7h-8zM767 2384h8v7h-8zM767 2391h8v7h-8zM767 2398h8v7h-8zM753 2412h7v7h-7z"/><path fill="#c8d4ec" d="M710 2106h7v7h-7zM574 2241h7v7h-7zM882 2277h7v7h-7zM746 2412h7v7h-7z"/><path fill="#c4d4ec" d="M717 2106h7v7h-7zM696 2120h7v7h-7zM588 2227h8v7h-8zM574 2248h7v7h-7zM882 2270h7v7h-7zM868 2291h7v7h-7zM760 2398h7v7h-7zM739 2412h7v7h-7z"/><path fill="#c4d0ec" d="M724 2106h8v7h-8zM703 2113h7v7h-7zM581 2234h7v7h-7zM703 2234h7v7h-7zM574 2255h7v8h-7zM882 2263h7v7h-7zM753 2284h7v7h-7zM875 2284h7v7h-7zM753 2405h7v7h-7zM732 2412h7v7h-7z"/><path fill="#e8d4cc" d="M732 2106h7v7h-7zM760 2113h7v7h-7zM782 2134h7v7h-7zM796 2191h7v7h-7zM817 2206h8v7h-8zM846 2213h14v7h-14zM882 2227h7v7h-7zM574 2263h7v7h-7zM581 2291h7v7h-7zM603 2313h7v7h-7zM660 2327h7v7h-7zM674 2348h7v7h-7zM681 2377h8v7h-8zM681 2384h8v7h-8zM696 2412h7v7h-7z"/><path fill="#e8d8cc" d="M739 2106h7v7h-7zM789 2170h7v7h-7zM803 2198h7v8h-7zM875 2220h7v7h-7zM574 2270h7v7h-7zM638 2320h8v7h-8zM667 2334h7v7h-7zM689 2405h7v7h-7z"/><path fill="#e4d8d0" d="M746 2106h7v7h-7zM767 2113h8v7h-8zM775 2120h7v7h-7zM782 2127h7v7h-7zM789 2149h7v7h-7zM789 2156h7v7h-7zM789 2163h7v7h-7zM796 2184h7v7h-7zM825 2206h7v7h-7zM860 2213h8v7h-8zM889 2234h7v7h-7zM896 2248h7v7h-7zM896 2255h7v8h-7zM574 2277h7v7h-7zM581 2298h7v7h-7zM588 2305h8v8h-8zM596 2313h7v7h-7zM617 2320h21v7h-21zM653 2327h7v7h-7zM674 2355h7v7h-7zM681 2391h8v7h-8zM703 2419h7v8h-7zM717 2427h15v7h-15z"/><path fill="#e4d8d4" d="M753 2106h7v7h-7zM789 2134h7v7h-7zM789 2141h7v8h-7zM796 2177h7v7h-7zM810 2198h7v8h-7zM832 2206h21v7h-21zM868 2213h7v7h-7zM882 2220h7v7h-7zM889 2227h7v7h-7zM896 2241h7v7h-7zM574 2284h7v7h-7zM603 2320h14v7h-14zM646 2327h7v7h-7zM667 2341h7v7h-7zM674 2362h7v8h-7zM674 2370h7v7h-7zM674 2377h7v7h-7zM681 2398h8v7h-8zM689 2412h7v7h-7zM696 2419h7v8h-7zM710 2427h7v7h-7z"/><path fill="#e0dcd4" d="M760 2106h7v7h-7zM775 2113h7v7h-7zM782 2120h7v7h-7zM803 2191h7v7h-7zM853 2206h7v7h-7zM875 2213h7v7h-7zM574 2291h7v7h-7zM581 2305h7v8h-7zM588 2313h8v7h-8zM660 2334h7v7h-7zM674 2384h7v7h-7zM681 2405h8v7h-8z"/><path fill="#e0dcd8" d="M767 2106h8v7h-8zM782 2113h7v7h-7zM789 2120h7v7h-7zM789 2127h7v7h-7zM796 2134h7v7h-7zM796 2141h7v8h-7zM796 2149h7v7h-7zM796 2156h7v7h-7zM796 2163h7v7h-7zM796 2170h7v7h-7zM803 2184h7v7h-7zM817 2198h15v8h-15zM860 2206h15v7h-15zM882 2213h7v7h-7zM889 2220h7v7h-7zM896 2227h7v7h-7zM896 2234h7v7h-7zM574 2298h7v7h-7zM581 2313h7v7h-7zM588 2320h15v7h-15zM603 2327h43v7h-43zM653 2334h7v7h-7zM667 2348h7v7h-7zM667 2355h7v7h-7zM674 2391h7v7h-7zM674 2398h7v7h-7zM681 2412h8v7h-8zM689 2419h7v8h-7zM696 2427h14v7h-14z"/><path fill="#ccd4e8" d="M696 2113h7v7h-7zM581 2227h7v7h-7zM875 2291h7v7h-7zM760 2405h7v7h-7z"/><path fill="#bcccec" d="M710 2113h7v7h-7zM581 2241h7v7h-7zM875 2277h7v7h-7zM746 2405h7v7h-7z"/><path fill="#b4c8ec" d="M717 2113h7v7h-7zM703 2127h7v7h-7zM703 2134h7v7h-7zM703 2141h7v8h-7zM703 2149h7v7h-7zM703 2156h7v7h-7zM703 2163h7v7h-7zM703 2170h7v7h-7zM703 2177h7v7h-7zM703 2184h7v7h-7zM703 2191h7v7h-7zM703 2198h7v8h-7zM703 2206h7v7h-7zM703 2213h7v7h-7zM703 2220h7v7h-7zM703 2227h7v7h-7zM596 2234h107v7h-107zM717 2234h7v7h-7zM581 2248h7v7h-7zM703 2248h7v7h-7zM753 2270h7v7h-7zM875 2270h7v7h-7zM739 2284h7v7h-7zM760 2284h108v7h-108zM753 2291h7v7h-7zM753 2298h7v7h-7zM753 2305h7v8h-7zM753 2313h7v7h-7zM753 2320h7v7h-7zM753 2327h7v7h-7zM753 2334h7v7h-7zM753 2341h7v7h-7zM753 2348h7v7h-7zM753 2355h7v7h-7zM753 2362h7v8h-7zM753 2370h7v7h-7zM753 2377h7v7h-7zM753 2384h7v7h-7zM753 2391h7v7h-7zM739 2405h7v7h-7z"/><path fill="#b0c4ec" d="M724 2113h8v7h-8zM724 2234h8v7h-8zM581 2255h7v8h-7zM703 2255h7v8h-7zM753 2263h7v7h-7zM875 2263h7v7h-7zM732 2284h7v7h-7zM732 2405h7v7h-7z"/><path fill="#f0c8b4" d="M732 2113h7v7h-7zM753 2120h7v7h-7zM767 2134h8v7h-8zM775 2163h7v7h-7zM810 2213h7v7h-7zM832 2220h7v7h-7zM860 2227h8v7h-8zM882 2248h7v7h-7zM581 2263h7v7h-7zM588 2284h8v7h-8zM603 2298h7v7h-7zM631 2305h7v8h-7zM681 2341h8v7h-8zM689 2362h7v8h-7zM696 2391h7v7h-7zM717 2412h7v7h-7z"/><path fill="#f0ccb8" d="M739 2113h7v7h-7zM775 2149h7v7h-7zM782 2177h7v7h-7zM796 2206h7v7h-7zM875 2234h7v7h-7zM581 2270h7v7h-7zM617 2305h7v8h-7zM646 2313h7v7h-7zM674 2327h7v7h-7zM703 2405h7v7h-7z"/><path fill="#ecd0c0" d="M746 2113h7v7h-7zM760 2120h7v7h-7zM767 2127h8v7h-8zM775 2141h7v8h-7zM782 2170h7v7h-7zM803 2206h7v7h-7zM853 2220h7v7h-7zM581 2277h7v7h-7zM588 2291h8v7h-8zM596 2298h7v7h-7zM610 2305h7v8h-7zM638 2313h8v7h-8zM674 2334h7v7h-7zM689 2384h7v7h-7z"/><path fill="#ecd4c4" d="M753 2113h7v7h-7zM889 2248h7v7h-7zM581 2284h7v7h-7zM717 2419h7v8h-7z"/><path fill="#b8ccec" d="M703 2120h7v7h-7zM588 2234h8v7h-8zM710 2234h7v7h-7zM703 2241h7v7h-7zM753 2277h7v7h-7zM746 2284h7v7h-7zM868 2284h7v7h-7zM753 2398h7v7h-7z"/><path fill="#acc4ec" d="M710 2120h7v7h-7zM588 2241h8v7h-8zM868 2277h7v7h-7zM746 2398h7v7h-7z"/><path fill="#a4bcec" d="M717 2120h7v7h-7zM588 2248h8v7h-8zM868 2270h7v7h-7zM739 2398h7v7h-7z"/><path fill="#9cb4e8" d="M724 2120h8v7h-8zM717 2127h7v7h-7zM717 2134h7v7h-7zM717 2141h7v8h-7zM717 2149h7v7h-7zM717 2156h7v7h-7zM717 2163h7v7h-7zM717 2170h7v7h-7zM717 2177h7v7h-7zM717 2184h7v7h-7zM717 2191h7v7h-7zM717 2198h7v8h-7zM717 2206h7v7h-7zM717 2213h7v7h-7zM717 2220h7v7h-7zM717 2227h7v7h-7zM596 2248h107v7h-107zM588 2255h8v8h-8zM868 2263h7v7h-7zM760 2270h108v7h-108zM739 2291h7v7h-7zM739 2298h7v7h-7zM739 2305h7v8h-7zM739 2313h7v7h-7zM739 2320h7v7h-7zM739 2327h7v7h-7zM739 2334h7v7h-7zM739 2341h7v7h-7zM739 2348h7v7h-7zM739 2355h7v7h-7zM739 2362h7v8h-7zM739 2370h7v7h-7zM739 2377h7v7h-7zM739 2384h7v7h-7zM739 2391h7v7h-7zM732 2398h7v7h-7z"/><path fill="#f4b49c" d="M732 2120h7v7h-7zM760 2141h7v8h-7zM832 2227h7v7h-7zM875 2255h7v8h-7zM588 2263h8v7h-8zM610 2291h7v7h-7zM696 2362h7v8h-7zM724 2405h8v7h-8z"/><path fill="#f4bca0" d="M739 2120h7v7h-7zM588 2270h8v7h-8z"/><path fill="#f0c0ac" d="M746 2120h7v7h-7zM588 2277h8v7h-8z"/><path fill="#ecd4c8" d="M767 2120h8v7h-8zM782 2156h7v7h-7zM810 2206h7v7h-7zM832 2213h7v7h-7zM588 2298h8v7h-8zM624 2313h7v7h-7zM674 2341h7v7h-7zM681 2362h8v8h-8z"/><path fill="#c0d0ec" d="M696 2127h7v7h-7zM696 2134h7v7h-7zM696 2141h7v8h-7zM696 2149h7v7h-7zM696 2156h7v7h-7zM696 2163h7v7h-7zM696 2170h7v7h-7zM696 2177h7v7h-7zM696 2184h7v7h-7zM696 2191h7v7h-7zM696 2198h7v8h-7zM696 2206h7v7h-7zM696 2213h7v7h-7zM696 2220h7v7h-7zM596 2227h107v7h-107zM760 2291h108v7h-108zM760 2298h7v7h-7zM760 2305h7v8h-7zM760 2313h7v7h-7zM760 2320h7v7h-7zM760 2327h7v7h-7zM760 2334h7v7h-7zM760 2341h7v7h-7zM760 2348h7v7h-7zM760 2355h7v7h-7zM760 2362h7v8h-7zM760 2370h7v7h-7zM760 2377h7v7h-7zM760 2384h7v7h-7zM760 2391h7v7h-7z"/><path fill="#a8bcec" d="M710 2127h7v7h-7zM710 2134h7v7h-7zM710 2141h7v8h-7zM710 2149h7v7h-7zM710 2156h7v7h-7zM710 2163h7v7h-7zM710 2170h7v7h-7zM710 2177h7v7h-7zM710 2184h7v7h-7zM710 2191h7v7h-7zM710 2198h7v8h-7zM710 2206h7v7h-7zM710 2213h7v7h-7zM710 2220h7v7h-7zM596 2241h100v7h-100zM767 2277h101v7h-101zM746 2298h7v7h-7zM746 2305h7v8h-7zM746 2313h7v7h-7zM746 2320h7v7h-7zM746 2327h7v7h-7zM746 2334h7v7h-7zM746 2341h7v7h-7zM746 2348h7v7h-7zM746 2355h7v7h-7zM746 2362h7v8h-7zM746 2370h7v7h-7zM746 2377h7v7h-7zM746 2384h7v7h-7zM746 2391h7v7h-7z"/><path fill="#94ace8" d="M724 2127h8v7h-8zM724 2134h8v7h-8zM724 2141h8v8h-8zM724 2149h8v7h-8zM724 2156h8v7h-8zM724 2163h8v7h-8zM724 2170h8v7h-8zM724 2177h8v7h-8zM724 2184h8v7h-8zM724 2191h8v7h-8zM724 2198h8v8h-8zM724 2206h8v7h-8zM724 2213h8v7h-8zM724 2220h8v7h-8zM596 2255h100v8h-100zM767 2263h101v7h-101zM732 2298h7v7h-7zM732 2305h7v8h-7zM732 2313h7v7h-7zM732 2320h7v7h-7zM732 2327h7v7h-7zM732 2334h7v7h-7zM732 2341h7v7h-7zM732 2348h7v7h-7zM732 2355h7v7h-7zM732 2362h7v8h-7zM732 2370h7v7h-7zM732 2377h7v7h-7zM732 2384h7v7h-7zM732 2391h7v7h-7z"/><path fill="#ec987c" d="M732 2127h7v7h-7zM760 2170h7v7h-7zM767 2184h8v7h-8zM832 2234h7v7h-7zM860 2248h8v7h-8zM596 2263h7v7h-7zM638 2291h8v7h-8zM653 2298h7v7h-7zM703 2362h7v8h-7zM717 2391h7v7h-7z"/><path fill="#f0a488" d="M739 2127h7v7h-7zM817 2227h8v7h-8zM868 2255h7v8h-7zM596 2270h7v7h-7zM696 2348h7v7h-7zM724 2398h8v7h-8z"/><path fill="#f0b094" d="M746 2127h7v7h-7zM767 2170h8v7h-8zM775 2184h7v7h-7zM803 2220h7v7h-7zM596 2277h7v7h-7zM638 2298h8v7h-8zM653 2305h7v8h-7zM689 2334h7v7h-7z"/><path fill="#f4bca4" d="M753 2127h7v7h-7zM760 2134h7v7h-7zM767 2156h8v7h-8zM775 2177h7v7h-7zM796 2213h7v7h-7zM817 2220h8v7h-8zM860 2234h8v7h-8zM875 2248h7v7h-7zM596 2284h7v7h-7zM603 2291h7v7h-7zM624 2298h7v7h-7zM646 2305h7v8h-7zM681 2327h8v7h-8zM689 2348h7v7h-7zM703 2391h7v7h-7zM717 2405h7v7h-7z"/><path fill="#f0c4b0" d="M760 2127h7v7h-7zM882 2255h7v8h-7zM596 2291h7v7h-7zM724 2412h8v7h-8z"/><path fill="#e8d4c8" d="M775 2127h7v7h-7zM782 2141h7v8h-7zM782 2149h7v7h-7zM789 2177h7v7h-7zM839 2213h7v7h-7zM868 2220h7v7h-7zM889 2241h7v7h-7zM596 2305h7v8h-7zM610 2313h14v7h-14zM646 2320h7v7h-7zM681 2370h8v7h-8zM689 2398h7v7h-7zM710 2419h7v8h-7z"/><path fill="#e07c64" d="M732 2134h7v7h-7zM746 2149h7v7h-7zM760 2184h7v7h-7zM810 2234h7v7h-7zM603 2263h7v7h-7zM617 2277h7v7h-7zM653 2291h7v7h-7zM703 2341h7v7h-7z"/><path fill="#e88c70" d="M739 2134h7v7h-7zM753 2156h7v7h-7zM860 2255h8v8h-8zM603 2270h7v7h-7zM624 2284h7v7h-7zM724 2391h8v7h-8z"/><path fill="#ec9c80" d="M746 2134h7v7h-7zM853 2241h7v7h-7zM603 2277h7v7h-7zM710 2384h7v7h-7z"/><path fill="#f0ac94" d="M753 2134h7v7h-7zM825 2227h7v7h-7zM603 2284h7v7h-7zM696 2355h7v7h-7z"/><path fill="#ecd0c4" d="M775 2134h7v7h-7zM782 2163h7v7h-7zM789 2184h7v7h-7zM796 2198h7v8h-7zM825 2213h7v7h-7zM860 2220h8v7h-8zM875 2227h7v7h-7zM882 2234h7v7h-7zM889 2255h7v8h-7zM603 2305h7v8h-7zM631 2313h7v7h-7zM653 2320h7v7h-7zM667 2327h7v7h-7zM681 2355h8v7h-8zM689 2391h7v7h-7zM696 2405h7v7h-7zM703 2412h7v7h-7zM724 2419h8v8h-8z"/><path fill="#d46050" d="M732 2141h7v8h-7zM739 2149h7v7h-7zM610 2263h7v7h-7zM617 2270h7v7h-7z"/><path fill="#dc745c" d="M739 2141h7v8h-7zM846 2248h7v7h-7zM853 2255h7v8h-7zM610 2270h7v7h-7zM717 2377h7v7h-7zM724 2384h8v7h-8z"/><path fill="#e88870" d="M746 2141h7v8h-7zM796 2227h7v7h-7zM610 2277h7v7h-7zM696 2327h7v7h-7z"/><path fill="#f0a084" d="M753 2141h7v8h-7zM760 2163h7v7h-7zM839 2234h7v7h-7zM610 2284h7v7h-7zM631 2291h7v7h-7zM703 2370h7v7h-7z"/><path fill="#f0c4ac" d="M767 2141h8v8h-8zM775 2170h7v7h-7zM782 2184h7v7h-7zM803 2213h7v7h-7zM825 2220h7v7h-7zM853 2227h7v7h-7zM868 2234h7v7h-7zM875 2241h7v7h-7zM610 2298h7v7h-7zM638 2305h8v8h-8zM653 2313h7v7h-7zM681 2334h8v7h-8zM689 2355h7v7h-7zM696 2384h7v7h-7zM703 2398h7v7h-7zM710 2405h7v7h-7z"/><path fill="#c85444" d="M732 2149h7v7h-7zM746 2177h7v7h-7zM782 2227h7v7h-7zM825 2248h7v7h-7zM839 2255h7v8h-7zM617 2263h7v7h-7zM646 2277h7v7h-7zM696 2313h7v7h-7zM717 2355h7v7h-7zM724 2370h8v7h-8z"/><path fill="#ec9478" d="M753 2149h7v7h-7zM789 2220h7v7h-7zM803 2227h7v7h-7zM617 2284h7v7h-7zM689 2320h7v7h-7zM696 2334h7v7h-7z"/><path fill="#f0ac90" d="M760 2149h7v7h-7zM789 2213h7v7h-7zM860 2241h8v7h-8zM868 2248h7v7h-7zM617 2291h7v7h-7zM681 2320h8v7h-8zM710 2391h7v7h-7zM717 2398h7v7h-7z"/><path fill="#f0c0a8" d="M767 2149h8v7h-8zM789 2198h7v8h-7zM846 2227h7v7h-7zM617 2298h7v7h-7zM667 2320h7v7h-7zM696 2377h7v7h-7z"/><path fill="#c4483c" d="M732 2156h7v7h-7zM753 2191h7v7h-7zM817 2248h8v7h-8zM832 2255h7v8h-7zM624 2263h7v7h-7zM660 2284h7v7h-7zM717 2348h7v7h-7zM724 2362h8v8h-8z"/><path fill="#cc5848" d="M739 2156h7v7h-7zM760 2191h7v7h-7zM789 2234h7v7h-7zM624 2270h7v7h-7zM660 2291h7v7h-7zM703 2320h7v7h-7z"/><path fill="#dc705c" d="M746 2156h7v7h-7zM782 2213h7v7h-7zM803 2234h7v7h-7zM624 2277h7v7h-7zM681 2313h8v7h-8zM703 2334h7v7h-7z"/><path fill="#f0a88c" d="M760 2156h7v7h-7zM767 2177h8v7h-8zM796 2220h7v7h-7zM846 2234h7v7h-7zM624 2291h7v7h-7zM646 2298h7v7h-7zM689 2327h7v7h-7zM703 2377h7v7h-7z"/><path fill="#f0c8b8" d="M775 2156h7v7h-7zM789 2191h7v7h-7zM839 2220h7v7h-7zM624 2305h7v8h-7zM660 2320h7v7h-7zM689 2370h7v7h-7z"/><path fill="#bc4034" d="M732 2163h7v7h-7zM767 2198h8v8h-8zM775 2206h7v7h-7zM810 2248h7v7h-7zM825 2255h7v8h-7zM631 2263h7v7h-7zM667 2298h7v7h-7zM674 2305h7v8h-7zM717 2341h7v7h-7zM724 2355h8v7h-8z"/><path fill="#c85040" d="M739 2163h7v7h-7zM775 2198h7v8h-7zM803 2241h7v7h-7zM631 2270h7v7h-7zM667 2305h7v8h-7zM710 2334h7v7h-7z"/><path fill="#d46454" d="M746 2163h7v7h-7zM796 2234h7v7h-7zM839 2248h7v7h-7zM631 2277h7v7h-7zM703 2327h7v7h-7zM717 2370h7v7h-7z"/><path fill="#e4846c" d="M753 2163h7v7h-7zM853 2248h7v7h-7zM631 2284h7v7h-7zM717 2384h7v7h-7z"/><path fill="#f4b89c" d="M767 2163h8v7h-8zM810 2220h7v7h-7zM631 2298h7v7h-7zM689 2341h7v7h-7z"/><path fill="#b4282c" d="M732 2170h7v7h-7zM753 2198h7v8h-7zM775 2234h7v7h-7zM803 2248h7v7h-7zM817 2255h8v8h-8zM638 2263h8v7h-8zM667 2284h7v7h-7zM703 2305h7v8h-7zM717 2334h7v7h-7zM724 2348h8v7h-8z"/><path fill="#c04438" d="M739 2170h7v7h-7zM782 2234h7v7h-7zM638 2270h8v7h-8zM703 2313h7v7h-7z"/><path fill="#d05c4c" d="M746 2170h7v7h-7zM832 2248h7v7h-7zM638 2277h8v7h-8zM717 2362h7v8h-7z"/><path fill="#e07860" d="M753 2170h7v7h-7zM782 2206h7v7h-7zM789 2227h7v7h-7zM832 2241h7v7h-7zM638 2284h8v7h-8zM674 2313h7v7h-7zM696 2320h7v7h-7zM710 2362h7v8h-7z"/><path fill="#b02028" d="M732 2177h7v7h-7zM732 2184h14v7h-14zM732 2191h14v7h-14zM732 2198h21v8h-21zM732 2206h43v7h-43zM732 2213h43v7h-43zM732 2220h43v7h-43zM732 2227h43v7h-43zM732 2234h43v7h-43zM732 2241h50v7h-50zM732 2248h71v7h-71zM732 2255h85v8h-85zM646 2263h86v7h-86zM653 2270h79v7h-79zM667 2277h65v7h-65zM674 2284h58v7h-58zM674 2291h58v7h-58zM674 2298h58v7h-58zM710 2305h22v8h-22zM717 2313h15v7h-15zM717 2320h15v7h-15zM717 2327h15v7h-15zM724 2334h8v7h-8zM724 2341h8v7h-8z"/><path fill="#b83830" d="M739 2177h7v7h-7zM775 2220h7v7h-7zM789 2241h7v7h-7zM646 2270h7v7h-7zM689 2305h7v8h-7zM710 2320h7v7h-7z"/><path fill="#d86c58" d="M753 2177h7v7h-7zM825 2241h7v7h-7zM646 2284h7v7h-7zM710 2355h7v7h-7z"/><path fill="#e89074" d="M760 2177h7v7h-7zM825 2234h7v7h-7zM846 2241h7v7h-7zM646 2291h7v7h-7zM703 2355h7v7h-7zM710 2377h7v7h-7z"/><path fill="#c04838" d="M746 2184h7v7h-7zM796 2241h7v7h-7zM653 2277h7v7h-7zM710 2327h7v7h-7z"/><path fill="#d06050" d="M753 2184h7v7h-7zM846 2255h7v8h-7zM653 2284h7v7h-7zM724 2377h8v7h-8z"/><path fill="#b4302c" d="M746 2191h7v7h-7zM775 2227h7v7h-7zM660 2277h7v7h-7zM696 2305h7v8h-7z"/><path fill="#d86854" d="M767 2191h8v7h-8zM660 2298h7v7h-7z"/><path fill="#e48068" d="M775 2191h7v7h-7zM660 2305h7v8h-7z"/><path fill="#f0a890" d="M782 2191h7v7h-7zM660 2313h7v7h-7z"/><path fill="#b83430" d="M760 2198h7v8h-7zM667 2291h7v7h-7z"/><path fill="#e4886c" d="M782 2198h7v8h-7zM817 2234h8v7h-8zM667 2313h7v7h-7zM703 2348h7v7h-7z"/><path fill="#f4b8a0" d="M789 2206h7v7h-7zM839 2227h7v7h-7zM868 2241h7v7h-7zM674 2320h7v7h-7zM696 2370h7v7h-7zM710 2398h7v7h-7z"/><path fill="#b83c30" d="M775 2213h7v7h-7zM681 2305h8v8h-8z"/><path fill="#ecccbc" d="M817 2213h8v7h-8zM868 2227h7v7h-7zM882 2241h7v7h-7zM681 2348h8v7h-8zM696 2398h7v7h-7zM710 2412h7v7h-7z"/><path fill="#d46450" d="M782 2220h7v7h-7zM817 2241h8v7h-8zM689 2313h7v7h-7zM710 2348h7v7h-7z"/><path fill="#f0ccbc" d="M846 2220h7v7h-7zM689 2377h7v7h-7z"/><path fill="#a8c0ec" d="M710 2227h7v7h-7zM696 2241h7v7h-7zM760 2277h7v7h-7zM746 2291h7v7h-7z"/><path fill="#94b0e8" d="M724 2227h8v7h-8zM696 2255h7v8h-7zM760 2263h7v7h-7zM732 2291h7v7h-7z"/><path fill="#f09c84" d="M810 2227h7v7h-7zM696 2341h7v7h-7z"/><path fill="#f0b098" d="M853 2234h7v7h-7zM703 2384h7v7h-7z"/><path fill="#d0d8e8" d="M710 2241h14v7h-14zM710 2248h7v7h-7zM746 2270h7v7h-7zM739 2277h14v7h-14z"/><path fill="#b02428" d="M782 2241h7v7h-7zM710 2313h7v7h-7z"/><path fill="#d05c48" d="M810 2241h7v7h-7zM710 2341h7v7h-7z"/><path fill="#e48468" d="M839 2241h7v7h-7zM710 2370h7v7h-7z"/></g>
<line x1="559.7" y1="2091.5" x2="903.4" y2="2433.7" stroke="#fdfbfa" stroke-width="6"/>
<rect x="558.7" y="2090.5" width="345.7" height="344.2" fill="none" stroke="#4a4a4a" stroke-width="2"/>
<text x="467.3" y="2105.5" font-size="25" fill="#231f20">-500 kb</text>
<text x="536.7" y="2277.0" font-size="25" fill="#231f20">0</text>
<text x="475.6" y="2441.0" font-size="25" fill="#231f20">500 kb</text>
<text x="541.4" y="2470.5" font-size="25" fill="#231f20">-500 kb</text>
<text x="726.0" y="2470.5" font-size="25" fill="#231f20">0</text>
<text x="842.5" y="2470.5" font-size="25" fill="#231f20">500 kb</text>
<g shape-rendering="crispEdges"><path fill="#d4d8e4" d="M1017 2087h108v7h-108zM1182 2087h7v7h-7zM1017 2094h79v7h-79zM1103 2094h7v7h-7zM1017 2101h86v7h-86zM1017 2108h79v7h-79zM1017 2115h79v7h-79zM1017 2122h72v8h-72zM1017 2130h58v7h-58zM1082 2130h7v7h-7zM1017 2137h65v7h-65zM1017 2144h43v7h-43zM1067 2144h15v7h-15zM1017 2151h50v7h-50zM1017 2158h36v7h-36zM1017 2165h7v8h-7zM1032 2165h7v8h-7zM1189 2165h94v8h-94zM1017 2173h15v7h-15zM1276 2173h7v7h-7zM1017 2180h7v7h-7zM1189 2180h79v7h-79zM1276 2180h7v7h-7zM1017 2187h7v7h-7zM1189 2187h79v7h-79zM1276 2187h7v7h-7zM1189 2194h79v7h-79zM1276 2194h7v7h-7zM1247 2201h21v7h-21zM1276 2201h7v7h-7zM1247 2208h21v8h-21zM1276 2208h7v8h-7zM1175 2216h14v7h-14zM1247 2216h21v7h-21zM1276 2216h7v7h-7zM1161 2223h14v7h-14zM1182 2223h7v7h-7zM1247 2223h21v7h-21zM1276 2223h7v7h-7zM1154 2230h35v7h-35zM1247 2230h21v7h-21zM1276 2230h7v7h-7zM1154 2237h35v7h-35zM1247 2237h21v7h-21zM1276 2237h7v7h-7zM1146 2244h8v7h-8zM1161 2244h28v7h-28zM1247 2244h21v7h-21zM1276 2244h7v7h-7zM1017 2251h7v7h-7zM1146 2251h43v7h-43zM1247 2251h21v7h-21zM1276 2251h7v7h-7zM1096 2258h7v8h-7zM1110 2258h22v8h-22zM1189 2258h29v8h-29zM1347 2258h15v8h-15zM1096 2266h7v7h-7zM1110 2266h22v7h-22zM1189 2266h8v7h-8zM1204 2266h7v7h-7zM1347 2266h15v7h-15zM1096 2273h7v7h-7zM1110 2273h22v7h-22zM1189 2273h15v7h-15zM1354 2273h8v7h-8zM1096 2280h7v7h-7zM1110 2280h22v7h-22zM1189 2280h8v7h-8zM1354 2280h8v7h-8zM1096 2287h7v7h-7zM1110 2287h22v7h-22zM1354 2287h8v7h-8zM1096 2294h7v7h-7zM1110 2294h22v7h-22zM1347 2294h7v7h-7zM1096 2301h7v8h-7zM1110 2301h22v8h-22zM1347 2301h15v8h-15zM1096 2309h7v7h-7zM1110 2309h22v7h-22zM1347 2309h15v7h-15zM1096 2316h7v7h-7zM1110 2316h79v7h-79zM1340 2316h7v7h-7zM1354 2316h8v7h-8zM1096 2323h7v7h-7zM1110 2323h79v7h-79zM1333 2323h29v7h-29zM1096 2330h7v7h-7zM1110 2330h79v7h-79zM1326 2330h36v7h-36zM1096 2337h7v7h-7zM1319 2337h43v7h-43zM1096 2344h93v8h-93zM1304 2344h58v8h-58zM1290 2352h72v7h-72zM1283 2359h79v7h-79zM1283 2366h79v7h-79zM1276 2373h86v7h-86zM1276 2380h86v7h-86zM1268 2387h94v8h-94zM1261 2395h101v7h-101zM1254 2402h108v7h-108zM1247 2409h115v7h-115zM1189 2416h15v7h-15zM1225 2416h22v7h-22zM1254 2416h108v7h-108zM1189 2423h36v7h-36zM1232 2423h130v7h-130z"/><path fill="#d4dce4" d="M1125 2087h57v7h-57zM1110 2094h22v7h-22zM1175 2094h14v7h-14zM1103 2101h22v7h-22zM1096 2108h14v7h-14zM1096 2115h14v7h-14zM1089 2122h14v8h-14zM1089 2130h7v7h-7zM1082 2137h14v7h-14zM1082 2144h14v7h-14zM1067 2151h22v7h-22zM1189 2151h108v7h-108zM1053 2158h29v7h-29zM1189 2158h108v7h-108zM1039 2165h21v8h-21zM1283 2165h14v8h-14zM1032 2173h21v7h-21zM1283 2173h14v7h-14zM1024 2180h15v7h-15zM1283 2180h14v7h-14zM1024 2187h15v7h-15zM1283 2187h14v7h-14zM1017 2194h15v7h-15zM1283 2194h14v7h-14zM1017 2201h7v7h-7zM1182 2201h7v7h-7zM1283 2201h14v7h-14zM1017 2208h7v8h-7zM1161 2208h28v8h-28zM1283 2208h14v8h-14zM1017 2216h7v7h-7zM1146 2216h29v7h-29zM1283 2216h14v7h-14zM1017 2223h7v7h-7zM1146 2223h15v7h-15zM1283 2223h14v7h-14zM1017 2230h7v7h-7zM1139 2230h15v7h-15zM1283 2230h14v7h-14zM1017 2237h7v7h-7zM1139 2237h15v7h-15zM1283 2237h14v7h-14zM1017 2244h15v7h-15zM1139 2244h7v7h-7zM1283 2244h14v7h-14zM1024 2251h8v7h-8zM1132 2251h14v7h-14zM1283 2251h14v7h-14zM1082 2258h14v8h-14zM1218 2258h7v8h-7zM1340 2258h7v8h-7zM1082 2266h14v7h-14zM1211 2266h14v7h-14zM1340 2266h7v7h-7zM1082 2273h14v7h-14zM1204 2273h21v7h-21zM1340 2273h14v7h-14zM1082 2280h14v7h-14zM1197 2280h21v7h-21zM1340 2280h14v7h-14zM1082 2287h14v7h-14zM1189 2287h22v7h-22zM1340 2287h14v7h-14zM1082 2294h14v7h-14zM1340 2294h7v7h-7zM1082 2301h14v8h-14zM1333 2301h14v8h-14zM1082 2309h14v7h-14zM1333 2309h14v7h-14zM1082 2316h14v7h-14zM1326 2316h14v7h-14zM1082 2323h14v7h-14zM1319 2323h14v7h-14zM1082 2330h14v7h-14zM1311 2330h15v7h-15zM1082 2337h14v7h-14zM1297 2337h22v7h-22zM1082 2344h14v8h-14zM1283 2344h21v8h-21zM1082 2352h107v7h-107zM1276 2352h14v7h-14zM1082 2359h107v7h-107zM1276 2359h7v7h-7zM1268 2366h15v7h-15zM1268 2373h8v7h-8zM1261 2380h15v7h-15zM1254 2387h14v8h-14zM1247 2395h14v7h-14zM1232 2402h22v7h-22zM1189 2409h58v7h-58zM1204 2416h21v7h-21z"/><path fill="#d8dce0" d="M1189 2087h173v7h-173zM1146 2094h22v7h-22zM1189 2094h173v7h-173zM1125 2101h21v7h-21zM1168 2101h14v7h-14zM1189 2101h173v7h-173zM1118 2108h7v7h-7zM1182 2108h180v7h-180zM1110 2115h8v7h-8zM1189 2115h173v7h-173zM1103 2122h7v8h-7zM1189 2122h173v8h-173zM1103 2130h7v7h-7zM1189 2130h173v7h-173zM1103 2137h7v7h-7zM1189 2137h173v7h-173zM1096 2144h7v7h-7zM1304 2144h58v7h-58zM1096 2151h7v7h-7zM1304 2151h58v7h-58zM1089 2158h14v7h-14zM1304 2158h58v7h-58zM1075 2165h28v8h-28zM1304 2165h58v8h-58zM1053 2173h22v7h-22zM1304 2173h58v7h-58zM1046 2180h7v7h-7zM1304 2180h58v7h-58zM1039 2187h7v7h-7zM1182 2187h7v7h-7zM1304 2187h58v7h-58zM1032 2194h7v7h-7zM1175 2194h14v7h-14zM1304 2194h58v7h-58zM1032 2201h7v7h-7zM1139 2201h36v7h-36zM1304 2201h58v7h-58zM1032 2208h7v8h-7zM1132 2208h22v8h-22zM1304 2208h58v8h-58zM1024 2216h8v7h-8zM1132 2216h14v7h-14zM1304 2216h58v7h-58zM1024 2223h8v7h-8zM1132 2223h7v7h-7zM1304 2223h58v7h-58zM1024 2230h8v7h-8zM1132 2230h7v7h-7zM1304 2230h58v7h-58zM1032 2237h7v7h-7zM1132 2237h7v7h-7zM1304 2237h58v7h-58zM1032 2244h7v7h-7zM1125 2244h7v7h-7zM1304 2244h58v7h-58zM1039 2251h7v7h-7zM1118 2251h14v7h-14zM1304 2251h58v7h-58zM1017 2258h58v8h-58zM1232 2258h8v8h-8zM1326 2258h7v8h-7zM1017 2266h58v7h-58zM1225 2266h7v7h-7zM1326 2266h7v7h-7zM1017 2273h58v7h-58zM1225 2273h7v7h-7zM1333 2273h7v7h-7zM1017 2280h58v7h-58zM1225 2280h7v7h-7zM1333 2280h7v7h-7zM1017 2287h58v7h-58zM1218 2287h14v7h-14zM1333 2287h7v7h-7zM1017 2294h58v7h-58zM1197 2294h28v7h-28zM1326 2294h7v7h-7zM1017 2301h58v8h-58zM1189 2301h8v8h-8zM1326 2301h7v8h-7zM1017 2309h58v7h-58zM1319 2309h14v7h-14zM1017 2316h58v7h-58zM1311 2316h15v7h-15zM1017 2323h58v7h-58zM1304 2323h15v7h-15zM1017 2330h58v7h-58zM1283 2330h21v7h-21zM1017 2337h58v7h-58zM1268 2337h15v7h-15zM1017 2344h58v8h-58zM1268 2344h8v8h-8zM1017 2352h58v7h-58zM1261 2352h7v7h-7zM1017 2359h58v7h-58zM1261 2359h7v7h-7zM1017 2366h58v7h-58zM1261 2366h7v7h-7zM1017 2373h172v7h-172zM1254 2373h7v7h-7zM1017 2380h172v7h-172zM1247 2380h14v7h-14zM1017 2387h172v8h-172zM1240 2387h14v8h-14zM1017 2395h187v7h-187zM1225 2395h22v7h-22zM1017 2402h172v7h-172zM1204 2402h21v7h-21zM1017 2409h172v7h-172zM1017 2416h172v7h-172zM1017 2423h172v7h-172z"/><path fill="#d0d8e4" d="M1096 2094h7v7h-7zM1075 2130h7v7h-7zM1060 2144h7v7h-7zM1024 2165h8v8h-8zM1189 2173h87v7h-87zM1268 2180h8v7h-8zM1268 2187h8v7h-8zM1268 2194h8v7h-8zM1268 2201h8v7h-8zM1268 2208h8v8h-8zM1268 2216h8v7h-8zM1175 2223h7v7h-7zM1268 2223h8v7h-8zM1268 2230h8v7h-8zM1268 2237h8v7h-8zM1154 2244h7v7h-7zM1268 2244h8v7h-8zM1268 2251h8v7h-8zM1103 2258h7v8h-7zM1103 2266h7v7h-7zM1197 2266h7v7h-7zM1103 2273h7v7h-7zM1103 2280h7v7h-7zM1103 2287h7v7h-7zM1103 2294h7v7h-7zM1354 2294h8v7h-8zM1103 2301h7v8h-7zM1103 2309h7v7h-7zM1103 2316h7v7h-7zM1347 2316h7v7h-7zM1103 2323h7v7h-7zM1103 2330h7v7h-7zM1103 2337h86v7h-86zM1247 2416h7v7h-7zM1225 2423h7v7h-7z"/><path fill="#d8dce4" d="M1132 2094h14v7h-14zM1168 2094h7v7h-7zM1182 2101h7v7h-7zM1110 2108h8v7h-8zM1096 2130h7v7h-7zM1096 2137h7v7h-7zM1189 2144h115v7h-115zM1089 2151h7v7h-7zM1297 2151h7v7h-7zM1082 2158h7v7h-7zM1297 2158h7v7h-7zM1060 2165h15v8h-15zM1297 2165h7v8h-7zM1297 2173h7v7h-7zM1039 2180h7v7h-7zM1297 2180h7v7h-7zM1297 2187h7v7h-7zM1297 2194h7v7h-7zM1024 2201h8v7h-8zM1175 2201h7v7h-7zM1297 2201h7v7h-7zM1024 2208h8v8h-8zM1154 2208h7v8h-7zM1297 2208h7v8h-7zM1297 2216h7v7h-7zM1139 2223h7v7h-7zM1297 2223h7v7h-7zM1297 2230h7v7h-7zM1024 2237h8v7h-8zM1297 2237h7v7h-7zM1132 2244h7v7h-7zM1297 2244h7v7h-7zM1032 2251h7v7h-7zM1297 2251h7v7h-7zM1075 2258h7v8h-7zM1225 2258h7v8h-7zM1333 2258h7v8h-7zM1075 2266h7v7h-7zM1333 2266h7v7h-7zM1075 2273h7v7h-7zM1075 2280h7v7h-7zM1218 2280h7v7h-7zM1075 2287h7v7h-7zM1211 2287h7v7h-7zM1075 2294h7v7h-7zM1189 2294h8v7h-8zM1333 2294h7v7h-7zM1075 2301h7v8h-7zM1075 2309h7v7h-7zM1075 2316h7v7h-7zM1075 2323h7v7h-7zM1075 2330h7v7h-7zM1304 2330h7v7h-7zM1075 2337h7v7h-7zM1283 2337h14v7h-14zM1075 2344h7v8h-7zM1276 2344h7v8h-7zM1075 2352h7v7h-7zM1268 2352h8v7h-8zM1075 2359h7v7h-7zM1268 2359h8v7h-8zM1075 2366h114v7h-114zM1261 2373h7v7h-7zM1189 2402h15v7h-15zM1225 2402h7v7h-7z"/><path fill="#dcdce0" d="M1146 2101h22v7h-22zM1125 2108h7v7h-7zM1118 2115h7v7h-7zM1110 2122h8v8h-8zM1103 2144h7v7h-7zM1075 2173h7v7h-7zM1053 2180h7v7h-7zM1046 2187h7v7h-7zM1039 2194h7v7h-7zM1168 2194h7v7h-7zM1032 2216h7v7h-7zM1032 2223h7v7h-7zM1032 2230h7v7h-7zM1125 2237h7v7h-7zM1232 2266h8v7h-8zM1326 2273h7v7h-7zM1326 2287h7v7h-7zM1197 2301h7v8h-7zM1297 2323h7v7h-7zM1276 2330h7v7h-7zM1261 2344h7v8h-7zM1254 2366h7v7h-7zM1204 2395h7v7h-7zM1218 2395h7v7h-7z"/><path fill="#dcdcdc" d="M1132 2108h14v7h-14zM1168 2108h14v7h-14zM1125 2115h7v7h-7zM1182 2115h7v7h-7zM1118 2122h7v8h-7zM1110 2130h8v7h-8zM1110 2137h8v7h-8zM1103 2151h7v7h-7zM1103 2158h7v7h-7zM1103 2165h7v8h-7zM1082 2173h28v7h-28zM1060 2180h15v7h-15zM1182 2180h7v7h-7zM1053 2187h7v7h-7zM1175 2187h7v7h-7zM1046 2194h7v7h-7zM1125 2194h43v7h-43zM1039 2201h7v7h-7zM1125 2201h14v7h-14zM1039 2208h7v8h-7zM1125 2208h7v8h-7zM1125 2216h7v7h-7zM1125 2223h7v7h-7zM1125 2230h7v7h-7zM1039 2237h7v7h-7zM1039 2244h7v7h-7zM1118 2244h7v7h-7zM1046 2251h7v7h-7zM1110 2251h8v7h-8zM1240 2258h7v8h-7zM1319 2258h7v8h-7zM1232 2273h8v7h-8zM1232 2280h8v7h-8zM1326 2280h7v7h-7zM1232 2287h8v7h-8zM1225 2294h15v7h-15zM1319 2294h7v7h-7zM1204 2301h28v8h-28zM1319 2301h7v8h-7zM1189 2309h8v7h-8zM1311 2309h8v7h-8zM1304 2316h7v7h-7zM1276 2323h21v7h-21zM1261 2330h15v7h-15zM1261 2337h7v7h-7zM1254 2344h7v8h-7zM1254 2352h7v7h-7zM1254 2359h7v7h-7zM1247 2373h7v7h-7zM1240 2380h7v7h-7zM1189 2387h8v8h-8zM1225 2387h15v8h-15zM1211 2395h7v7h-7z"/><path fill="#e0dcd8" d="M1146 2108h22v7h-22zM1175 2115h7v7h-7zM1182 2122h7v8h-7zM1110 2144h8v7h-8zM1110 2151h8v7h-8zM1110 2158h8v7h-8zM1110 2165h8v8h-8zM1110 2173h8v7h-8zM1182 2173h7v7h-7zM1075 2180h50v7h-50zM1175 2180h7v7h-7zM1110 2187h29v7h-29zM1161 2187h14v7h-14zM1118 2194h7v7h-7zM1118 2201h7v7h-7zM1039 2216h7v7h-7zM1039 2223h7v7h-7zM1039 2230h7v7h-7zM1118 2230h7v7h-7zM1118 2237h7v7h-7zM1046 2244h7v7h-7zM1110 2244h8v7h-8zM1053 2251h7v7h-7zM1103 2251h7v7h-7zM1240 2266h7v7h-7zM1319 2266h7v7h-7zM1240 2273h7v7h-7zM1319 2273h7v7h-7zM1319 2280h7v7h-7zM1319 2287h7v7h-7zM1232 2301h8v8h-8zM1311 2301h8v8h-8zM1197 2309h14v7h-14zM1304 2309h7v7h-7zM1297 2316h7v7h-7zM1254 2323h22v7h-22zM1254 2330h7v7h-7zM1254 2337h7v7h-7zM1247 2366h7v7h-7zM1240 2373h7v7h-7zM1232 2380h8v7h-8zM1197 2387h28v8h-28z"/><path fill="#e0dcd4" d="M1132 2115h7v7h-7zM1118 2130h7v7h-7zM1118 2173h7v7h-7zM1060 2187h7v7h-7zM1103 2187h7v7h-7zM1139 2187h22v7h-22zM1046 2201h7v7h-7zM1118 2208h7v8h-7zM1118 2216h7v7h-7zM1118 2223h7v7h-7zM1247 2258h7v8h-7zM1311 2258h8v8h-8zM1240 2280h7v7h-7zM1240 2287h7v7h-7zM1240 2294h7v7h-7zM1240 2301h7v8h-7zM1211 2309h36v7h-36zM1189 2316h8v7h-8zM1290 2316h7v7h-7zM1247 2359h7v7h-7zM1189 2380h8v7h-8z"/><path fill="#e4d8d0" d="M1139 2115h29v7h-29zM1175 2122h7v8h-7zM1118 2137h7v7h-7zM1118 2144h7v7h-7zM1118 2151h7v7h-7zM1118 2158h7v7h-7zM1118 2165h7v8h-7zM1182 2165h7v8h-7zM1125 2173h7v7h-7zM1175 2173h7v7h-7zM1132 2180h7v7h-7zM1168 2180h7v7h-7zM1067 2187h36v7h-36zM1103 2194h7v7h-7zM1110 2201h8v7h-8zM1046 2208h7v8h-7zM1046 2216h7v7h-7zM1046 2223h7v7h-7zM1046 2230h7v7h-7zM1110 2237h8v7h-8zM1053 2244h7v7h-7zM1103 2244h7v7h-7zM1096 2251h7v7h-7zM1247 2266h7v7h-7zM1311 2266h8v7h-8zM1311 2273h8v7h-8zM1311 2287h8v7h-8zM1247 2294h7v7h-7zM1247 2301h7v8h-7zM1304 2301h7v8h-7zM1254 2309h7v7h-7zM1297 2309h7v7h-7zM1197 2316h7v7h-7zM1225 2316h15v7h-15zM1240 2323h7v7h-7zM1240 2366h7v7h-7zM1232 2373h8v7h-8zM1197 2380h14v7h-14zM1218 2380h7v7h-7z"/><path fill="#e4d8d4" d="M1168 2115h7v7h-7zM1125 2122h7v8h-7zM1182 2130h7v7h-7zM1125 2180h7v7h-7zM1053 2194h7v7h-7zM1110 2194h8v7h-8zM1046 2237h7v7h-7zM1060 2251h7v7h-7zM1311 2294h8v7h-8zM1247 2309h7v7h-7zM1240 2316h50v7h-50zM1247 2323h7v7h-7zM1247 2330h7v7h-7zM1247 2337h7v7h-7zM1247 2344h7v8h-7zM1247 2352h7v7h-7zM1225 2380h7v7h-7z"/><path fill="#e8d8cc" d="M1132 2122h7v8h-7zM1125 2130h7v7h-7zM1182 2137h7v7h-7zM1182 2158h7v7h-7zM1139 2180h7v7h-7zM1161 2180h7v7h-7zM1060 2194h7v7h-7zM1053 2201h7v7h-7zM1110 2208h8v8h-8zM1110 2230h8v7h-8zM1067 2251h8v7h-8zM1089 2251h7v7h-7zM1254 2258h7v8h-7zM1304 2258h7v8h-7zM1247 2273h7v7h-7zM1311 2280h8v7h-8zM1204 2316h7v7h-7zM1189 2323h8v7h-8zM1189 2373h8v7h-8zM1211 2380h7v7h-7z"/><path fill="#e8d4c8" d="M1139 2122h7v8h-7zM1175 2130h7v7h-7zM1125 2137h7v7h-7zM1125 2165h7v8h-7zM1175 2165h7v8h-7zM1132 2173h7v7h-7zM1168 2173h7v7h-7zM1067 2194h8v7h-8zM1096 2194h7v7h-7zM1103 2201h7v7h-7zM1053 2208h7v8h-7zM1103 2237h7v7h-7zM1060 2244h7v7h-7zM1096 2244h7v7h-7zM1304 2266h7v7h-7zM1304 2294h7v7h-7zM1297 2301h7v8h-7zM1268 2309h22v7h-22zM1240 2337h7v7h-7zM1240 2344h7v8h-7zM1240 2352h7v7h-7zM1232 2366h8v7h-8zM1197 2373h7v7h-7zM1225 2373h7v7h-7z"/><path fill="#ecd0c4" d="M1146 2122h15v8h-15zM1175 2137h7v7h-7zM1125 2144h7v7h-7zM1125 2151h7v7h-7zM1175 2158h7v7h-7zM1139 2173h7v7h-7zM1161 2173h7v7h-7zM1075 2194h14v7h-14zM1103 2208h7v8h-7zM1053 2216h7v7h-7zM1053 2223h7v7h-7zM1103 2230h7v7h-7zM1067 2244h8v7h-8zM1089 2244h7v7h-7zM1254 2273h7v7h-7zM1304 2273h7v7h-7zM1304 2280h7v7h-7zM1254 2287h7v7h-7zM1304 2287h7v7h-7zM1204 2323h7v7h-7zM1218 2323h7v7h-7zM1204 2373h21v7h-21z"/><path fill="#ecd4c4" d="M1161 2122h7v8h-7zM1132 2130h7v7h-7zM1125 2158h7v7h-7zM1089 2194h7v7h-7zM1060 2201h7v7h-7zM1053 2230h7v7h-7zM1261 2258h7v8h-7zM1297 2258h7v8h-7zM1254 2294h7v7h-7zM1261 2301h7v8h-7zM1225 2323h7v7h-7zM1189 2330h8v7h-8zM1232 2330h8v7h-8zM1189 2366h8v7h-8z"/><path fill="#e8d4cc" d="M1168 2122h7v8h-7zM1182 2144h7v7h-7zM1182 2151h7v7h-7zM1146 2180h15v7h-15zM1110 2216h8v7h-8zM1110 2223h8v7h-8zM1053 2237h7v7h-7zM1075 2251h14v7h-14zM1247 2280h7v7h-7zM1247 2287h7v7h-7zM1254 2301h7v8h-7zM1261 2309h7v7h-7zM1290 2309h7v7h-7zM1211 2316h14v7h-14zM1232 2323h8v7h-8zM1240 2330h7v7h-7zM1240 2359h7v7h-7z"/><path fill="#ecccbc" d="M1139 2130h7v7h-7zM1132 2137h7v7h-7zM1067 2201h8v7h-8zM1060 2208h7v8h-7zM1261 2266h7v7h-7zM1261 2294h7v7h-7zM1276 2301h7v8h-7zM1197 2330h7v7h-7zM1225 2330h7v7h-7zM1232 2344h8v8h-8z"/><path fill="#f0ccb8" d="M1146 2130h8v7h-8zM1168 2137h7v7h-7zM1132 2144h7v7h-7zM1132 2151h7v7h-7zM1168 2158h7v7h-7zM1139 2165h7v8h-7zM1161 2165h7v8h-7zM1075 2201h14v7h-14zM1096 2208h7v8h-7zM1060 2216h7v7h-7zM1096 2230h7v7h-7zM1067 2237h8v7h-8zM1089 2237h7v7h-7zM1276 2258h7v8h-7zM1297 2273h7v7h-7zM1297 2287h7v7h-7zM1189 2344h8v8h-8zM1204 2366h7v7h-7zM1218 2366h7v7h-7z"/><path fill="#f0c8b8" d="M1154 2130h7v7h-7zM1060 2223h7v7h-7zM1261 2273h7v7h-7zM1297 2280h7v7h-7zM1261 2287h7v7h-7zM1268 2294h8v7h-8zM1290 2294h7v7h-7zM1204 2330h7v7h-7zM1218 2330h7v7h-7zM1225 2337h7v7h-7zM1225 2359h7v7h-7zM1211 2366h7v7h-7z"/><path fill="#f0ccbc" d="M1161 2130h7v7h-7zM1132 2158h7v7h-7zM1089 2201h7v7h-7zM1060 2230h7v7h-7zM1283 2258h7v8h-7zM1189 2352h8v7h-8z"/><path fill="#ecd0c0" d="M1168 2130h7v7h-7zM1175 2144h7v7h-7zM1175 2151h7v7h-7zM1132 2165h7v8h-7zM1168 2165h7v8h-7zM1146 2173h15v7h-15zM1096 2201h7v7h-7zM1103 2216h7v7h-7zM1103 2223h7v7h-7zM1060 2237h7v7h-7zM1096 2237h7v7h-7zM1075 2244h14v7h-14zM1268 2258h8v8h-8zM1290 2258h7v8h-7zM1297 2266h7v7h-7zM1254 2280h7v7h-7zM1297 2294h7v7h-7zM1268 2301h8v8h-8zM1283 2301h14v8h-14zM1211 2323h7v7h-7zM1189 2337h8v7h-8zM1232 2337h8v7h-8zM1232 2352h8v7h-8zM1189 2359h8v7h-8zM1232 2359h8v7h-8zM1197 2366h7v7h-7zM1225 2366h7v7h-7z"/><path fill="#f0c8b4" d="M1139 2137h7v7h-7zM1168 2144h7v7h-7zM1168 2151h7v7h-7zM1139 2158h7v7h-7zM1146 2165h15v8h-15zM1067 2208h8v8h-8zM1089 2208h7v8h-7zM1096 2216h7v7h-7zM1096 2223h7v7h-7zM1075 2237h14v7h-14zM1268 2266h8v7h-8zM1290 2266h7v7h-7zM1261 2280h7v7h-7zM1276 2294h14v7h-14zM1211 2330h7v7h-7zM1197 2337h7v7h-7zM1225 2344h7v8h-7zM1225 2352h7v7h-7zM1197 2359h7v7h-7z"/><path fill="#f0c4b0" d="M1146 2137h8v7h-8zM1161 2137h7v7h-7zM1139 2144h7v7h-7zM1161 2158h7v7h-7zM1075 2208h7v8h-7zM1067 2216h8v7h-8zM1067 2230h8v7h-8zM1089 2230h7v7h-7zM1276 2266h14v7h-14zM1290 2273h7v7h-7zM1268 2287h8v7h-8zM1290 2287h7v7h-7zM1218 2337h7v7h-7zM1197 2344h7v8h-7zM1197 2352h7v7h-7zM1204 2359h7v7h-7zM1218 2359h7v7h-7z"/><path fill="#f0c4ac" d="M1154 2137h7v7h-7zM1161 2144h7v7h-7zM1139 2151h7v7h-7zM1146 2158h15v7h-15zM1082 2208h7v8h-7zM1089 2216h7v7h-7zM1067 2223h8v7h-8zM1089 2223h7v7h-7zM1075 2230h7v7h-7zM1268 2273h8v7h-8zM1268 2280h8v7h-8zM1290 2280h7v7h-7zM1204 2337h14v7h-14zM1211 2359h7v7h-7z"/><path fill="#f0c0a8" d="M1146 2144h15v7h-15zM1146 2151h15v7h-15zM1075 2216h14v7h-14zM1075 2223h14v7h-14zM1276 2273h14v7h-14zM1276 2280h14v7h-14zM1204 2344h14v8h-14zM1204 2352h14v7h-14z"/><path fill="#f0c0ac" d="M1161 2151h7v7h-7zM1082 2230h7v7h-7zM1276 2287h14v7h-14zM1218 2344h7v8h-7zM1218 2352h7v7h-7z"/><path fill="#ccd8e8" d="M1189 2201h58v7h-58zM1240 2208h7v8h-7zM1240 2216h7v7h-7zM1240 2223h7v7h-7zM1240 2230h7v7h-7zM1240 2237h7v7h-7zM1240 2244h7v7h-7zM1240 2251h7v7h-7zM1132 2258h7v8h-7zM1132 2266h7v7h-7zM1132 2273h7v7h-7zM1132 2280h7v7h-7zM1132 2287h7v7h-7zM1132 2294h7v7h-7zM1132 2301h7v8h-7zM1132 2309h57v7h-57z"/><path fill="#acc4ec" d="M1189 2208h51v8h-51zM1232 2216h8v7h-8zM1232 2223h8v7h-8zM1232 2230h8v7h-8zM1232 2237h8v7h-8zM1232 2244h8v7h-8zM1232 2251h8v7h-8zM1139 2258h7v8h-7zM1139 2266h7v7h-7zM1139 2273h7v7h-7zM1139 2280h7v7h-7zM1139 2287h7v7h-7zM1139 2294h7v7h-7zM1139 2301h50v8h-50z"/><path fill="#88a0e0" d="M1189 2216h43v7h-43zM1225 2223h7v7h-7zM1225 2230h7v7h-7zM1225 2237h7v7h-7zM1225 2244h7v7h-7zM1225 2251h7v7h-7zM1146 2258h8v8h-8zM1146 2266h8v7h-8zM1146 2273h8v7h-8zM1146 2280h8v7h-8zM1146 2287h8v7h-8zM1146 2294h43v7h-43z"/><path fill="#8098dc" d="M1189 2223h36v7h-36zM1189 2230h36v7h-36zM1189 2237h36v7h-36zM1189 2244h36v7h-36zM1189 2251h36v7h-36zM1154 2258h35v8h-35zM1154 2266h35v7h-35zM1154 2273h35v7h-35zM1154 2280h35v7h-35zM1154 2287h35v7h-35z"/><path fill="#ecd4c8" d="M1254 2266h7v7h-7zM1197 2323h7v7h-7z"/></g>
<line x1="1017.2" y1="2086.6" x2="1361.6" y2="2430.4" stroke="#fdfbfa" stroke-width="6"/>
<rect x="1016.2" y="2085.6" width="346.4" height="345.8" fill="none" stroke="#4a4a4a" stroke-width="2"/>
<text x="920.7" y="2105.0" font-size="25" fill="#231f20">-500 kb</text>
<text x="990.1" y="2276.0" font-size="25" fill="#231f20">0</text>
<text x="929.0" y="2441.0" font-size="25" fill="#231f20">500 kb</text>
<text x="993.2" y="2470.5" font-size="25" fill="#231f20">-500 kb</text>
<text x="1179.4" y="2470.5" font-size="25" fill="#231f20">0</text>
<text x="1295.4" y="2470.5" font-size="25" fill="#231f20">500 kb</text>
<defs>
<radialGradient id="bl1"><stop offset="0" stop-color="#3f58a8" stop-opacity="0.95"/><stop offset="0.45" stop-color="#6a86c8" stop-opacity="0.6"/><stop offset="1" stop-color="#a9bde3" stop-opacity="0"/></radialGradient>
<radialGradient id="bl2"><stop offset="0" stop-color="#2a3f90" stop-opacity="0.95"/><stop offset="0.18" stop-color="#4a68b0" stop-opacity="0.8"/><stop offset="0.5" stop-color="#809cd4" stop-opacity="0.5"/><stop offset="1" stop-color="#b0c4e6" stop-opacity="0"/></radialGradient>
</defs>
<ellipse cx="1195" cy="1111" rx="6" ry="9" fill="url(#bl1)"/>
<ellipse cx="1185" cy="1124" rx="8" ry="8" fill="url(#bl1)"/>
<ellipse cx="1201" cy="1684" rx="22" ry="14" fill="url(#bl2)"/>
<ellipse cx="1182" cy="1702" rx="14" ry="23" fill="url(#bl2)"/>
<line x1="1076.8" y1="1004.5" x2="1303.5" y2="1231" stroke="#fdfbfa" stroke-width="6"/>
<line x1="1076.7" y1="1578" x2="1303" y2="1803" stroke="#fdfbfa" stroke-width="6"/>
<defs><linearGradient id="cwg" x1="0" x2="0" y1="1" y2="0"><stop offset="0.00" stop-color="#424ea2"/><stop offset="0.10" stop-color="#6278c5"/><stop offset="0.20" stop-color="#859fdf"/><stop offset="0.30" stop-color="#a6bdec"/><stop offset="0.40" stop-color="#c5d3eb"/><stop offset="0.50" stop-color="#dddcdc"/><stop offset="0.60" stop-color="#efccba"/><stop offset="0.70" stop-color="#f1ae93"/><stop offset="0.80" stop-color="#e6876d"/><stop offset="0.90" stop-color="#ce5a49"/><stop offset="1.00" stop-color="#b02229"/></linearGradient></defs>
<rect x="1409.5" y="990" width="14" height="250.5" fill="url(#cwg)" stroke="#4a4a4a" stroke-width="2"/>
<rect x="1424" y="988.3" width="7" height="3" fill="#4a4a4a"/>
<text x="1434.4" y="1002.2" font-size="25" fill="#231f20">0.2</text>
<rect x="1424" y="1054.7" width="7" height="3" fill="#4a4a4a"/>
<text x="1434.4" y="1063.3" font-size="25" fill="#231f20">0.1</text>
<rect x="1424" y="1116.8" width="7" height="3" fill="#4a4a4a"/>
<text x="1434.4" y="1124.3" font-size="25" fill="#231f20">0.0</text>
<rect x="1424" y="1175.9" width="7" height="3" fill="#4a4a4a"/>
<text x="1434.1" y="1185.5" font-size="25" fill="#231f20">-0.1</text>
<rect x="1424" y="1238.1" width="7" height="3" fill="#4a4a4a"/>
<text x="1434.1" y="1246.0" font-size="25" fill="#231f20">-0.2</text>
<g shape-rendering="crispEdges"><path fill="#5c0c0c" d="M97 169h24v6h-24zM97 175h30v6h-30zM97 181h36v6h-36zM97 187h36v6h-36zM103 193h30v6h-30zM109 199h24v6h-24zM133 205h36v6h-36zM133 211h36v6h-36zM133 217h36v6h-36zM133 223h36v6h-36zM133 229h36v6h-36zM133 235h36v6h-36zM169 241h18v6h-18zM169 247h18v6h-18zM169 253h18v6h-18zM187 259h24v6h-24zM187 265h24v6h-24zM187 271h24v6h-24zM187 277h24v6h-24zM211 283h12v6h-12zM211 289h18v6h-18zM217 295h18v6h-18zM223 301h18v6h-18zM229 307h18v6h-18zM235 313h18v6h-18zM241 319h18v6h-18zM247 325h18v6h-18zM253 331h18v6h-18zM259 337h12v6h-12zM271 343h36v6h-36zM331 343h6v6h-6zM271 349h42v6h-42zM331 349h6v6h-6zM271 355h48v6h-48zM331 355h6v6h-6zM271 361h54v6h-54zM331 361h6v6h-6zM271 367h66v6h-66zM271 373h66v6h-66zM277 379h60v6h-60zM283 385h54v6h-54zM289 391h48v6h-48zM295 397h42v6h-42zM271 403h72v6h-72zM331 409h18v6h-18zM337 415h18v6h-18zM343 421h18v6h-18zM349 427h18v6h-18zM355 433h18v6h-18zM361 439h12v6h-12zM373 445h6v6h-6zM379 451h5v5h-5zM384 456h6v6h-6zM390 462h6v6h-6zM396 468h6v6h-6zM402 474h6v6h-6zM408 480h6v6h-6zM414 486h6v6h-6zM420 492h6v6h-6zM426 498h6v6h-6zM432 504h6v6h-6zM438 510h6v6h-6zM444 516h6v6h-6zM450 522h6v6h-6zM456 528h6v6h-6zM462 534h6v6h-6zM468 540h6v6h-6zM474 546h6v6h-6zM480 552h6v6h-6zM486 558h6v6h-6zM492 564h6v6h-6zM498 570h6v6h-6zM504 576h6v6h-6zM510 582h6v6h-6zM516 588h6v6h-6zM522 594h6v6h-6zM528 600h6v6h-6zM534 606h6v6h-6zM540 612h6v6h-6zM546 618h6v6h-6zM552 624h6v6h-6zM558 630h6v6h-6zM564 636h6v6h-6zM570 642h6v6h-6zM576 648h6v6h-6zM582 654h6v6h-6zM588 660h6v6h-6zM594 666h6v6h-6zM600 672h6v6h-6zM606 678h6v6h-6zM612 684h6v6h-6zM618 690h6v6h-6zM624 696h6v6h-6zM630 702h6v6h-6zM636 708h6v6h-6zM642 714h6v6h-6zM648 720h6v6h-6zM654 726h6v6h-6zM660 732h6v6h-6zM666 738h6v6h-6z"/><path fill="#640c10" d="M121 169h6v6h-6zM127 175h6v6h-6zM97 193h6v6h-6zM103 199h6v6h-6zM223 283h6v6h-6zM229 289h6v6h-6zM211 295h6v6h-6zM235 295h6v6h-6zM217 301h6v6h-6zM241 301h6v6h-6zM223 307h6v6h-6zM247 307h6v6h-6zM229 313h6v6h-6zM253 313h6v6h-6zM235 319h6v6h-6zM259 319h6v6h-6zM241 325h6v6h-6zM265 325h6v6h-6zM247 331h6v6h-6zM253 337h6v6h-6zM319 343h12v6h-12zM325 349h6v6h-6zM271 391h6v6h-6zM271 397h12v6h-12z"/><path fill="#680c10" d="M127 169h6v6h-6zM97 199h6v6h-6zM133 199h6v6h-6zM127 205h6v6h-6zM169 235h6v6h-6zM163 241h6v6h-6zM187 253h6v6h-6zM181 259h6v6h-6z"/><path fill="#b02c1c" d="M133 169h6v6h-6zM139 175h6v6h-6zM145 181h6v6h-6zM151 187h6v6h-6zM157 193h6v6h-6zM163 199h6v6h-6zM97 205h6v6h-6zM169 205h6v6h-6zM103 211h6v6h-6zM175 211h6v6h-6zM109 217h6v6h-6zM181 217h6v6h-6zM115 223h6v6h-6zM187 223h6v6h-6zM121 229h6v6h-6zM193 229h6v6h-6zM127 235h6v6h-6zM199 235h6v6h-6zM133 241h6v6h-6zM205 241h6v6h-6zM139 247h6v6h-6zM145 253h6v6h-6zM151 259h6v6h-6zM157 265h6v6h-6zM163 271h6v6h-6zM169 277h6v6h-6z"/><path fill="#b42c1c" d="M139 169h6v6h-6zM145 175h6v6h-6zM151 181h6v6h-6zM157 187h6v6h-6zM163 193h6v6h-6zM169 199h6v6h-6zM175 205h6v6h-6zM97 211h6v6h-6zM181 211h6v6h-6zM103 217h6v6h-6zM187 217h6v6h-6zM109 223h6v6h-6zM193 223h6v6h-6zM115 229h6v6h-6zM199 229h6v6h-6zM121 235h6v6h-6zM205 235h6v6h-6zM127 241h6v6h-6zM133 247h6v6h-6zM139 253h6v6h-6zM145 259h6v6h-6zM151 265h6v6h-6zM157 271h6v6h-6zM163 277h6v6h-6zM271 337h6v6h-6zM265 343h6v6h-6zM390 445h6v6h-6zM396 451h6v5h-6zM402 456h6v6h-6zM373 462h6v6h-6zM408 462h6v6h-6zM379 468h5v6h-5zM414 468h6v6h-6zM384 474h6v6h-6zM420 474h6v6h-6zM390 480h6v6h-6zM426 480h6v6h-6zM396 486h6v6h-6zM432 486h6v6h-6zM402 492h6v6h-6zM438 492h6v6h-6zM408 498h6v6h-6zM414 504h6v6h-6zM444 504h6v6h-6zM420 510h6v6h-6zM450 510h6v6h-6zM432 516h6v6h-6zM438 522h6v6h-6z"/><path fill="#b42c20" d="M145 169h6v6h-6zM151 175h6v6h-6zM157 181h6v6h-6zM163 187h6v6h-6zM169 193h6v6h-6zM175 199h6v6h-6zM181 205h6v6h-6zM187 211h6v6h-6zM97 217h6v6h-6zM193 217h6v6h-6zM103 223h6v6h-6zM199 223h6v6h-6zM109 229h6v6h-6zM205 229h6v6h-6zM115 235h6v6h-6zM121 241h6v6h-6zM127 247h6v6h-6zM133 253h6v6h-6zM139 259h6v6h-6zM145 265h6v6h-6zM151 271h6v6h-6zM157 277h6v6h-6z"/><path fill="#b83020" d="M151 169h18v6h-18zM157 175h18v6h-18zM163 181h18v6h-18zM169 187h18v6h-18zM175 193h18v6h-18zM181 199h18v6h-18zM187 205h18v6h-18zM193 211h18v6h-18zM199 217h12v6h-12zM97 223h6v6h-6zM205 223h6v6h-6zM97 229h12v6h-12zM97 235h18v6h-18zM103 241h18v6h-18zM109 247h18v6h-18zM115 253h18v6h-18zM121 259h18v6h-18zM127 265h18v6h-18zM211 265h6v6h-6zM133 271h18v6h-18zM217 271h6v6h-6zM139 277h18v6h-18zM223 277h6v6h-6zM193 283h6v6h-6zM199 289h6v6h-6zM205 295h6v6h-6zM337 397h6v6h-6zM325 409h6v6h-6zM462 516h6v6h-6zM468 522h6v6h-6zM474 528h6v6h-6zM444 534h6v6h-6zM480 534h6v6h-6zM450 540h6v6h-6zM486 540h6v6h-6zM456 546h6v6h-6zM492 546h6v6h-6zM462 552h6v6h-6zM498 552h6v6h-6zM468 558h6v6h-6zM504 558h6v6h-6zM474 564h6v6h-6zM510 564h6v6h-6zM480 570h6v6h-6zM516 570h6v6h-6zM486 576h6v6h-6zM522 576h6v6h-6zM492 582h6v6h-6zM498 588h6v6h-6zM504 594h6v6h-6zM540 600h6v6h-6zM546 606h6v6h-6zM528 612h6v6h-6zM552 612h6v6h-6zM534 618h6v6h-6zM558 618h6v6h-6zM540 624h6v6h-6zM564 624h6v6h-6zM546 630h6v6h-6zM570 630h6v6h-6zM552 636h6v6h-6zM576 636h6v6h-6zM558 642h6v6h-6zM582 642h6v6h-6zM564 648h6v6h-6zM588 648h6v6h-6zM570 654h6v6h-6zM594 654h6v6h-6zM576 660h6v6h-6zM600 660h6v6h-6zM582 666h6v6h-6zM606 666h6v6h-6zM588 672h6v6h-6zM612 672h6v6h-6zM594 678h6v6h-6zM618 678h6v6h-6zM600 684h6v6h-6zM624 684h6v6h-6zM606 690h6v6h-6zM630 690h6v6h-6zM612 696h6v6h-6zM636 696h6v6h-6zM618 702h6v6h-6zM642 702h6v6h-6zM624 708h6v6h-6zM648 708h6v6h-6zM630 714h6v6h-6zM654 714h6v6h-6zM636 720h6v6h-6zM660 720h6v6h-6zM642 726h6v6h-6zM666 726h6v6h-6zM648 732h6v6h-6zM654 738h6v6h-6z"/><path fill="#bc3020" d="M169 169h12v6h-12zM175 175h12v6h-12zM181 181h12v6h-12zM187 187h12v6h-12zM193 193h12v6h-12zM199 199h12v6h-12zM205 205h6v6h-6zM97 241h6v6h-6zM97 247h12v6h-12zM103 253h12v6h-12zM109 259h12v6h-12zM115 265h12v6h-12zM121 271h12v6h-12zM127 277h12v6h-12z"/><path fill="#bc3420" d="M181 169h6v6h-6zM187 175h6v6h-6zM193 181h6v6h-6zM199 187h6v6h-6zM205 193h6v6h-6zM97 253h6v6h-6zM103 259h6v6h-6zM109 265h6v6h-6zM115 271h6v6h-6zM121 277h6v6h-6zM396 445h6v6h-6zM402 451h6v5h-6zM408 456h6v6h-6zM414 462h6v6h-6zM373 468h6v6h-6zM420 468h6v6h-6zM379 474h5v6h-5zM426 474h6v6h-6zM384 480h6v6h-6zM432 480h6v6h-6zM390 486h6v6h-6zM438 486h6v6h-6zM396 492h6v6h-6zM402 498h6v6h-6zM408 504h6v6h-6zM414 510h6v6h-6z"/><path fill="#c03420" d="M187 169h24v6h-24zM193 175h18v6h-18zM199 181h12v6h-12zM205 187h6v6h-6zM97 259h6v6h-6zM211 259h6v6h-6zM97 265h12v6h-12zM217 265h6v6h-6zM97 271h18v6h-18zM223 271h6v6h-6zM97 277h24v6h-24zM229 277h6v6h-6zM187 283h6v6h-6zM193 289h6v6h-6zM199 295h6v6h-6zM205 301h6v6h-6zM402 445h6v6h-6zM408 451h6v5h-6zM414 456h6v6h-6zM420 462h6v6h-6zM426 468h6v6h-6zM373 474h6v6h-6zM432 474h6v6h-6zM379 480h5v6h-5zM438 480h6v6h-6zM384 486h6v6h-6zM390 492h6v6h-6zM396 498h6v6h-6zM402 504h6v6h-6zM408 510h6v6h-6zM468 516h6v6h-6zM474 522h6v6h-6zM480 528h6v6h-6zM486 534h6v6h-6zM444 540h6v6h-6zM492 540h6v6h-6zM450 546h6v6h-6zM498 546h6v6h-6zM456 552h6v6h-6zM504 552h6v6h-6zM462 558h6v6h-6zM510 558h6v6h-6zM468 564h6v6h-6zM516 564h6v6h-6zM474 570h6v6h-6zM522 570h6v6h-6zM480 576h6v6h-6zM486 582h6v6h-6zM492 588h6v6h-6zM498 594h6v6h-6z"/><path fill="#d04828" d="M211 169h42v6h-42zM217 175h42v6h-42zM223 181h42v6h-42zM229 187h42v6h-42zM235 193h36v6h-36zM241 199h30v6h-30zM247 205h24v6h-24zM253 211h18v6h-18zM259 217h12v6h-12zM265 223h6v6h-6zM97 283h6v6h-6zM97 289h12v6h-12zM97 295h18v6h-18zM97 301h24v6h-24zM97 307h30v6h-30zM97 313h36v6h-36zM97 319h42v6h-42zM103 325h42v6h-42zM109 331h42v6h-42zM115 337h42v6h-42zM337 355h6v6h-6zM337 361h12v6h-12zM337 367h18v6h-18zM343 373h18v6h-18zM349 379h18v6h-18zM355 385h18v6h-18zM361 391h12v6h-12zM367 397h6v6h-6zM283 409h18v6h-18zM289 415h18v6h-18zM295 421h18v6h-18zM301 427h18v6h-18zM307 433h18v6h-18zM313 439h18v6h-18zM444 445h6v6h-6zM444 451h12v5h-12zM444 456h18v6h-18zM444 462h24v6h-24zM450 468h24v6h-24zM456 474h24v6h-24zM462 480h24v6h-24zM468 486h24v6h-24zM474 492h24v6h-24zM480 498h24v6h-24zM486 504h24v6h-24zM492 510h24v6h-24zM373 516h23v6h-23zM379 522h23v6h-23zM384 528h24v6h-24zM390 534h24v6h-24zM396 540h24v6h-24zM402 546h24v6h-24zM408 552h24v6h-24zM414 558h24v6h-24zM420 564h24v6h-24zM426 570h18v6h-18zM432 576h12v6h-12zM438 582h6v6h-6zM570 600h18v6h-18zM576 606h18v6h-18zM582 612h18v6h-18zM588 618h18v6h-18zM594 624h18v6h-18zM600 630h18v6h-18zM606 636h18v6h-18zM528 642h6v6h-6zM612 642h18v6h-18zM528 648h12v6h-12zM618 648h18v6h-18zM528 654h18v6h-18zM624 654h18v6h-18zM534 660h18v6h-18zM630 660h18v6h-18zM540 666h18v6h-18zM636 666h18v6h-18zM546 672h18v6h-18zM642 672h18v6h-18zM552 678h18v6h-18zM648 678h18v6h-18zM558 684h18v6h-18zM654 684h18v6h-18zM564 690h18v6h-18zM660 690h12v6h-12zM570 696h18v6h-18zM666 696h6v6h-6zM576 702h18v6h-18zM582 708h18v6h-18zM588 714h18v6h-18zM594 720h18v6h-18zM600 726h18v6h-18zM606 732h18v6h-18zM612 738h18v6h-18z"/><path fill="#d04c28" d="M253 169h18v6h-18zM259 175h12v6h-12zM265 181h6v6h-6zM97 325h6v6h-6zM271 325h6v6h-6zM97 331h12v6h-12zM277 331h6v6h-6zM97 337h18v6h-18zM283 337h6v6h-6zM331 337h6v6h-6zM253 343h6v6h-6zM337 343h6v6h-6zM259 349h6v6h-6zM337 349h12v6h-12zM265 355h6v6h-6zM343 355h12v6h-12zM349 361h12v6h-12zM355 367h12v6h-12zM361 373h12v6h-12zM367 379h6v6h-6zM265 403h6v6h-6zM271 409h12v6h-12zM277 415h12v6h-12zM283 421h12v6h-12zM289 427h12v6h-12zM295 433h12v6h-12zM301 439h12v6h-12zM450 445h18v6h-18zM456 451h18v5h-18zM462 456h18v6h-18zM468 462h18v6h-18zM474 468h18v6h-18zM480 474h18v6h-18zM486 480h18v6h-18zM492 486h18v6h-18zM498 492h18v6h-18zM504 498h18v6h-18zM510 504h18v6h-18zM516 510h12v6h-12zM373 522h6v6h-6zM373 528h11v6h-11zM373 534h17v6h-17zM379 540h17v6h-17zM384 546h18v6h-18zM390 552h18v6h-18zM396 558h18v6h-18zM402 564h18v6h-18zM408 570h18v6h-18zM414 576h18v6h-18zM420 582h18v6h-18zM426 588h18v6h-18zM432 594h12v6h-12zM588 600h12v6h-12zM594 606h12v6h-12zM600 612h12v6h-12zM606 618h12v6h-12zM612 624h12v6h-12zM618 630h12v6h-12zM624 636h12v6h-12zM630 642h12v6h-12zM636 648h12v6h-12zM642 654h12v6h-12zM528 660h6v6h-6zM648 660h12v6h-12zM528 666h12v6h-12zM654 666h12v6h-12zM534 672h12v6h-12zM660 672h12v6h-12zM540 678h12v6h-12zM666 678h6v6h-6zM546 684h12v6h-12zM552 690h12v6h-12zM558 696h12v6h-12zM564 702h12v6h-12zM570 708h12v6h-12zM576 714h12v6h-12zM582 720h12v6h-12zM588 726h12v6h-12zM594 732h12v6h-12zM600 738h12v6h-12z"/><path fill="#e06834" d="M271 169h60v6h-60zM271 175h66v6h-66zM277 181h66v6h-66zM283 187h66v6h-66zM289 193h66v6h-66zM295 199h66v6h-66zM301 205h66v6h-66zM307 211h66v6h-66zM313 217h60v6h-60zM319 223h54v6h-54zM325 229h48v6h-48zM331 235h42v6h-42zM337 241h36v6h-36zM343 247h30v6h-30zM349 253h24v6h-24zM355 259h18v6h-18zM361 265h12v6h-12zM367 271h6v6h-6zM97 343h12v6h-12zM97 349h18v6h-18zM97 355h24v6h-24zM97 361h30v6h-30zM97 367h36v6h-36zM97 373h42v6h-42zM97 379h48v6h-48zM97 385h54v6h-54zM97 391h60v6h-60zM97 397h66v6h-66zM103 403h66v6h-66zM109 409h66v6h-66zM115 415h66v6h-66zM121 421h66v6h-66zM127 427h66v6h-66zM133 433h66v6h-66zM139 439h66v6h-66z"/><path fill="#e06c34" d="M331 169h42v6h-42zM337 175h36v6h-36zM343 181h30v6h-30zM349 187h24v6h-24zM355 193h18v6h-18zM361 199h12v6h-12zM367 205h6v6h-6zM97 403h6v6h-6zM97 409h12v6h-12zM97 415h18v6h-18zM97 421h24v6h-24zM97 427h30v6h-30zM97 433h36v6h-36zM97 439h42v6h-42z"/><path fill="#f0a04c" d="M373 169h11v6h-11zM373 175h17v6h-17zM373 181h23v6h-23zM373 187h29v6h-29zM373 193h35v6h-35zM373 199h41v6h-41zM373 205h47v6h-47zM373 301h6v6h-6zM373 307h11v6h-11zM373 313h17v6h-17zM373 319h23v6h-23zM379 325h23v6h-23zM384 331h24v6h-24zM390 337h24v6h-24zM426 427h6v6h-6zM426 433h12v6h-12zM426 439h18v6h-18zM97 445h42v6h-42zM229 445h24v6h-24zM97 451h42v5h-42zM235 451h24v5h-24zM103 456h36v6h-36zM241 456h24v6h-24zM109 462h30v6h-30zM247 462h24v6h-24zM115 468h24v6h-24zM253 468h18v6h-18zM121 474h18v6h-18zM259 474h12v6h-12zM127 480h12v6h-12zM265 480h6v6h-6zM133 486h6v6h-6zM355 498h18v6h-18zM361 504h12v6h-12zM367 510h6v6h-6zM528 570h6v6h-6zM534 576h6v6h-6zM540 582h6v6h-6zM546 588h6v6h-6zM552 594h6v6h-6zM498 600h6v6h-6zM504 606h6v6h-6zM510 612h6v6h-6zM516 618h6v6h-6zM522 624h6v6h-6z"/><path fill="#f0a050" d="M384 169h18v6h-18zM390 175h18v6h-18zM396 181h18v6h-18zM402 187h18v6h-18zM408 193h18v6h-18zM414 199h18v6h-18zM420 205h18v6h-18zM373 289h6v6h-6zM373 295h11v6h-11zM379 301h11v6h-11zM384 307h12v6h-12zM390 313h12v6h-12zM396 319h12v6h-12zM402 325h12v6h-12zM408 331h12v6h-12zM414 337h12v6h-12zM426 421h6v6h-6zM432 427h6v6h-6zM438 433h6v6h-6zM444 439h6v6h-6zM217 445h12v6h-12zM223 451h12v5h-12zM97 456h6v6h-6zM229 456h12v6h-12zM97 462h12v6h-12zM235 462h12v6h-12zM97 468h18v6h-18zM241 468h12v6h-12zM103 474h18v6h-18zM247 474h12v6h-12zM109 480h18v6h-18zM253 480h12v6h-12zM115 486h18v6h-18zM259 486h12v6h-12zM121 492h18v6h-18zM265 492h6v6h-6zM127 498h12v6h-12zM349 498h6v6h-6zM133 504h6v6h-6zM355 504h6v6h-6zM361 510h6v6h-6zM367 516h6v6h-6z"/><path fill="#f0a450" d="M402 169h96v6h-96zM408 175h90v6h-90zM414 181h84v6h-84zM420 187h78v6h-78zM426 193h72v6h-72zM432 199h66v6h-66zM438 205h60v6h-60zM373 247h6v6h-6zM373 253h11v6h-11zM373 259h17v6h-17zM373 265h23v6h-23zM373 271h29v6h-29zM373 277h35v6h-35zM373 283h41v6h-41zM379 289h41v6h-41zM384 295h42v6h-42zM390 301h42v6h-42zM396 307h42v6h-42zM402 313h42v6h-42zM408 319h42v6h-42zM414 325h42v6h-42zM420 331h42v6h-42zM426 337h42v6h-42zM426 397h6v6h-6zM426 403h12v6h-12zM426 409h18v6h-18zM426 415h24v6h-24zM432 421h24v6h-24zM438 427h24v6h-24zM444 433h24v6h-24zM450 439h24v6h-24zM175 445h42v6h-42zM181 451h42v5h-42zM187 456h42v6h-42zM193 462h42v6h-42zM199 468h42v6h-42zM97 474h6v6h-6zM205 474h42v6h-42zM97 480h12v6h-12zM211 480h42v6h-42zM97 486h18v6h-18zM217 486h42v6h-42zM97 492h24v6h-24zM223 492h42v6h-42zM97 498h30v6h-30zM229 498h42v6h-42zM325 498h24v6h-24zM97 504h36v6h-36zM235 504h36v6h-36zM331 504h24v6h-24zM97 510h42v6h-42zM241 510h30v6h-30zM337 510h24v6h-24zM97 516h42v6h-42zM247 516h24v6h-24zM343 516h24v6h-24zM97 522h42v6h-42zM253 522h18v6h-18zM349 522h24v6h-24zM97 528h42v6h-42zM259 528h12v6h-12zM355 528h18v6h-18zM97 534h42v6h-42zM265 534h6v6h-6zM361 534h12v6h-12zM97 540h42v6h-42zM367 540h6v6h-6zM97 546h42v6h-42zM97 552h42v6h-42zM97 558h42v6h-42zM528 558h6v6h-6zM97 564h42v6h-42zM528 564h12v6h-12zM534 570h12v6h-12zM540 576h12v6h-12zM546 582h12v6h-12zM552 588h12v6h-12zM558 594h12v6h-12zM486 600h12v6h-12zM492 606h12v6h-12zM498 612h12v6h-12zM504 618h12v6h-12zM510 624h12v6h-12zM516 630h12v6h-12zM522 636h6v6h-6z"/><path fill="#f0b05c" d="M498 169h36v6h-36zM498 175h36v6h-36zM498 181h36v6h-36zM504 187h30v6h-30zM510 193h24v6h-24zM516 199h18v6h-18zM522 205h12v6h-12zM462 343h36v6h-36zM468 349h36v6h-36zM474 355h36v6h-36zM480 361h36v6h-36zM486 367h36v6h-36zM492 373h36v6h-36zM498 379h36v6h-36zM504 385h36v6h-36zM510 391h36v6h-36zM516 397h36v6h-36zM522 403h36v6h-36zM528 409h36v6h-36zM534 415h36v6h-36zM540 421h36v6h-36zM546 427h36v6h-36zM552 433h36v6h-36zM558 439h36v6h-36zM528 486h6v6h-6zM528 492h12v6h-12zM528 498h18v6h-18zM534 504h18v6h-18zM540 510h18v6h-18zM546 516h18v6h-18zM552 522h18v6h-18zM558 528h18v6h-18zM271 534h6v6h-6zM564 534h18v6h-18zM271 540h12v6h-12zM570 540h18v6h-18zM271 546h18v6h-18zM576 546h18v6h-18zM271 552h24v6h-24zM582 552h18v6h-18zM271 558h30v6h-30zM588 558h18v6h-18zM271 564h36v6h-36zM594 564h18v6h-18zM97 570h18v6h-18zM277 570h36v6h-36zM600 570h18v6h-18zM97 576h24v6h-24zM283 576h36v6h-36zM606 576h18v6h-18zM97 582h30v6h-30zM289 582h36v6h-36zM612 582h18v6h-18zM97 588h36v6h-36zM295 588h36v6h-36zM618 588h18v6h-18zM97 594h42v6h-42zM301 594h36v6h-36zM624 594h18v6h-18zM97 600h42v6h-42zM307 600h36v6h-36zM414 600h18v6h-18zM313 606h36v6h-36zM420 606h18v6h-18zM319 612h36v6h-36zM426 612h18v6h-18zM325 618h36v6h-36zM432 618h18v6h-18zM331 624h36v6h-36zM438 624h18v6h-18zM337 630h36v6h-36zM444 630h18v6h-18zM343 636h30v6h-30zM450 636h18v6h-18zM349 642h24v6h-24zM456 642h18v6h-18zM355 648h18v6h-18zM462 648h18v6h-18zM361 654h12v6h-12zM468 654h18v6h-18zM367 660h6v6h-6zM474 660h18v6h-18zM480 666h18v6h-18zM486 672h18v6h-18zM492 678h18v6h-18zM498 684h18v6h-18zM504 690h18v6h-18zM510 696h18v6h-18zM516 702h12v6h-12zM522 708h6v6h-6z"/><path fill="#f4bc64" d="M534 169h18v6h-18zM534 175h24v6h-24zM534 181h30v6h-30zM534 187h36v6h-36zM534 193h42v6h-42zM534 199h48v6h-48zM534 205h54v6h-54zM528 211h66v6h-66zM534 217h66v6h-66zM540 223h66v6h-66zM546 229h66v6h-66zM552 235h66v6h-66zM558 241h66v6h-66zM564 247h66v6h-66zM570 253h66v6h-66zM576 259h66v6h-66zM582 265h66v6h-66zM588 271h66v6h-66zM594 277h66v6h-66zM600 283h66v6h-66zM606 289h66v6h-66zM612 295h60v6h-60zM618 301h54v6h-54zM624 307h48v6h-48zM630 313h42v6h-42zM636 319h36v6h-36zM642 325h30v6h-30zM648 331h24v6h-24zM654 337h18v6h-18zM660 343h12v6h-12zM666 349h6v6h-6zM564 445h18v6h-18zM570 451h18v5h-18zM576 456h18v6h-18zM582 462h18v6h-18zM588 468h18v6h-18zM594 474h18v6h-18zM600 480h18v6h-18zM606 486h18v6h-18zM612 492h18v6h-18zM618 498h18v6h-18zM624 504h18v6h-18zM630 510h18v6h-18zM636 516h18v6h-18zM642 522h18v6h-18zM648 528h18v6h-18zM654 534h18v6h-18zM660 540h12v6h-12zM666 546h6v6h-6zM139 600h6v6h-6zM97 606h54v6h-54zM97 612h60v6h-60zM97 618h66v6h-66zM103 624h66v6h-66zM109 630h66v6h-66zM115 636h66v6h-66zM373 636h6v6h-6zM121 642h66v6h-66zM373 642h11v6h-11zM127 648h66v6h-66zM373 648h17v6h-17zM133 654h66v6h-66zM379 654h17v6h-17zM139 660h66v6h-66zM384 660h18v6h-18zM145 666h66v6h-66zM390 666h18v6h-18zM151 672h66v6h-66zM396 672h18v6h-18zM157 678h66v6h-66zM402 678h18v6h-18zM163 684h66v6h-66zM408 684h18v6h-18zM169 690h66v6h-66zM414 690h18v6h-18zM175 696h66v6h-66zM420 696h18v6h-18zM181 702h66v6h-66zM426 702h18v6h-18zM187 708h66v6h-66zM432 708h18v6h-18zM193 714h66v6h-66zM438 714h18v6h-18zM199 720h66v6h-66zM444 720h18v6h-18zM205 726h66v6h-66zM450 726h18v6h-18zM211 732h66v6h-66zM456 732h18v6h-18zM217 738h66v6h-66zM462 738h18v6h-18z"/><path fill="#f4bc68" d="M552 169h120v6h-120zM558 175h114v6h-114zM564 181h108v6h-108zM570 187h102v6h-102zM576 193h96v6h-96zM582 199h90v6h-90zM588 205h84v6h-84zM594 211h78v6h-78zM600 217h72v6h-72zM606 223h66v6h-66zM612 229h60v6h-60zM618 235h54v6h-54zM624 241h48v6h-48zM630 247h42v6h-42zM636 253h36v6h-36zM642 259h30v6h-30zM648 265h24v6h-24zM654 271h18v6h-18zM660 277h12v6h-12zM666 283h6v6h-6zM582 445h48v6h-48zM588 451h48v5h-48zM594 456h48v6h-48zM600 462h48v6h-48zM606 468h48v6h-48zM612 474h48v6h-48zM618 480h48v6h-48zM624 486h48v6h-48zM630 492h42v6h-42zM636 498h36v6h-36zM642 504h30v6h-30zM648 510h24v6h-24zM654 516h18v6h-18zM660 522h12v6h-12zM666 528h6v6h-6zM97 624h6v6h-6zM97 630h12v6h-12zM97 636h18v6h-18zM97 642h24v6h-24zM97 648h30v6h-30zM97 654h36v6h-36zM373 654h6v6h-6zM97 660h42v6h-42zM373 660h11v6h-11zM97 666h48v6h-48zM373 666h17v6h-17zM97 672h54v6h-54zM373 672h23v6h-23zM97 678h60v6h-60zM373 678h29v6h-29zM97 684h66v6h-66zM373 684h35v6h-35zM97 690h72v6h-72zM373 690h41v6h-41zM97 696h78v6h-78zM373 696h47v6h-47zM97 702h84v6h-84zM379 702h47v6h-47zM97 708h90v6h-90zM384 708h48v6h-48zM97 714h96v6h-96zM390 714h48v6h-48zM97 720h102v6h-102zM396 720h48v6h-48zM97 726h108v6h-108zM402 726h48v6h-48zM97 732h114v6h-114zM408 732h48v6h-48zM97 738h120v6h-120zM414 738h48v6h-48z"/><path fill="#ac281c" d="M133 175h6v6h-6zM139 181h6v6h-6zM145 187h6v6h-6zM151 193h6v6h-6zM157 199h6v6h-6zM103 205h6v6h-6zM109 211h6v6h-6zM169 211h6v6h-6zM115 217h6v6h-6zM175 217h6v6h-6zM121 223h6v6h-6zM181 223h6v6h-6zM127 229h6v6h-6zM187 229h6v6h-6zM193 235h6v6h-6zM139 241h6v6h-6zM199 241h6v6h-6zM145 247h6v6h-6zM205 247h6v6h-6zM151 253h6v6h-6zM157 259h6v6h-6zM163 265h6v6h-6zM169 271h6v6h-6zM175 277h6v6h-6z"/><path fill="#d04428" d="M211 175h6v6h-6zM211 181h12v6h-12zM217 187h12v6h-12zM223 193h12v6h-12zM229 199h12v6h-12zM235 205h12v6h-12zM241 211h12v6h-12zM247 217h12v6h-12zM253 223h12v6h-12zM259 229h12v6h-12zM265 235h6v6h-6zM103 283h12v6h-12zM109 289h12v6h-12zM115 295h12v6h-12zM121 301h12v6h-12zM127 307h12v6h-12zM133 313h12v6h-12zM139 319h12v6h-12zM145 325h12v6h-12zM151 331h12v6h-12zM157 337h12v6h-12zM337 373h6v6h-6zM343 379h6v6h-6zM349 385h6v6h-6zM355 391h6v6h-6zM361 397h6v6h-6zM301 409h6v6h-6zM307 415h6v6h-6zM313 421h6v6h-6zM319 427h6v6h-6zM325 433h6v6h-6zM444 468h6v6h-6zM450 474h6v6h-6zM456 480h6v6h-6zM462 486h6v6h-6zM468 492h6v6h-6zM474 498h6v6h-6zM480 504h6v6h-6zM486 510h6v6h-6zM396 516h6v6h-6zM402 522h6v6h-6zM408 528h6v6h-6zM414 534h6v6h-6zM420 540h6v6h-6zM426 546h6v6h-6zM432 552h6v6h-6zM438 558h6v6h-6zM564 600h6v6h-6zM570 606h6v6h-6zM576 612h6v6h-6zM582 618h6v6h-6zM588 624h6v6h-6zM594 630h6v6h-6zM528 636h6v6h-6zM600 636h6v6h-6zM534 642h6v6h-6zM606 642h6v6h-6zM540 648h6v6h-6zM612 648h6v6h-6zM546 654h6v6h-6zM618 654h6v6h-6zM552 660h6v6h-6zM624 660h6v6h-6zM558 666h6v6h-6zM630 666h6v6h-6zM564 672h6v6h-6zM636 672h6v6h-6zM570 678h6v6h-6zM642 678h6v6h-6zM576 684h6v6h-6zM648 684h6v6h-6zM582 690h6v6h-6zM654 690h6v6h-6zM588 696h6v6h-6zM660 696h6v6h-6zM594 702h6v6h-6zM666 702h6v6h-6zM600 708h6v6h-6zM606 714h6v6h-6zM612 720h6v6h-6zM618 726h6v6h-6zM624 732h6v6h-6zM630 738h6v6h-6z"/><path fill="#a8241c" d="M133 181h6v6h-6zM139 187h6v6h-6zM145 193h6v6h-6zM151 199h6v6h-6zM109 205h6v6h-6zM115 211h6v6h-6zM121 217h6v6h-6zM169 217h6v6h-6zM127 223h6v6h-6zM175 223h6v6h-6zM181 229h6v6h-6zM187 235h6v6h-6zM145 241h6v6h-6zM193 241h6v6h-6zM151 247h6v6h-6zM199 247h6v6h-6zM157 253h6v6h-6zM205 253h6v6h-6zM163 259h6v6h-6zM169 265h6v6h-6zM175 271h6v6h-6zM211 271h6v6h-6zM181 277h6v6h-6zM217 277h6v6h-6zM199 283h6v6h-6zM205 289h6v6h-6zM456 516h6v6h-6zM462 522h6v6h-6zM444 528h6v6h-6zM468 528h6v6h-6zM450 534h6v6h-6zM474 534h6v6h-6zM456 540h6v6h-6zM480 540h6v6h-6zM462 546h6v6h-6zM486 546h6v6h-6zM468 552h6v6h-6zM492 552h6v6h-6zM474 558h6v6h-6zM498 558h6v6h-6zM480 564h6v6h-6zM504 564h6v6h-6zM486 570h6v6h-6zM510 570h6v6h-6zM492 576h6v6h-6zM516 576h6v6h-6zM498 582h6v6h-6zM522 582h6v6h-6zM504 588h6v6h-6zM510 594h6v6h-6z"/><path fill="#e06434" d="M271 181h6v6h-6zM271 187h12v6h-12zM271 193h18v6h-18zM271 199h24v6h-24zM277 205h24v6h-24zM283 211h24v6h-24zM289 217h24v6h-24zM295 223h24v6h-24zM301 229h24v6h-24zM307 235h24v6h-24zM313 241h24v6h-24zM319 247h24v6h-24zM325 253h24v6h-24zM331 259h24v6h-24zM337 265h24v6h-24zM343 271h24v6h-24zM349 277h24v6h-24zM109 343h24v6h-24zM115 349h24v6h-24zM121 355h24v6h-24zM127 361h24v6h-24zM133 367h24v6h-24zM139 373h24v6h-24zM145 379h24v6h-24zM151 385h24v6h-24zM157 391h24v6h-24zM163 397h24v6h-24zM169 403h24v6h-24zM175 409h24v6h-24zM181 415h24v6h-24zM187 421h24v6h-24zM193 427h18v6h-18zM199 433h12v6h-12zM205 439h6v6h-6z"/><path fill="#a01c18" d="M133 187h6v6h-6zM139 193h6v6h-6zM145 199h6v6h-6zM115 205h6v6h-6zM121 211h6v6h-6zM127 217h6v6h-6zM169 223h6v6h-6zM175 229h6v6h-6zM181 235h6v6h-6zM151 241h6v6h-6zM187 241h6v6h-6zM157 247h6v6h-6zM193 247h6v6h-6zM163 253h6v6h-6zM199 253h6v6h-6zM169 259h6v6h-6zM175 265h6v6h-6zM181 271h6v6h-6z"/><path fill="#cc4428" d="M211 187h6v6h-6zM211 193h12v6h-12zM211 199h18v6h-18zM211 205h24v6h-24zM217 211h24v6h-24zM223 217h24v6h-24zM229 223h24v6h-24zM235 229h24v6h-24zM241 235h24v6h-24zM247 241h24v6h-24zM253 247h18v6h-18zM259 253h12v6h-12zM265 259h6v6h-6zM115 283h24v6h-24zM121 289h24v6h-24zM127 295h24v6h-24zM133 301h24v6h-24zM139 307h24v6h-24zM145 313h24v6h-24zM151 319h24v6h-24zM157 325h24v6h-24zM163 331h24v6h-24zM169 337h24v6h-24zM337 379h6v6h-6zM343 385h6v6h-6zM349 391h6v6h-6zM355 397h6v6h-6zM307 409h6v6h-6zM313 415h6v6h-6zM319 421h6v6h-6zM325 427h6v6h-6zM444 474h6v6h-6zM444 480h12v6h-12zM450 486h12v6h-12zM456 492h12v6h-12zM462 498h12v6h-12zM468 504h12v6h-12zM474 510h12v6h-12zM402 516h12v6h-12zM522 516h6v6h-6zM408 522h12v6h-12zM414 528h12v6h-12zM420 534h12v6h-12zM426 540h12v6h-12zM432 546h12v6h-12zM438 552h6v6h-6zM444 594h6v6h-6zM558 600h6v6h-6zM564 606h6v6h-6zM570 612h6v6h-6zM576 618h6v6h-6zM582 624h6v6h-6zM528 630h6v6h-6zM588 630h6v6h-6zM534 636h6v6h-6zM594 636h6v6h-6zM540 642h6v6h-6zM600 642h6v6h-6zM546 648h6v6h-6zM606 648h6v6h-6zM552 654h6v6h-6zM612 654h6v6h-6zM558 660h6v6h-6zM618 660h6v6h-6zM564 666h6v6h-6zM624 666h6v6h-6zM570 672h6v6h-6zM630 672h6v6h-6zM576 678h6v6h-6zM636 678h6v6h-6zM582 684h6v6h-6zM642 684h6v6h-6zM588 690h6v6h-6zM648 690h6v6h-6zM594 696h6v6h-6zM654 696h6v6h-6zM600 702h6v6h-6zM660 702h6v6h-6zM606 708h6v6h-6zM666 708h6v6h-6zM612 714h6v6h-6zM618 720h6v6h-6zM624 726h6v6h-6zM630 732h6v6h-6zM636 738h6v6h-6z"/><path fill="#f0b058" d="M498 187h6v6h-6zM498 193h12v6h-12zM498 199h18v6h-18zM498 205h24v6h-24zM486 211h12v6h-12zM492 217h6v6h-6zM450 343h12v6h-12zM456 349h12v6h-12zM462 355h12v6h-12zM468 361h12v6h-12zM474 367h12v6h-12zM480 373h12v6h-12zM486 379h12v6h-12zM492 385h12v6h-12zM498 391h12v6h-12zM504 397h12v6h-12zM510 403h12v6h-12zM516 409h12v6h-12zM522 415h12v6h-12zM528 421h12v6h-12zM534 427h12v6h-12zM540 433h12v6h-12zM546 439h12v6h-12zM528 504h6v6h-6zM528 510h12v6h-12zM534 516h12v6h-12zM271 522h6v6h-6zM540 522h12v6h-12zM271 528h12v6h-12zM546 528h12v6h-12zM277 534h12v6h-12zM552 534h12v6h-12zM283 540h12v6h-12zM558 540h12v6h-12zM289 546h12v6h-12zM564 546h12v6h-12zM295 552h12v6h-12zM570 552h12v6h-12zM139 558h6v6h-6zM301 558h12v6h-12zM576 558h12v6h-12zM139 564h12v6h-12zM307 564h12v6h-12zM582 564h12v6h-12zM115 570h24v6h-24zM313 570h12v6h-12zM588 570h12v6h-12zM121 576h18v6h-18zM319 576h12v6h-12zM594 576h12v6h-12zM127 582h12v6h-12zM325 582h12v6h-12zM600 582h12v6h-12zM133 588h6v6h-6zM331 588h12v6h-12zM606 588h12v6h-12zM337 594h12v6h-12zM612 594h12v6h-12zM343 600h12v6h-12zM432 600h12v6h-12zM349 606h12v6h-12zM438 606h12v6h-12zM355 612h12v6h-12zM444 612h12v6h-12zM361 618h12v6h-12zM450 618h12v6h-12zM367 624h6v6h-6zM456 624h12v6h-12zM462 630h12v6h-12zM468 636h12v6h-12zM474 642h12v6h-12zM480 648h12v6h-12zM486 654h12v6h-12zM492 660h12v6h-12zM498 666h12v6h-12zM504 672h12v6h-12zM510 678h12v6h-12zM516 684h12v6h-12zM522 690h6v6h-6z"/><path fill="#8c1814" d="M133 193h6v6h-6zM139 199h6v6h-6zM121 205h6v6h-6zM127 211h6v6h-6zM169 229h6v6h-6zM175 235h6v6h-6zM157 241h6v6h-6zM163 247h6v6h-6zM187 247h6v6h-6zM193 253h6v6h-6zM175 259h6v6h-6zM181 265h6v6h-6zM247 283h6v6h-6zM253 289h6v6h-6zM259 295h6v6h-6zM265 301h6v6h-6zM211 319h6v6h-6zM217 325h6v6h-6zM223 331h6v6h-6zM229 337h6v6h-6zM349 403h6v6h-6zM355 409h6v6h-6zM361 415h6v6h-6zM331 421h6v6h-6zM367 421h6v6h-6zM337 427h6v6h-6zM343 433h6v6h-6zM349 439h6v6h-6z"/><path fill="#dc6434" d="M271 205h6v6h-6zM271 211h12v6h-12zM271 217h18v6h-18zM277 223h18v6h-18zM283 229h18v6h-18zM289 235h18v6h-18zM295 241h18v6h-18zM301 247h18v6h-18zM307 253h18v6h-18zM313 259h18v6h-18zM319 265h18v6h-18zM325 271h18v6h-18zM331 277h18v6h-18zM133 343h18v6h-18zM139 349h18v6h-18zM145 355h18v6h-18zM151 361h18v6h-18zM157 367h18v6h-18zM163 373h18v6h-18zM169 379h18v6h-18zM175 385h18v6h-18zM181 391h18v6h-18zM187 397h18v6h-18zM193 403h18v6h-18zM199 409h12v6h-12zM205 415h6v6h-6z"/><path fill="#cc4024" d="M211 211h6v6h-6zM211 217h12v6h-12zM211 223h18v6h-18zM211 229h24v6h-24zM217 235h24v6h-24zM223 241h24v6h-24zM229 247h24v6h-24zM235 253h24v6h-24zM241 259h24v6h-24zM247 265h24v6h-24zM253 271h18v6h-18zM259 277h12v6h-12zM139 283h24v6h-24zM145 289h24v6h-24zM151 295h24v6h-24zM157 301h24v6h-24zM163 307h24v6h-24zM169 313h24v6h-24zM175 319h24v6h-24zM181 325h24v6h-24zM187 331h24v6h-24zM271 331h6v6h-6zM193 337h18v6h-18zM277 337h6v6h-6zM259 343h6v6h-6zM265 349h6v6h-6zM337 385h6v6h-6zM343 391h6v6h-6zM349 397h6v6h-6zM313 409h6v6h-6zM319 415h6v6h-6zM325 421h6v6h-6zM444 486h6v6h-6zM450 492h6v6h-6zM456 498h6v6h-6zM462 504h6v6h-6zM468 510h6v6h-6zM414 516h6v6h-6zM498 516h24v6h-24zM420 522h6v6h-6zM504 522h24v6h-24zM426 528h6v6h-6zM510 528h18v6h-18zM432 534h6v6h-6zM516 534h12v6h-12zM438 540h6v6h-6zM522 540h6v6h-6zM444 570h6v6h-6zM444 576h12v6h-12zM444 582h18v6h-18zM444 588h24v6h-24zM450 594h24v6h-24zM552 600h6v6h-6zM558 606h6v6h-6zM564 612h6v6h-6zM570 618h6v6h-6zM528 624h6v6h-6zM576 624h6v6h-6zM534 630h6v6h-6zM582 630h6v6h-6zM540 636h6v6h-6zM588 636h6v6h-6zM546 642h6v6h-6zM594 642h6v6h-6zM552 648h6v6h-6zM600 648h6v6h-6zM558 654h6v6h-6zM606 654h6v6h-6zM564 660h6v6h-6zM612 660h6v6h-6zM570 666h6v6h-6zM618 666h6v6h-6zM576 672h6v6h-6zM624 672h6v6h-6zM582 678h6v6h-6zM630 678h6v6h-6zM588 684h6v6h-6zM636 684h6v6h-6zM594 690h6v6h-6zM642 690h6v6h-6zM600 696h6v6h-6zM648 696h6v6h-6zM606 702h6v6h-6zM654 702h6v6h-6zM612 708h6v6h-6zM660 708h6v6h-6zM618 714h6v6h-6zM666 714h6v6h-6zM624 720h6v6h-6zM630 726h6v6h-6zM636 732h6v6h-6zM642 738h6v6h-6z"/><path fill="#f0a854" d="M373 211h29v6h-29zM373 217h35v6h-35zM373 223h41v6h-41zM379 229h41v6h-41zM384 235h42v6h-42zM390 241h42v6h-42zM396 247h42v6h-42zM402 253h42v6h-42zM408 259h42v6h-42zM414 265h42v6h-42zM420 271h42v6h-42zM426 277h42v6h-42zM432 283h42v6h-42zM438 289h42v6h-42zM444 295h42v6h-42zM450 301h42v6h-42zM456 307h42v6h-42zM462 313h36v6h-36zM468 319h30v6h-30zM474 325h24v6h-24zM480 331h18v6h-18zM486 337h12v6h-12zM426 367h6v6h-6zM426 373h12v6h-12zM426 379h18v6h-18zM432 385h18v6h-18zM438 391h18v6h-18zM444 397h18v6h-18zM450 403h18v6h-18zM456 409h18v6h-18zM462 415h18v6h-18zM468 421h18v6h-18zM474 427h18v6h-18zM480 433h18v6h-18zM486 439h18v6h-18zM139 445h18v6h-18zM139 451h24v5h-24zM139 456h30v6h-30zM139 462h36v6h-36zM139 468h42v6h-42zM145 474h42v6h-42zM151 480h42v6h-42zM157 486h42v6h-42zM163 492h42v6h-42zM169 498h42v6h-42zM295 498h18v6h-18zM175 504h42v6h-42zM301 504h18v6h-18zM181 510h42v6h-42zM307 510h18v6h-18zM187 516h42v6h-42zM313 516h18v6h-18zM193 522h42v6h-42zM319 522h18v6h-18zM199 528h42v6h-42zM325 528h18v6h-18zM205 534h42v6h-42zM331 534h18v6h-18zM211 540h42v6h-42zM337 540h18v6h-18zM528 540h6v6h-6zM217 546h42v6h-42zM343 546h18v6h-18zM528 546h12v6h-12zM223 552h42v6h-42zM349 552h18v6h-18zM534 552h12v6h-12zM229 558h42v6h-42zM355 558h18v6h-18zM540 558h12v6h-12zM235 564h36v6h-36zM361 564h12v6h-12zM546 564h12v6h-12zM367 570h6v6h-6zM552 570h12v6h-12zM558 576h12v6h-12zM564 582h12v6h-12zM570 588h12v6h-12zM576 594h12v6h-12zM468 600h12v6h-12zM474 606h12v6h-12zM480 612h12v6h-12zM486 618h12v6h-12zM492 624h12v6h-12zM498 630h12v6h-12zM504 636h12v6h-12zM510 642h12v6h-12zM516 648h12v6h-12zM522 654h6v6h-6z"/><path fill="#f0ac54" d="M402 211h24v6h-24zM408 217h24v6h-24zM414 223h24v6h-24zM420 229h24v6h-24zM426 235h24v6h-24zM432 241h24v6h-24zM438 247h24v6h-24zM444 253h24v6h-24zM450 259h24v6h-24zM456 265h24v6h-24zM462 271h24v6h-24zM468 277h24v6h-24zM474 283h24v6h-24zM480 289h18v6h-18zM486 295h12v6h-12zM492 301h6v6h-6zM426 355h6v6h-6zM426 361h12v6h-12zM432 367h12v6h-12zM438 373h12v6h-12zM444 379h12v6h-12zM450 385h12v6h-12zM456 391h12v6h-12zM462 397h12v6h-12zM468 403h12v6h-12zM474 409h12v6h-12zM480 415h12v6h-12zM486 421h12v6h-12zM492 427h12v6h-12zM498 433h12v6h-12zM504 439h12v6h-12zM139 474h6v6h-6zM139 480h12v6h-12zM139 486h18v6h-18zM139 492h24v6h-24zM145 498h24v6h-24zM283 498h12v6h-12zM151 504h24v6h-24zM289 504h12v6h-12zM157 510h24v6h-24zM295 510h12v6h-12zM163 516h24v6h-24zM301 516h12v6h-12zM169 522h24v6h-24zM307 522h12v6h-12zM175 528h24v6h-24zM313 528h12v6h-12zM528 528h6v6h-6zM181 534h24v6h-24zM319 534h12v6h-12zM528 534h12v6h-12zM187 540h24v6h-24zM325 540h12v6h-12zM534 540h12v6h-12zM193 546h24v6h-24zM331 546h12v6h-12zM540 546h12v6h-12zM199 552h24v6h-24zM337 552h12v6h-12zM546 552h12v6h-12zM205 558h24v6h-24zM343 558h12v6h-12zM552 558h12v6h-12zM211 564h24v6h-24zM349 564h12v6h-12zM558 564h12v6h-12zM355 570h12v6h-12zM564 570h12v6h-12zM361 576h12v6h-12zM570 576h12v6h-12zM367 582h6v6h-6zM576 582h12v6h-12zM582 588h12v6h-12zM588 594h12v6h-12zM456 600h12v6h-12zM462 606h12v6h-12zM468 612h12v6h-12zM474 618h12v6h-12zM480 624h12v6h-12zM486 630h12v6h-12zM492 636h12v6h-12zM498 642h12v6h-12zM504 648h12v6h-12zM510 654h12v6h-12zM516 660h12v6h-12zM522 666h6v6h-6z"/><path fill="#f0ac58" d="M426 211h60v6h-60zM432 217h60v6h-60zM438 223h60v6h-60zM444 229h54v6h-54zM450 235h48v6h-48zM456 241h42v6h-42zM462 247h36v6h-36zM468 253h30v6h-30zM474 259h24v6h-24zM480 265h18v6h-18zM486 271h12v6h-12zM492 277h6v6h-6zM426 343h24v6h-24zM426 349h30v6h-30zM432 355h30v6h-30zM438 361h30v6h-30zM444 367h30v6h-30zM450 373h30v6h-30zM456 379h30v6h-30zM462 385h30v6h-30zM468 391h30v6h-30zM474 397h30v6h-30zM480 403h30v6h-30zM486 409h30v6h-30zM492 415h30v6h-30zM498 421h30v6h-30zM504 427h30v6h-30zM510 433h30v6h-30zM516 439h30v6h-30zM139 498h6v6h-6zM271 498h12v6h-12zM139 504h12v6h-12zM271 504h18v6h-18zM139 510h18v6h-18zM271 510h24v6h-24zM139 516h24v6h-24zM271 516h30v6h-30zM528 516h6v6h-6zM139 522h30v6h-30zM277 522h30v6h-30zM528 522h12v6h-12zM139 528h36v6h-36zM283 528h30v6h-30zM534 528h12v6h-12zM139 534h42v6h-42zM289 534h30v6h-30zM540 534h12v6h-12zM139 540h48v6h-48zM295 540h30v6h-30zM546 540h12v6h-12zM139 546h54v6h-54zM301 546h30v6h-30zM552 546h12v6h-12zM139 552h60v6h-60zM307 552h30v6h-30zM558 552h12v6h-12zM145 558h60v6h-60zM313 558h30v6h-30zM564 558h12v6h-12zM151 564h60v6h-60zM319 564h30v6h-30zM570 564h12v6h-12zM325 570h30v6h-30zM576 570h12v6h-12zM331 576h30v6h-30zM582 576h12v6h-12zM337 582h30v6h-30zM588 582h12v6h-12zM343 588h30v6h-30zM594 588h12v6h-12zM349 594h24v6h-24zM600 594h12v6h-12zM355 600h18v6h-18zM444 600h12v6h-12zM361 606h12v6h-12zM450 606h12v6h-12zM367 612h6v6h-6zM456 612h12v6h-12zM462 618h12v6h-12zM468 624h12v6h-12zM474 630h12v6h-12zM480 636h12v6h-12zM486 642h12v6h-12zM492 648h12v6h-12zM498 654h12v6h-12zM504 660h12v6h-12zM510 666h12v6h-12zM516 672h12v6h-12zM522 678h6v6h-6z"/><path fill="#f0b864" d="M498 211h30v6h-30zM498 217h36v6h-36zM498 223h42v6h-42zM498 229h48v6h-48zM498 235h54v6h-54zM498 241h60v6h-60zM504 247h60v6h-60zM510 253h60v6h-60zM516 259h60v6h-60zM522 265h60v6h-60zM528 271h60v6h-60zM534 277h60v6h-60zM540 283h60v6h-60zM546 289h60v6h-60zM552 295h60v6h-60zM558 301h60v6h-60zM564 307h60v6h-60zM570 313h60v6h-60zM576 319h60v6h-60zM582 325h60v6h-60zM588 331h60v6h-60zM594 337h60v6h-60zM600 343h60v6h-60zM606 349h60v6h-60zM612 355h60v6h-60zM618 361h54v6h-54zM624 367h48v6h-48zM630 373h42v6h-42zM636 379h36v6h-36zM642 385h30v6h-30zM648 391h24v6h-24zM654 397h18v6h-18zM660 403h12v6h-12zM666 409h6v6h-6zM546 445h18v6h-18zM552 451h18v5h-18zM558 456h18v6h-18zM564 462h18v6h-18zM570 468h18v6h-18zM576 474h18v6h-18zM582 480h18v6h-18zM588 486h18v6h-18zM594 492h18v6h-18zM600 498h18v6h-18zM606 504h18v6h-18zM612 510h18v6h-18zM618 516h18v6h-18zM624 522h18v6h-18zM630 528h18v6h-18zM636 534h18v6h-18zM642 540h18v6h-18zM648 546h18v6h-18zM654 552h18v6h-18zM660 558h12v6h-12zM666 564h6v6h-6zM139 570h36v6h-36zM139 576h42v6h-42zM139 582h48v6h-48zM139 588h54v6h-54zM139 594h60v6h-60zM145 600h60v6h-60zM151 606h60v6h-60zM157 612h60v6h-60zM163 618h60v6h-60zM373 618h6v6h-6zM169 624h60v6h-60zM373 624h11v6h-11zM175 630h60v6h-60zM373 630h17v6h-17zM181 636h60v6h-60zM379 636h17v6h-17zM187 642h60v6h-60zM384 642h18v6h-18zM193 648h60v6h-60zM390 648h18v6h-18zM199 654h60v6h-60zM396 654h18v6h-18zM205 660h60v6h-60zM402 660h18v6h-18zM211 666h60v6h-60zM408 666h18v6h-18zM217 672h60v6h-60zM414 672h18v6h-18zM223 678h60v6h-60zM420 678h18v6h-18zM229 684h60v6h-60zM426 684h18v6h-18zM235 690h60v6h-60zM432 690h18v6h-18zM241 696h60v6h-60zM438 696h18v6h-18zM247 702h60v6h-60zM444 702h18v6h-18zM253 708h60v6h-60zM450 708h18v6h-18zM259 714h60v6h-60zM456 714h18v6h-18zM265 720h60v6h-60zM462 720h18v6h-18zM271 726h60v6h-60zM468 726h18v6h-18zM277 732h60v6h-60zM474 732h18v6h-18zM283 738h60v6h-60zM480 738h18v6h-18z"/><path fill="#dc6030" d="M271 223h6v6h-6zM271 229h12v6h-12zM271 235h18v6h-18zM271 241h24v6h-24zM271 247h30v6h-30zM271 253h36v6h-36zM277 259h36v6h-36zM283 265h36v6h-36zM289 271h36v6h-36zM295 277h36v6h-36zM301 283h30v6h-30zM307 289h24v6h-24zM313 295h18v6h-18zM319 301h12v6h-12zM325 307h6v6h-6zM151 343h36v6h-36zM157 349h36v6h-36zM163 355h36v6h-36zM169 361h36v6h-36zM175 367h36v6h-36zM181 373h36v6h-36zM187 379h36v6h-36zM193 385h36v6h-36zM199 391h36v6h-36zM205 397h36v6h-36zM373 439h6v6h-6zM367 445h6v6h-6z"/><path fill="#f0a850" d="M373 229h6v6h-6zM373 235h11v6h-11zM373 241h17v6h-17zM379 247h17v6h-17zM384 253h18v6h-18zM390 259h18v6h-18zM396 265h18v6h-18zM402 271h18v6h-18zM408 277h18v6h-18zM414 283h18v6h-18zM420 289h18v6h-18zM426 295h18v6h-18zM432 301h18v6h-18zM438 307h18v6h-18zM444 313h18v6h-18zM450 319h18v6h-18zM456 325h18v6h-18zM462 331h18v6h-18zM468 337h18v6h-18zM426 385h6v6h-6zM426 391h12v6h-12zM432 397h12v6h-12zM438 403h12v6h-12zM444 409h12v6h-12zM450 415h12v6h-12zM456 421h12v6h-12zM462 427h12v6h-12zM468 433h12v6h-12zM474 439h12v6h-12zM157 445h18v6h-18zM163 451h18v5h-18zM169 456h18v6h-18zM175 462h18v6h-18zM181 468h18v6h-18zM187 474h18v6h-18zM193 480h18v6h-18zM199 486h18v6h-18zM205 492h18v6h-18zM211 498h18v6h-18zM313 498h12v6h-12zM217 504h18v6h-18zM319 504h12v6h-12zM223 510h18v6h-18zM325 510h12v6h-12zM229 516h18v6h-18zM331 516h12v6h-12zM235 522h18v6h-18zM337 522h12v6h-12zM241 528h18v6h-18zM343 528h12v6h-12zM247 534h18v6h-18zM349 534h12v6h-12zM253 540h18v6h-18zM355 540h12v6h-12zM259 546h12v6h-12zM361 546h12v6h-12zM265 552h6v6h-6zM367 552h6v6h-6zM528 552h6v6h-6zM534 558h6v6h-6zM540 564h6v6h-6zM546 570h6v6h-6zM552 576h6v6h-6zM558 582h6v6h-6zM564 588h6v6h-6zM570 594h6v6h-6zM480 600h6v6h-6zM486 606h6v6h-6zM492 612h6v6h-6zM498 618h6v6h-6zM504 624h6v6h-6zM510 630h6v6h-6zM516 636h6v6h-6zM522 642h6v6h-6z"/><path fill="#cc3c24" d="M211 235h6v6h-6zM217 241h6v6h-6zM223 247h6v6h-6zM229 253h6v6h-6zM235 259h6v6h-6zM241 265h6v6h-6zM247 271h6v6h-6zM253 277h6v6h-6zM163 283h6v6h-6zM169 289h6v6h-6zM175 295h6v6h-6zM181 301h6v6h-6zM187 307h6v6h-6zM193 313h6v6h-6zM199 319h6v6h-6zM205 325h6v6h-6zM438 445h6v6h-6zM373 510h6v6h-6zM492 516h6v6h-6zM498 522h6v6h-6zM504 528h6v6h-6zM510 534h6v6h-6zM516 540h6v6h-6zM522 546h6v6h-6zM444 564h6v6h-6zM450 570h6v6h-6zM456 576h6v6h-6zM462 582h6v6h-6zM468 588h6v6h-6zM474 594h6v6h-6z"/><path fill="#c83c24" d="M211 241h6v6h-6zM211 247h12v6h-12zM217 253h12v6h-12zM223 259h12v6h-12zM229 265h12v6h-12zM235 271h12v6h-12zM241 277h12v6h-12zM169 283h12v6h-12zM175 289h12v6h-12zM181 295h12v6h-12zM187 301h12v6h-12zM193 307h12v6h-12zM199 313h12v6h-12zM205 319h6v6h-6zM420 445h18v6h-18zM426 451h18v5h-18zM432 456h12v6h-12zM438 462h6v6h-6zM373 492h6v6h-6zM444 492h6v6h-6zM373 498h11v6h-11zM450 498h6v6h-6zM373 504h17v6h-17zM456 504h6v6h-6zM379 510h17v6h-17zM462 510h6v6h-6zM420 516h6v6h-6zM480 516h12v6h-12zM426 522h6v6h-6zM486 522h12v6h-12zM432 528h6v6h-6zM492 528h12v6h-12zM438 534h6v6h-6zM498 534h12v6h-12zM504 540h12v6h-12zM510 546h12v6h-12zM444 552h6v6h-6zM516 552h12v6h-12zM444 558h12v6h-12zM522 558h6v6h-6zM450 564h12v6h-12zM456 570h12v6h-12zM462 576h12v6h-12zM468 582h12v6h-12zM474 588h12v6h-12zM480 594h12v6h-12z"/><path fill="#f0b860" d="M498 247h6v6h-6zM498 253h12v6h-12zM498 259h18v6h-18zM498 265h24v6h-24zM498 271h30v6h-30zM498 277h36v6h-36zM498 283h42v6h-42zM504 289h42v6h-42zM510 295h42v6h-42zM516 301h42v6h-42zM522 307h42v6h-42zM528 313h42v6h-42zM534 319h42v6h-42zM540 325h42v6h-42zM546 331h42v6h-42zM552 337h42v6h-42zM558 343h42v6h-42zM564 349h42v6h-42zM570 355h42v6h-42zM576 361h42v6h-42zM582 367h42v6h-42zM588 373h42v6h-42zM594 379h42v6h-42zM600 385h42v6h-42zM606 391h42v6h-42zM612 397h42v6h-42zM618 403h42v6h-42zM624 409h42v6h-42zM630 415h42v6h-42zM636 421h36v6h-36zM642 427h30v6h-30zM648 433h24v6h-24zM654 439h18v6h-18zM528 445h18v6h-18zM534 451h18v5h-18zM540 456h18v6h-18zM546 462h18v6h-18zM552 468h18v6h-18zM558 474h18v6h-18zM564 480h18v6h-18zM570 486h18v6h-18zM576 492h18v6h-18zM582 498h18v6h-18zM588 504h18v6h-18zM594 510h18v6h-18zM600 516h18v6h-18zM606 522h18v6h-18zM612 528h18v6h-18zM618 534h18v6h-18zM624 540h18v6h-18zM630 546h18v6h-18zM636 552h18v6h-18zM642 558h18v6h-18zM648 564h18v6h-18zM175 570h42v6h-42zM654 570h18v6h-18zM181 576h42v6h-42zM660 576h12v6h-12zM187 582h42v6h-42zM666 582h6v6h-6zM193 588h42v6h-42zM199 594h42v6h-42zM205 600h42v6h-42zM373 600h6v6h-6zM211 606h42v6h-42zM373 606h11v6h-11zM217 612h42v6h-42zM373 612h17v6h-17zM223 618h42v6h-42zM379 618h17v6h-17zM229 624h42v6h-42zM384 624h18v6h-18zM235 630h42v6h-42zM390 630h18v6h-18zM241 636h42v6h-42zM396 636h18v6h-18zM247 642h42v6h-42zM402 642h18v6h-18zM253 648h42v6h-42zM408 648h18v6h-18zM259 654h42v6h-42zM414 654h18v6h-18zM265 660h42v6h-42zM420 660h18v6h-18zM271 666h42v6h-42zM426 666h18v6h-18zM277 672h42v6h-42zM432 672h18v6h-18zM283 678h42v6h-42zM438 678h18v6h-18zM289 684h42v6h-42zM444 684h18v6h-18zM295 690h42v6h-42zM450 690h18v6h-18zM301 696h42v6h-42zM456 696h18v6h-18zM307 702h42v6h-42zM462 702h18v6h-18zM313 708h42v6h-42zM468 708h18v6h-18zM319 714h42v6h-42zM474 714h18v6h-18zM325 720h42v6h-42zM480 720h18v6h-18zM331 726h42v6h-42zM486 726h18v6h-18zM337 732h36v6h-36zM492 732h18v6h-18zM343 738h30v6h-30zM498 738h18v6h-18z"/><path fill="#c43824" d="M211 253h6v6h-6zM217 259h6v6h-6zM223 265h6v6h-6zM229 271h6v6h-6zM235 277h6v6h-6zM181 283h6v6h-6zM187 289h6v6h-6zM193 295h6v6h-6zM199 301h6v6h-6zM205 307h6v6h-6zM408 445h6v6h-6zM414 451h6v5h-6zM420 456h6v6h-6zM426 462h6v6h-6zM432 468h6v6h-6zM438 474h6v6h-6zM373 480h6v6h-6zM379 486h5v6h-5zM384 492h6v6h-6zM390 498h6v6h-6zM396 504h6v6h-6zM402 510h6v6h-6zM474 516h6v6h-6zM480 522h6v6h-6zM486 528h6v6h-6zM492 534h6v6h-6zM498 540h6v6h-6zM444 546h6v6h-6zM504 546h6v6h-6zM450 552h6v6h-6zM510 552h6v6h-6zM456 558h6v6h-6zM516 558h6v6h-6zM462 564h6v6h-6zM522 564h6v6h-6zM468 570h6v6h-6zM474 576h6v6h-6zM480 582h6v6h-6zM486 588h6v6h-6zM492 594h6v6h-6z"/><path fill="#dc5c30" d="M271 259h6v6h-6zM271 265h12v6h-12zM271 271h18v6h-18zM271 277h24v6h-24zM277 283h24v6h-24zM283 289h24v6h-24zM289 295h24v6h-24zM295 301h24v6h-24zM301 307h24v6h-24zM307 313h24v6h-24zM313 319h18v6h-18zM319 325h12v6h-12zM325 331h6v6h-6zM187 343h24v6h-24zM193 349h24v6h-24zM199 355h24v6h-24zM205 361h24v6h-24zM211 367h24v6h-24zM217 373h24v6h-24zM223 379h24v6h-24zM229 385h24v6h-24zM235 391h24v6h-24zM241 397h24v6h-24z"/><path fill="#841414" d="M211 277h6v6h-6zM205 283h6v6h-6zM235 283h6v6h-6zM241 289h6v6h-6zM247 295h6v6h-6zM253 301h6v6h-6zM211 307h6v6h-6zM259 307h6v6h-6zM217 313h6v6h-6zM265 313h6v6h-6zM223 319h6v6h-6zM229 325h6v6h-6zM235 331h6v6h-6zM241 337h6v6h-6zM450 516h6v6h-6zM444 522h6v6h-6zM456 522h6v6h-6zM450 528h6v6h-6zM462 528h6v6h-6zM456 534h6v6h-6zM468 534h6v6h-6zM462 540h6v6h-6zM474 540h6v6h-6zM468 546h6v6h-6zM480 546h6v6h-6zM474 552h6v6h-6zM486 552h6v6h-6zM480 558h6v6h-6zM492 558h6v6h-6zM486 564h6v6h-6zM498 564h6v6h-6zM492 570h6v6h-6zM504 570h6v6h-6zM498 576h6v6h-6zM510 576h6v6h-6zM504 582h6v6h-6zM516 582h6v6h-6zM510 588h6v6h-6zM522 588h6v6h-6zM516 594h6v6h-6z"/><path fill="#781010" d="M229 283h6v6h-6zM235 289h6v6h-6zM241 295h6v6h-6zM211 301h6v6h-6zM247 301h6v6h-6zM217 307h6v6h-6zM253 307h6v6h-6zM223 313h6v6h-6zM259 313h6v6h-6zM229 319h6v6h-6zM265 319h6v6h-6zM235 325h6v6h-6zM241 331h6v6h-6zM247 337h6v6h-6zM343 403h6v6h-6zM349 409h6v6h-6zM331 415h6v6h-6zM355 415h6v6h-6zM337 421h6v6h-6zM361 421h6v6h-6zM343 427h6v6h-6zM367 427h6v6h-6zM349 433h6v6h-6zM355 439h6v6h-6z"/><path fill="#881814" d="M241 283h6v6h-6zM247 289h6v6h-6zM253 295h6v6h-6zM259 301h6v6h-6zM265 307h6v6h-6zM211 313h6v6h-6zM217 319h6v6h-6zM223 325h6v6h-6zM229 331h6v6h-6zM235 337h6v6h-6z"/><path fill="#901818" d="M253 283h6v6h-6zM259 289h6v6h-6zM265 295h6v6h-6zM211 325h6v6h-6zM217 331h6v6h-6zM223 337h6v6h-6z"/><path fill="#941818" d="M259 283h6v6h-6zM265 289h6v6h-6zM211 331h6v6h-6zM217 337h6v6h-6z"/><path fill="#941c18" d="M265 283h6v6h-6zM211 337h6v6h-6zM444 510h6v6h-6zM438 516h6v6h-6z"/><path fill="#d85c30" d="M271 283h6v6h-6zM277 289h6v6h-6zM283 295h6v6h-6zM289 301h6v6h-6zM295 307h6v6h-6zM301 313h6v6h-6zM307 319h6v6h-6zM313 325h6v6h-6zM319 331h6v6h-6zM325 337h6v6h-6zM211 343h6v6h-6zM217 349h6v6h-6zM223 355h6v6h-6zM229 361h6v6h-6zM235 367h6v6h-6zM241 373h6v6h-6zM247 379h6v6h-6zM253 385h6v6h-6zM259 391h6v6h-6zM265 397h6v6h-6z"/><path fill="#d4502c" d="M331 283h6v6h-6zM331 289h12v6h-12zM331 295h18v6h-18zM331 301h24v6h-24zM331 307h30v6h-30zM331 313h36v6h-36zM271 319h6v6h-6zM337 319h36v6h-36zM277 325h6v6h-6zM343 325h30v6h-30zM283 331h6v6h-6zM349 331h24v6h-24zM289 337h6v6h-6zM355 337h18v6h-18zM247 343h6v6h-6zM361 343h12v6h-12zM253 349h6v6h-6zM367 349h6v6h-6zM259 355h6v6h-6zM265 361h6v6h-6zM211 403h36v6h-36zM217 409h36v6h-36zM223 415h36v6h-36zM229 421h36v6h-36zM235 427h36v6h-36zM241 433h36v6h-36zM247 439h36v6h-36zM486 445h42v6h-42zM492 451h36v5h-36zM498 456h30v6h-30zM504 462h24v6h-24zM510 468h18v6h-18zM516 474h12v6h-12zM522 480h6v6h-6zM373 558h6v6h-6zM373 564h11v6h-11zM373 570h17v6h-17zM373 576h23v6h-23zM373 582h29v6h-29zM373 588h35v6h-35zM373 594h41v6h-41zM618 600h36v6h-36zM624 606h36v6h-36zM630 612h36v6h-36zM636 618h36v6h-36zM642 624h30v6h-30zM648 630h24v6h-24zM654 636h18v6h-18zM660 642h12v6h-12zM666 648h6v6h-6zM528 690h6v6h-6zM528 696h12v6h-12zM528 702h18v6h-18zM528 708h24v6h-24zM528 714h30v6h-30zM528 720h36v6h-36zM534 726h36v6h-36zM540 732h36v6h-36zM546 738h36v6h-36z"/><path fill="#d4542c" d="M337 283h12v6h-12zM343 289h12v6h-12zM349 295h12v6h-12zM355 301h12v6h-12zM361 307h12v6h-12zM367 313h6v6h-6zM211 409h6v6h-6zM211 415h12v6h-12zM217 421h12v6h-12zM223 427h12v6h-12zM229 433h12v6h-12zM235 439h12v6h-12zM654 600h12v6h-12zM660 606h12v6h-12zM666 612h6v6h-6zM528 726h6v6h-6zM528 732h12v6h-12zM534 738h12v6h-12z"/><path fill="#d8542c" d="M349 283h24v6h-24zM355 289h18v6h-18zM361 295h12v6h-12zM367 301h6v6h-6zM271 307h6v6h-6zM271 313h12v6h-12zM277 319h12v6h-12zM283 325h12v6h-12zM289 331h12v6h-12zM295 337h12v6h-12zM235 343h12v6h-12zM241 349h12v6h-12zM247 355h12v6h-12zM253 361h12v6h-12zM259 367h12v6h-12zM265 373h6v6h-6zM211 421h6v6h-6zM211 427h12v6h-12zM211 433h18v6h-18zM211 439h24v6h-24zM666 600h6v6h-6zM528 738h6v6h-6z"/><path fill="#d85830" d="M271 289h6v6h-6zM271 295h12v6h-12zM277 301h12v6h-12zM283 307h12v6h-12zM289 313h12v6h-12zM295 319h12v6h-12zM301 325h12v6h-12zM307 331h12v6h-12zM313 337h12v6h-12zM217 343h12v6h-12zM223 349h12v6h-12zM229 355h12v6h-12zM235 361h12v6h-12zM241 367h12v6h-12zM247 373h12v6h-12zM253 379h12v6h-12zM259 385h12v6h-12zM265 391h6v6h-6z"/><path fill="#f0b460" d="M498 289h6v6h-6zM498 295h12v6h-12zM498 301h18v6h-18zM498 307h24v6h-24zM498 313h30v6h-30zM498 319h36v6h-36zM504 325h36v6h-36zM510 331h36v6h-36zM516 337h36v6h-36zM522 343h36v6h-36zM528 349h36v6h-36zM534 355h36v6h-36zM540 361h36v6h-36zM546 367h36v6h-36zM552 373h36v6h-36zM558 379h36v6h-36zM564 385h36v6h-36zM570 391h36v6h-36zM576 397h36v6h-36zM582 403h36v6h-36zM588 409h36v6h-36zM594 415h36v6h-36zM600 421h36v6h-36zM606 427h36v6h-36zM612 433h36v6h-36zM618 439h36v6h-36zM528 451h6v5h-6zM528 456h12v6h-12zM528 462h18v6h-18zM528 468h24v6h-24zM534 474h24v6h-24zM540 480h24v6h-24zM546 486h24v6h-24zM552 492h24v6h-24zM558 498h24v6h-24zM564 504h24v6h-24zM570 510h24v6h-24zM576 516h24v6h-24zM582 522h24v6h-24zM588 528h24v6h-24zM594 534h24v6h-24zM600 540h24v6h-24zM606 546h24v6h-24zM612 552h24v6h-24zM618 558h24v6h-24zM624 564h24v6h-24zM217 570h36v6h-36zM630 570h24v6h-24zM223 576h36v6h-36zM636 576h24v6h-24zM229 582h36v6h-36zM642 582h24v6h-24zM235 588h36v6h-36zM648 588h24v6h-24zM241 594h36v6h-36zM654 594h18v6h-18zM247 600h36v6h-36zM379 600h23v6h-23zM253 606h36v6h-36zM384 606h24v6h-24zM259 612h36v6h-36zM390 612h24v6h-24zM265 618h36v6h-36zM396 618h24v6h-24zM271 624h36v6h-36zM402 624h24v6h-24zM277 630h36v6h-36zM408 630h24v6h-24zM283 636h36v6h-36zM414 636h24v6h-24zM289 642h36v6h-36zM420 642h24v6h-24zM295 648h36v6h-36zM426 648h24v6h-24zM301 654h36v6h-36zM432 654h24v6h-24zM307 660h36v6h-36zM438 660h24v6h-24zM313 666h36v6h-36zM444 666h24v6h-24zM319 672h36v6h-36zM450 672h24v6h-24zM325 678h36v6h-36zM456 678h24v6h-24zM331 684h36v6h-36zM462 684h24v6h-24zM337 690h36v6h-36zM468 690h24v6h-24zM343 696h30v6h-30zM474 696h24v6h-24zM349 702h24v6h-24zM480 702h24v6h-24zM355 708h18v6h-18zM486 708h24v6h-24zM361 714h12v6h-12zM492 714h24v6h-24zM367 720h6v6h-6zM498 720h24v6h-24zM504 726h24v6h-24zM510 732h18v6h-18zM516 738h12v6h-12z"/><path fill="#d8582c" d="M271 301h6v6h-6zM277 307h6v6h-6zM283 313h6v6h-6zM289 319h6v6h-6zM295 325h6v6h-6zM301 331h6v6h-6zM307 337h6v6h-6zM229 343h6v6h-6zM235 349h6v6h-6zM241 355h6v6h-6zM247 361h6v6h-6zM253 367h6v6h-6zM259 373h6v6h-6zM265 379h6v6h-6z"/><path fill="#d44c2c" d="M331 319h6v6h-6zM331 325h12v6h-12zM337 331h12v6h-12zM343 337h12v6h-12zM349 343h12v6h-12zM355 349h12v6h-12zM361 355h12v6h-12zM367 361h6v6h-6zM247 403h12v6h-12zM253 409h12v6h-12zM259 415h12v6h-12zM265 421h12v6h-12zM271 427h12v6h-12zM277 433h12v6h-12zM283 439h12v6h-12zM474 445h12v6h-12zM480 451h12v5h-12zM486 456h12v6h-12zM492 462h12v6h-12zM498 468h12v6h-12zM504 474h12v6h-12zM510 480h12v6h-12zM516 486h12v6h-12zM522 492h6v6h-6zM373 546h6v6h-6zM373 552h11v6h-11zM379 558h11v6h-11zM384 564h12v6h-12zM390 570h12v6h-12zM396 576h12v6h-12zM402 582h12v6h-12zM408 588h12v6h-12zM414 594h12v6h-12zM606 600h12v6h-12zM612 606h12v6h-12zM618 612h12v6h-12zM624 618h12v6h-12zM630 624h12v6h-12zM636 630h12v6h-12zM642 636h12v6h-12zM648 642h12v6h-12zM654 648h12v6h-12zM660 654h12v6h-12zM666 660h6v6h-6zM528 678h6v6h-6zM528 684h12v6h-12zM534 690h12v6h-12zM540 696h12v6h-12zM546 702h12v6h-12zM552 708h12v6h-12zM558 714h12v6h-12zM564 720h12v6h-12zM570 726h12v6h-12zM576 732h12v6h-12zM582 738h12v6h-12z"/><path fill="#f09c4c" d="M373 325h6v6h-6zM373 331h11v6h-11zM373 337h17v6h-17zM390 343h36v6h-36zM396 349h30v6h-30zM402 355h24v6h-24zM408 361h18v6h-18zM414 367h12v6h-12zM420 373h6v6h-6zM253 445h18v6h-18zM259 451h12v5h-12zM265 456h6v6h-6zM271 462h6v6h-6zM271 468h12v6h-12zM271 474h18v6h-18zM271 480h24v6h-24zM271 486h30v6h-30zM271 492h36v6h-36zM528 576h6v6h-6zM534 582h6v6h-6zM540 588h6v6h-6zM546 594h6v6h-6zM504 600h6v6h-6zM510 606h6v6h-6zM516 612h6v6h-6zM522 618h6v6h-6z"/><path fill="#f0b45c" d="M498 325h6v6h-6zM498 331h12v6h-12zM498 337h18v6h-18zM498 343h24v6h-24zM504 349h24v6h-24zM510 355h24v6h-24zM516 361h24v6h-24zM522 367h24v6h-24zM528 373h24v6h-24zM534 379h24v6h-24zM540 385h24v6h-24zM546 391h24v6h-24zM552 397h24v6h-24zM558 403h24v6h-24zM564 409h24v6h-24zM570 415h24v6h-24zM576 421h24v6h-24zM582 427h24v6h-24zM588 433h24v6h-24zM594 439h24v6h-24zM528 474h6v6h-6zM528 480h12v6h-12zM534 486h12v6h-12zM540 492h12v6h-12zM546 498h12v6h-12zM552 504h12v6h-12zM558 510h12v6h-12zM564 516h12v6h-12zM570 522h12v6h-12zM576 528h12v6h-12zM582 534h12v6h-12zM588 540h12v6h-12zM594 546h12v6h-12zM600 552h12v6h-12zM606 558h12v6h-12zM612 564h12v6h-12zM253 570h24v6h-24zM618 570h12v6h-12zM259 576h24v6h-24zM624 576h12v6h-12zM265 582h24v6h-24zM630 582h12v6h-12zM271 588h24v6h-24zM636 588h12v6h-12zM277 594h24v6h-24zM642 594h12v6h-12zM283 600h24v6h-24zM402 600h12v6h-12zM289 606h24v6h-24zM408 606h12v6h-12zM295 612h24v6h-24zM414 612h12v6h-12zM301 618h24v6h-24zM420 618h12v6h-12zM307 624h24v6h-24zM426 624h12v6h-12zM313 630h24v6h-24zM432 630h12v6h-12zM319 636h24v6h-24zM438 636h12v6h-12zM325 642h24v6h-24zM444 642h12v6h-12zM331 648h24v6h-24zM450 648h12v6h-12zM337 654h24v6h-24zM456 654h12v6h-12zM343 660h24v6h-24zM462 660h12v6h-12zM349 666h24v6h-24zM468 666h12v6h-12zM355 672h18v6h-18zM474 672h12v6h-12zM361 678h12v6h-12zM480 678h12v6h-12zM367 684h6v6h-6zM486 684h12v6h-12zM492 690h12v6h-12zM498 696h12v6h-12zM504 702h12v6h-12zM510 708h12v6h-12zM516 714h12v6h-12zM522 720h6v6h-6z"/><path fill="#d44c28" d="M331 331h6v6h-6zM337 337h6v6h-6zM343 343h6v6h-6zM349 349h6v6h-6zM355 355h6v6h-6zM361 361h6v6h-6zM367 367h6v6h-6zM259 403h6v6h-6zM265 409h6v6h-6zM271 415h6v6h-6zM277 421h6v6h-6zM283 427h6v6h-6zM289 433h6v6h-6zM295 439h6v6h-6zM468 445h6v6h-6zM474 451h6v5h-6zM480 456h6v6h-6zM486 462h6v6h-6zM492 468h6v6h-6zM498 474h6v6h-6zM504 480h6v6h-6zM510 486h6v6h-6zM516 492h6v6h-6zM522 498h6v6h-6zM373 540h6v6h-6zM379 546h5v6h-5zM384 552h6v6h-6zM390 558h6v6h-6zM396 564h6v6h-6zM402 570h6v6h-6zM408 576h6v6h-6zM414 582h6v6h-6zM420 588h6v6h-6zM426 594h6v6h-6zM600 600h6v6h-6zM606 606h6v6h-6zM612 612h6v6h-6zM618 618h6v6h-6zM624 624h6v6h-6zM630 630h6v6h-6zM636 636h6v6h-6zM642 642h6v6h-6zM648 648h6v6h-6zM654 654h6v6h-6zM660 660h6v6h-6zM666 666h6v6h-6zM528 672h6v6h-6zM534 678h6v6h-6zM540 684h6v6h-6zM546 690h6v6h-6zM552 696h6v6h-6zM558 702h6v6h-6zM564 708h6v6h-6zM570 714h6v6h-6zM576 720h6v6h-6zM582 726h6v6h-6zM588 732h6v6h-6zM594 738h6v6h-6z"/><path fill="#600c0c" d="M307 343h6v6h-6zM313 349h6v6h-6zM319 355h6v6h-6zM325 361h6v6h-6zM271 379h6v6h-6zM277 385h6v6h-6zM283 391h6v6h-6zM289 397h6v6h-6z"/><path fill="#600c10" d="M313 343h6v6h-6zM319 349h6v6h-6zM325 355h6v6h-6zM271 385h6v6h-6zM277 391h6v6h-6zM283 397h6v6h-6z"/><path fill="#f09848" d="M373 343h11v6h-11zM379 349h11v6h-11zM384 355h12v6h-12zM390 361h12v6h-12zM396 367h12v6h-12zM402 373h12v6h-12zM408 379h12v6h-12zM414 385h12v6h-12zM420 391h6v6h-6zM271 445h6v6h-6zM271 451h12v5h-12zM277 456h12v6h-12zM283 462h12v6h-12zM289 468h12v6h-12zM295 474h12v6h-12zM301 480h12v6h-12zM307 486h12v6h-12zM313 492h12v6h-12z"/><path fill="#f0984c" d="M384 343h6v6h-6zM390 349h6v6h-6zM396 355h6v6h-6zM402 361h6v6h-6zM408 367h6v6h-6zM414 373h6v6h-6zM420 379h6v6h-6zM271 456h6v6h-6zM277 462h6v6h-6zM283 468h6v6h-6zM289 474h6v6h-6zM295 480h6v6h-6zM301 486h6v6h-6zM307 492h6v6h-6z"/><path fill="#ec9848" d="M373 349h6v6h-6zM373 355h11v6h-11zM379 361h11v6h-11zM384 367h12v6h-12zM390 373h12v6h-12zM396 379h12v6h-12zM402 385h12v6h-12zM408 391h12v6h-12zM414 397h12v6h-12zM420 403h6v6h-6zM277 445h12v6h-12zM283 451h12v5h-12zM289 456h12v6h-12zM295 462h12v6h-12zM301 468h12v6h-12zM307 474h12v6h-12zM313 480h12v6h-12zM319 486h12v6h-12zM325 492h12v6h-12z"/><path fill="#ec9448" d="M373 361h6v6h-6zM373 367h11v6h-11zM373 373h17v6h-17zM373 379h23v6h-23zM379 385h23v6h-23zM384 391h24v6h-24zM390 397h24v6h-24zM396 403h24v6h-24zM402 409h24v6h-24zM408 415h18v6h-18zM414 421h12v6h-12zM420 427h6v6h-6zM289 445h24v6h-24zM295 451h24v5h-24zM301 456h24v6h-24zM307 462h24v6h-24zM313 468h24v6h-24zM319 474h24v6h-24zM325 480h24v6h-24zM331 486h24v6h-24zM337 492h24v6h-24zM528 582h6v6h-6zM534 588h6v6h-6zM540 594h6v6h-6zM510 600h6v6h-6zM516 606h6v6h-6zM522 612h6v6h-6z"/><path fill="#ec9048" d="M373 385h6v6h-6zM379 391h5v6h-5zM384 397h6v6h-6zM390 403h6v6h-6zM396 409h6v6h-6zM402 415h6v6h-6zM408 421h6v6h-6zM414 427h6v6h-6zM420 433h6v6h-6zM313 445h6v6h-6zM319 451h6v5h-6zM325 456h6v6h-6zM331 462h6v6h-6zM337 468h6v6h-6zM343 474h6v6h-6zM349 480h6v6h-6zM355 486h6v6h-6zM361 492h6v6h-6z"/><path fill="#c83824" d="M337 391h6v6h-6zM343 397h6v6h-6zM319 409h6v6h-6zM325 415h6v6h-6zM414 445h6v6h-6zM420 451h6v5h-6zM426 456h6v6h-6zM432 462h6v6h-6zM438 468h6v6h-6zM373 486h6v6h-6zM379 492h5v6h-5zM384 498h6v6h-6zM390 504h6v6h-6zM396 510h6v6h-6zM546 600h6v6h-6zM552 606h6v6h-6zM558 612h6v6h-6zM528 618h6v6h-6zM564 618h6v6h-6zM534 624h6v6h-6zM570 624h6v6h-6zM540 630h6v6h-6zM576 630h6v6h-6zM546 636h6v6h-6zM582 636h6v6h-6zM552 642h6v6h-6zM588 642h6v6h-6zM558 648h6v6h-6zM594 648h6v6h-6zM564 654h6v6h-6zM600 654h6v6h-6zM570 660h6v6h-6zM606 660h6v6h-6zM576 666h6v6h-6zM612 666h6v6h-6zM582 672h6v6h-6zM618 672h6v6h-6zM588 678h6v6h-6zM624 678h6v6h-6zM594 684h6v6h-6zM630 684h6v6h-6zM600 690h6v6h-6zM636 690h6v6h-6zM606 696h6v6h-6zM642 696h6v6h-6zM612 702h6v6h-6zM648 702h6v6h-6zM618 708h6v6h-6zM654 708h6v6h-6zM624 714h6v6h-6zM660 714h6v6h-6zM630 720h6v6h-6zM666 720h6v6h-6zM636 726h6v6h-6zM642 732h6v6h-6zM648 738h6v6h-6z"/><path fill="#ec9044" d="M373 391h6v6h-6zM373 397h11v6h-11zM379 403h11v6h-11zM384 409h12v6h-12zM390 415h12v6h-12zM396 421h12v6h-12zM402 427h12v6h-12zM408 433h12v6h-12zM414 439h12v6h-12zM319 445h12v6h-12zM325 451h12v5h-12zM331 456h12v6h-12zM337 462h12v6h-12zM343 468h12v6h-12zM349 474h12v6h-12zM355 480h12v6h-12zM361 486h12v6h-12zM367 492h6v6h-6z"/><path fill="#981c18" d="M355 403h6v6h-6zM361 409h6v6h-6zM367 415h6v6h-6zM331 427h6v6h-6zM337 433h6v6h-6zM343 439h6v6h-6zM534 600h6v6h-6zM528 606h6v6h-6zM540 606h6v6h-6zM534 612h6v6h-6zM546 612h6v6h-6zM540 618h6v6h-6zM552 618h6v6h-6zM546 624h6v6h-6zM558 624h6v6h-6zM552 630h6v6h-6zM564 630h6v6h-6zM558 636h6v6h-6zM570 636h6v6h-6zM564 642h6v6h-6zM576 642h6v6h-6zM570 648h6v6h-6zM582 648h6v6h-6zM576 654h6v6h-6zM588 654h6v6h-6zM582 660h6v6h-6zM594 660h6v6h-6zM588 666h6v6h-6zM600 666h6v6h-6zM594 672h6v6h-6zM606 672h6v6h-6zM600 678h6v6h-6zM612 678h6v6h-6zM606 684h6v6h-6zM618 684h6v6h-6zM612 690h6v6h-6zM624 690h6v6h-6zM618 696h6v6h-6zM630 696h6v6h-6zM624 702h6v6h-6zM636 702h6v6h-6zM630 708h6v6h-6zM642 708h6v6h-6zM636 714h6v6h-6zM648 714h6v6h-6zM642 720h6v6h-6zM654 720h6v6h-6zM648 726h6v6h-6zM660 726h6v6h-6zM654 732h6v6h-6zM666 732h6v6h-6zM660 738h6v6h-6z"/><path fill="#9c1c18" d="M361 403h6v6h-6zM367 409h6v6h-6zM331 433h6v6h-6zM337 439h6v6h-6z"/><path fill="#a02018" d="M367 403h6v6h-6zM331 439h6v6h-6z"/><path fill="#ec8c44" d="M373 403h6v6h-6zM373 409h11v6h-11zM379 415h11v6h-11zM384 421h12v6h-12zM390 427h12v6h-12zM396 433h12v6h-12zM402 439h12v6h-12zM331 445h12v6h-12zM337 451h12v5h-12zM343 456h12v6h-12zM349 462h12v6h-12zM355 468h12v6h-12zM361 474h12v6h-12zM367 480h6v6h-6z"/><path fill="#ec8840" d="M373 415h6v6h-6zM379 421h5v6h-5zM384 427h6v6h-6zM390 433h6v6h-6zM396 439h6v6h-6zM343 445h6v6h-6zM349 451h6v5h-6zM355 456h6v6h-6zM361 462h6v6h-6zM367 468h6v6h-6zM528 588h6v6h-6zM534 594h6v6h-6zM516 600h6v6h-6zM522 606h6v6h-6z"/><path fill="#ec8440" d="M373 421h6v6h-6zM379 427h5v6h-5zM384 433h6v6h-6zM390 439h6v6h-6zM349 445h6v6h-6zM355 451h6v5h-6zM361 456h6v6h-6zM367 462h6v6h-6z"/><path fill="#e87c3c" d="M373 427h6v6h-6zM379 433h5v6h-5zM384 439h6v6h-6zM355 445h6v6h-6zM361 451h6v5h-6zM367 456h6v6h-6z"/><path fill="#e47438" d="M373 433h6v6h-6zM379 439h5v6h-5zM361 445h6v6h-6zM367 451h6v5h-6z"/><path fill="#801414" d="M379 445h5v6h-5zM373 451h6v5h-6zM384 451h6v5h-6zM379 456h5v6h-5zM390 456h6v6h-6zM384 462h6v6h-6zM396 462h6v6h-6zM390 468h6v6h-6zM402 468h6v6h-6zM396 474h6v6h-6zM408 474h6v6h-6zM402 480h6v6h-6zM414 480h6v6h-6zM408 486h6v6h-6zM420 486h6v6h-6zM414 492h6v6h-6zM426 492h6v6h-6zM420 498h6v6h-6zM432 498h6v6h-6zM426 504h6v6h-6zM438 504h6v6h-6zM432 510h6v6h-6z"/><path fill="#a42018" d="M384 445h6v6h-6zM390 451h6v5h-6zM373 456h6v6h-6zM396 456h6v6h-6zM379 462h5v6h-5zM402 462h6v6h-6zM384 468h6v6h-6zM408 468h6v6h-6zM390 474h6v6h-6zM414 474h6v6h-6zM396 480h6v6h-6zM420 480h6v6h-6zM402 486h6v6h-6zM426 486h6v6h-6zM408 492h6v6h-6zM432 492h6v6h-6zM414 498h6v6h-6zM438 498h6v6h-6zM420 504h6v6h-6zM426 510h6v6h-6z"/><path fill="#f4bc6c" d="M630 445h6v6h-6zM636 451h6v5h-6zM642 456h6v6h-6zM648 462h6v6h-6zM654 468h6v6h-6zM660 474h6v6h-6zM666 480h6v6h-6zM373 702h6v6h-6zM379 708h5v6h-5zM384 714h6v6h-6zM390 720h6v6h-6zM396 726h6v6h-6zM402 732h6v6h-6zM408 738h6v6h-6z"/><path fill="#f4c06c" d="M636 445h36v6h-36zM642 451h30v5h-30zM648 456h24v6h-24zM654 462h18v6h-18zM660 468h12v6h-12zM666 474h6v6h-6zM373 708h6v6h-6zM373 714h11v6h-11zM373 720h17v6h-17zM373 726h23v6h-23zM373 732h29v6h-29zM373 738h35v6h-35z"/><path fill="#c43820" d="M444 498h6v6h-6zM450 504h6v6h-6zM456 510h6v6h-6zM426 516h6v6h-6zM432 522h6v6h-6zM438 528h6v6h-6z"/><path fill="#e47038" d="M528 594h6v6h-6zM522 600h6v6h-6z"/></g>
<rect x="108.0" y="169" width="3" height="575" fill="#fff" fill-opacity="0.75"/><rect x="97" y="180.0" width="575" height="3" fill="#fff" fill-opacity="0.75"/><rect x="113.0" y="169" width="2" height="575" fill="#fff" fill-opacity="0.6"/><rect x="97" y="185.0" width="575" height="2" fill="#fff" fill-opacity="0.6"/><rect x="127.8" y="169" width="2.5" height="575" fill="#fff" fill-opacity="0.75"/><rect x="97" y="199.8" width="575" height="2.5" fill="#fff" fill-opacity="0.75"/><rect x="164.0" y="169" width="2" height="575" fill="#fff" fill-opacity="0.7"/><rect x="97" y="236.0" width="575" height="2" fill="#fff" fill-opacity="0.7"/><rect x="170.0" y="169" width="2" height="575" fill="#fff" fill-opacity="0.7"/><rect x="97" y="242.0" width="575" height="2" fill="#fff" fill-opacity="0.7"/><rect x="174.0" y="169" width="2" height="575" fill="#fff" fill-opacity="0.7"/><rect x="97" y="246.0" width="575" height="2" fill="#fff" fill-opacity="0.7"/><rect x="179.0" y="169" width="2" height="575" fill="#fff" fill-opacity="0.6"/><rect x="97" y="251.0" width="575" height="2" fill="#fff" fill-opacity="0.6"/><rect x="186.8" y="169" width="2.5" height="575" fill="#fff" fill-opacity="0.75"/><rect x="97" y="258.8" width="575" height="2.5" fill="#fff" fill-opacity="0.75"/><rect x="208.0" y="169" width="2" height="575" fill="#fff" fill-opacity="0.7"/><rect x="97" y="280.0" width="575" height="2" fill="#fff" fill-opacity="0.7"/><rect x="213.0" y="169" width="2" height="575" fill="#fff" fill-opacity="0.6"/><rect x="97" y="285.0" width="575" height="2" fill="#fff" fill-opacity="0.6"/><rect x="239.8" y="169" width="2.5" height="575" fill="#fff" fill-opacity="0.8"/><rect x="97" y="311.8" width="575" height="2.5" fill="#fff" fill-opacity="0.8"/><rect x="328.8" y="169" width="2.5" height="575" fill="#fff" fill-opacity="0.8"/><rect x="97" y="400.8" width="575" height="2.5" fill="#fff" fill-opacity="0.8"/><rect x="369.0" y="169" width="2" height="575" fill="#fff" fill-opacity="0.7"/><rect x="97" y="441.0" width="575" height="2" fill="#fff" fill-opacity="0.7"/><rect x="372.8" y="169" width="2.5" height="575" fill="#fff" fill-opacity="0.8"/><rect x="97" y="444.8" width="575" height="2.5" fill="#fff" fill-opacity="0.8"/><rect x="433.8" y="169" width="2.5" height="575" fill="#fff" fill-opacity="0.8"/><rect x="97" y="505.8" width="575" height="2.5" fill="#fff" fill-opacity="0.8"/><rect x="443.5" y="169" width="3" height="575" fill="#fff" fill-opacity="0.85"/><rect x="97" y="515.5" width="575" height="3" fill="#fff" fill-opacity="0.85"/><rect x="568.2" y="169" width="2.5" height="575" fill="#fff" fill-opacity="0.8"/><rect x="97" y="640.2" width="575" height="2.5" fill="#fff" fill-opacity="0.8"/><rect x="616.0" y="169" width="2" height="575" fill="#fff" fill-opacity="0.6"/><rect x="97" y="688.0" width="575" height="2" fill="#fff" fill-opacity="0.6"/><rect x="625.8" y="169" width="2.5" height="575" fill="#fff" fill-opacity="0.75"/><rect x="97" y="697.8" width="575" height="2.5" fill="#fff" fill-opacity="0.75"/>
<rect x="97" y="169" width="575" height="575" fill="none" stroke="#1a1212" stroke-width="2"/>
<line x1="317.0" y1="294.0" x2="295.5" y2="315.2" stroke="#000" stroke-width="5.5"/>
<path d="M282.7 327.9L290.2 307.1L303.6 320.6Z" fill="#000"/>
<line x1="386.6" y1="369.9" x2="364.5" y2="391.9" stroke="#000" stroke-width="5.5"/>
<path d="M351.8 404.6L359.3 383.8L372.7 397.2Z" fill="#000"/>
<line x1="439.0" y1="424.6" x2="418.3" y2="446.0" stroke="#000" stroke-width="5.5"/>
<path d="M405.8 459.0L412.9 438.0L426.5 451.2Z" fill="#000"/>
<line x1="565.7" y1="557.7" x2="544.3" y2="579.6" stroke="#000" stroke-width="5.5"/>
<path d="M531.7 592.5L538.9 571.6L552.5 584.8Z" fill="#000"/>
<g shape-rendering="crispEdges"><path fill="#640c10" d="M783 169h12v6h-12zM783 175h18v6h-18zM789 181h18v6h-18zM795 187h18v6h-18zM801 193h18v6h-18zM807 199h18v6h-18zM813 205h18v6h-18zM819 211h18v6h-18zM825 217h18v6h-18zM831 223h12v6h-12zM843 229h6v6h-6zM849 235h6v6h-6zM855 241h6v6h-6zM861 247h6v6h-6zM867 253h6v6h-6zM873 259h6v6h-6zM879 265h6v6h-6zM885 271h6v6h-6zM891 277h6v6h-6zM897 283h12v6h-12zM897 289h18v6h-18zM903 295h18v6h-18zM909 301h18v6h-18zM915 307h18v6h-18zM921 313h18v6h-18zM927 319h18v6h-18zM933 325h18v6h-18zM939 331h18v6h-18zM945 337h18v6h-18zM951 343h24v6h-24zM957 349h24v6h-24zM957 355h30v6h-30zM963 361h24v6h-24zM969 367h24v6h-24zM981 373h30v6h-30zM987 379h30v6h-30zM987 385h30v6h-30zM987 391h30v6h-30zM993 397h30v6h-30zM1011 403h18v6h-18zM1017 409h18v6h-18zM1023 415h18v6h-18zM1029 421h18v6h-18zM1035 427h18v6h-18zM1041 433h18v6h-18zM1047 439h18v6h-18zM1053 445h12v6h-12zM1065 451h5v5h-5zM1070 456h6v6h-6zM1076 462h6v6h-6zM1082 468h6v6h-6zM1088 474h6v6h-6zM1094 480h6v6h-6zM1100 486h6v6h-6zM1106 492h6v6h-6zM1112 498h6v6h-6zM1118 504h6v6h-6zM1124 510h6v6h-6zM1130 516h6v6h-6zM1136 522h6v6h-6zM1142 528h6v6h-6zM1148 534h6v6h-6zM1154 540h6v6h-6zM1160 546h6v6h-6zM1166 552h6v6h-6zM1172 558h6v6h-6zM1178 564h6v6h-6zM1184 570h6v6h-6zM1190 576h6v6h-6zM1196 582h6v6h-6zM1202 588h6v6h-6zM1208 594h6v6h-6zM1214 600h6v6h-6z"/><path fill="#801414" d="M795 169h6v6h-6zM801 175h6v6h-6zM783 181h6v6h-6zM807 181h6v6h-6zM789 187h6v6h-6zM813 187h6v6h-6zM795 193h6v6h-6zM819 193h6v6h-6zM801 199h6v6h-6zM825 199h6v6h-6zM807 205h6v6h-6zM831 205h6v6h-6zM813 211h6v6h-6zM837 211h6v6h-6zM819 217h6v6h-6zM825 223h6v6h-6zM1065 445h5v6h-5zM1059 451h6v5h-6z"/><path fill="#981c18" d="M801 169h6v6h-6zM807 175h6v6h-6zM813 181h6v6h-6zM783 187h6v6h-6zM819 187h6v6h-6zM789 193h6v6h-6zM825 193h6v6h-6zM795 199h6v6h-6zM831 199h6v6h-6zM801 205h6v6h-6zM837 205h6v6h-6zM807 211h6v6h-6zM813 217h6v6h-6zM819 223h6v6h-6z"/><path fill="#a42018" d="M807 169h6v6h-6zM813 175h6v6h-6zM819 181h6v6h-6zM825 187h6v6h-6zM783 193h6v6h-6zM831 193h6v6h-6zM789 199h6v6h-6zM837 199h6v6h-6zM795 205h6v6h-6zM801 211h6v6h-6zM807 217h6v6h-6zM813 223h6v6h-6zM927 295h6v6h-6zM933 301h6v6h-6zM939 307h6v6h-6zM909 313h6v6h-6zM915 319h6v6h-6zM921 325h6v6h-6zM957 325h6v6h-6zM963 331h6v6h-6zM969 337h6v6h-6zM939 343h6v6h-6zM945 349h6v6h-6zM951 355h6v6h-6zM987 355h6v6h-6zM993 361h6v6h-6zM999 367h6v6h-6zM969 373h6v6h-6zM975 379h6v6h-6zM981 385h6v6h-6zM1017 385h6v6h-6zM1023 391h6v6h-6zM1029 397h6v6h-6zM999 403h6v6h-6zM1005 409h6v6h-6zM1011 415h6v6h-6zM1047 415h6v6h-6zM1053 421h6v6h-6zM1059 427h6v6h-6zM1029 433h6v6h-6zM1035 439h6v6h-6zM1041 445h6v6h-6z"/><path fill="#ac241c" d="M813 169h6v6h-6zM819 175h6v6h-6zM825 181h6v6h-6zM831 187h6v6h-6zM837 193h6v6h-6zM783 199h6v6h-6zM789 205h6v6h-6zM795 211h6v6h-6zM801 217h6v6h-6zM807 223h6v6h-6zM897 277h6v6h-6zM891 283h6v6h-6z"/><path fill="#b0281c" d="M819 169h6v6h-6zM825 175h6v6h-6zM831 181h6v6h-6zM837 187h6v6h-6zM783 205h6v6h-6zM789 211h6v6h-6zM795 217h6v6h-6zM801 223h6v6h-6zM1130 510h6v6h-6zM1124 516h6v6h-6z"/><path fill="#b42c1c" d="M825 169h6v6h-6zM831 175h6v6h-6zM837 181h6v6h-6zM783 211h6v6h-6zM789 217h6v6h-6zM795 223h6v6h-6zM927 289h6v6h-6zM933 295h6v6h-6zM939 301h6v6h-6zM945 307h6v6h-6zM903 313h6v6h-6zM909 319h6v6h-6zM957 319h6v6h-6zM915 325h6v6h-6zM963 325h6v6h-6zM921 331h6v6h-6zM969 331h6v6h-6zM975 337h6v6h-6zM933 343h6v6h-6zM939 349h6v6h-6zM987 349h6v6h-6zM945 355h6v6h-6zM993 355h6v6h-6zM951 361h6v6h-6zM999 361h6v6h-6zM1005 367h6v6h-6zM963 373h6v6h-6zM969 379h6v6h-6zM1017 379h6v6h-6zM975 385h6v6h-6zM1023 385h6v6h-6zM981 391h6v6h-6zM1029 391h6v6h-6zM1035 397h6v6h-6zM993 403h6v6h-6zM999 409h6v6h-6zM1047 409h6v6h-6zM1005 415h6v6h-6zM1053 415h6v6h-6zM1011 421h6v6h-6zM1059 421h6v6h-6zM1023 433h6v6h-6zM1029 439h6v6h-6zM1035 445h6v6h-6z"/><path fill="#b42c20" d="M831 169h6v6h-6zM837 175h6v6h-6zM783 217h6v6h-6zM789 223h6v6h-6zM1214 588h6v6h-6zM1202 600h6v6h-6z"/><path fill="#b82c20" d="M837 169h6v6h-6zM783 223h6v6h-6zM1220 600h6v6h-6zM1214 606h6v6h-6zM1226 606h6v6h-6zM1220 612h6v6h-6zM1232 612h6v6h-6zM1226 618h6v6h-6zM1238 618h6v6h-6zM1232 624h6v6h-6zM1244 624h6v6h-6zM1238 630h6v6h-6zM1250 630h6v6h-6zM1244 636h6v6h-6zM1256 636h6v6h-6zM1250 642h6v6h-6zM1262 642h6v6h-6zM1256 648h6v6h-6zM1268 648h6v6h-6zM1262 654h6v6h-6zM1274 654h6v6h-6zM1268 660h6v6h-6zM1280 660h6v6h-6zM1274 666h6v6h-6zM1286 666h6v6h-6zM1280 672h6v6h-6zM1292 672h6v6h-6zM1286 678h6v6h-6zM1298 678h6v6h-6zM1292 684h6v6h-6zM1304 684h6v6h-6zM1298 690h6v6h-6zM1310 690h6v6h-6zM1304 696h6v6h-6zM1316 696h6v6h-6zM1310 702h6v6h-6zM1322 702h6v6h-6zM1316 708h6v6h-6zM1328 708h6v6h-6zM1322 714h6v6h-6zM1334 714h6v6h-6zM1328 720h6v6h-6zM1340 720h6v6h-6zM1334 726h6v6h-6zM1346 726h6v6h-6zM1340 732h6v6h-6zM1352 732h6v6h-6zM1346 738h6v6h-6z"/><path fill="#d04428" d="M843 169h12v6h-12zM849 175h12v6h-12zM855 181h12v6h-12zM861 187h12v6h-12zM867 193h12v6h-12zM873 199h12v6h-12zM879 205h12v6h-12zM885 211h12v6h-12zM891 217h6v6h-6zM783 229h6v6h-6zM783 235h12v6h-12zM789 241h12v6h-12zM795 247h12v6h-12zM801 253h12v6h-12zM807 259h12v6h-12zM813 265h12v6h-12zM897 265h6v6h-6zM819 271h12v6h-12zM903 271h6v6h-6zM825 277h12v6h-12zM909 277h6v6h-6zM879 283h6v6h-6zM885 289h6v6h-6zM891 295h6v6h-6zM1076 433h6v6h-6zM1082 439h6v6h-6zM1088 445h6v6h-6zM1047 462h6v6h-6zM1053 468h6v6h-6zM1059 474h6v6h-6z"/><path fill="#d04828" d="M855 169h30v6h-30zM861 175h30v6h-30zM867 181h30v6h-30zM873 187h24v6h-24zM879 193h18v6h-18zM885 199h12v6h-12zM891 205h6v6h-6zM783 241h6v6h-6zM783 247h12v6h-12zM783 253h18v6h-18zM783 259h24v6h-24zM783 265h30v6h-30zM789 271h30v6h-30zM795 277h30v6h-30zM951 283h12v6h-12zM957 289h12v6h-12zM963 295h12v6h-12zM969 301h12v6h-12zM975 307h12v6h-12zM981 313h12v6h-12zM987 319h12v6h-12zM993 325h12v6h-12zM999 331h12v6h-12zM897 337h6v6h-6zM1005 337h12v6h-12zM897 343h12v6h-12zM1011 343h12v6h-12zM903 349h12v6h-12zM1017 349h12v6h-12zM909 355h12v6h-12zM1023 355h12v6h-12zM915 361h12v6h-12zM1029 361h12v6h-12zM921 367h12v6h-12zM1035 367h12v6h-12zM927 373h12v6h-12zM1041 373h12v6h-12zM933 379h12v6h-12zM1047 379h12v6h-12zM939 385h12v6h-12zM1053 385h12v6h-12zM945 391h12v6h-12zM1059 391h6v6h-6zM951 397h12v6h-12zM957 403h12v6h-12zM963 409h12v6h-12zM969 415h12v6h-12zM975 421h12v6h-12zM981 427h12v6h-12zM1065 427h5v6h-5zM987 433h12v6h-12zM993 439h12v6h-12zM999 445h12v6h-12zM1041 451h6v5h-6zM1082 451h6v5h-6zM1088 456h6v6h-6zM1094 462h6v6h-6zM1065 468h5v6h-5zM1100 468h6v6h-6zM1070 474h6v6h-6zM1106 474h6v6h-6zM1076 480h6v6h-6zM1112 480h6v6h-6zM1082 486h6v6h-6zM1118 486h6v6h-6zM1088 492h6v6h-6zM1124 492h6v6h-6zM1094 498h6v6h-6zM1100 504h6v6h-6zM1106 510h6v6h-6zM1148 516h6v6h-6zM1154 522h6v6h-6zM1160 528h6v6h-6zM1130 534h6v6h-6zM1166 534h6v6h-6zM1136 540h6v6h-6zM1172 540h6v6h-6zM1142 546h6v6h-6zM1178 546h6v6h-6zM1148 552h6v6h-6zM1184 552h6v6h-6zM1154 558h6v6h-6zM1190 558h6v6h-6zM1160 564h6v6h-6zM1196 564h6v6h-6zM1166 570h6v6h-6zM1202 570h6v6h-6zM1172 576h6v6h-6zM1208 576h6v6h-6zM1178 582h6v6h-6zM1184 588h6v6h-6zM1190 594h6v6h-6zM1226 600h6v6h-6zM1232 606h6v6h-6zM1214 612h6v6h-6zM1238 612h6v6h-6zM1220 618h6v6h-6zM1244 618h6v6h-6zM1226 624h6v6h-6zM1250 624h6v6h-6zM1232 630h6v6h-6zM1256 630h6v6h-6zM1238 636h6v6h-6zM1262 636h6v6h-6zM1244 642h6v6h-6zM1268 642h6v6h-6zM1250 648h6v6h-6zM1274 648h6v6h-6zM1256 654h6v6h-6zM1280 654h6v6h-6zM1262 660h6v6h-6zM1286 660h6v6h-6zM1268 666h6v6h-6zM1292 666h6v6h-6zM1274 672h6v6h-6zM1298 672h6v6h-6zM1280 678h6v6h-6zM1304 678h6v6h-6zM1286 684h6v6h-6zM1310 684h6v6h-6zM1292 690h6v6h-6zM1316 690h6v6h-6zM1298 696h6v6h-6zM1322 696h6v6h-6zM1304 702h6v6h-6zM1328 702h6v6h-6zM1310 708h6v6h-6zM1334 708h6v6h-6zM1316 714h6v6h-6zM1340 714h6v6h-6zM1322 720h6v6h-6zM1346 720h6v6h-6zM1328 726h6v6h-6zM1352 726h6v6h-6zM1334 732h6v6h-6zM1340 738h6v6h-6z"/><path fill="#d04c28" d="M885 169h12v6h-12zM891 175h6v6h-6zM783 271h6v6h-6zM783 277h12v6h-12zM1082 433h6v6h-6zM1088 439h6v6h-6zM1094 445h6v6h-6zM1047 468h6v6h-6zM1053 474h6v6h-6zM1059 480h6v6h-6z"/><path fill="#dc6030" d="M897 169h12v6h-12zM897 175h18v6h-18zM897 181h24v6h-24zM897 187h30v6h-30zM897 193h36v6h-36zM903 199h36v6h-36zM909 205h36v6h-36zM915 211h36v6h-36zM921 217h36v6h-36zM927 223h36v6h-36zM933 229h36v6h-36zM939 235h36v6h-36zM945 241h36v6h-36zM951 247h36v6h-36zM957 253h36v6h-36zM963 259h36v6h-36zM969 265h36v6h-36zM975 271h36v6h-36zM981 277h36v6h-36zM783 283h30v6h-30zM1005 283h12v6h-12zM783 289h36v6h-36zM1011 289h12v6h-12zM789 295h36v6h-36zM1017 295h12v6h-12zM795 301h36v6h-36zM1023 301h12v6h-12zM801 307h36v6h-36zM1029 307h12v6h-12zM807 313h36v6h-36zM1035 313h12v6h-12zM813 319h36v6h-36zM1041 319h12v6h-12zM819 325h36v6h-36zM1047 325h12v6h-12zM825 331h36v6h-36zM1053 331h12v6h-12zM831 337h36v6h-36zM1059 337h6v6h-6zM837 343h36v6h-36zM843 349h36v6h-36zM849 355h36v6h-36zM855 361h36v6h-36zM861 367h36v6h-36zM867 373h30v6h-30zM873 379h24v6h-24zM879 385h18v6h-18zM885 391h18v6h-18zM891 397h18v6h-18zM1065 397h5v6h-5zM903 403h12v6h-12zM1070 403h6v6h-6zM909 409h12v6h-12zM1076 409h6v6h-6zM915 415h12v6h-12zM1082 415h6v6h-6zM921 421h12v6h-12zM1088 421h6v6h-6zM927 427h12v6h-12zM1094 427h6v6h-6zM933 433h12v6h-12zM1112 433h6v6h-6zM939 439h12v6h-12zM1118 439h6v6h-6zM945 445h12v6h-12zM1124 445h6v6h-6zM1011 451h6v5h-6zM1100 451h6v5h-6zM1017 456h6v6h-6zM1106 456h6v6h-6zM1023 462h6v6h-6zM1112 462h6v6h-6zM1029 468h6v6h-6zM1118 468h6v6h-6zM1035 474h6v6h-6zM1124 474h6v6h-6zM1041 480h6v6h-6zM1065 486h5v6h-5zM1070 492h6v6h-6zM1047 498h6v6h-6zM1076 498h6v6h-6zM1053 504h6v6h-6zM1082 504h6v6h-6zM1059 510h6v6h-6zM1088 510h6v6h-6zM1166 516h6v6h-6zM1172 522h6v6h-6zM1178 528h6v6h-6zM1184 534h6v6h-6zM1190 540h6v6h-6zM1196 546h6v6h-6zM1130 552h6v6h-6zM1202 552h6v6h-6zM1136 558h6v6h-6zM1208 558h6v6h-6zM1142 564h6v6h-6zM1214 564h6v6h-6zM1148 570h6v6h-6zM1154 576h6v6h-6zM1160 582h6v6h-6zM1166 588h6v6h-6zM1172 594h6v6h-6zM1178 600h6v6h-6z"/><path fill="#dc6434" d="M909 169h18v6h-18zM915 175h18v6h-18zM921 181h18v6h-18zM927 187h18v6h-18zM933 193h18v6h-18zM939 199h18v6h-18zM945 205h18v6h-18zM951 211h18v6h-18zM957 217h18v6h-18zM963 223h18v6h-18zM969 229h18v6h-18zM975 235h18v6h-18zM981 241h18v6h-18zM987 247h18v6h-18zM993 253h18v6h-18zM999 259h18v6h-18zM1005 265h18v6h-18zM1011 271h18v6h-18zM1017 277h18v6h-18zM783 295h6v6h-6zM783 301h12v6h-12zM783 307h18v6h-18zM789 313h18v6h-18zM795 319h18v6h-18zM801 325h18v6h-18zM807 331h18v6h-18zM813 337h18v6h-18zM819 343h18v6h-18zM825 349h18v6h-18zM831 355h18v6h-18zM837 361h18v6h-18zM843 367h18v6h-18zM849 373h18v6h-18zM855 379h18v6h-18zM861 385h18v6h-18zM867 391h18v6h-18zM873 397h18v6h-18zM879 403h18v6h-18zM885 409h12v6h-12zM891 415h6v6h-6zM1118 433h6v6h-6zM1124 439h6v6h-6zM1130 486h6v6h-6zM1136 492h6v6h-6zM1142 498h6v6h-6zM1047 504h6v6h-6zM1148 504h6v6h-6zM1053 510h6v6h-6zM1154 510h6v6h-6zM1100 516h6v6h-6zM1106 522h6v6h-6zM1112 528h6v6h-6zM1118 534h6v6h-6zM1124 540h6v6h-6z"/><path fill="#e06434" d="M927 169h24v6h-24zM933 175h24v6h-24zM939 181h24v6h-24zM945 187h24v6h-24zM951 193h24v6h-24zM957 199h24v6h-24zM963 205h24v6h-24zM969 211h24v6h-24zM975 217h24v6h-24zM981 223h24v6h-24zM987 229h24v6h-24zM993 235h24v6h-24zM999 241h24v6h-24zM1005 247h24v6h-24zM1011 253h24v6h-24zM1017 259h24v6h-24zM1023 265h24v6h-24zM1029 271h24v6h-24zM1035 277h24v6h-24zM1023 283h12v6h-12zM1029 289h12v6h-12zM1035 295h12v6h-12zM1041 301h12v6h-12zM1047 307h12v6h-12zM783 313h6v6h-6zM1053 313h12v6h-12zM783 319h12v6h-12zM1059 319h6v6h-6zM783 325h18v6h-18zM783 331h24v6h-24zM789 337h24v6h-24zM795 343h24v6h-24zM801 349h24v6h-24zM807 355h24v6h-24zM813 361h24v6h-24zM819 367h24v6h-24zM825 373h24v6h-24zM831 379h24v6h-24zM837 385h24v6h-24zM843 391h24v6h-24zM1065 391h5v6h-5zM849 397h24v6h-24zM1070 397h6v6h-6zM855 403h24v6h-24zM1076 403h6v6h-6zM861 409h24v6h-24zM897 409h6v6h-6zM1082 409h6v6h-6zM867 415h24v6h-24zM897 415h12v6h-12zM1088 415h6v6h-6zM873 421h24v6h-24zM903 421h12v6h-12zM1094 421h6v6h-6zM879 427h18v6h-18zM909 427h12v6h-12zM1100 427h6v6h-6zM885 433h12v6h-12zM915 433h12v6h-12zM1124 433h6v6h-6zM891 439h6v6h-6zM921 439h12v6h-12zM927 445h12v6h-12zM1005 451h6v5h-6zM1011 456h6v6h-6zM1017 462h6v6h-6zM1023 468h6v6h-6zM1029 474h6v6h-6zM1035 480h6v6h-6zM1041 486h6v6h-6zM1047 510h6v6h-6zM1214 558h6v6h-6zM1172 600h6v6h-6z"/><path fill="#e06834" d="M951 169h66v6h-66zM957 175h66v6h-66zM963 181h66v6h-66zM969 187h66v6h-66zM975 193h66v6h-66zM981 199h66v6h-66zM987 205h66v6h-66zM993 211h66v6h-66zM999 217h66v6h-66zM1005 223h60v6h-60zM1011 229h54v6h-54zM1017 235h48v6h-48zM1023 241h42v6h-42zM1029 247h36v6h-36zM1035 253h30v6h-30zM1041 259h24v6h-24zM1047 265h18v6h-18zM1053 271h12v6h-12zM1059 277h6v6h-6zM1035 283h12v6h-12zM1041 289h12v6h-12zM1047 295h12v6h-12zM1053 301h12v6h-12zM1059 307h6v6h-6zM783 337h6v6h-6zM783 343h12v6h-12zM783 349h18v6h-18zM783 355h24v6h-24zM783 361h30v6h-30zM783 367h36v6h-36zM783 373h42v6h-42zM783 379h48v6h-48zM783 385h54v6h-54zM1065 385h5v6h-5zM783 391h60v6h-60zM1070 391h6v6h-6zM783 397h66v6h-66zM1076 397h6v6h-6zM789 403h66v6h-66zM1082 403h6v6h-6zM795 409h66v6h-66zM1088 409h6v6h-6zM801 415h66v6h-66zM1094 415h6v6h-6zM807 421h66v6h-66zM897 421h6v6h-6zM1100 421h6v6h-6zM813 427h66v6h-66zM897 427h12v6h-12zM1106 427h6v6h-6zM819 433h66v6h-66zM903 433h12v6h-12zM825 439h66v6h-66zM909 439h12v6h-12zM831 445h66v6h-66zM915 445h12v6h-12zM999 451h6v5h-6zM1106 451h6v5h-6zM1005 456h6v6h-6zM1112 456h6v6h-6zM1011 462h6v6h-6zM1118 462h6v6h-6zM1017 468h6v6h-6zM1124 468h6v6h-6zM1023 474h6v6h-6zM1029 480h6v6h-6zM1130 480h6v6h-6zM1035 486h6v6h-6zM1136 486h6v6h-6zM1041 492h6v6h-6zM1065 492h5v6h-5zM1142 492h6v6h-6zM1070 498h6v6h-6zM1148 498h6v6h-6zM1076 504h6v6h-6zM1154 504h6v6h-6zM1082 510h6v6h-6zM1160 510h6v6h-6zM1094 516h6v6h-6zM1172 516h6v6h-6zM1100 522h6v6h-6zM1178 522h6v6h-6zM1106 528h6v6h-6zM1184 528h6v6h-6zM1112 534h6v6h-6zM1190 534h6v6h-6zM1118 540h6v6h-6zM1196 540h6v6h-6zM1124 546h6v6h-6zM1202 546h6v6h-6zM1208 552h6v6h-6zM1130 558h6v6h-6zM1136 564h6v6h-6zM1142 570h6v6h-6zM1148 576h6v6h-6zM1154 582h6v6h-6zM1160 588h6v6h-6zM1166 594h6v6h-6zM1238 600h6v6h-6zM1244 606h6v6h-6zM1250 612h6v6h-6zM1256 618h6v6h-6zM1214 624h6v6h-6zM1262 624h6v6h-6zM1220 630h6v6h-6zM1268 630h6v6h-6zM1226 636h6v6h-6zM1274 636h6v6h-6zM1232 642h6v6h-6zM1280 642h6v6h-6zM1238 648h6v6h-6zM1286 648h6v6h-6zM1244 654h6v6h-6zM1292 654h6v6h-6zM1250 660h6v6h-6zM1298 660h6v6h-6zM1256 666h6v6h-6zM1304 666h6v6h-6zM1262 672h6v6h-6zM1310 672h6v6h-6zM1268 678h6v6h-6zM1316 678h6v6h-6zM1274 684h6v6h-6zM1322 684h6v6h-6zM1280 690h6v6h-6zM1328 690h6v6h-6zM1286 696h6v6h-6zM1334 696h6v6h-6zM1292 702h6v6h-6zM1340 702h6v6h-6zM1298 708h6v6h-6zM1346 708h6v6h-6zM1304 714h6v6h-6zM1352 714h6v6h-6zM1310 720h6v6h-6zM1316 726h6v6h-6zM1322 732h6v6h-6zM1328 738h6v6h-6z"/><path fill="#e06c34" d="M1017 169h42v6h-42zM1023 175h42v6h-42zM1029 181h36v6h-36zM1035 187h30v6h-30zM1041 193h24v6h-24zM1047 199h18v6h-18zM1053 205h12v6h-12zM1059 211h6v6h-6zM1047 283h12v6h-12zM1053 289h12v6h-12zM1059 295h6v6h-6zM1065 379h5v6h-5zM1070 385h6v6h-6zM1076 391h6v6h-6zM1082 397h6v6h-6zM783 403h6v6h-6zM1088 403h6v6h-6zM783 409h12v6h-12zM1094 409h6v6h-6zM783 415h18v6h-18zM1100 415h6v6h-6zM783 421h24v6h-24zM1106 421h6v6h-6zM783 427h30v6h-30zM1112 427h6v6h-6zM783 433h36v6h-36zM897 433h6v6h-6zM783 439h42v6h-42zM897 439h12v6h-12zM789 445h42v6h-42zM903 445h12v6h-12zM1130 445h6v6h-6zM993 451h6v5h-6zM1112 451h6v5h-6zM999 456h6v6h-6zM1118 456h6v6h-6zM1005 462h6v6h-6zM1124 462h6v6h-6zM1011 468h6v6h-6zM1017 474h6v6h-6zM1023 480h6v6h-6zM1029 486h6v6h-6zM1035 492h6v6h-6zM1041 498h6v6h-6zM1065 498h5v6h-5zM1070 504h6v6h-6zM1076 510h6v6h-6zM1059 516h6v6h-6zM1178 516h6v6h-6zM1184 522h6v6h-6zM1190 528h6v6h-6zM1196 534h6v6h-6zM1202 540h6v6h-6zM1208 546h6v6h-6zM1214 552h6v6h-6zM1130 564h6v6h-6zM1136 570h6v6h-6zM1142 576h6v6h-6zM1148 582h6v6h-6zM1154 588h6v6h-6zM1160 594h6v6h-6zM1220 594h6v6h-6zM1166 600h6v6h-6zM1208 606h6v6h-6z"/><path fill="#e46c34" d="M1059 169h6v6h-6zM783 445h6v6h-6z"/><path fill="#ec803c" d="M1065 169h17v6h-17zM1065 175h17v6h-17zM1065 181h17v6h-17zM1065 187h17v6h-17zM1065 193h17v6h-17zM1070 199h12v6h-12zM1076 205h6v6h-6zM1065 325h5v6h-5zM1070 331h6v6h-6zM1076 337h6v6h-6zM1082 343h6v6h-6zM1088 349h6v6h-6zM1094 355h6v6h-6zM1100 361h6v6h-6zM1106 367h6v6h-6zM1112 373h6v6h-6zM1118 379h6v6h-6zM1124 385h6v6h-6zM1130 391h6v6h-6zM1136 397h6v6h-6zM1142 403h6v6h-6zM1148 409h6v6h-6zM1154 415h6v6h-6zM1160 421h6v6h-6zM1166 427h6v6h-6zM1172 433h6v6h-6zM1178 439h6v6h-6zM1184 445h6v6h-6zM783 451h30v5h-30zM939 451h6v5h-6zM1136 451h6v5h-6zM783 456h36v6h-36zM945 456h6v6h-6zM1142 456h6v6h-6zM783 462h42v6h-42zM951 462h6v6h-6zM1148 462h6v6h-6zM957 468h6v6h-6zM1154 468h6v6h-6zM963 474h6v6h-6zM1160 474h6v6h-6zM969 480h6v6h-6zM1166 480h6v6h-6zM975 486h6v6h-6zM1172 486h6v6h-6zM981 492h6v6h-6zM1178 492h6v6h-6zM987 498h6v6h-6zM1184 498h6v6h-6zM993 504h6v6h-6zM1190 504h6v6h-6zM999 510h6v6h-6zM1196 510h6v6h-6zM1005 516h6v6h-6zM1011 522h6v6h-6zM1065 522h5v6h-5zM1214 522h6v6h-6zM1017 528h6v6h-6zM1070 528h6v6h-6zM1023 534h6v6h-6zM1076 534h6v6h-6zM1029 540h6v6h-6zM1082 540h6v6h-6zM1035 546h6v6h-6zM1088 546h6v6h-6zM1041 552h6v6h-6zM1094 552h6v6h-6zM1047 558h6v6h-6zM1100 558h6v6h-6zM1053 564h6v6h-6zM1106 564h6v6h-6zM1059 570h6v6h-6zM1112 570h6v6h-6zM1118 576h6v6h-6zM1124 582h6v6h-6zM1136 600h6v6h-6zM1256 600h6v6h-6zM1262 606h6v6h-6zM1268 612h6v6h-6zM1274 618h6v6h-6zM1280 624h6v6h-6zM1286 630h6v6h-6zM1292 636h6v6h-6zM1214 642h6v6h-6zM1298 642h6v6h-6zM1220 648h6v6h-6zM1304 648h6v6h-6zM1226 654h6v6h-6zM1310 654h6v6h-6zM1232 660h6v6h-6zM1316 660h6v6h-6zM1238 666h6v6h-6zM1322 666h6v6h-6zM1244 672h6v6h-6zM1328 672h6v6h-6zM1250 678h6v6h-6zM1334 678h6v6h-6zM1256 684h6v6h-6zM1340 684h6v6h-6zM1262 690h6v6h-6zM1346 690h6v6h-6zM1268 696h6v6h-6zM1352 696h6v6h-6zM1274 702h6v6h-6zM1280 708h6v6h-6zM1286 714h6v6h-6zM1292 720h6v6h-6zM1298 726h6v6h-6zM1304 732h6v6h-6zM1310 738h6v6h-6z"/><path fill="#f09c4c" d="M1082 169h78v6h-78zM1082 175h84v6h-84zM1082 181h90v6h-90zM1082 187h96v6h-96zM1088 193h96v6h-96zM1094 199h96v6h-96zM1100 205h96v6h-96zM1106 211h96v6h-96zM1112 217h96v6h-96zM1118 223h96v6h-96zM1136 283h36v6h-36zM1142 289h36v6h-36zM1148 295h36v6h-36zM1154 301h36v6h-36zM1160 307h36v6h-36zM1166 313h36v6h-36zM1172 319h36v6h-36zM1178 325h36v6h-36zM1184 331h36v6h-36zM1190 337h30v6h-30zM1196 343h24v6h-24zM1202 349h18v6h-18zM1208 355h12v6h-12zM1196 451h6v5h-6zM1202 456h6v6h-6zM1208 462h12v6h-12zM783 468h24v6h-24zM1214 468h6v6h-6zM783 474h30v6h-30zM783 480h36v6h-36zM783 486h42v6h-42zM783 492h48v6h-48zM783 498h54v6h-54zM783 504h60v6h-60zM783 510h60v6h-60zM783 516h60v6h-60zM783 522h60v6h-60zM897 522h6v6h-6zM783 528h60v6h-60zM897 528h12v6h-12zM783 534h60v6h-60zM897 534h18v6h-18zM783 540h60v6h-60zM897 540h24v6h-24zM789 546h54v6h-54zM897 546h30v6h-30zM795 552h48v6h-48zM897 552h36v6h-36zM801 558h42v6h-42zM903 558h36v6h-36zM1220 558h6v6h-6zM807 564h36v6h-36zM909 564h36v6h-36zM1226 564h6v6h-6zM813 570h30v6h-30zM915 570h36v6h-36zM1232 570h6v6h-6zM819 576h24v6h-24zM921 576h36v6h-36zM1238 576h6v6h-6zM825 582h18v6h-18zM927 582h36v6h-36zM1065 582h5v6h-5zM1244 582h6v6h-6zM831 588h12v6h-12zM933 588h36v6h-36zM1070 588h6v6h-6zM1250 588h6v6h-6zM837 594h6v6h-6zM939 594h36v6h-36zM1076 594h6v6h-6zM1256 594h6v6h-6zM945 600h30v6h-30zM1076 600h12v6h-12zM1298 600h6v6h-6zM1172 606h6v6h-6zM1304 606h6v6h-6zM1178 612h6v6h-6zM1310 612h6v6h-6zM1184 618h6v6h-6zM1316 618h6v6h-6zM1190 624h6v6h-6zM1322 624h6v6h-6zM1196 630h6v6h-6zM1328 630h6v6h-6zM1202 636h6v6h-6zM1334 636h6v6h-6zM1208 642h6v6h-6zM1340 642h6v6h-6zM1346 648h6v6h-6zM1352 654h6v6h-6zM1214 684h6v6h-6zM1220 690h6v6h-6zM1226 696h6v6h-6zM1232 702h6v6h-6zM1238 708h6v6h-6zM1244 714h6v6h-6zM1250 720h6v6h-6zM1256 726h6v6h-6zM1262 732h6v6h-6zM1268 738h6v6h-6z"/><path fill="#f0a04c" d="M1160 169h60v6h-60zM1166 175h54v6h-54zM1172 181h48v6h-48zM1178 187h42v6h-42zM1184 193h36v6h-36zM1190 199h30v6h-30zM1196 205h24v6h-24zM1202 211h18v6h-18zM1208 217h12v6h-12zM1214 223h6v6h-6zM1082 247h6v6h-6zM1082 253h12v6h-12zM1082 259h18v6h-18zM1082 265h24v6h-24zM1082 271h30v6h-30zM1082 277h36v6h-36zM1172 283h30v6h-30zM1178 289h30v6h-30zM1184 295h30v6h-30zM1190 301h30v6h-30zM1196 307h24v6h-24zM1202 313h18v6h-18zM1208 319h12v6h-12zM1214 325h6v6h-6zM1202 451h12v5h-12zM1208 456h12v6h-12zM861 468h36v6h-36zM867 474h30v6h-30zM873 480h24v6h-24zM879 486h18v6h-18zM885 492h12v6h-12zM891 498h6v6h-6zM783 546h6v6h-6zM783 552h12v6h-12zM1220 552h6v6h-6zM783 558h18v6h-18zM897 558h6v6h-6zM1226 558h6v6h-6zM783 564h24v6h-24zM897 564h12v6h-12zM1232 564h6v6h-6zM783 570h30v6h-30zM897 570h18v6h-18zM1238 570h6v6h-6zM783 576h36v6h-36zM897 576h24v6h-24zM1244 576h6v6h-6zM783 582h42v6h-42zM897 582h30v6h-30zM1250 582h6v6h-6zM783 588h48v6h-48zM903 588h30v6h-30zM1065 588h5v6h-5zM1256 588h6v6h-6zM783 594h54v6h-54zM909 594h30v6h-30zM1065 594h11v6h-11zM1262 594h6v6h-6zM783 600h60v6h-60zM915 600h30v6h-30zM1070 600h6v6h-6zM1304 600h6v6h-6zM1166 606h6v6h-6zM1310 606h6v6h-6zM1172 612h6v6h-6zM1316 612h6v6h-6zM1178 618h6v6h-6zM1322 618h6v6h-6zM1184 624h6v6h-6zM1328 624h6v6h-6zM1190 630h6v6h-6zM1334 630h6v6h-6zM1196 636h6v6h-6zM1340 636h6v6h-6zM1202 642h6v6h-6zM1346 642h6v6h-6zM1208 648h6v6h-6zM1352 648h6v6h-6zM1214 690h6v6h-6zM1220 696h6v6h-6zM1226 702h6v6h-6zM1232 708h6v6h-6zM1238 714h6v6h-6zM1244 720h6v6h-6zM1250 726h6v6h-6zM1256 732h6v6h-6zM1262 738h6v6h-6z"/><path fill="#f4bc64" d="M1220 169h18v6h-18zM1220 175h24v6h-24zM1220 181h30v6h-30zM1220 187h36v6h-36zM1220 193h42v6h-42zM1220 199h48v6h-48zM1220 205h54v6h-54zM1220 211h60v6h-60zM1220 217h66v6h-66zM1226 223h66v6h-66zM1220 397h6v6h-6zM1220 403h12v6h-12zM1220 409h18v6h-18zM1226 415h18v6h-18zM1232 421h18v6h-18zM1238 427h18v6h-18zM1244 433h18v6h-18zM1250 439h18v6h-18zM1256 445h18v6h-18zM1262 451h18v5h-18zM1268 456h18v6h-18zM1274 462h18v6h-18zM1280 468h18v6h-18zM1286 474h18v6h-18zM1292 480h18v6h-18zM1298 486h18v6h-18zM1304 492h18v6h-18zM1310 498h18v6h-18zM1316 504h18v6h-18zM1322 510h18v6h-18zM1328 516h18v6h-18zM1334 522h18v6h-18zM1340 528h18v6h-18zM1346 534h12v6h-12zM1352 540h6v6h-6zM783 606h54v6h-54zM1011 606h18v6h-18zM783 612h60v6h-60zM1017 612h18v6h-18zM783 618h60v6h-60zM1023 618h18v6h-18zM789 624h54v6h-54zM1029 624h18v6h-18zM795 630h48v6h-48zM1035 630h18v6h-18zM801 636h42v6h-42zM1041 636h18v6h-18zM807 642h36v6h-36zM1047 642h18v6h-18zM813 648h30v6h-30zM1053 648h17v6h-17zM819 654h24v6h-24zM1059 654h17v6h-17zM825 660h18v6h-18zM1065 660h17v6h-17zM831 666h12v6h-12zM1070 666h18v6h-18zM837 672h6v6h-6zM1076 672h18v6h-18zM1082 678h18v6h-18zM1088 684h18v6h-18zM1094 690h18v6h-18zM1100 696h18v6h-18zM1106 702h18v6h-18zM1112 708h18v6h-18zM1118 714h18v6h-18zM1124 720h18v6h-18zM1130 726h18v6h-18zM1136 732h18v6h-18zM1142 738h18v6h-18z"/><path fill="#f4bc68" d="M1238 169h102v6h-102zM1244 175h96v6h-96zM1250 181h90v6h-90zM1256 187h84v6h-84zM1262 193h78v6h-78zM1268 199h72v6h-72zM1274 205h66v6h-66zM1280 211h60v6h-60zM1286 217h54v6h-54zM1292 223h48v6h-48zM1220 355h6v6h-6zM1220 361h12v6h-12zM1220 367h18v6h-18zM1220 373h24v6h-24zM1220 379h30v6h-30zM1220 385h36v6h-36zM1220 391h42v6h-42zM1226 397h42v6h-42zM1232 403h42v6h-42zM1238 409h42v6h-42zM1244 415h42v6h-42zM1250 421h42v6h-42zM1256 427h42v6h-42zM1262 433h42v6h-42zM1268 439h42v6h-42zM1274 445h42v6h-42zM1280 451h42v5h-42zM1286 456h42v6h-42zM1292 462h42v6h-42zM1298 468h42v6h-42zM1304 474h42v6h-42zM1310 480h42v6h-42zM1316 486h42v6h-42zM1322 492h36v6h-36zM1328 498h30v6h-30zM1334 504h24v6h-24zM1340 510h18v6h-18zM1346 516h12v6h-12zM1352 522h6v6h-6zM969 606h42v6h-42zM975 612h42v6h-42zM981 618h42v6h-42zM783 624h6v6h-6zM987 624h42v6h-42zM783 630h12v6h-12zM993 630h42v6h-42zM783 636h18v6h-18zM999 636h42v6h-42zM783 642h24v6h-24zM1005 642h42v6h-42zM783 648h30v6h-30zM1011 648h42v6h-42zM783 654h36v6h-36zM1017 654h42v6h-42zM783 660h42v6h-42zM1023 660h42v6h-42zM783 666h48v6h-48zM1029 666h41v6h-41zM783 672h54v6h-54zM1035 672h41v6h-41zM783 678h60v6h-60zM1041 678h41v6h-41zM783 684h60v6h-60zM1047 684h41v6h-41zM783 690h60v6h-60zM1053 690h41v6h-41zM783 696h60v6h-60zM1059 696h41v6h-41zM783 702h60v6h-60zM1065 702h41v6h-41zM783 708h60v6h-60zM1070 708h42v6h-42zM783 714h60v6h-60zM1076 714h42v6h-42zM783 720h60v6h-60zM1082 720h42v6h-42zM1088 726h42v6h-42zM1094 732h42v6h-42zM1100 738h42v6h-42z"/><path fill="#f4c474" d="M1340 169h12v6h-12zM1340 175h18v6h-18zM1340 181h18v6h-18zM1340 187h18v6h-18zM1340 193h18v6h-18zM1340 199h18v6h-18zM1340 205h18v6h-18zM1340 211h18v6h-18zM1340 217h18v6h-18zM1340 223h18v6h-18zM1244 229h114v6h-114zM1250 235h108v6h-108zM1256 241h102v6h-102zM1262 247h96v6h-96zM1268 253h90v6h-90zM1274 259h84v6h-84zM1280 265h78v6h-78zM1286 271h72v6h-72zM1292 277h66v6h-66zM1298 283h60v6h-60zM1304 289h54v6h-54zM1310 295h48v6h-48zM1316 301h42v6h-42zM1322 307h36v6h-36zM1328 313h30v6h-30zM1334 319h24v6h-24zM1340 325h18v6h-18zM1346 331h12v6h-12zM1352 337h6v6h-6zM843 630h6v6h-6zM843 636h12v6h-12zM843 642h18v6h-18zM843 648h24v6h-24zM843 654h30v6h-30zM843 660h36v6h-36zM843 666h42v6h-42zM843 672h48v6h-48zM843 678h54v6h-54zM843 684h60v6h-60zM843 690h66v6h-66zM843 696h72v6h-72zM843 702h78v6h-78zM843 708h84v6h-84zM843 714h90v6h-90zM843 720h96v6h-96zM783 726h162v6h-162zM783 732h168v6h-168zM789 738h168v6h-168z"/><path fill="#f4c478" d="M1352 169h6v6h-6zM783 738h6v6h-6z"/><path fill="#cc4428" d="M843 175h6v6h-6zM843 181h12v6h-12zM849 187h12v6h-12zM855 193h12v6h-12zM861 199h12v6h-12zM867 205h12v6h-12zM873 211h12v6h-12zM879 217h12v6h-12zM885 223h12v6h-12zM789 229h12v6h-12zM891 229h6v6h-6zM795 235h12v6h-12zM801 241h12v6h-12zM807 247h12v6h-12zM813 253h12v6h-12zM819 259h12v6h-12zM825 265h12v6h-12zM831 271h12v6h-12zM837 277h12v6h-12zM945 283h6v6h-6zM951 289h6v6h-6zM957 295h6v6h-6zM963 301h6v6h-6zM969 307h6v6h-6zM975 313h6v6h-6zM981 319h6v6h-6zM987 325h6v6h-6zM897 331h6v6h-6zM993 331h6v6h-6zM903 337h6v6h-6zM999 337h6v6h-6zM909 343h6v6h-6zM1005 343h6v6h-6zM915 349h6v6h-6zM1011 349h6v6h-6zM921 355h6v6h-6zM1017 355h6v6h-6zM927 361h6v6h-6zM1023 361h6v6h-6zM933 367h6v6h-6zM1029 367h6v6h-6zM939 373h6v6h-6zM1035 373h6v6h-6zM945 379h6v6h-6zM1041 379h6v6h-6zM951 385h6v6h-6zM1047 385h6v6h-6zM957 391h6v6h-6zM1053 391h6v6h-6zM963 397h6v6h-6zM1059 397h6v6h-6zM969 403h6v6h-6zM975 409h6v6h-6zM981 415h6v6h-6zM987 421h6v6h-6zM993 427h6v6h-6zM999 433h6v6h-6zM1005 439h6v6h-6zM1011 445h6v6h-6z"/><path fill="#cc4024" d="M843 187h6v6h-6zM843 193h12v6h-12zM849 199h12v6h-12zM855 205h12v6h-12zM861 211h12v6h-12zM867 217h12v6h-12zM873 223h12v6h-12zM801 229h12v6h-12zM879 229h12v6h-12zM807 235h12v6h-12zM885 235h12v6h-12zM813 241h12v6h-12zM891 241h6v6h-6zM819 247h12v6h-12zM825 253h12v6h-12zM831 259h12v6h-12zM837 265h12v6h-12zM843 271h12v6h-12zM849 277h12v6h-12zM939 283h6v6h-6zM945 289h6v6h-6zM951 295h6v6h-6zM957 301h6v6h-6zM963 307h6v6h-6zM969 313h6v6h-6zM975 319h6v6h-6zM897 325h6v6h-6zM981 325h6v6h-6zM903 331h6v6h-6zM987 331h6v6h-6zM909 337h6v6h-6zM993 337h6v6h-6zM915 343h6v6h-6zM999 343h6v6h-6zM921 349h6v6h-6zM1005 349h6v6h-6zM927 355h6v6h-6zM1011 355h6v6h-6zM933 361h6v6h-6zM1017 361h6v6h-6zM939 367h6v6h-6zM1023 367h6v6h-6zM945 373h6v6h-6zM1029 373h6v6h-6zM951 379h6v6h-6zM1035 379h6v6h-6zM957 385h6v6h-6zM1041 385h6v6h-6zM963 391h6v6h-6zM1047 391h6v6h-6zM969 397h6v6h-6zM1053 397h6v6h-6zM975 403h6v6h-6zM1059 403h6v6h-6zM981 409h6v6h-6zM987 415h6v6h-6zM993 421h6v6h-6zM999 427h6v6h-6zM1005 433h6v6h-6zM1070 433h6v6h-6zM1011 439h6v6h-6zM1076 439h6v6h-6zM1017 445h6v6h-6zM1082 445h6v6h-6zM1047 456h6v6h-6zM1053 462h6v6h-6zM1059 468h6v6h-6zM1130 504h6v6h-6zM1136 510h6v6h-6zM1118 516h6v6h-6zM1124 522h6v6h-6zM1214 582h6v6h-6zM1196 600h6v6h-6z"/><path fill="#f0984c" d="M1082 193h6v6h-6zM1082 199h12v6h-12zM1082 205h18v6h-18zM1088 211h18v6h-18zM1094 217h18v6h-18zM1100 223h18v6h-18zM1130 283h6v6h-6zM1136 289h6v6h-6zM1142 295h6v6h-6zM1148 301h6v6h-6zM1154 307h6v6h-6zM1160 313h6v6h-6zM1166 319h6v6h-6zM1172 325h6v6h-6zM1178 331h6v6h-6zM1184 337h6v6h-6zM1190 343h6v6h-6zM1196 349h6v6h-6zM1202 355h6v6h-6zM1208 361h12v6h-12zM1214 367h6v6h-6zM1190 451h6v5h-6zM1196 456h6v6h-6zM1202 462h6v6h-6zM807 468h18v6h-18zM1208 468h6v6h-6zM813 474h18v6h-18zM819 480h18v6h-18zM825 486h18v6h-18zM831 492h12v6h-12zM837 498h6v6h-6zM897 516h6v6h-6zM903 522h6v6h-6zM909 528h6v6h-6zM915 534h6v6h-6zM921 540h6v6h-6zM927 546h6v6h-6zM933 552h6v6h-6zM939 558h6v6h-6zM945 564h6v6h-6zM951 570h6v6h-6zM957 576h6v6h-6zM1065 576h5v6h-5zM963 582h6v6h-6zM1070 582h6v6h-6zM969 588h6v6h-6zM1076 588h6v6h-6zM975 594h6v6h-6zM1082 594h6v6h-6zM975 600h12v6h-12zM1292 600h6v6h-6zM1298 606h6v6h-6zM1304 612h6v6h-6zM1310 618h6v6h-6zM1316 624h6v6h-6zM1322 630h6v6h-6zM1328 636h6v6h-6zM1334 642h6v6h-6zM1340 648h6v6h-6zM1346 654h6v6h-6zM1352 660h6v6h-6zM1214 678h6v6h-6zM1220 684h6v6h-6zM1226 690h6v6h-6zM1232 696h6v6h-6zM1238 702h6v6h-6zM1244 708h6v6h-6zM1250 714h6v6h-6zM1256 720h6v6h-6zM1262 726h6v6h-6zM1268 732h6v6h-6zM1274 738h6v6h-6z"/><path fill="#c83c24" d="M843 199h6v6h-6zM849 205h6v6h-6zM855 211h6v6h-6zM861 217h6v6h-6zM867 223h6v6h-6zM813 229h6v6h-6zM873 229h6v6h-6zM819 235h6v6h-6zM879 235h6v6h-6zM825 241h6v6h-6zM885 241h6v6h-6zM831 247h6v6h-6zM891 247h6v6h-6zM837 253h6v6h-6zM843 259h6v6h-6zM849 265h6v6h-6zM855 271h6v6h-6zM861 277h6v6h-6z"/><path fill="#dc5c30" d="M897 199h6v6h-6zM897 205h12v6h-12zM897 211h18v6h-18zM897 217h24v6h-24zM903 223h24v6h-24zM909 229h24v6h-24zM915 235h24v6h-24zM921 241h24v6h-24zM927 247h24v6h-24zM933 253h24v6h-24zM939 259h24v6h-24zM945 265h24v6h-24zM951 271h24v6h-24zM957 277h24v6h-24zM813 283h24v6h-24zM999 283h6v6h-6zM819 289h24v6h-24zM1005 289h6v6h-6zM825 295h24v6h-24zM1011 295h6v6h-6zM831 301h24v6h-24zM1017 301h6v6h-6zM837 307h24v6h-24zM1023 307h6v6h-6zM843 313h24v6h-24zM1029 313h6v6h-6zM849 319h24v6h-24zM1035 319h6v6h-6zM855 325h24v6h-24zM1041 325h6v6h-6zM861 331h24v6h-24zM1047 331h6v6h-6zM867 337h24v6h-24zM1053 337h6v6h-6zM873 343h24v6h-24zM1059 343h6v6h-6zM879 349h18v6h-18zM885 355h12v6h-12zM891 361h6v6h-6zM897 385h6v6h-6zM903 391h6v6h-6zM909 397h6v6h-6zM915 403h6v6h-6zM1065 403h5v6h-5zM921 409h6v6h-6zM1070 409h6v6h-6zM927 415h6v6h-6zM1076 415h6v6h-6zM933 421h6v6h-6zM1082 421h6v6h-6zM939 427h6v6h-6zM1088 427h6v6h-6zM945 433h6v6h-6zM1106 433h6v6h-6zM951 439h6v6h-6zM1112 439h6v6h-6zM957 445h6v6h-6zM1118 445h6v6h-6zM1017 451h6v5h-6zM1094 451h6v5h-6zM1023 456h6v6h-6zM1100 456h6v6h-6zM1029 462h6v6h-6zM1106 462h6v6h-6zM1035 468h6v6h-6zM1112 468h6v6h-6zM1041 474h6v6h-6zM1118 474h6v6h-6zM1065 480h5v6h-5zM1124 480h6v6h-6zM1070 486h6v6h-6zM1047 492h6v6h-6zM1076 492h6v6h-6zM1130 492h6v6h-6zM1053 498h6v6h-6zM1082 498h6v6h-6zM1136 498h6v6h-6zM1059 504h6v6h-6zM1088 504h6v6h-6zM1142 504h6v6h-6zM1094 510h6v6h-6zM1148 510h6v6h-6zM1106 516h6v6h-6zM1160 516h6v6h-6zM1112 522h6v6h-6zM1166 522h6v6h-6zM1118 528h6v6h-6zM1172 528h6v6h-6zM1124 534h6v6h-6zM1178 534h6v6h-6zM1184 540h6v6h-6zM1130 546h6v6h-6zM1190 546h6v6h-6zM1136 552h6v6h-6zM1196 552h6v6h-6zM1142 558h6v6h-6zM1202 558h6v6h-6zM1148 564h6v6h-6zM1208 564h6v6h-6zM1154 570h6v6h-6zM1160 576h6v6h-6zM1166 582h6v6h-6zM1172 588h6v6h-6zM1178 594h6v6h-6z"/><path fill="#ec7c3c" d="M1065 199h5v6h-5zM1065 205h11v6h-11zM1065 211h17v6h-17zM1070 217h12v6h-12zM1076 223h6v6h-6zM813 451h18v5h-18zM819 456h18v6h-18zM825 462h18v6h-18z"/><path fill="#c43820" d="M843 205h6v6h-6zM849 211h6v6h-6zM855 217h6v6h-6zM861 223h6v6h-6zM819 229h6v6h-6zM867 229h6v6h-6zM825 235h6v6h-6zM873 235h6v6h-6zM831 241h6v6h-6zM879 241h6v6h-6zM837 247h6v6h-6zM885 247h6v6h-6zM843 253h6v6h-6zM891 253h6v6h-6zM849 259h6v6h-6zM855 265h6v6h-6zM861 271h6v6h-6zM867 277h6v6h-6z"/><path fill="#b83020" d="M843 211h6v6h-6zM849 217h6v6h-6zM855 223h6v6h-6zM825 229h6v6h-6zM861 229h6v6h-6zM831 235h6v6h-6zM867 235h6v6h-6zM837 241h6v6h-6zM873 241h6v6h-6zM843 247h6v6h-6zM879 247h6v6h-6zM849 253h6v6h-6zM885 253h6v6h-6zM855 259h6v6h-6zM891 259h6v6h-6zM861 265h6v6h-6zM867 271h6v6h-6zM873 277h6v6h-6z"/><path fill="#f09848" d="M1082 211h6v6h-6zM1082 217h12v6h-12zM1082 223h18v6h-18zM1124 283h6v6h-6zM1130 289h6v6h-6zM1136 295h6v6h-6zM1142 301h6v6h-6zM1148 307h6v6h-6zM1154 313h6v6h-6zM1160 319h6v6h-6zM1166 325h6v6h-6zM1172 331h6v6h-6zM1178 337h6v6h-6zM1184 343h6v6h-6zM1190 349h6v6h-6zM1196 355h6v6h-6zM1202 361h6v6h-6zM1208 367h6v6h-6zM1214 373h6v6h-6zM825 468h18v6h-18zM831 474h12v6h-12zM1214 474h6v6h-6zM837 480h6v6h-6zM897 510h6v6h-6zM903 516h6v6h-6zM909 522h6v6h-6zM915 528h6v6h-6zM921 534h6v6h-6zM927 540h6v6h-6zM933 546h6v6h-6zM939 552h6v6h-6zM945 558h6v6h-6zM951 564h6v6h-6zM1220 564h6v6h-6zM957 570h6v6h-6zM1226 570h6v6h-6zM963 576h6v6h-6zM1232 576h6v6h-6zM969 582h6v6h-6zM1238 582h6v6h-6zM975 588h6v6h-6zM1244 588h6v6h-6zM981 594h6v6h-6zM1250 594h6v6h-6zM987 600h6v6h-6zM1088 600h6v6h-6zM1178 606h6v6h-6zM1184 612h6v6h-6zM1190 618h6v6h-6zM1196 624h6v6h-6zM1202 630h6v6h-6zM1208 636h6v6h-6z"/><path fill="#a8241c" d="M843 217h6v6h-6zM849 223h6v6h-6zM831 229h6v6h-6zM855 229h6v6h-6zM837 235h6v6h-6zM861 235h6v6h-6zM843 241h6v6h-6zM867 241h6v6h-6zM849 247h6v6h-6zM873 247h6v6h-6zM855 253h6v6h-6zM879 253h6v6h-6zM861 259h6v6h-6zM885 259h6v6h-6zM867 265h6v6h-6zM891 265h6v6h-6zM873 271h6v6h-6zM879 277h6v6h-6zM1065 439h5v6h-5zM1070 445h6v6h-6zM1053 451h6v5h-6zM1059 456h6v6h-6z"/><path fill="#e87c3c" d="M1065 217h5v6h-5zM1065 223h11v6h-11zM1065 331h5v6h-5zM1065 337h11v6h-11zM1070 343h12v6h-12zM1076 349h12v6h-12zM1082 355h12v6h-12zM1088 361h12v6h-12zM1094 367h12v6h-12zM1100 373h12v6h-12zM1106 379h12v6h-12zM1112 385h12v6h-12zM1118 391h12v6h-12zM1124 397h12v6h-12zM1130 403h12v6h-12zM1136 409h12v6h-12zM1142 415h12v6h-12zM1148 421h12v6h-12zM1154 427h12v6h-12zM1160 433h12v6h-12zM1166 439h12v6h-12zM1172 445h12v6h-12zM831 451h12v5h-12zM945 451h12v5h-12zM1130 451h6v5h-6zM837 456h6v6h-6zM951 456h12v6h-12zM1136 456h6v6h-6zM957 462h12v6h-12zM1142 462h6v6h-6zM963 468h12v6h-12zM1148 468h6v6h-6zM969 474h12v6h-12zM1154 474h6v6h-6zM975 480h12v6h-12zM1160 480h6v6h-6zM981 486h12v6h-12zM1166 486h6v6h-6zM987 492h12v6h-12zM1172 492h6v6h-6zM993 498h12v6h-12zM1178 498h6v6h-6zM999 504h12v6h-12zM1184 504h6v6h-6zM1005 510h12v6h-12zM1190 510h6v6h-6zM1011 516h12v6h-12zM1065 516h5v6h-5zM1208 516h6v6h-6zM1017 522h12v6h-12zM1070 522h6v6h-6zM1023 528h12v6h-12zM1076 528h6v6h-6zM1214 528h6v6h-6zM1029 534h12v6h-12zM1082 534h6v6h-6zM1035 540h12v6h-12zM1088 540h6v6h-6zM1041 546h12v6h-12zM1094 546h6v6h-6zM1047 552h12v6h-12zM1100 552h6v6h-6zM1053 558h12v6h-12zM1106 558h6v6h-6zM1059 564h6v6h-6zM1112 564h6v6h-6zM1118 570h6v6h-6zM1124 576h6v6h-6zM1220 588h6v6h-6zM1130 594h6v6h-6zM1226 594h6v6h-6zM1142 600h6v6h-6zM1202 606h6v6h-6zM1208 612h6v6h-6z"/><path fill="#841414" d="M843 223h6v6h-6zM837 229h6v6h-6zM849 229h6v6h-6zM843 235h6v6h-6zM855 235h6v6h-6zM849 241h6v6h-6zM861 241h6v6h-6zM855 247h6v6h-6zM867 247h6v6h-6zM861 253h6v6h-6zM873 253h6v6h-6zM867 259h6v6h-6zM879 259h6v6h-6zM873 265h6v6h-6zM885 265h6v6h-6zM879 271h6v6h-6zM891 271h6v6h-6zM885 277h6v6h-6z"/><path fill="#d85c30" d="M897 223h6v6h-6zM903 229h6v6h-6zM909 235h6v6h-6zM915 241h6v6h-6zM921 247h6v6h-6zM927 253h6v6h-6zM933 259h6v6h-6zM939 265h6v6h-6zM945 271h6v6h-6zM951 277h6v6h-6zM837 283h6v6h-6zM993 283h6v6h-6zM843 289h6v6h-6zM999 289h6v6h-6zM849 295h6v6h-6zM1005 295h6v6h-6zM855 301h6v6h-6zM1011 301h6v6h-6zM861 307h6v6h-6zM1017 307h6v6h-6zM867 313h6v6h-6zM1023 313h6v6h-6zM873 319h6v6h-6zM1029 319h6v6h-6zM879 325h6v6h-6zM1035 325h6v6h-6zM885 331h6v6h-6zM1041 331h6v6h-6zM891 337h6v6h-6zM1047 337h6v6h-6zM1053 343h6v6h-6zM1059 349h6v6h-6zM897 379h6v6h-6zM903 385h6v6h-6zM909 391h6v6h-6zM915 397h6v6h-6zM921 403h6v6h-6zM927 409h6v6h-6zM933 415h6v6h-6zM939 421h6v6h-6zM945 427h6v6h-6zM951 433h6v6h-6zM957 439h6v6h-6zM963 445h6v6h-6zM1232 600h6v6h-6zM1238 606h6v6h-6zM1244 612h6v6h-6zM1214 618h6v6h-6zM1250 618h6v6h-6zM1220 624h6v6h-6zM1256 624h6v6h-6zM1226 630h6v6h-6zM1262 630h6v6h-6zM1232 636h6v6h-6zM1268 636h6v6h-6zM1238 642h6v6h-6zM1274 642h6v6h-6zM1244 648h6v6h-6zM1280 648h6v6h-6zM1250 654h6v6h-6zM1286 654h6v6h-6zM1256 660h6v6h-6zM1292 660h6v6h-6zM1262 666h6v6h-6zM1298 666h6v6h-6zM1268 672h6v6h-6zM1304 672h6v6h-6zM1274 678h6v6h-6zM1310 678h6v6h-6zM1280 684h6v6h-6zM1316 684h6v6h-6zM1286 690h6v6h-6zM1322 690h6v6h-6zM1292 696h6v6h-6zM1328 696h6v6h-6zM1298 702h6v6h-6zM1334 702h6v6h-6zM1304 708h6v6h-6zM1340 708h6v6h-6zM1310 714h6v6h-6zM1346 714h6v6h-6zM1316 720h6v6h-6zM1352 720h6v6h-6zM1322 726h6v6h-6zM1328 732h6v6h-6zM1334 738h6v6h-6z"/><path fill="#f0b864" d="M1220 223h6v6h-6zM1220 415h6v6h-6zM1220 421h12v6h-12zM1220 427h18v6h-18zM1220 433h24v6h-24zM1226 439h24v6h-24zM1232 445h24v6h-24zM1238 451h24v5h-24zM1244 456h24v6h-24zM1250 462h24v6h-24zM1256 468h24v6h-24zM1262 474h24v6h-24zM1268 480h24v6h-24zM1274 486h24v6h-24zM1280 492h24v6h-24zM1286 498h24v6h-24zM1292 504h24v6h-24zM1298 510h24v6h-24zM1304 516h24v6h-24zM1310 522h24v6h-24zM1316 528h24v6h-24zM1322 534h24v6h-24zM1328 540h24v6h-24zM1334 546h24v6h-24zM1340 552h18v6h-18zM1346 558h12v6h-12zM1352 564h6v6h-6zM837 606h6v6h-6zM1029 606h24v6h-24zM1035 612h24v6h-24zM1041 618h24v6h-24zM1047 624h23v6h-23zM1053 630h23v6h-23zM1059 636h23v6h-23zM1065 642h23v6h-23zM1070 648h24v6h-24zM1076 654h24v6h-24zM1082 660h24v6h-24zM1088 666h24v6h-24zM1094 672h24v6h-24zM1100 678h24v6h-24zM1106 684h24v6h-24zM1112 690h24v6h-24zM1118 696h24v6h-24zM1124 702h24v6h-24zM1130 708h24v6h-24zM1136 714h24v6h-24zM1142 720h24v6h-24zM1148 726h24v6h-24zM1154 732h24v6h-24zM1160 738h24v6h-24z"/><path fill="#d85830" d="M897 229h6v6h-6zM897 235h12v6h-12zM903 241h12v6h-12zM909 247h12v6h-12zM915 253h12v6h-12zM921 259h12v6h-12zM927 265h12v6h-12zM933 271h12v6h-12zM939 277h12v6h-12zM843 283h12v6h-12zM987 283h6v6h-6zM849 289h12v6h-12zM993 289h6v6h-6zM855 295h12v6h-12zM999 295h6v6h-6zM861 301h12v6h-12zM1005 301h6v6h-6zM867 307h12v6h-12zM1011 307h6v6h-6zM873 313h12v6h-12zM1017 313h6v6h-6zM879 319h12v6h-12zM1023 319h6v6h-6zM885 325h12v6h-12zM1029 325h6v6h-6zM891 331h6v6h-6zM1035 331h6v6h-6zM1041 337h6v6h-6zM1047 343h6v6h-6zM1053 349h6v6h-6zM1059 355h6v6h-6zM897 373h6v6h-6zM903 379h6v6h-6zM909 385h6v6h-6zM915 391h6v6h-6zM921 397h6v6h-6zM927 403h6v6h-6zM933 409h6v6h-6zM1065 409h5v6h-5zM939 415h6v6h-6zM1070 415h6v6h-6zM945 421h6v6h-6zM1076 421h6v6h-6zM951 427h6v6h-6zM1082 427h6v6h-6zM957 433h6v6h-6zM1100 433h6v6h-6zM963 439h6v6h-6zM1106 439h6v6h-6zM969 445h6v6h-6zM1112 445h6v6h-6zM1023 451h6v5h-6zM1029 456h6v6h-6zM1035 462h6v6h-6zM1041 468h6v6h-6zM1047 486h6v6h-6zM1053 492h6v6h-6zM1059 498h6v6h-6z"/><path fill="#ec8840" d="M1065 229h17v6h-17zM1070 235h12v6h-12zM1076 241h6v6h-6zM1065 295h5v6h-5zM1065 301h11v6h-11zM1070 307h12v6h-12zM1076 313h12v6h-12zM1082 319h12v6h-12zM1088 325h12v6h-12zM1094 331h12v6h-12zM1100 337h12v6h-12zM1106 343h12v6h-12zM1112 349h12v6h-12zM1118 355h12v6h-12zM1124 361h12v6h-12zM1130 367h12v6h-12zM1136 373h12v6h-12zM1142 379h12v6h-12zM1148 385h12v6h-12zM1154 391h12v6h-12zM1160 397h12v6h-12zM1166 403h12v6h-12zM1172 409h12v6h-12zM1178 415h12v6h-12zM1184 421h12v6h-12zM1190 427h12v6h-12zM1196 433h12v6h-12zM1202 439h12v6h-12zM1208 445h12v6h-12zM843 451h6v5h-6zM909 451h12v5h-12zM1148 451h6v5h-6zM843 456h12v6h-12zM915 456h12v6h-12zM1154 456h6v6h-6zM843 462h18v6h-18zM921 462h12v6h-12zM1160 462h6v6h-6zM927 468h12v6h-12zM1166 468h6v6h-6zM933 474h12v6h-12zM1172 474h6v6h-6zM939 480h12v6h-12zM1178 480h6v6h-6zM945 486h12v6h-12zM1184 486h6v6h-6zM951 492h12v6h-12zM1190 492h6v6h-6zM957 498h12v6h-12zM1196 498h6v6h-6zM963 504h12v6h-12zM1202 504h6v6h-6zM969 510h12v6h-12zM1208 510h12v6h-12zM975 516h12v6h-12zM981 522h12v6h-12zM987 528h12v6h-12zM993 534h12v6h-12zM1065 534h5v6h-5zM999 540h12v6h-12zM1070 540h6v6h-6zM1005 546h12v6h-12zM1076 546h6v6h-6zM1011 552h12v6h-12zM1082 552h6v6h-6zM1017 558h12v6h-12zM1088 558h6v6h-6zM1023 564h12v6h-12zM1094 564h6v6h-6zM1029 570h12v6h-12zM1100 570h6v6h-6zM1035 576h12v6h-12zM1106 576h6v6h-6zM1041 582h12v6h-12zM1112 582h6v6h-6zM1047 588h12v6h-12zM1118 588h6v6h-6zM1053 594h12v6h-12zM1124 594h6v6h-6zM1059 600h6v6h-6zM1124 600h6v6h-6z"/><path fill="#f0a050" d="M1082 229h6v6h-6zM1082 235h12v6h-12zM1082 241h18v6h-18zM1088 247h18v6h-18zM1094 253h18v6h-18zM1100 259h18v6h-18zM1106 265h18v6h-18zM1112 271h18v6h-18zM1118 277h18v6h-18zM1202 283h12v6h-12zM1208 289h12v6h-12zM1214 295h6v6h-6zM1214 451h6v5h-6zM843 468h18v6h-18zM849 474h18v6h-18zM855 480h18v6h-18zM861 486h18v6h-18zM867 492h18v6h-18zM873 498h18v6h-18zM879 504h18v6h-18zM885 510h12v6h-12zM891 516h6v6h-6zM1220 546h6v6h-6zM1226 552h6v6h-6zM1232 558h6v6h-6zM1238 564h6v6h-6zM1244 570h6v6h-6zM1250 576h6v6h-6zM1256 582h6v6h-6zM897 588h6v6h-6zM1262 588h6v6h-6zM897 594h12v6h-12zM1268 594h6v6h-6zM903 600h12v6h-12zM1065 600h5v6h-5zM1310 600h6v6h-6zM1160 606h6v6h-6zM1316 606h6v6h-6zM1166 612h6v6h-6zM1322 612h6v6h-6zM1172 618h6v6h-6zM1328 618h6v6h-6zM1178 624h6v6h-6zM1334 624h6v6h-6zM1184 630h6v6h-6zM1340 630h6v6h-6zM1190 636h6v6h-6zM1346 636h6v6h-6zM1196 642h6v6h-6zM1352 642h6v6h-6zM1202 648h6v6h-6zM1208 654h6v6h-6zM1214 696h6v6h-6zM1220 702h6v6h-6zM1226 708h6v6h-6zM1232 714h6v6h-6zM1238 720h6v6h-6zM1244 726h6v6h-6zM1250 732h6v6h-6zM1256 738h6v6h-6z"/><path fill="#f0a450" d="M1088 229h78v6h-78zM1094 235h78v6h-78zM1100 241h78v6h-78zM1106 247h78v6h-78zM1112 253h78v6h-78zM1118 259h78v6h-78zM1124 265h78v6h-78zM1130 271h78v6h-78zM1136 277h78v6h-78zM1214 283h6v6h-6zM843 474h6v6h-6zM843 480h12v6h-12zM843 486h18v6h-18zM843 492h24v6h-24zM843 498h30v6h-30zM843 504h36v6h-36zM843 510h42v6h-42zM843 516h48v6h-48zM843 522h54v6h-54zM843 528h54v6h-54zM843 534h54v6h-54zM1220 534h6v6h-6zM843 540h54v6h-54zM1220 540h12v6h-12zM843 546h54v6h-54zM1226 546h12v6h-12zM849 552h48v6h-48zM1232 552h12v6h-12zM855 558h42v6h-42zM1238 558h12v6h-12zM861 564h36v6h-36zM1244 564h12v6h-12zM867 570h30v6h-30zM1250 570h12v6h-12zM873 576h24v6h-24zM1256 576h12v6h-12zM879 582h18v6h-18zM1262 582h12v6h-12zM885 588h12v6h-12zM1268 588h12v6h-12zM891 594h6v6h-6zM1274 594h12v6h-12zM897 600h6v6h-6zM1316 600h6v6h-6zM1148 606h12v6h-12zM1322 606h6v6h-6zM1154 612h12v6h-12zM1328 612h6v6h-6zM1160 618h12v6h-12zM1334 618h6v6h-6zM1166 624h12v6h-12zM1340 624h6v6h-6zM1172 630h12v6h-12zM1346 630h6v6h-6zM1178 636h12v6h-12zM1352 636h6v6h-6zM1184 642h12v6h-12zM1190 648h12v6h-12zM1196 654h12v6h-12zM1202 660h12v6h-12zM1208 666h6v6h-6zM1214 702h6v6h-6zM1220 708h6v6h-6zM1226 714h6v6h-6zM1232 720h6v6h-6zM1238 726h6v6h-6zM1244 732h6v6h-6zM1250 738h6v6h-6z"/><path fill="#f0a850" d="M1166 229h24v6h-24zM1172 235h24v6h-24zM1178 241h24v6h-24zM1184 247h24v6h-24zM1190 253h24v6h-24zM1196 259h24v6h-24zM1202 265h18v6h-18zM1208 271h12v6h-12zM1214 277h6v6h-6zM843 552h6v6h-6zM843 558h12v6h-12zM843 564h18v6h-18zM843 570h24v6h-24zM849 576h24v6h-24zM855 582h24v6h-24zM861 588h24v6h-24zM867 594h24v6h-24zM873 600h24v6h-24zM1322 600h6v6h-6zM1328 606h6v6h-6zM1334 612h6v6h-6zM1340 618h6v6h-6zM1346 624h6v6h-6zM1352 630h6v6h-6zM1214 708h6v6h-6zM1220 714h6v6h-6zM1226 720h6v6h-6zM1232 726h6v6h-6zM1238 732h6v6h-6zM1244 738h6v6h-6z"/><path fill="#f0a854" d="M1190 229h30v6h-30zM1196 235h24v6h-24zM1202 241h18v6h-18zM1208 247h12v6h-12zM1214 253h6v6h-6zM1220 522h6v6h-6zM1220 528h12v6h-12zM1226 534h12v6h-12zM1232 540h12v6h-12zM1238 546h12v6h-12zM1244 552h12v6h-12zM1250 558h12v6h-12zM1256 564h12v6h-12zM1262 570h12v6h-12zM843 576h6v6h-6zM1268 576h12v6h-12zM843 582h12v6h-12zM1274 582h12v6h-12zM843 588h18v6h-18zM1280 588h12v6h-12zM843 594h24v6h-24zM1286 594h12v6h-12zM843 600h30v6h-30zM1328 600h6v6h-6zM1136 606h12v6h-12zM1334 606h6v6h-6zM1142 612h12v6h-12zM1340 612h6v6h-6zM1148 618h12v6h-12zM1346 618h6v6h-6zM1154 624h12v6h-12zM1352 624h6v6h-6zM1160 630h12v6h-12zM1166 636h12v6h-12zM1172 642h12v6h-12zM1178 648h12v6h-12zM1184 654h12v6h-12zM1190 660h12v6h-12zM1196 666h12v6h-12zM1202 672h12v6h-12zM1208 678h6v6h-6zM1214 714h6v6h-6zM1220 720h6v6h-6zM1226 726h6v6h-6zM1232 732h6v6h-6zM1238 738h6v6h-6z"/><path fill="#f4c470" d="M1220 229h24v6h-24zM1220 235h30v6h-30zM1226 241h30v6h-30zM1232 247h30v6h-30zM1238 253h30v6h-30zM1244 259h30v6h-30zM1250 265h30v6h-30zM1256 271h30v6h-30zM1262 277h30v6h-30zM1268 283h30v6h-30zM1274 289h30v6h-30zM1280 295h30v6h-30zM1286 301h30v6h-30zM1292 307h30v6h-30zM1298 313h30v6h-30zM1304 319h30v6h-30zM1310 325h30v6h-30zM1316 331h30v6h-30zM1322 337h30v6h-30zM1328 343h30v6h-30zM1334 349h24v6h-24zM1340 355h18v6h-18zM1346 361h12v6h-12zM1352 367h6v6h-6zM843 606h12v6h-12zM843 612h18v6h-18zM843 618h24v6h-24zM843 624h30v6h-30zM849 630h30v6h-30zM855 636h30v6h-30zM861 642h30v6h-30zM867 648h30v6h-30zM873 654h30v6h-30zM879 660h30v6h-30zM885 666h30v6h-30zM891 672h30v6h-30zM897 678h30v6h-30zM903 684h30v6h-30zM909 690h30v6h-30zM915 696h30v6h-30zM921 702h30v6h-30zM927 708h30v6h-30zM933 714h30v6h-30zM939 720h30v6h-30zM945 726h30v6h-30zM951 732h30v6h-30zM957 738h30v6h-30z"/><path fill="#ec8440" d="M1065 235h5v6h-5zM1065 241h11v6h-11zM1065 247h17v6h-17zM1065 253h17v6h-17zM1065 259h17v6h-17zM1065 265h17v6h-17zM1065 271h17v6h-17zM1065 277h17v6h-17zM1065 307h5v6h-5zM1065 313h11v6h-11zM1070 319h12v6h-12zM1076 325h12v6h-12zM1082 331h12v6h-12zM1088 337h12v6h-12zM1094 343h12v6h-12zM1100 349h12v6h-12zM1106 355h12v6h-12zM1112 361h12v6h-12zM1118 367h12v6h-12zM1124 373h12v6h-12zM1130 379h12v6h-12zM1136 385h12v6h-12zM1142 391h12v6h-12zM1148 397h12v6h-12zM1154 403h12v6h-12zM1160 409h12v6h-12zM1166 415h12v6h-12zM1172 421h12v6h-12zM1178 427h12v6h-12zM1184 433h12v6h-12zM1190 439h12v6h-12zM1196 445h12v6h-12zM849 451h48v5h-48zM921 451h12v5h-12zM1142 451h6v5h-6zM855 456h42v6h-42zM927 456h12v6h-12zM1148 456h6v6h-6zM861 462h36v6h-36zM933 462h12v6h-12zM1154 462h6v6h-6zM939 468h12v6h-12zM1160 468h6v6h-6zM945 474h12v6h-12zM1166 474h6v6h-6zM951 480h12v6h-12zM1172 480h6v6h-6zM957 486h12v6h-12zM1178 486h6v6h-6zM963 492h12v6h-12zM1184 492h6v6h-6zM969 498h12v6h-12zM1190 498h6v6h-6zM975 504h12v6h-12zM1196 504h6v6h-6zM981 510h12v6h-12zM1202 510h6v6h-6zM987 516h12v6h-12zM1214 516h6v6h-6zM993 522h12v6h-12zM999 528h12v6h-12zM1065 528h5v6h-5zM1005 534h12v6h-12zM1070 534h6v6h-6zM1011 540h12v6h-12zM1076 540h6v6h-6zM1017 546h12v6h-12zM1082 546h6v6h-6zM1023 552h12v6h-12zM1088 552h6v6h-6zM1029 558h12v6h-12zM1094 558h6v6h-6zM1035 564h12v6h-12zM1100 564h6v6h-6zM1041 570h12v6h-12zM1106 570h6v6h-6zM1047 576h12v6h-12zM1112 576h6v6h-6zM1053 582h12v6h-12zM1118 582h6v6h-6zM1220 582h6v6h-6zM1059 588h6v6h-6zM1124 588h6v6h-6zM1226 588h6v6h-6zM1232 594h6v6h-6zM1130 600h6v6h-6zM1262 600h6v6h-6zM1196 606h6v6h-6zM1268 606h6v6h-6zM1202 612h6v6h-6zM1274 612h6v6h-6zM1208 618h6v6h-6zM1280 618h6v6h-6zM1286 624h6v6h-6zM1292 630h6v6h-6zM1298 636h6v6h-6zM1304 642h6v6h-6zM1214 648h6v6h-6zM1310 648h6v6h-6zM1220 654h6v6h-6zM1316 654h6v6h-6zM1226 660h6v6h-6zM1322 660h6v6h-6zM1232 666h6v6h-6zM1328 666h6v6h-6zM1238 672h6v6h-6zM1334 672h6v6h-6zM1244 678h6v6h-6zM1340 678h6v6h-6zM1250 684h6v6h-6zM1346 684h6v6h-6zM1256 690h6v6h-6zM1352 690h6v6h-6zM1262 696h6v6h-6zM1268 702h6v6h-6zM1274 708h6v6h-6zM1280 714h6v6h-6zM1286 720h6v6h-6zM1292 726h6v6h-6zM1298 732h6v6h-6zM1304 738h6v6h-6z"/><path fill="#d8582c" d="M897 241h6v6h-6zM903 247h6v6h-6zM909 253h6v6h-6zM915 259h6v6h-6zM921 265h6v6h-6zM927 271h6v6h-6zM933 277h6v6h-6zM855 283h6v6h-6zM861 289h6v6h-6zM867 295h6v6h-6zM873 301h6v6h-6zM879 307h6v6h-6zM885 313h6v6h-6zM891 319h6v6h-6zM1214 570h6v6h-6zM1184 600h6v6h-6z"/><path fill="#f4c070" d="M1220 241h6v6h-6zM1220 247h12v6h-12zM1220 253h18v6h-18zM1220 259h24v6h-24zM1220 265h30v6h-30zM1220 271h36v6h-36zM1220 277h42v6h-42zM1220 283h48v6h-48zM1220 289h54v6h-54zM1220 295h60v6h-60zM1226 301h60v6h-60zM1232 307h60v6h-60zM1238 313h60v6h-60zM1244 319h60v6h-60zM1250 325h60v6h-60zM1256 331h60v6h-60zM1262 337h60v6h-60zM1268 343h60v6h-60zM1274 349h60v6h-60zM1280 355h60v6h-60zM1286 361h60v6h-60zM1292 367h60v6h-60zM1298 373h60v6h-60zM1304 379h54v6h-54zM1310 385h48v6h-48zM1316 391h42v6h-42zM1322 397h36v6h-36zM1328 403h30v6h-30zM1334 409h24v6h-24zM1340 415h18v6h-18zM1346 421h12v6h-12zM1352 427h6v6h-6zM855 606h60v6h-60zM861 612h60v6h-60zM867 618h60v6h-60zM873 624h60v6h-60zM879 630h60v6h-60zM885 636h60v6h-60zM891 642h60v6h-60zM897 648h60v6h-60zM903 654h60v6h-60zM909 660h60v6h-60zM915 666h60v6h-60zM921 672h60v6h-60zM927 678h60v6h-60zM933 684h60v6h-60zM939 690h60v6h-60zM945 696h60v6h-60zM951 702h60v6h-60zM957 708h60v6h-60zM963 714h60v6h-60zM969 720h60v6h-60zM975 726h60v6h-60zM981 732h60v6h-60zM987 738h60v6h-60z"/><path fill="#d8542c" d="M897 247h6v6h-6zM903 253h6v6h-6zM909 259h6v6h-6zM915 265h6v6h-6zM921 271h6v6h-6zM927 277h6v6h-6zM861 283h6v6h-6zM981 283h6v6h-6zM867 289h6v6h-6zM987 289h6v6h-6zM873 295h6v6h-6zM993 295h6v6h-6zM879 301h6v6h-6zM999 301h6v6h-6zM885 307h6v6h-6zM1005 307h6v6h-6zM891 313h6v6h-6zM1011 313h6v6h-6zM1017 319h6v6h-6zM1023 325h6v6h-6zM1029 331h6v6h-6zM1035 337h6v6h-6zM1041 343h6v6h-6zM1047 349h6v6h-6zM1053 355h6v6h-6zM1059 361h6v6h-6zM897 367h6v6h-6zM903 373h6v6h-6zM909 379h6v6h-6zM915 385h6v6h-6zM921 391h6v6h-6zM927 397h6v6h-6zM933 403h6v6h-6zM939 409h6v6h-6zM945 415h6v6h-6zM1065 415h5v6h-5zM951 421h6v6h-6zM1070 421h6v6h-6zM957 427h6v6h-6zM1076 427h6v6h-6zM963 433h6v6h-6zM1094 433h6v6h-6zM969 439h6v6h-6zM1100 439h6v6h-6zM975 445h6v6h-6zM1106 445h6v6h-6zM1029 451h6v5h-6zM1088 451h6v5h-6zM1035 456h6v6h-6zM1094 456h6v6h-6zM1041 462h6v6h-6zM1100 462h6v6h-6zM1106 468h6v6h-6zM1065 474h5v6h-5zM1112 474h6v6h-6zM1047 480h6v6h-6zM1070 480h6v6h-6zM1118 480h6v6h-6zM1053 486h6v6h-6zM1076 486h6v6h-6zM1124 486h6v6h-6zM1059 492h6v6h-6zM1082 492h6v6h-6zM1088 498h6v6h-6zM1094 504h6v6h-6zM1100 510h6v6h-6zM1154 516h6v6h-6zM1160 522h6v6h-6zM1166 528h6v6h-6zM1172 534h6v6h-6zM1130 540h6v6h-6zM1178 540h6v6h-6zM1136 546h6v6h-6zM1184 546h6v6h-6zM1142 552h6v6h-6zM1190 552h6v6h-6zM1148 558h6v6h-6zM1196 558h6v6h-6zM1154 564h6v6h-6zM1202 564h6v6h-6zM1160 570h6v6h-6zM1208 570h6v6h-6zM1166 576h6v6h-6zM1172 582h6v6h-6zM1178 588h6v6h-6zM1184 594h6v6h-6z"/><path fill="#d4502c" d="M897 253h6v6h-6zM903 259h6v6h-6zM909 265h6v6h-6zM915 271h6v6h-6zM921 277h6v6h-6zM867 283h6v6h-6zM969 283h6v6h-6zM873 289h6v6h-6zM975 289h6v6h-6zM879 295h6v6h-6zM981 295h6v6h-6zM885 301h6v6h-6zM987 301h6v6h-6zM891 307h6v6h-6zM993 307h6v6h-6zM999 313h6v6h-6zM1005 319h6v6h-6zM1011 325h6v6h-6zM1017 331h6v6h-6zM1023 337h6v6h-6zM1029 343h6v6h-6zM1035 349h6v6h-6zM897 355h6v6h-6zM1041 355h6v6h-6zM903 361h6v6h-6zM1047 361h6v6h-6zM909 367h6v6h-6zM1053 367h6v6h-6zM915 373h6v6h-6zM1059 373h6v6h-6zM921 379h6v6h-6zM927 385h6v6h-6zM933 391h6v6h-6zM939 397h6v6h-6zM945 403h6v6h-6zM951 409h6v6h-6zM957 415h6v6h-6zM963 421h6v6h-6zM969 427h6v6h-6zM975 433h6v6h-6zM1088 433h6v6h-6zM981 439h6v6h-6zM1094 439h6v6h-6zM987 445h6v6h-6zM1100 445h6v6h-6zM1047 474h6v6h-6zM1053 480h6v6h-6zM1059 486h6v6h-6zM1130 498h6v6h-6zM1136 504h6v6h-6zM1142 510h6v6h-6zM1112 516h6v6h-6zM1118 522h6v6h-6zM1124 528h6v6h-6z"/><path fill="#d44c28" d="M897 259h6v6h-6zM903 265h6v6h-6zM909 271h6v6h-6zM915 277h6v6h-6zM873 283h6v6h-6zM963 283h6v6h-6zM879 289h6v6h-6zM969 289h6v6h-6zM885 295h6v6h-6zM975 295h6v6h-6zM891 301h6v6h-6zM981 301h6v6h-6zM987 307h6v6h-6zM993 313h6v6h-6zM999 319h6v6h-6zM1005 325h6v6h-6zM1011 331h6v6h-6zM1017 337h6v6h-6zM1023 343h6v6h-6zM897 349h6v6h-6zM1029 349h6v6h-6zM903 355h6v6h-6zM1035 355h6v6h-6zM909 361h6v6h-6zM1041 361h6v6h-6zM915 367h6v6h-6zM1047 367h6v6h-6zM921 373h6v6h-6zM1053 373h6v6h-6zM927 379h6v6h-6zM1059 379h6v6h-6zM933 385h6v6h-6zM939 391h6v6h-6zM945 397h6v6h-6zM951 403h6v6h-6zM957 409h6v6h-6zM963 415h6v6h-6zM969 421h6v6h-6zM975 427h6v6h-6zM981 433h6v6h-6zM987 439h6v6h-6zM993 445h6v6h-6z"/><path fill="#c83824" d="M897 271h6v6h-6zM903 277h6v6h-6zM885 283h6v6h-6zM933 283h6v6h-6zM891 289h6v6h-6zM939 289h6v6h-6zM945 295h6v6h-6zM951 301h6v6h-6zM957 307h6v6h-6zM963 313h6v6h-6zM897 319h6v6h-6zM969 319h6v6h-6zM903 325h6v6h-6zM975 325h6v6h-6zM909 331h6v6h-6zM981 331h6v6h-6zM915 337h6v6h-6zM987 337h6v6h-6zM921 343h6v6h-6zM993 343h6v6h-6zM927 349h6v6h-6zM999 349h6v6h-6zM933 355h6v6h-6zM1005 355h6v6h-6zM939 361h6v6h-6zM1011 361h6v6h-6zM945 367h6v6h-6zM1017 367h6v6h-6zM951 373h6v6h-6zM1023 373h6v6h-6zM957 379h6v6h-6zM1029 379h6v6h-6zM963 385h6v6h-6zM1035 385h6v6h-6zM969 391h6v6h-6zM1041 391h6v6h-6zM975 397h6v6h-6zM1047 397h6v6h-6zM981 403h6v6h-6zM1053 403h6v6h-6zM987 409h6v6h-6zM1059 409h6v6h-6zM993 415h6v6h-6zM999 421h6v6h-6zM1005 427h6v6h-6zM1011 433h6v6h-6zM1017 439h6v6h-6zM1023 445h6v6h-6zM1076 451h6v5h-6zM1082 456h6v6h-6zM1065 462h5v6h-5zM1088 462h6v6h-6zM1070 468h6v6h-6zM1094 468h6v6h-6zM1076 474h6v6h-6zM1100 474h6v6h-6zM1082 480h6v6h-6zM1106 480h6v6h-6zM1088 486h6v6h-6zM1112 486h6v6h-6zM1094 492h6v6h-6zM1118 492h6v6h-6zM1100 498h6v6h-6zM1124 498h6v6h-6zM1106 504h6v6h-6zM1112 510h6v6h-6zM1142 516h6v6h-6zM1148 522h6v6h-6zM1130 528h6v6h-6zM1154 528h6v6h-6zM1136 534h6v6h-6zM1160 534h6v6h-6zM1142 540h6v6h-6zM1166 540h6v6h-6zM1148 546h6v6h-6zM1172 546h6v6h-6zM1154 552h6v6h-6zM1178 552h6v6h-6zM1160 558h6v6h-6zM1184 558h6v6h-6zM1166 564h6v6h-6zM1190 564h6v6h-6zM1172 570h6v6h-6zM1196 570h6v6h-6zM1178 576h6v6h-6zM1202 576h6v6h-6zM1184 582h6v6h-6zM1208 582h6v6h-6zM1190 588h6v6h-6zM1196 594h6v6h-6z"/><path fill="#6c0c10" d="M909 283h6v6h-6zM915 289h6v6h-6zM897 295h6v6h-6zM921 295h6v6h-6zM903 301h6v6h-6zM909 307h6v6h-6zM939 313h6v6h-6zM945 319h6v6h-6zM927 325h6v6h-6zM951 325h6v6h-6zM933 331h6v6h-6zM939 337h6v6h-6zM1029 403h6v6h-6zM1035 409h6v6h-6zM1017 415h6v6h-6zM1041 415h6v6h-6zM1023 421h6v6h-6zM1029 427h6v6h-6z"/><path fill="#881814" d="M915 283h6v6h-6zM921 289h6v6h-6zM897 301h6v6h-6zM903 307h6v6h-6zM945 313h6v6h-6zM951 319h6v6h-6zM927 331h6v6h-6zM933 337h6v6h-6zM1035 403h6v6h-6zM1041 409h6v6h-6zM1017 421h6v6h-6zM1023 427h6v6h-6z"/><path fill="#9c1c18" d="M921 283h6v6h-6zM897 307h6v6h-6zM951 313h6v6h-6zM927 337h6v6h-6zM1041 403h6v6h-6zM1017 427h6v6h-6z"/><path fill="#bc3420" d="M927 283h6v6h-6zM933 289h6v6h-6zM939 295h6v6h-6zM945 301h6v6h-6zM951 307h6v6h-6zM897 313h6v6h-6zM957 313h6v6h-6zM903 319h6v6h-6zM963 319h6v6h-6zM909 325h6v6h-6zM969 325h6v6h-6zM915 331h6v6h-6zM975 331h6v6h-6zM921 337h6v6h-6zM981 337h6v6h-6zM927 343h6v6h-6zM987 343h6v6h-6zM933 349h6v6h-6zM993 349h6v6h-6zM939 355h6v6h-6zM999 355h6v6h-6zM945 361h6v6h-6zM1005 361h6v6h-6zM951 367h6v6h-6zM1011 367h6v6h-6zM957 373h6v6h-6zM1017 373h6v6h-6zM963 379h6v6h-6zM1023 379h6v6h-6zM969 385h6v6h-6zM1029 385h6v6h-6zM975 391h6v6h-6zM1035 391h6v6h-6zM981 397h6v6h-6zM1041 397h6v6h-6zM987 403h6v6h-6zM1047 403h6v6h-6zM993 409h6v6h-6zM1053 409h6v6h-6zM999 415h6v6h-6zM1059 415h6v6h-6zM1005 421h6v6h-6zM1011 427h6v6h-6zM1017 433h6v6h-6zM1023 439h6v6h-6zM1029 445h6v6h-6z"/><path fill="#d4542c" d="M975 283h6v6h-6zM981 289h6v6h-6zM987 295h6v6h-6zM993 301h6v6h-6zM999 307h6v6h-6zM1005 313h6v6h-6zM1011 319h6v6h-6zM1017 325h6v6h-6zM1023 331h6v6h-6zM1029 337h6v6h-6zM1035 343h6v6h-6zM1041 349h6v6h-6zM1047 355h6v6h-6zM897 361h6v6h-6zM1053 361h6v6h-6zM903 367h6v6h-6zM1059 367h6v6h-6zM909 373h6v6h-6zM915 379h6v6h-6zM921 385h6v6h-6zM927 391h6v6h-6zM933 397h6v6h-6zM939 403h6v6h-6zM945 409h6v6h-6zM951 415h6v6h-6zM957 421h6v6h-6zM963 427h6v6h-6zM969 433h6v6h-6zM975 439h6v6h-6zM981 445h6v6h-6z"/><path fill="#dc6430" d="M1017 283h6v6h-6zM1023 289h6v6h-6zM1029 295h6v6h-6zM1035 301h6v6h-6zM1041 307h6v6h-6zM1047 313h6v6h-6zM1053 319h6v6h-6zM1059 325h6v6h-6zM897 403h6v6h-6zM903 409h6v6h-6zM909 415h6v6h-6zM915 421h6v6h-6zM921 427h6v6h-6zM927 433h6v6h-6zM933 439h6v6h-6zM939 445h6v6h-6z"/><path fill="#e46c38" d="M1059 283h6v6h-6zM1065 373h5v6h-5zM1070 379h6v6h-6zM1076 385h6v6h-6zM1082 391h6v6h-6zM1088 397h6v6h-6zM1094 403h6v6h-6zM1100 409h6v6h-6zM1106 415h6v6h-6zM1112 421h6v6h-6zM1118 427h6v6h-6zM1130 439h6v6h-6zM897 445h6v6h-6zM1136 445h6v6h-6zM987 451h6v5h-6zM993 456h6v6h-6zM999 462h6v6h-6zM1005 468h6v6h-6zM1011 474h6v6h-6zM1017 480h6v6h-6zM1023 486h6v6h-6zM1029 492h6v6h-6zM1035 498h6v6h-6zM1041 504h6v6h-6zM1053 516h6v6h-6zM1059 522h6v6h-6z"/><path fill="#ec8c44" d="M1065 283h11v6h-11zM1065 289h17v6h-17zM1070 295h18v6h-18zM1076 301h18v6h-18zM1082 307h18v6h-18zM1088 313h18v6h-18zM1094 319h18v6h-18zM1100 325h18v6h-18zM1106 331h18v6h-18zM1112 337h18v6h-18zM1118 343h18v6h-18zM1124 349h18v6h-18zM1130 355h18v6h-18zM1136 361h18v6h-18zM1142 367h18v6h-18zM1148 373h18v6h-18zM1154 379h18v6h-18zM1160 385h18v6h-18zM1166 391h18v6h-18zM1172 397h18v6h-18zM1178 403h18v6h-18zM1184 409h18v6h-18zM1190 415h18v6h-18zM1196 421h18v6h-18zM1202 427h18v6h-18zM1208 433h12v6h-12zM897 451h12v5h-12zM1154 451h12v5h-12zM897 456h18v6h-18zM1160 456h12v6h-12zM903 462h18v6h-18zM1166 462h12v6h-12zM909 468h18v6h-18zM1172 468h12v6h-12zM915 474h18v6h-18zM1178 474h12v6h-12zM921 480h18v6h-18zM1184 480h12v6h-12zM927 486h18v6h-18zM1190 486h12v6h-12zM933 492h18v6h-18zM1196 492h12v6h-12zM939 498h18v6h-18zM1202 498h18v6h-18zM945 504h18v6h-18zM1208 504h12v6h-12zM951 510h18v6h-18zM957 516h18v6h-18zM963 522h18v6h-18zM969 528h18v6h-18zM975 534h18v6h-18zM981 540h18v6h-18zM1065 540h5v6h-5zM987 546h18v6h-18zM1065 546h11v6h-11zM993 552h18v6h-18zM1070 552h12v6h-12zM999 558h18v6h-18zM1076 558h12v6h-12zM1005 564h18v6h-18zM1082 564h12v6h-12zM1011 570h18v6h-18zM1088 570h12v6h-12zM1017 576h18v6h-18zM1094 576h12v6h-12zM1220 576h6v6h-6zM1023 582h18v6h-18zM1100 582h12v6h-12zM1226 582h6v6h-6zM1029 588h18v6h-18zM1106 588h12v6h-12zM1232 588h6v6h-6zM1035 594h18v6h-18zM1112 594h12v6h-12zM1238 594h6v6h-6zM1041 600h12v6h-12zM1112 600h12v6h-12zM1190 606h6v6h-6zM1196 612h6v6h-6zM1202 618h6v6h-6zM1208 624h6v6h-6z"/><path fill="#ec9044" d="M1076 283h12v6h-12zM1082 289h12v6h-12zM1088 295h12v6h-12zM1094 301h12v6h-12zM1100 307h12v6h-12zM1106 313h12v6h-12zM1112 319h12v6h-12zM1118 325h12v6h-12zM1124 331h12v6h-12zM1130 337h12v6h-12zM1136 343h12v6h-12zM1142 349h12v6h-12zM1148 355h12v6h-12zM1154 361h12v6h-12zM1160 367h12v6h-12zM1166 373h12v6h-12zM1172 379h12v6h-12zM1178 385h12v6h-12zM1184 391h12v6h-12zM1190 397h12v6h-12zM1196 403h12v6h-12zM1202 409h12v6h-12zM1208 415h12v6h-12zM1214 421h6v6h-6zM1166 451h6v5h-6zM1172 456h6v6h-6zM897 462h6v6h-6zM1178 462h6v6h-6zM897 468h12v6h-12zM1184 468h6v6h-6zM903 474h12v6h-12zM1190 474h6v6h-6zM909 480h12v6h-12zM1196 480h6v6h-6zM915 486h12v6h-12zM1202 486h6v6h-6zM921 492h12v6h-12zM1208 492h12v6h-12zM927 498h12v6h-12zM933 504h12v6h-12zM939 510h12v6h-12zM945 516h12v6h-12zM951 522h12v6h-12zM957 528h12v6h-12zM963 534h12v6h-12zM969 540h12v6h-12zM975 546h12v6h-12zM981 552h12v6h-12zM1065 552h5v6h-5zM987 558h12v6h-12zM1070 558h6v6h-6zM993 564h12v6h-12zM1076 564h6v6h-6zM999 570h12v6h-12zM1082 570h6v6h-6zM1005 576h12v6h-12zM1088 576h6v6h-6zM1011 582h12v6h-12zM1094 582h6v6h-6zM1017 588h12v6h-12zM1100 588h6v6h-6zM1023 594h12v6h-12zM1106 594h6v6h-6zM1029 600h12v6h-12zM1106 600h6v6h-6zM1274 600h6v6h-6zM1280 606h6v6h-6zM1286 612h6v6h-6zM1292 618h6v6h-6zM1298 624h6v6h-6zM1304 630h6v6h-6zM1310 636h6v6h-6zM1316 642h6v6h-6zM1322 648h6v6h-6zM1328 654h6v6h-6zM1214 660h6v6h-6zM1334 660h6v6h-6zM1220 666h6v6h-6zM1340 666h6v6h-6zM1226 672h6v6h-6zM1346 672h6v6h-6zM1232 678h6v6h-6zM1352 678h6v6h-6zM1238 684h6v6h-6zM1244 690h6v6h-6zM1250 696h6v6h-6zM1256 702h6v6h-6zM1262 708h6v6h-6zM1268 714h6v6h-6zM1274 720h6v6h-6zM1280 726h6v6h-6zM1286 732h6v6h-6zM1292 738h6v6h-6z"/><path fill="#ec9048" d="M1088 283h6v6h-6zM1094 289h6v6h-6zM1100 295h6v6h-6zM1106 301h6v6h-6zM1112 307h6v6h-6zM1118 313h6v6h-6zM1124 319h6v6h-6zM1130 325h6v6h-6zM1136 331h6v6h-6zM1142 337h6v6h-6zM1148 343h6v6h-6zM1154 349h6v6h-6zM1160 355h6v6h-6zM1166 361h6v6h-6zM1172 367h6v6h-6zM1178 373h6v6h-6zM1184 379h6v6h-6zM1190 385h6v6h-6zM1196 391h6v6h-6zM1202 397h6v6h-6zM1208 403h6v6h-6zM1214 409h6v6h-6zM897 474h6v6h-6zM903 480h6v6h-6zM909 486h6v6h-6zM915 492h6v6h-6zM921 498h6v6h-6zM927 504h6v6h-6zM933 510h6v6h-6zM939 516h6v6h-6zM945 522h6v6h-6zM951 528h6v6h-6zM957 534h6v6h-6zM963 540h6v6h-6zM969 546h6v6h-6zM975 552h6v6h-6zM981 558h6v6h-6zM987 564h6v6h-6zM993 570h6v6h-6zM999 576h6v6h-6zM1005 582h6v6h-6zM1011 588h6v6h-6zM1017 594h6v6h-6zM1023 600h6v6h-6z"/><path fill="#ec9448" d="M1094 283h18v6h-18zM1100 289h18v6h-18zM1106 295h18v6h-18zM1112 301h18v6h-18zM1118 307h18v6h-18zM1124 313h18v6h-18zM1130 319h18v6h-18zM1136 325h18v6h-18zM1142 331h18v6h-18zM1148 337h18v6h-18zM1154 343h18v6h-18zM1160 349h18v6h-18zM1166 355h18v6h-18zM1172 361h18v6h-18zM1178 367h18v6h-18zM1184 373h18v6h-18zM1190 379h18v6h-18zM1196 385h18v6h-18zM1202 391h18v6h-18zM1208 397h12v6h-12zM1214 403h6v6h-6zM1172 451h12v5h-12zM1178 456h12v6h-12zM1184 462h12v6h-12zM1190 468h12v6h-12zM1196 474h12v6h-12zM897 480h6v6h-6zM1202 480h18v6h-18zM897 486h12v6h-12zM1208 486h12v6h-12zM897 492h18v6h-18zM903 498h18v6h-18zM909 504h18v6h-18zM915 510h18v6h-18zM921 516h18v6h-18zM927 522h18v6h-18zM933 528h18v6h-18zM939 534h18v6h-18zM945 540h18v6h-18zM951 546h18v6h-18zM957 552h18v6h-18zM963 558h18v6h-18zM1065 558h5v6h-5zM969 564h18v6h-18zM1065 564h11v6h-11zM975 570h18v6h-18zM1070 570h12v6h-12zM1220 570h6v6h-6zM981 576h18v6h-18zM1076 576h12v6h-12zM1226 576h6v6h-6zM987 582h18v6h-18zM1082 582h12v6h-12zM1232 582h6v6h-6zM993 588h18v6h-18zM1088 588h12v6h-12zM1238 588h6v6h-6zM999 594h18v6h-18zM1094 594h12v6h-12zM1244 594h6v6h-6zM1005 600h18v6h-18zM1094 600h12v6h-12zM1280 600h6v6h-6zM1184 606h6v6h-6zM1286 606h6v6h-6zM1190 612h6v6h-6zM1292 612h6v6h-6zM1196 618h6v6h-6zM1298 618h6v6h-6zM1202 624h6v6h-6zM1304 624h6v6h-6zM1208 630h6v6h-6zM1310 630h6v6h-6zM1316 636h6v6h-6zM1322 642h6v6h-6zM1328 648h6v6h-6zM1334 654h6v6h-6zM1340 660h6v6h-6zM1214 666h6v6h-6zM1346 666h6v6h-6zM1220 672h6v6h-6zM1352 672h6v6h-6zM1226 678h6v6h-6zM1232 684h6v6h-6zM1238 690h6v6h-6zM1244 696h6v6h-6zM1250 702h6v6h-6zM1256 708h6v6h-6zM1262 714h6v6h-6zM1268 720h6v6h-6zM1274 726h6v6h-6zM1280 732h6v6h-6zM1286 738h6v6h-6z"/><path fill="#ec9848" d="M1112 283h12v6h-12zM1118 289h12v6h-12zM1124 295h12v6h-12zM1130 301h12v6h-12zM1136 307h12v6h-12zM1142 313h12v6h-12zM1148 319h12v6h-12zM1154 325h12v6h-12zM1160 331h12v6h-12zM1166 337h12v6h-12zM1172 343h12v6h-12zM1178 349h12v6h-12zM1184 355h12v6h-12zM1190 361h12v6h-12zM1196 367h12v6h-12zM1202 373h12v6h-12zM1208 379h12v6h-12zM1214 385h6v6h-6zM1184 451h6v5h-6zM1190 456h6v6h-6zM1196 462h6v6h-6zM1202 468h6v6h-6zM1208 474h6v6h-6zM897 498h6v6h-6zM897 504h12v6h-12zM903 510h12v6h-12zM909 516h12v6h-12zM915 522h12v6h-12zM921 528h12v6h-12zM927 534h12v6h-12zM933 540h12v6h-12zM939 546h12v6h-12zM945 552h12v6h-12zM951 558h12v6h-12zM957 564h12v6h-12zM963 570h12v6h-12zM1065 570h5v6h-5zM969 576h12v6h-12zM1070 576h6v6h-6zM975 582h12v6h-12zM1076 582h6v6h-6zM981 588h12v6h-12zM1082 588h6v6h-6zM987 594h12v6h-12zM1088 594h6v6h-6zM993 600h12v6h-12zM1286 600h6v6h-6zM1292 606h6v6h-6zM1298 612h6v6h-6zM1304 618h6v6h-6zM1310 624h6v6h-6zM1316 630h6v6h-6zM1322 636h6v6h-6zM1328 642h6v6h-6zM1334 648h6v6h-6zM1340 654h6v6h-6zM1346 660h6v6h-6zM1352 666h6v6h-6zM1214 672h6v6h-6zM1220 678h6v6h-6zM1226 684h6v6h-6zM1232 690h6v6h-6zM1238 696h6v6h-6zM1244 702h6v6h-6zM1250 708h6v6h-6zM1256 714h6v6h-6zM1262 720h6v6h-6zM1268 726h6v6h-6zM1274 732h6v6h-6zM1280 738h6v6h-6z"/><path fill="#881414" d="M927 301h6v6h-6zM933 307h6v6h-6zM915 313h6v6h-6zM921 319h6v6h-6zM957 331h6v6h-6zM963 337h6v6h-6zM945 343h6v6h-6zM951 349h6v6h-6zM987 361h6v6h-6zM993 367h6v6h-6zM975 373h6v6h-6zM981 379h6v6h-6zM1017 391h6v6h-6zM1023 397h6v6h-6zM1005 403h6v6h-6zM1011 409h6v6h-6zM1047 421h6v6h-6zM1053 427h6v6h-6zM1035 433h6v6h-6zM1041 439h6v6h-6z"/><path fill="#f4c06c" d="M1220 301h6v6h-6zM1220 307h12v6h-12zM1220 313h18v6h-18zM1220 319h24v6h-24zM1220 325h30v6h-30zM1220 331h36v6h-36zM1220 337h42v6h-42zM1220 343h48v6h-48zM1226 349h48v6h-48zM1232 355h48v6h-48zM1238 361h48v6h-48zM1244 367h48v6h-48zM1250 373h48v6h-48zM1256 379h48v6h-48zM1262 385h48v6h-48zM1268 391h48v6h-48zM1274 397h48v6h-48zM1280 403h48v6h-48zM1286 409h48v6h-48zM1292 415h48v6h-48zM1298 421h48v6h-48zM1304 427h48v6h-48zM1310 433h48v6h-48zM1316 439h42v6h-42zM1322 445h36v6h-36zM1328 451h30v5h-30zM1334 456h24v6h-24zM1340 462h18v6h-18zM1346 468h12v6h-12zM1352 474h6v6h-6zM915 606h48v6h-48zM921 612h48v6h-48zM927 618h48v6h-48zM933 624h48v6h-48zM939 630h48v6h-48zM945 636h48v6h-48zM951 642h48v6h-48zM957 648h48v6h-48zM963 654h48v6h-48zM969 660h48v6h-48zM975 666h48v6h-48zM981 672h48v6h-48zM987 678h48v6h-48zM993 684h48v6h-48zM999 690h48v6h-48zM1005 696h48v6h-48zM1011 702h48v6h-48zM1017 708h48v6h-48zM1023 714h47v6h-47zM1029 720h47v6h-47zM1035 726h47v6h-47zM1041 732h47v6h-47zM1047 738h47v6h-47z"/><path fill="#ec8040" d="M1065 319h5v6h-5zM1070 325h6v6h-6zM1076 331h6v6h-6zM1082 337h6v6h-6zM1088 343h6v6h-6zM1094 349h6v6h-6zM1100 355h6v6h-6zM1106 361h6v6h-6zM1112 367h6v6h-6zM1118 373h6v6h-6zM1124 379h6v6h-6zM1130 385h6v6h-6zM1136 391h6v6h-6zM1142 397h6v6h-6zM1148 403h6v6h-6zM1154 409h6v6h-6zM1160 415h6v6h-6zM1166 421h6v6h-6zM1172 427h6v6h-6zM1178 433h6v6h-6zM1184 439h6v6h-6zM1190 445h6v6h-6zM933 451h6v5h-6zM939 456h6v6h-6zM945 462h6v6h-6zM951 468h6v6h-6zM957 474h6v6h-6zM963 480h6v6h-6zM969 486h6v6h-6zM975 492h6v6h-6zM981 498h6v6h-6zM987 504h6v6h-6zM993 510h6v6h-6zM999 516h6v6h-6zM1005 522h6v6h-6zM1011 528h6v6h-6zM1017 534h6v6h-6zM1023 540h6v6h-6zM1029 546h6v6h-6zM1035 552h6v6h-6zM1041 558h6v6h-6zM1047 564h6v6h-6zM1053 570h6v6h-6zM1059 576h6v6h-6z"/><path fill="#7c1414" d="M975 343h6v6h-6zM981 349h6v6h-6zM957 361h6v6h-6zM963 367h6v6h-6z"/><path fill="#901814" d="M981 343h6v6h-6zM957 367h6v6h-6z"/><path fill="#e8783c" d="M1065 343h5v6h-5zM1070 349h6v6h-6zM1076 355h6v6h-6zM1082 361h6v6h-6zM1088 367h6v6h-6zM1094 373h6v6h-6zM1100 379h6v6h-6zM1106 385h6v6h-6zM1112 391h6v6h-6zM1118 397h6v6h-6zM1124 403h6v6h-6zM1130 409h6v6h-6zM1136 415h6v6h-6zM1142 421h6v6h-6zM1148 427h6v6h-6zM1154 433h6v6h-6zM1160 439h6v6h-6zM1166 445h6v6h-6zM957 451h6v5h-6zM963 456h6v6h-6zM1130 456h6v6h-6zM969 462h6v6h-6zM1136 462h6v6h-6zM975 468h6v6h-6zM1142 468h6v6h-6zM981 474h6v6h-6zM1148 474h6v6h-6zM987 480h6v6h-6zM1154 480h6v6h-6zM993 486h6v6h-6zM1160 486h6v6h-6zM999 492h6v6h-6zM1166 492h6v6h-6zM1005 498h6v6h-6zM1172 498h6v6h-6zM1011 504h6v6h-6zM1178 504h6v6h-6zM1017 510h6v6h-6zM1184 510h6v6h-6zM1023 516h6v6h-6zM1070 516h6v6h-6zM1202 516h6v6h-6zM1029 522h6v6h-6zM1076 522h6v6h-6zM1208 522h6v6h-6zM1035 528h6v6h-6zM1082 528h6v6h-6zM1041 534h6v6h-6zM1088 534h6v6h-6zM1214 534h6v6h-6zM1047 540h6v6h-6zM1094 540h6v6h-6zM1053 546h6v6h-6zM1100 546h6v6h-6zM1059 552h6v6h-6zM1106 552h6v6h-6zM1112 558h6v6h-6zM1118 564h6v6h-6zM1124 570h6v6h-6zM1130 588h6v6h-6zM1136 594h6v6h-6zM1148 600h6v6h-6zM1250 600h6v6h-6zM1256 606h6v6h-6zM1262 612h6v6h-6zM1268 618h6v6h-6zM1274 624h6v6h-6zM1280 630h6v6h-6zM1214 636h6v6h-6zM1286 636h6v6h-6zM1220 642h6v6h-6zM1292 642h6v6h-6zM1226 648h6v6h-6zM1298 648h6v6h-6zM1232 654h6v6h-6zM1304 654h6v6h-6zM1238 660h6v6h-6zM1310 660h6v6h-6zM1244 666h6v6h-6zM1316 666h6v6h-6zM1250 672h6v6h-6zM1322 672h6v6h-6zM1256 678h6v6h-6zM1328 678h6v6h-6zM1262 684h6v6h-6zM1334 684h6v6h-6zM1268 690h6v6h-6zM1340 690h6v6h-6zM1274 696h6v6h-6zM1346 696h6v6h-6zM1280 702h6v6h-6zM1352 702h6v6h-6zM1286 708h6v6h-6zM1292 714h6v6h-6zM1298 720h6v6h-6zM1304 726h6v6h-6zM1310 732h6v6h-6zM1316 738h6v6h-6z"/><path fill="#e87838" d="M1065 349h5v6h-5zM1070 355h6v6h-6zM1076 361h6v6h-6zM1082 367h6v6h-6zM1088 373h6v6h-6zM1094 379h6v6h-6zM1100 385h6v6h-6zM1106 391h6v6h-6zM1112 397h6v6h-6zM1118 403h6v6h-6zM1124 409h6v6h-6zM1130 415h6v6h-6zM1136 421h6v6h-6zM1142 427h6v6h-6zM1148 433h6v6h-6zM1154 439h6v6h-6zM1160 445h6v6h-6zM963 451h6v5h-6zM969 456h6v6h-6zM975 462h6v6h-6zM1130 462h6v6h-6zM981 468h6v6h-6zM1136 468h6v6h-6zM987 474h6v6h-6zM1142 474h6v6h-6zM993 480h6v6h-6zM1148 480h6v6h-6zM999 486h6v6h-6zM1154 486h6v6h-6zM1005 492h6v6h-6zM1160 492h6v6h-6zM1011 498h6v6h-6zM1166 498h6v6h-6zM1017 504h6v6h-6zM1172 504h6v6h-6zM1023 510h6v6h-6zM1178 510h6v6h-6zM1029 516h6v6h-6zM1076 516h6v6h-6zM1035 522h6v6h-6zM1082 522h6v6h-6zM1041 528h6v6h-6zM1088 528h6v6h-6zM1047 534h6v6h-6zM1094 534h6v6h-6zM1053 540h6v6h-6zM1100 540h6v6h-6zM1059 546h6v6h-6zM1106 546h6v6h-6zM1112 552h6v6h-6zM1118 558h6v6h-6zM1124 564h6v6h-6z"/><path fill="#f4bc6c" d="M1220 349h6v6h-6zM1226 355h6v6h-6zM1232 361h6v6h-6zM1238 367h6v6h-6zM1244 373h6v6h-6zM1250 379h6v6h-6zM1256 385h6v6h-6zM1262 391h6v6h-6zM1268 397h6v6h-6zM1274 403h6v6h-6zM1280 409h6v6h-6zM1286 415h6v6h-6zM1292 421h6v6h-6zM1298 427h6v6h-6zM1304 433h6v6h-6zM1310 439h6v6h-6zM1316 445h6v6h-6zM1322 451h6v5h-6zM1328 456h6v6h-6zM1334 462h6v6h-6zM1340 468h6v6h-6zM1346 474h6v6h-6zM1352 480h6v6h-6zM963 606h6v6h-6zM969 612h6v6h-6zM975 618h6v6h-6zM981 624h6v6h-6zM987 630h6v6h-6zM993 636h6v6h-6zM999 642h6v6h-6zM1005 648h6v6h-6zM1011 654h6v6h-6zM1017 660h6v6h-6zM1023 666h6v6h-6zM1029 672h6v6h-6zM1035 678h6v6h-6zM1041 684h6v6h-6zM1047 690h6v6h-6zM1053 696h6v6h-6zM1059 702h6v6h-6zM1065 708h5v6h-5zM1070 714h6v6h-6zM1076 720h6v6h-6zM1082 726h6v6h-6zM1088 732h6v6h-6zM1094 738h6v6h-6z"/><path fill="#e87438" d="M1065 355h5v6h-5zM1070 361h6v6h-6zM1076 367h6v6h-6zM1082 373h6v6h-6zM1088 379h6v6h-6zM1094 385h6v6h-6zM1100 391h6v6h-6zM1106 397h6v6h-6zM1112 403h6v6h-6zM1118 409h6v6h-6zM1124 415h6v6h-6zM1130 421h6v6h-6zM1136 427h6v6h-6zM1142 433h6v6h-6zM1148 439h6v6h-6zM1154 445h6v6h-6zM969 451h6v5h-6zM975 456h6v6h-6zM981 462h6v6h-6zM987 468h6v6h-6zM993 474h6v6h-6zM999 480h6v6h-6zM1005 486h6v6h-6zM1011 492h6v6h-6zM1017 498h6v6h-6zM1023 504h6v6h-6zM1029 510h6v6h-6zM1035 516h6v6h-6zM1196 516h6v6h-6zM1041 522h6v6h-6zM1202 522h6v6h-6zM1047 528h6v6h-6zM1208 528h6v6h-6zM1053 534h6v6h-6zM1059 540h6v6h-6zM1130 582h6v6h-6zM1136 588h6v6h-6zM1142 594h6v6h-6z"/><path fill="#e47438" d="M1065 361h5v6h-5zM1070 367h6v6h-6zM1076 373h6v6h-6zM1082 379h6v6h-6zM1088 385h6v6h-6zM1094 391h6v6h-6zM1100 397h6v6h-6zM1106 403h6v6h-6zM1112 409h6v6h-6zM1118 415h6v6h-6zM1124 421h6v6h-6zM1130 427h6v6h-6zM1136 433h6v6h-6zM1142 439h6v6h-6zM1148 445h6v6h-6zM975 451h6v5h-6zM981 456h6v6h-6zM987 462h6v6h-6zM993 468h6v6h-6zM1130 468h6v6h-6zM999 474h6v6h-6zM1136 474h6v6h-6zM1005 480h6v6h-6zM1142 480h6v6h-6zM1011 486h6v6h-6zM1148 486h6v6h-6zM1017 492h6v6h-6zM1154 492h6v6h-6zM1023 498h6v6h-6zM1160 498h6v6h-6zM1029 504h6v6h-6zM1166 504h6v6h-6zM1035 510h6v6h-6zM1172 510h6v6h-6zM1041 516h6v6h-6zM1082 516h6v6h-6zM1047 522h6v6h-6zM1088 522h6v6h-6zM1053 528h6v6h-6zM1094 528h6v6h-6zM1059 534h6v6h-6zM1100 534h6v6h-6zM1106 540h6v6h-6zM1214 540h6v6h-6zM1112 546h6v6h-6zM1118 552h6v6h-6zM1124 558h6v6h-6zM1154 600h6v6h-6z"/><path fill="#e47038" d="M1065 367h5v6h-5zM1070 373h6v6h-6zM1076 379h6v6h-6zM1082 385h6v6h-6zM1088 391h6v6h-6zM1094 397h6v6h-6zM1100 403h6v6h-6zM1106 409h6v6h-6zM1112 415h6v6h-6zM1118 421h6v6h-6zM1124 427h6v6h-6zM1130 433h6v6h-6zM1136 439h6v6h-6zM1142 445h6v6h-6zM981 451h6v5h-6zM1118 451h12v5h-12zM987 456h6v6h-6zM1124 456h6v6h-6zM993 462h6v6h-6zM999 468h6v6h-6zM1005 474h6v6h-6zM1130 474h6v6h-6zM1011 480h6v6h-6zM1136 480h6v6h-6zM1017 486h6v6h-6zM1142 486h6v6h-6zM1023 492h6v6h-6zM1148 492h6v6h-6zM1029 498h6v6h-6zM1154 498h6v6h-6zM1035 504h6v6h-6zM1065 504h5v6h-5zM1160 504h6v6h-6zM1041 510h6v6h-6zM1065 510h11v6h-11zM1166 510h6v6h-6zM1047 516h6v6h-6zM1088 516h6v6h-6zM1184 516h12v6h-12zM1053 522h6v6h-6zM1094 522h6v6h-6zM1190 522h12v6h-12zM1059 528h6v6h-6zM1100 528h6v6h-6zM1196 528h12v6h-12zM1106 534h6v6h-6zM1202 534h12v6h-12zM1112 540h6v6h-6zM1208 540h6v6h-6zM1118 546h6v6h-6zM1214 546h6v6h-6zM1124 552h6v6h-6zM1130 570h6v6h-6zM1130 576h12v6h-12zM1136 582h12v6h-12zM1142 588h12v6h-12zM1148 594h12v6h-12zM1160 600h6v6h-6zM1244 600h6v6h-6zM1250 606h6v6h-6zM1256 612h6v6h-6zM1262 618h6v6h-6zM1268 624h6v6h-6zM1214 630h6v6h-6zM1274 630h6v6h-6zM1220 636h6v6h-6zM1280 636h6v6h-6zM1226 642h6v6h-6zM1286 642h6v6h-6zM1232 648h6v6h-6zM1292 648h6v6h-6zM1238 654h6v6h-6zM1298 654h6v6h-6zM1244 660h6v6h-6zM1304 660h6v6h-6zM1250 666h6v6h-6zM1310 666h6v6h-6zM1256 672h6v6h-6zM1316 672h6v6h-6zM1262 678h6v6h-6zM1322 678h6v6h-6zM1268 684h6v6h-6zM1328 684h6v6h-6zM1274 690h6v6h-6zM1334 690h6v6h-6zM1280 696h6v6h-6zM1340 696h6v6h-6zM1286 702h6v6h-6zM1346 702h6v6h-6zM1292 708h6v6h-6zM1352 708h6v6h-6zM1298 714h6v6h-6zM1304 720h6v6h-6zM1310 726h6v6h-6zM1316 732h6v6h-6zM1322 738h6v6h-6z"/><path fill="#701010" d="M1011 373h6v6h-6zM987 397h6v6h-6zM1220 606h6v6h-6zM1226 612h6v6h-6zM1232 618h6v6h-6zM1238 624h6v6h-6zM1244 630h6v6h-6zM1250 636h6v6h-6zM1256 642h6v6h-6zM1262 648h6v6h-6zM1268 654h6v6h-6zM1274 660h6v6h-6zM1280 666h6v6h-6zM1286 672h6v6h-6zM1292 678h6v6h-6zM1298 684h6v6h-6zM1304 690h6v6h-6zM1310 696h6v6h-6zM1316 702h6v6h-6zM1322 708h6v6h-6zM1328 714h6v6h-6zM1334 720h6v6h-6zM1340 726h6v6h-6zM1346 732h6v6h-6zM1352 738h6v6h-6z"/><path fill="#d44c2c" d="M1065 421h5v6h-5zM1070 427h6v6h-6zM1035 451h6v5h-6zM1041 456h6v6h-6zM1214 576h6v6h-6zM1190 600h6v6h-6z"/><path fill="#781010" d="M1059 433h6v6h-6zM1047 445h6v6h-6z"/><path fill="#c03420" d="M1065 433h5v6h-5zM1070 439h6v6h-6zM1076 445h6v6h-6zM1047 451h6v5h-6zM1053 456h6v6h-6zM1059 462h6v6h-6z"/><path fill="#ec8844" d="M1214 439h6v6h-6zM1053 600h6v6h-6zM1268 600h6v6h-6zM1274 606h6v6h-6zM1280 612h6v6h-6zM1286 618h6v6h-6zM1292 624h6v6h-6zM1298 630h6v6h-6zM1304 636h6v6h-6zM1310 642h6v6h-6zM1316 648h6v6h-6zM1214 654h6v6h-6zM1322 654h6v6h-6zM1220 660h6v6h-6zM1328 660h6v6h-6zM1226 666h6v6h-6zM1334 666h6v6h-6zM1232 672h6v6h-6zM1340 672h6v6h-6zM1238 678h6v6h-6zM1346 678h6v6h-6zM1244 684h6v6h-6zM1352 684h6v6h-6zM1250 690h6v6h-6zM1256 696h6v6h-6zM1262 702h6v6h-6zM1268 708h6v6h-6zM1274 714h6v6h-6zM1280 720h6v6h-6zM1286 726h6v6h-6zM1292 732h6v6h-6zM1298 738h6v6h-6z"/><path fill="#f0b860" d="M1220 439h6v6h-6zM1220 445h12v6h-12zM1226 451h12v5h-12zM1232 456h12v6h-12zM1238 462h12v6h-12zM1244 468h12v6h-12zM1250 474h12v6h-12zM1256 480h12v6h-12zM1262 486h12v6h-12zM1268 492h12v6h-12zM1274 498h12v6h-12zM1280 504h12v6h-12zM1286 510h12v6h-12zM1292 516h12v6h-12zM1298 522h12v6h-12zM1304 528h12v6h-12zM1310 534h12v6h-12zM1316 540h12v6h-12zM1322 546h12v6h-12zM1328 552h12v6h-12zM1334 558h12v6h-12zM1340 564h12v6h-12zM1346 570h12v6h-12zM1352 576h6v6h-6zM1053 606h12v6h-12zM1059 612h11v6h-11zM1065 618h11v6h-11zM1070 624h12v6h-12zM1076 630h12v6h-12zM1082 636h12v6h-12zM1088 642h12v6h-12zM1094 648h12v6h-12zM1100 654h12v6h-12zM1106 660h12v6h-12zM1112 666h12v6h-12zM1118 672h12v6h-12zM1124 678h12v6h-12zM1130 684h12v6h-12zM1136 690h12v6h-12zM1142 696h12v6h-12zM1148 702h12v6h-12zM1154 708h12v6h-12zM1160 714h12v6h-12zM1166 720h12v6h-12zM1172 726h12v6h-12zM1178 732h12v6h-12zM1184 738h12v6h-12z"/><path fill="#a4201c" d="M1070 451h6v5h-6zM1065 456h5v6h-5zM1076 456h6v6h-6zM1070 462h6v6h-6zM1082 462h6v6h-6zM1076 468h6v6h-6zM1088 468h6v6h-6zM1082 474h6v6h-6zM1094 474h6v6h-6zM1088 480h6v6h-6zM1100 480h6v6h-6zM1094 486h6v6h-6zM1106 486h6v6h-6zM1100 492h6v6h-6zM1112 492h6v6h-6zM1106 498h6v6h-6zM1118 498h6v6h-6zM1112 504h6v6h-6zM1124 504h6v6h-6zM1118 510h6v6h-6zM1136 516h6v6h-6zM1130 522h6v6h-6zM1142 522h6v6h-6zM1136 528h6v6h-6zM1148 528h6v6h-6zM1142 534h6v6h-6zM1154 534h6v6h-6zM1148 540h6v6h-6zM1160 540h6v6h-6zM1154 546h6v6h-6zM1166 546h6v6h-6zM1160 552h6v6h-6zM1172 552h6v6h-6zM1166 558h6v6h-6zM1178 558h6v6h-6zM1172 564h6v6h-6zM1184 564h6v6h-6zM1178 570h6v6h-6zM1190 570h6v6h-6zM1184 576h6v6h-6zM1196 576h6v6h-6zM1190 582h6v6h-6zM1202 582h6v6h-6zM1196 588h6v6h-6zM1208 588h6v6h-6zM1202 594h6v6h-6z"/><path fill="#f0b460" d="M1220 451h6v5h-6zM1220 456h12v6h-12zM1220 462h18v6h-18zM1226 468h18v6h-18zM1232 474h18v6h-18zM1238 480h18v6h-18zM1244 486h18v6h-18zM1250 492h18v6h-18zM1256 498h18v6h-18zM1262 504h18v6h-18zM1268 510h18v6h-18zM1274 516h18v6h-18zM1280 522h18v6h-18zM1286 528h18v6h-18zM1292 534h18v6h-18zM1298 540h18v6h-18zM1304 546h18v6h-18zM1310 552h18v6h-18zM1316 558h18v6h-18zM1322 564h18v6h-18zM1328 570h18v6h-18zM1334 576h18v6h-18zM1340 582h18v6h-18zM1346 588h12v6h-12zM1352 594h6v6h-6zM1065 606h17v6h-17zM1070 612h18v6h-18zM1076 618h18v6h-18zM1082 624h18v6h-18zM1088 630h18v6h-18zM1094 636h18v6h-18zM1100 642h18v6h-18zM1106 648h18v6h-18zM1112 654h18v6h-18zM1118 660h18v6h-18zM1124 666h18v6h-18zM1130 672h18v6h-18zM1136 678h18v6h-18zM1142 684h18v6h-18zM1148 690h18v6h-18zM1154 696h18v6h-18zM1160 702h18v6h-18zM1166 708h18v6h-18zM1172 714h18v6h-18zM1178 720h18v6h-18zM1184 726h18v6h-18zM1190 732h18v6h-18zM1196 738h18v6h-18z"/><path fill="#f0b45c" d="M1220 468h6v6h-6zM1220 474h12v6h-12zM1226 480h12v6h-12zM1232 486h12v6h-12zM1238 492h12v6h-12zM1244 498h12v6h-12zM1250 504h12v6h-12zM1256 510h12v6h-12zM1262 516h12v6h-12zM1268 522h12v6h-12zM1274 528h12v6h-12zM1280 534h12v6h-12zM1286 540h12v6h-12zM1292 546h12v6h-12zM1298 552h12v6h-12zM1304 558h12v6h-12zM1310 564h12v6h-12zM1316 570h12v6h-12zM1322 576h12v6h-12zM1328 582h12v6h-12zM1334 588h12v6h-12zM1340 594h12v6h-12zM1082 606h12v6h-12zM1088 612h12v6h-12zM1094 618h12v6h-12zM1100 624h12v6h-12zM1106 630h12v6h-12zM1112 636h12v6h-12zM1118 642h12v6h-12zM1124 648h12v6h-12zM1130 654h12v6h-12zM1136 660h12v6h-12zM1142 666h12v6h-12zM1148 672h12v6h-12zM1154 678h12v6h-12zM1160 684h12v6h-12zM1166 690h12v6h-12zM1172 696h12v6h-12zM1178 702h12v6h-12zM1184 708h12v6h-12zM1190 714h12v6h-12zM1196 720h12v6h-12zM1202 726h12v6h-12zM1208 732h6v6h-6z"/><path fill="#f0b05c" d="M1220 480h6v6h-6zM1220 486h12v6h-12zM1220 492h18v6h-18zM1226 498h18v6h-18zM1232 504h18v6h-18zM1238 510h18v6h-18zM1244 516h18v6h-18zM1250 522h18v6h-18zM1256 528h18v6h-18zM1262 534h18v6h-18zM1268 540h18v6h-18zM1274 546h18v6h-18zM1280 552h18v6h-18zM1286 558h18v6h-18zM1292 564h18v6h-18zM1298 570h18v6h-18zM1304 576h18v6h-18zM1310 582h18v6h-18zM1316 588h18v6h-18zM1322 594h18v6h-18zM1094 606h18v6h-18zM1100 612h18v6h-18zM1106 618h18v6h-18zM1112 624h18v6h-18zM1118 630h18v6h-18zM1124 636h18v6h-18zM1130 642h18v6h-18zM1136 648h18v6h-18zM1142 654h18v6h-18zM1148 660h18v6h-18zM1154 666h18v6h-18zM1160 672h18v6h-18zM1166 678h18v6h-18zM1172 684h18v6h-18zM1178 690h18v6h-18zM1184 696h18v6h-18zM1190 702h18v6h-18zM1196 708h18v6h-18zM1202 714h12v6h-12zM1208 720h6v6h-6z"/><path fill="#f0b058" d="M1220 498h6v6h-6zM1226 504h6v6h-6zM1232 510h6v6h-6zM1238 516h6v6h-6zM1244 522h6v6h-6zM1250 528h6v6h-6zM1256 534h6v6h-6zM1262 540h6v6h-6zM1268 546h6v6h-6zM1274 552h6v6h-6zM1280 558h6v6h-6zM1286 564h6v6h-6zM1292 570h6v6h-6zM1298 576h6v6h-6zM1304 582h6v6h-6zM1310 588h6v6h-6zM1316 594h6v6h-6zM1352 600h6v6h-6zM1112 606h6v6h-6zM1118 612h6v6h-6zM1124 618h6v6h-6zM1130 624h6v6h-6zM1136 630h6v6h-6zM1142 636h6v6h-6zM1148 642h6v6h-6zM1154 648h6v6h-6zM1160 654h6v6h-6zM1166 660h6v6h-6zM1172 666h6v6h-6zM1178 672h6v6h-6zM1184 678h6v6h-6zM1190 684h6v6h-6zM1196 690h6v6h-6zM1202 696h6v6h-6zM1208 702h6v6h-6zM1214 738h6v6h-6z"/><path fill="#f0ac58" d="M1220 504h6v6h-6zM1220 510h12v6h-12zM1226 516h12v6h-12zM1232 522h12v6h-12zM1238 528h12v6h-12zM1244 534h12v6h-12zM1250 540h12v6h-12zM1256 546h12v6h-12zM1262 552h12v6h-12zM1268 558h12v6h-12zM1274 564h12v6h-12zM1280 570h12v6h-12zM1286 576h12v6h-12zM1292 582h12v6h-12zM1298 588h12v6h-12zM1304 594h12v6h-12zM1340 600h12v6h-12zM1118 606h12v6h-12zM1346 606h12v6h-12zM1124 612h12v6h-12zM1352 612h6v6h-6zM1130 618h12v6h-12zM1136 624h12v6h-12zM1142 630h12v6h-12zM1148 636h12v6h-12zM1154 642h12v6h-12zM1160 648h12v6h-12zM1166 654h12v6h-12zM1172 660h12v6h-12zM1178 666h12v6h-12zM1184 672h12v6h-12zM1190 678h12v6h-12zM1196 684h12v6h-12zM1202 690h12v6h-12zM1208 696h6v6h-6zM1214 726h6v6h-6zM1214 732h12v6h-12zM1220 738h12v6h-12z"/><path fill="#f0ac54" d="M1220 516h6v6h-6zM1226 522h6v6h-6zM1232 528h6v6h-6zM1238 534h6v6h-6zM1244 540h6v6h-6zM1250 546h6v6h-6zM1256 552h6v6h-6zM1262 558h6v6h-6zM1268 564h6v6h-6zM1274 570h6v6h-6zM1280 576h6v6h-6zM1286 582h6v6h-6zM1292 588h6v6h-6zM1298 594h6v6h-6zM1334 600h6v6h-6zM1130 606h6v6h-6zM1340 606h6v6h-6zM1136 612h6v6h-6zM1346 612h6v6h-6zM1142 618h6v6h-6zM1352 618h6v6h-6zM1148 624h6v6h-6zM1154 630h6v6h-6zM1160 636h6v6h-6zM1166 642h6v6h-6zM1172 648h6v6h-6zM1178 654h6v6h-6zM1184 660h6v6h-6zM1190 666h6v6h-6zM1196 672h6v6h-6zM1202 678h6v6h-6zM1208 684h6v6h-6zM1214 720h6v6h-6zM1220 726h6v6h-6zM1226 732h6v6h-6zM1232 738h6v6h-6z"/><path fill="#8c1814" d="M1214 594h6v6h-6zM1208 600h6v6h-6z"/></g>
<rect x="794.0" y="169" width="2" height="575" fill="#fff" fill-opacity="0.7"/><rect x="783" y="180.0" width="575" height="2" fill="#fff" fill-opacity="0.7"/><rect x="796.5" y="169" width="3" height="575" fill="#fff" fill-opacity="0.6"/><rect x="783" y="182.5" width="575" height="3" fill="#fff" fill-opacity="0.6"/><rect x="813.8" y="169" width="2.5" height="575" fill="#fff" fill-opacity="0.75"/><rect x="783" y="199.8" width="575" height="2.5" fill="#fff" fill-opacity="0.75"/><rect x="842.0" y="169" width="2" height="575" fill="#fff" fill-opacity="0.7"/><rect x="783" y="228.0" width="575" height="2" fill="#fff" fill-opacity="0.7"/><rect x="849.0" y="169" width="2" height="575" fill="#fff" fill-opacity="0.7"/><rect x="783" y="235.0" width="575" height="2" fill="#fff" fill-opacity="0.7"/><rect x="852.0" y="169" width="2" height="575" fill="#fff" fill-opacity="0.6"/><rect x="783" y="238.0" width="575" height="2" fill="#fff" fill-opacity="0.6"/><rect x="858.0" y="169" width="2" height="575" fill="#fff" fill-opacity="0.7"/><rect x="783" y="244.0" width="575" height="2" fill="#fff" fill-opacity="0.7"/><rect x="861.0" y="169" width="2" height="575" fill="#fff" fill-opacity="0.6"/><rect x="783" y="247.0" width="575" height="2" fill="#fff" fill-opacity="0.6"/><rect x="865.0" y="169" width="2" height="575" fill="#fff" fill-opacity="0.6"/><rect x="783" y="251.0" width="575" height="2" fill="#fff" fill-opacity="0.6"/><rect x="873.8" y="169" width="2.5" height="575" fill="#fff" fill-opacity="0.75"/><rect x="783" y="259.8" width="575" height="2.5" fill="#fff" fill-opacity="0.75"/><rect x="882.0" y="169" width="2" height="575" fill="#fff" fill-opacity="0.6"/><rect x="783" y="268.0" width="575" height="2" fill="#fff" fill-opacity="0.6"/><rect x="893.8" y="169" width="2.5" height="575" fill="#fff" fill-opacity="0.75"/><rect x="783" y="279.8" width="575" height="2.5" fill="#fff" fill-opacity="0.75"/><rect x="899.0" y="169" width="2" height="575" fill="#fff" fill-opacity="0.7"/><rect x="783" y="285.0" width="575" height="2" fill="#fff" fill-opacity="0.7"/><rect x="925.8" y="169" width="2.5" height="575" fill="#fff" fill-opacity="0.8"/><rect x="783" y="311.8" width="575" height="2.5" fill="#fff" fill-opacity="0.8"/><rect x="1014.8" y="169" width="2.5" height="575" fill="#fff" fill-opacity="0.8"/><rect x="783" y="400.8" width="575" height="2.5" fill="#fff" fill-opacity="0.8"/><rect x="1048.5" y="169" width="5" height="575" fill="#fff" fill-opacity="0.45"/><rect x="783" y="434.5" width="575" height="5" fill="#fff" fill-opacity="0.45"/><rect x="1057.8" y="169" width="2.5" height="575" fill="#fff" fill-opacity="0.7"/><rect x="783" y="443.8" width="575" height="2.5" fill="#fff" fill-opacity="0.7"/><rect x="1119.8" y="169" width="2.5" height="575" fill="#fff" fill-opacity="0.8"/><rect x="783" y="505.8" width="575" height="2.5" fill="#fff" fill-opacity="0.8"/><rect x="1129.5" y="169" width="3" height="575" fill="#fff" fill-opacity="0.85"/><rect x="783" y="515.5" width="575" height="3" fill="#fff" fill-opacity="0.85"/><rect x="1254.2" y="169" width="2.5" height="575" fill="#fff" fill-opacity="0.8"/><rect x="783" y="640.2" width="575" height="2.5" fill="#fff" fill-opacity="0.8"/><rect x="1309.8" y="169" width="2.5" height="575" fill="#fff" fill-opacity="0.7"/><rect x="783" y="695.8" width="575" height="2.5" fill="#fff" fill-opacity="0.7"/>
<rect x="783" y="169" width="575" height="575" fill="none" stroke="#1a1212" stroke-width="2"/>
<line x1="1005.8" y1="293.9" x2="985.7" y2="314.2" stroke="#000" stroke-width="5.5"/>
<path d="M973.0 327.0L980.3 306.1L993.8 319.5Z" fill="#000"/>
<line x1="1075.8" y1="370.7" x2="1055.7" y2="391.0" stroke="#000" stroke-width="5.5"/>
<path d="M1043.0 403.8L1050.3 382.9L1063.8 396.3Z" fill="#000"/>
<line x1="1127.8" y1="424.6" x2="1107.7" y2="445.0" stroke="#000" stroke-width="5.5"/>
<path d="M1095.0 457.8L1102.3 436.9L1115.8 450.2Z" fill="#000"/>
<line x1="1254.9" y1="557.7" x2="1234.4" y2="578.2" stroke="#000" stroke-width="5.5"/>
<path d="M1221.7 590.9L1229.1 570.0L1242.6 583.5Z" fill="#000"/>
</svg>
</body></html>
